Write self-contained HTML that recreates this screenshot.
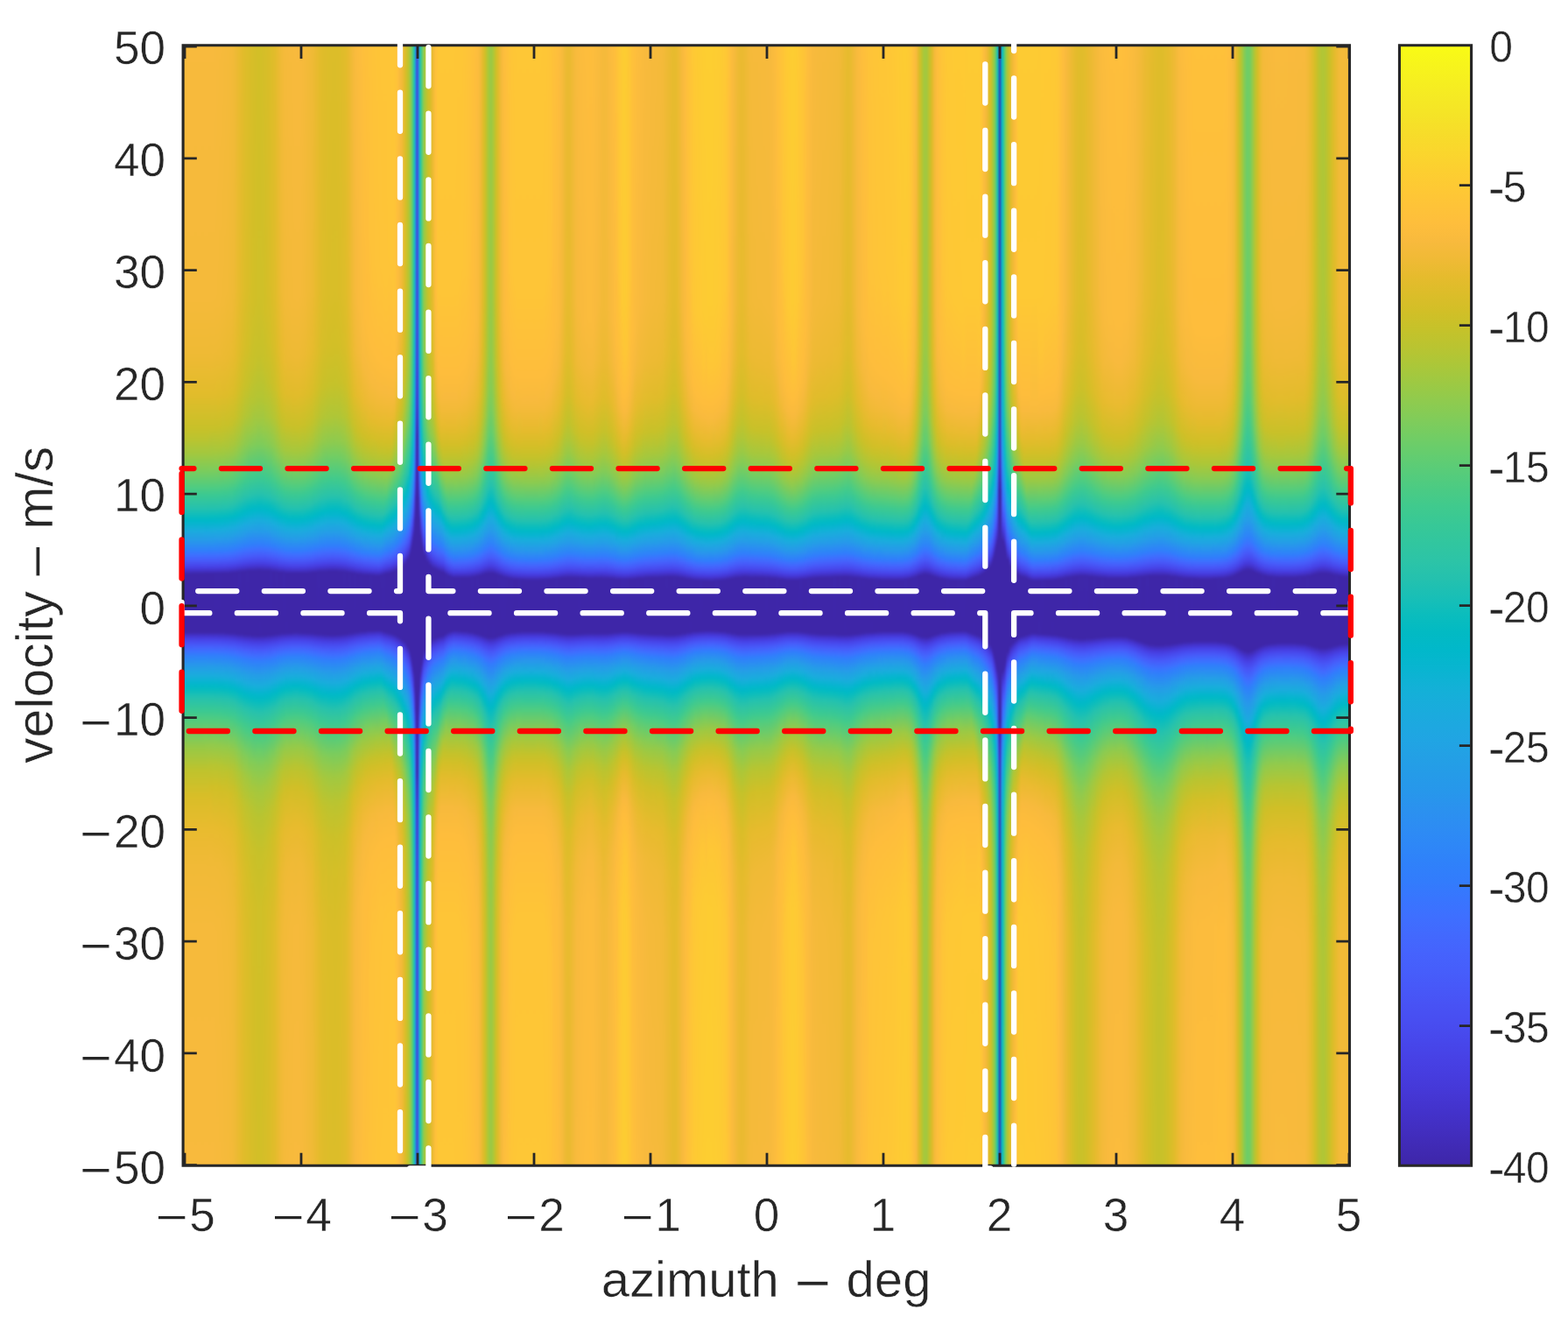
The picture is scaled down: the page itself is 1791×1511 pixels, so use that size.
<!DOCTYPE html>
<html lang="en"><head><meta charset="utf-8"><title>velocity vs azimuth</title>
<style>
html,body{margin:0;padding:0;background:#fff}
#fig{position:relative;width:1791px;height:1511px;overflow:hidden;background:#fff}
#hmc{position:absolute;overflow:hidden}
#hm{position:absolute;display:flex;filter:blur(1px)}
#hm i{display:block;height:100%;flex:none}
#hm .w{width:3px}
#hm .n{width:1px}
#cb{position:absolute;left:1598.45px;top:51.7px;width:82.15px;height:1279.5px;background:linear-gradient(#f9fb15 0.00%,#f7f51b 1.59%,#f6ef20 3.17%,#f5e924 4.76%,#f5e327 6.35%,#f7dc2a 7.94%,#fad62d 9.52%,#fccf30 11.11%,#fec934 12.70%,#fec338 14.29%,#febe3c 15.87%,#f8ba3d 17.46%,#f0ba36 19.05%,#e6bb2d 20.63%,#dcbd29 22.22%,#d1bf27 23.81%,#c5c22a 25.40%,#b9c431 26.98%,#abc739 28.57%,#9dc943 30.16%,#8fcb4e 31.75%,#81cc59 33.33%,#72cd64 34.92%,#64cd6f 36.51%,#57cc7a 38.10%,#4acb84 39.68%,#3fca8e 41.27%,#37c897 42.86%,#31c69f 44.44%,#2cc4a7 46.03%,#24c1ae 47.62%,#19bfb6 49.21%,#0bbdbd 50.79%,#02bac3 52.38%,#01b8ca 53.97%,#08b5d0 55.56%,#12b1d6 57.14%,#18addb 58.73%,#1ca9df 60.32%,#20a5e3 61.90%,#23a0e5 63.49%,#259be8 65.08%,#2797eb 66.67%,#2b91ef 68.25%,#2d8cf3 69.84%,#2e87f7 71.43%,#2f81fa 73.02%,#327cfc 74.60%,#3875fe 76.19%,#3e6fff 77.78%,#4269fe 79.37%,#4563fd 80.95%,#465efb 82.54%,#4758f8 84.13%,#4852f4 85.71%,#484df0 87.30%,#4747eb 88.89%,#4741e5 90.48%,#463cde 92.06%,#4537d5 93.65%,#4332cb 95.24%,#422ec0 96.83%,#402ab4 98.41%,#3e26a8 100.00%)}
#ov{position:absolute;left:0;top:0}
text{font-family:"Liberation Sans",Arial,Helvetica,sans-serif;fill:#262626;stroke:#fff;stroke-width:.5px;white-space:pre}
</style></head>
<body>
<div id="fig">
<div id="hmc" style="left:209px;top:52px;width:1333px;height:1279px"><div id="hm" style="left:-4px;top:-4px;width:1341px;height:1287px"><i style="width:7px;background:linear-gradient(#f8ba3d 0,#f5ba3a 294px,#efba35 355px,#e2bc2b 402px,#c8c129 441px,#bac430 454px,#a2c83f 470px,#7acc5d 490px,#4ecc82 509px,#3cc991 517px,#26c2ad 532px,#01bac5 545px,#02b7cb 548px,#1aacdd 558px,#259ce7 568px,#307ffb 581px,#3e70ff 586px,#475cfa 592px,#4744e8 599px,#4538d8 602px,#3e26a8 608px,#3e26a8 623px,#3e26a8 674px,#4536d5 679px,#4746ea 683px,#4757f8 688px,#3c71ff 696px,#2f80fa 701px,#259de7 714px,#19addc 724px,#07b5d0 731px,#01b9c6 736px,#08bcbe 740px,#25c2ae 749px,#3bc992 764px,#4fcc80 773px,#98c946 806px,#bfc32d 832px,#d9be28 862px,#e9bb2f 899px,#f1ba37 941px,#f6ba3b 1009px,#f8ba3d 100%)"></i><i class="w" style="background:linear-gradient(#f8ba3d 0,#f5ba3a 294px,#efba35 355px,#e2bc2b 402px,#c8c129 441px,#bac430 454px,#a2c83f 470px,#7acc5d 490px,#4ecc82 509px,#3cc991 517px,#26c2ad 532px,#01bac5 545px,#02b7cb 548px,#1aacdd 558px,#259ce7 568px,#307ffb 581px,#3e70ff 586px,#475cfa 592px,#4744e8 599px,#4538d8 602px,#3e26a8 608px,#3e26a8 623px,#3e26a8 674px,#4536d5 679px,#4746ea 683px,#4757f8 688px,#3c71ff 696px,#2f80fa 701px,#259de7 714px,#19addc 724px,#07b5d0 731px,#01b9c6 736px,#08bcbe 740px,#25c2ae 749px,#3bc992 764px,#4fcc80 773px,#98c946 806px,#bfc32d 832px,#d9be28 862px,#e9bb2f 899px,#f1ba37 941px,#f6ba3b 1009px,#f8ba3d 100%)"></i><i class="w" style="background:linear-gradient(#f8ba3d 0,#f5ba3a 294px,#efba35 355px,#e2bc2b 402px,#c8c129 441px,#bac430 454px,#a2c83f 470px,#7acc5d 490px,#4ecc82 509px,#3cc991 517px,#26c2ad 532px,#01bac5 545px,#02b7cb 548px,#1aacdd 558px,#259ce7 568px,#307ffb 581px,#3e70ff 586px,#475cfa 592px,#4744e8 599px,#4538d8 602px,#3e26a8 608px,#3e26a8 623px,#3e26a8 674px,#4536d5 679px,#4746ea 683px,#4757f8 688px,#3c71ff 696px,#2f80fa 701px,#259de7 714px,#19addc 724px,#07b5d0 731px,#01b9c6 736px,#08bcbe 740px,#25c2ae 749px,#3bc992 764px,#4fcc80 773px,#98c946 806px,#bfc32d 832px,#d9be28 862px,#e9bb2f 899px,#f1ba37 941px,#f6ba3b 1009px,#f8ba3d 100%)"></i><i class="w" style="background:linear-gradient(#f8ba3d 0,#f5ba3a 294px,#efba35 355px,#e2bc2b 402px,#c8c129 441px,#bac430 454px,#a2c83f 470px,#7acc5d 490px,#4ecc82 509px,#3cc991 517px,#26c2ad 532px,#01bac5 545px,#02b7cb 548px,#1aacdd 558px,#259ce7 568px,#307ffb 581px,#3e70ff 586px,#475cfa 592px,#4744e8 599px,#4538d8 602px,#3e28ac 607px,#3e26a8 608px,#3e26a8 623px,#3e26a8 674px,#4536d5 679px,#4746ea 683px,#4757f8 688px,#3c71ff 696px,#2f80fa 701px,#259de7 714px,#19addc 724px,#07b5d0 731px,#01b9c6 736px,#08bcbe 740px,#25c2ae 749px,#3bc992 764px,#4fcc80 773px,#98c946 806px,#bfc32d 832px,#d9be28 862px,#e9bb2f 899px,#f1ba37 941px,#f6ba3b 1009px,#f8ba3d 100%)"></i><i class="w" style="background:linear-gradient(#f8ba3d 0,#f5ba3a 294px,#efba35 355px,#e2bc2b 402px,#c8c129 441px,#bac430 454px,#a2c83f 470px,#7acc5d 490px,#4ecc82 509px,#3cc991 517px,#26c2ad 532px,#01bac5 545px,#02b7cb 548px,#1aacdd 558px,#259ce7 568px,#307ffb 581px,#3e70ff 586px,#475cfa 592px,#4743e8 599px,#4538d8 602px,#3e28ac 607px,#3e26a8 608px,#3e26a8 623px,#3e26a8 674px,#4433cd 678px,#4746ea 683px,#465efb 690px,#3c71ff 696px,#2f80fa 701px,#259de7 714px,#19addc 724px,#07b5d0 731px,#01b9c6 736px,#08bcbe 740px,#25c2ae 749px,#3bc992 764px,#4fcc80 773px,#98c946 806px,#bfc32d 832px,#d9be28 862px,#e9bb2f 899px,#f1ba37 941px,#f6ba3b 1009px,#f8ba3d 100%)"></i><i class="w" style="background:linear-gradient(#f8ba3d 0,#f5ba3a 294px,#efba35 355px,#e2bc2b 402px,#c8c129 441px,#bac430 454px,#a2c83f 470px,#7acc5d 490px,#4ecc82 509px,#3cc991 517px,#26c2ad 532px,#01bac5 545px,#02b7cb 548px,#1aacdd 558px,#259ce7 568px,#307ffb 581px,#3e70ff 586px,#475cfa 592px,#4743e8 599px,#4538d8 602px,#3e28ac 607px,#3e26a8 608px,#3e26a8 623px,#3e26a8 674px,#4433cd 678px,#4745ea 683px,#465efb 690px,#3c71ff 696px,#2e83f9 702px,#259de7 714px,#19addc 724px,#07b5d0 731px,#01b9c6 736px,#08bcbe 740px,#25c2ae 749px,#3bc992 764px,#4fcc80 773px,#98c946 806px,#bfc32d 832px,#d9be28 862px,#e9bb2f 899px,#f1ba37 941px,#f6ba3b 1009px,#f8ba3d 100%)"></i><i class="w" style="background:linear-gradient(#f8ba3d 0,#f5ba3a 294px,#efba35 355px,#e2bc2b 402px,#c8c129 441px,#bac430 454px,#a2c83f 470px,#7acc5d 490px,#4ecc82 509px,#3cc991 517px,#26c2ad 532px,#01bac5 545px,#02b7cb 548px,#1aacdd 558px,#259ce7 568px,#307ffb 581px,#3e70ff 586px,#475cfa 592px,#4743e8 599px,#4538d8 602px,#3e28ac 607px,#3e26a8 608px,#3e26a8 623px,#3e26a8 674px,#4536d4 679px,#4745ea 683px,#465efb 690px,#3c71ff 696px,#2e83f9 702px,#259de7 714px,#19addc 724px,#07b5d0 731px,#01b9c6 736px,#08bcbe 740px,#25c2ae 749px,#3bc992 764px,#4fcc80 773px,#98c946 806px,#bfc32d 832px,#d9be28 862px,#e9bb2f 899px,#f1ba37 941px,#f6ba3b 1009px,#f8ba3d 100%)"></i><i class="w" style="background:linear-gradient(#f8ba3d 0,#f5ba3a 294px,#efba35 355px,#e2bc2b 402px,#c8c129 441px,#bac430 454px,#a2c83f 470px,#7acc5d 490px,#4ecc82 509px,#3cc991 517px,#26c2ad 532px,#01bac5 545px,#02b7cb 548px,#1aacdd 558px,#259ce7 568px,#307ffb 581px,#3e6fff 586px,#475cfa 592px,#484bef 597px,#4538d8 602px,#3e28ac 607px,#3e26a8 608px,#3e26a8 623px,#3e26a8 674px,#4536d4 679px,#4745ea 683px,#465efb 690px,#3c71ff 696px,#2e83f9 702px,#259de7 714px,#19addc 724px,#07b5d0 731px,#01b9c6 736px,#08bcbe 740px,#25c2ae 749px,#3bc992 764px,#4fcc80 773px,#98c946 806px,#bfc32d 832px,#d9be28 862px,#e9bb2f 899px,#f1ba37 941px,#f6ba3b 1009px,#f8ba3d 100%)"></i><i class="w" style="background:linear-gradient(#f8ba3d 0,#f5ba3a 294px,#efba35 355px,#e2bc2b 402px,#c8c129 441px,#bac430 454px,#a2c83f 470px,#7acc5d 490px,#4ecc82 509px,#3cc991 517px,#26c2ad 532px,#01bac5 545px,#02b7cb 548px,#1ca9e0 560px,#259ce7 568px,#307ffb 581px,#3e6fff 586px,#475cfa 592px,#484bef 597px,#463cde 601px,#3e27ac 607px,#3e26a8 608px,#3e26a8 623px,#3e26a8 674px,#463adb 680px,#4849ed 684px,#465efb 690px,#3c71ff 696px,#2e83f9 702px,#259de7 714px,#19addc 724px,#07b5d0 731px,#01b9c6 736px,#08bcbe 740px,#25c2ae 749px,#3bc992 764px,#4fcc81 773px,#72cd63 788px,#98c946 806px,#bfc32d 832px,#d9be28 862px,#e9bb2f 899px,#f1ba37 941px,#f6ba3b 1009px,#f8ba3d 100%)"></i><i class="w" style="background:linear-gradient(#f8ba3d 0,#f5ba3a 294px,#efba35 355px,#e2bc2b 402px,#c8c129 441px,#bac430 454px,#a2c83f 470px,#7acc5d 490px,#4ecc82 509px,#3cc991 517px,#23c1af 533px,#01bac5 545px,#02b7cb 548px,#1ca9e0 560px,#259ce7 568px,#307efb 581px,#3e6fff 586px,#475cfa 592px,#4747eb 598px,#463bde 601px,#3e27ac 607px,#3e26a8 608px,#3e26a8 623px,#3e26a8 674px,#463adb 680px,#4849ed 684px,#465efb 690px,#3c71ff 696px,#317dfc 700px,#269be8 713px,#19addc 724px,#07b5d0 731px,#01b9c6 736px,#08bcbf 740px,#25c2ae 749px,#3bc992 764px,#4fcc81 773px,#95ca49 804px,#bfc32d 832px,#d9be28 862px,#e9bb2f 899px,#f1ba37 942px,#f6ba3b 1009px,#f8ba3d 100%)"></i><i class="w" style="background:linear-gradient(#f8ba3d 0,#f5ba3a 294px,#eeba34 360px,#e2bc2b 402px,#c8c129 441px,#a2c83f 470px,#7dcc5c 489px,#4dcc82 509px,#3ac993 518px,#23c1af 533px,#09bdbe 541px,#01bac5 545px,#02b7cb 548px,#1aacdd 558px,#269ae9 569px,#307efb 581px,#3e6fff 586px,#475cfa 592px,#4747eb 598px,#4538d7 602px,#3e27ac 607px,#3e26a8 608px,#3e26a8 623px,#3e26a8 674px,#4536d4 679px,#4849ed 684px,#465efb 690px,#3d71ff 696px,#317dfc 700px,#269be8 713px,#19addc 724px,#07b5d0 731px,#01b9c6 736px,#08bcbf 740px,#22c1b0 748px,#3bc992 764px,#4fcc81 773px,#91ca4c 802px,#b8c431 826px,#d0bf27 850px,#dcbd29 867px,#e8bb2e 896px,#f0ba36 933px,#f6ba3b 1009px,#f8ba3d 100%)"></i><i class="w" style="background:linear-gradient(#f8ba3d 0,#f5ba3a 292px,#efba35 354px,#e1bc2b 404px,#c8c129 441px,#a3c83e 469px,#7fcc5a 488px,#4dcc82 509px,#3fca8e 515px,#23c1af 533px,#09bdbe 541px,#01bac5 545px,#02b7cb 548px,#1aacdd 558px,#2798ea 570px,#2f81fa 580px,#3e6fff 586px,#475cfa 592px,#4747eb 598px,#4538d7 602px,#3e27ab 607px,#3e26a8 608px,#3e26a8 623px,#3e26a8 674px,#4639da 680px,#4849ed 684px,#465dfb 690px,#3d71ff 696px,#317dfc 700px,#2699ea 712px,#1babde 723px,#05b6ce 732px,#01b9c6 736px,#05bbc1 739px,#22c1b0 748px,#3bc992 764px,#4ecc81 773px,#91ca4d 802px,#b7c531 826px,#d0bf27 850px,#e8bb2e 896px,#f1ba37 942px,#f6ba3b 1012px,#f8ba3d 100%)"></i><i class="w" style="background:linear-gradient(#f7ba3d 0,#f5ba3a 287px,#efba35 352px,#e2bc2b 401px,#c7c129 441px,#a5c83d 468px,#83cc57 486px,#4dcc82 509px,#3dca90 516px,#23c1af 533px,#06bcc0 542px,#01b9c6 545px,#02b7cb 548px,#19addc 557px,#23a1e5 565px,#2f81fa 580px,#3e6fff 586px,#475cfa 592px,#4743e7 599px,#4434cf 603px,#3e27aa 607px,#3e26a8 674px,#4536d3 679px,#4745e9 683px,#475af9 689px,#3d70ff 696px,#317dfc 700px,#23a0e5 716px,#18aedb 725px,#05b6ce 732px,#01b9c7 736px,#0abdbd 741px,#24c1ae 749px,#3eca8f 766px,#4ecc81 773px,#8ecb4e 801px,#b6c532 825px,#d0c027 850px,#e8bb2e 897px,#f1ba37 944px,#f6ba3b 1019px,#f7ba3d 100%)"></i><i class="w" style="background:linear-gradient(#f7ba3c 0,#f4ba39 299px,#eeba34 356px,#debd29 409px,#c8c129 440px,#a9c73a 465px,#86cb54 484px,#4fcc81 508px,#3bc992 517px,#25c2ae 532px,#0bbdbd 540px,#01b9c6 545px,#07b5cf 550px,#19addc 557px,#249fe6 566px,#2f80fa 580px,#3f6eff 586px,#4855f6 594px,#473ee2 600px,#4537d6 602px,#3e27aa 607px,#3e26a8 674px,#4539d9 680px,#4848ec 684px,#475af9 689px,#3d70ff 696px,#307ffb 701px,#249ee6 715px,#1aacdd 724px,#08b4d0 731px,#01b9c7 736px,#07bcbf 740px,#24c1af 749px,#3cc991 765px,#4ecc82 773px,#93ca4a 804px,#b9c430 828px,#d0bf27 851px,#e7bb2d 895px,#f0ba36 938px,#f5ba3a 1002px,#f7ba3c 100%)"></i><i class="w" style="background:linear-gradient(#f7ba3c 0,#f4ba39 290px,#edba33 359px,#e1bc2b 401px,#c8c129 439px,#b8c431 454px,#a3c83e 468px,#88cb53 483px,#4ecc81 508px,#3eca8f 515px,#24c1ae 532px,#0abdbd 540px,#01b9c6 545px,#01b8ca 547px,#1aabde 558px,#269be8 568px,#317dfc 581px,#3f6eff 586px,#465efb 591px,#4742e6 599px,#4537d5 602px,#3e26a9 607px,#3e26a8 674px,#463cdf 681px,#4848ec 684px,#475cfa 690px,#3e6fff 696px,#307ffb 701px,#269ae9 713px,#1aacdd 724px,#02b7cb 734px,#01bac5 737px,#09bcbe 741px,#23c1af 749px,#3dca90 766px,#4fcc80 774px,#93ca4b 804px,#b6c532 826px,#d0bf27 852px,#e7bb2d 897px,#f0ba36 942px,#f5ba3a 1014px,#f7ba3c 100%)"></i><i class="w" style="background:linear-gradient(#f6ba3b 0,#f3ba38 298px,#ecba32 361px,#dfbc2a 404px,#c5c22a 441px,#b7c532 454px,#9fc941 470px,#89cb53 482px,#4dcc82 508px,#3fca8e 514px,#21c1b1 533px,#07bcbf 541px,#01b9c7 545px,#08b4d0 550px,#18aedb 556px,#23a0e5 565px,#317dfc 581px,#3d70ff 585px,#465dfb 591px,#4849ed 597px,#463adb 601px,#3e26a8 607px,#3e26a8 674px,#463cde 681px,#4747eb 684px,#475cfa 690px,#3b72ff 697px,#2f81fa 702px,#249fe6 716px,#19addc 725px,#07b5cf 732px,#01b9c6 737px,#08bcbe 741px,#22c1b0 749px,#3eca8f 767px,#4ecc81 774px,#92ca4c 804px,#b7c531 828px,#d2bf27 855px,#e7bb2d 899px,#f0ba36 947px,#f4ba39 1004px,#f6ba3b 100%)"></i><i class="w" style="background:linear-gradient(#f5ba3b 0,#f3ba38 284px,#ebba31 362px,#dfbc2a 402px,#c8c129 437px,#a8c73b 464px,#7acc5d 488px,#4ecc81 507px,#3bc992 516px,#25c2ae 531px,#0bbdbc 539px,#01b9c6 544px,#07b5cf 549px,#19addc 556px,#269ae9 568px,#307ffb 580px,#3e70ff 585px,#4759f9 592px,#4848ec 597px,#4536d3 602px,#3e26a8 607px,#3e26a8 674px,#3e27ab 675px,#4434cf 679px,#4742e7 683px,#4758f8 689px,#3c71ff 697px,#317dfc 701px,#2699ea 713px,#18aedb 726px,#08b5d0 732px,#01b9c7 737px,#07bcbf 741px,#24c1af 750px,#3fca8e 768px,#4dcc82 774px,#96ca48 807px,#bbc42f 832px,#c8c129 844px,#d7be28 864px,#e7bb2d 902px,#f0ba36 954px,#f4ba39 1024px,#f5ba3b 100%)"></i><i class="w" style="background:linear-gradient(#f5ba3a 0,#f2ba37 288px,#ebba31 357px,#debd29 402px,#c8c129 436px,#a8c73b 463px,#86cb55 482px,#4fcc80 506px,#3dca90 514px,#26c2ad 530px,#07bcbf 540px,#01b9c7 544px,#08b5d0 549px,#18aedb 555px,#269be8 567px,#2f80fa 579px,#3e6fff 585px,#475cfa 591px,#4743e8 598px,#4435d1 602px,#3e26a8 607px,#3e26a8 674px,#3e27a9 675px,#4537d5 680px,#4742e6 683px,#465dfb 691px,#3d70ff 697px,#307ffb 702px,#259ce7 715px,#19addc 726px,#09b4d1 732px,#01b9c6 738px,#0bbdbc 743px,#25c2ae 751px,#3eca8f 768px,#4ecc81 775px,#8fcb4e 804px,#a2c83f 815px,#bdc32e 835px,#d4bf27 861px,#e7bb2d 905px,#eeba35 952px,#f3ba38 1018px,#f5ba3a 100%)"></i><i class="w" style="background:linear-gradient(#f4ba39 0,#f0ba36 305px,#eabb30 356px,#ddbd29 401px,#c5c22a 437px,#a1c840 466px,#74cd62 489px,#44cb8a 510px,#2cc4a7 526px,#1cc0b4 533px,#03bbc2 541px,#01b8c8 544px,#19addc 555px,#259ce7 566px,#317dfc 580px,#3d71ff 584px,#465efb 590px,#484aee 596px,#463bdd 600px,#3e27ac 606px,#3e26a8 607px,#3e26a8 675px,#4536d3 680px,#4848ec 685px,#475cfa 691px,#3b72ff 698px,#2f81fa 703px,#269be8 715px,#1babde 725px,#02b7cb 736px,#01bac5 739px,#09bdbe 743px,#23c1af 751px,#3eca8f 769px,#4ecc81 776px,#94ca4a 808px,#b8c431 832px,#d0bf27 858px,#e5bb2c 903px,#edba34 952px,#f2ba37 1018px,#f4ba39 100%)"></i><i class="w" style="background:linear-gradient(#f1ba37 0,#efba35 280px,#e7bb2d 359px,#dbbd28 399px,#c8c129 430px,#a9c73a 458px,#91ca4d 473px,#4ecc81 504px,#3bc992 513px,#24c1af 529px,#08bcbf 538px,#01b9c6 542px,#01b8ca 544px,#1aacdd 555px,#23a0e5 563px,#2f80fa 578px,#3e6fff 584px,#4756f7 592px,#4745e9 597px,#4536d4 601px,#3e26a9 606px,#3e26a8 675px,#4538d7 681px,#4747eb 685px,#4758f8 690px,#3d71ff 698px,#307ffb 703px,#249fe6 718px,#17aedb 728px,#02b7cb 737px,#01bac5 740px,#09bdbe 744px,#25c2ae 753px,#44cb8a 773px,#7ccc5c 798px,#92ca4c 809px,#aec637 827px,#c8c129 852px,#debd29 890px,#e9bb2f 934px,#efba35 1002px,#f1ba37 100%)"></i><i class="w" style="background:linear-gradient(#edba34 0,#eabb30 298px,#e2bc2b 362px,#d5be28 402px,#c3c22b 430px,#a2c83f 459px,#8fcb4e 471px,#4ecc81 502px,#3dc990 510px,#27c2ac 526px,#07bcbf 537px,#01b9c6 541px,#01b8ca 543px,#1aacdd 554px,#23a0e5 562px,#307ffb 578px,#3d70ff 583px,#4758f8 591px,#4747eb 596px,#4538d8 600px,#3e26a8 606px,#3e26a8 675px,#3e27aa 676px,#4537d5 681px,#4745e9 685px,#4756f7 690px,#4369fe 696px,#3c72ff 699px,#317dfc 703px,#269ae9 716px,#18aedb 729px,#02b7cb 738px,#01b9c6 741px,#28c2ab 756px,#44cb8a 775px,#6fcd65 795px,#8ecb4f 810px,#acc738 830px,#c8c129 858px,#ddbd29 900px,#e7bb2d 949px,#ebba31 1001px,#edba34 100%)"></i><i class="w" style="background:linear-gradient(#e9bb2f 0,#e6bb2d 284px,#dfbc2a 351px,#d3bf27 394px,#bfc32d 427px,#aec637 445px,#9ac945 460px,#7fcc5a 476px,#4fcc80 499px,#3eca8f 507px,#2bc3a8 522px,#01bac6 539px,#02b7cb 542px,#19addc 552px,#269be8 564px,#317dfc 578px,#3f6eff 583px,#475cfa 589px,#4745e9 596px,#4537d5 600px,#3e27ab 605px,#3e26a8 676px,#4538d8 682px,#4747eb 686px,#4757f8 691px,#3e70ff 699px,#2f81fa 705px,#269ae9 717px,#1babde 728px,#01b8ca 740px,#01b9c6 742px,#02bbc3 744px,#2ac3a9 759px,#3fca8e 775px,#4ecc81 782px,#89cb53 811px,#acc738 835px,#c9c129 868px,#dabd28 908px,#e3bc2c 959px,#e7bb2d 1019px,#e9bb2f 100%)"></i><i class="w" style="background:linear-gradient(#e4bb2c 0,#e1bc2b 283px,#dabd28 350px,#cfc028 390px,#c5c22a 410px,#b5c533 432px,#95ca49 459px,#7ccc5c 474px,#4ecc81 497px,#3eca8f 505px,#24c1af 524px,#09bdbe 533px,#01b9c6 538px,#06b5cf 543px,#1caadf 553px,#2699e9 564px,#317dfc 577px,#3e6fff 582px,#475af9 589px,#4747eb 595px,#4435d2 600px,#3e26a8 605px,#3e26a8 676px,#4537d5 682px,#4745e9 686px,#475cfa 693px,#3d71ff 700px,#307ffb 705px,#21a4e3 724px,#1aacdd 730px,#05b6ce 739px,#01bac5 744px,#08bcbf 748px,#25c2ae 758px,#45cb89 780px,#79cc5e 806px,#a7c73c 836px,#c5c22a 871px,#d4bf27 906px,#ddbd29 951px,#e2bc2b 1021px,#e4bb2c 100%)"></i><i class="w" style="background:linear-gradient(#e0bc2a 0,#ddbd29 282px,#d6be28 348px,#c9c129 393px,#b5c533 426px,#92ca4b 457px,#78cc5f 473px,#4dcc82 495px,#3cc991 504px,#28c2ab 520px,#01bac5 536px,#03b7cc 540px,#1aabde 551px,#269be8 562px,#2f80fa 575px,#3d70ff 581px,#475bfa 588px,#4745e9 595px,#4537d6 599px,#3e26a8 605px,#3e26a8 676px,#3e27a9 677px,#4539d9 683px,#4747eb 687px,#4660fc 695px,#3c72ff 701px,#317dfc 705px,#259ce7 720px,#19addb 732px,#02b7cb 742px,#01b9c6 745px,#07bcbf 749px,#29c3aa 762px,#44cb89 782px,#82cc58 814px,#a5c83e 839px,#c0c32d 871px,#d1bf27 911px,#d9be28 953px,#debd29 1022px,#e0bc2a 100%)"></i><i class="w" style="background:linear-gradient(#ddbd29 0,#dabd28 278px,#d2bf27 352px,#c5c22a 394px,#b0c636 427px,#89cb52 460px,#3eca8f 501px,#29c3aa 518px,#05bbc1 532px,#01b9c6 535px,#05b6ce 540px,#1aabde 550px,#23a0e5 558px,#307ffb 575px,#3f6eff 581px,#475af9 588px,#4747eb 594px,#4536d3 599px,#3e27aa 604px,#3e26a8 677px,#4537d7 683px,#4742e6 686px,#475cfa 694px,#3e70ff 701px,#317efb 706px,#23a1e5 724px,#19addc 733px,#04b6cd 742px,#01b9c6 746px,#0bbdbc 752px,#25c2ae 761px,#45cb89 784px,#84cc57 818px,#a4c83e 842px,#bcc42f 871px,#cbc129 903px,#d4bf27 941px,#dabd28 1003px,#ddbd29 100%)"></i><i class="w" style="background:linear-gradient(#dabd28 0,#d7be28 277px,#d0c028 345px,#c4c22b 388px,#adc638 426px,#9cc944 443px,#86cb54 459px,#40ca8d 498px,#25c2ae 519px,#07bcbf 530px,#01b9c6 534px,#05b6ce 539px,#18aedb 547px,#22a2e4 556px,#317dfc 575px,#3e70ff 580px,#475cfa 587px,#4745ea 594px,#4435d1 599px,#3e26a8 604px,#3e26a8 677px,#4536d5 683px,#4744e8 687px,#4854f6 692px,#4369fe 699px,#3c71ff 702px,#307ffb 707px,#269be8 721px,#1aacdd 733px,#04b6cd 743px,#01b9c7 747px,#06bcc0 751px,#26c2ad 763px,#45cb89 786px,#73cd62 811px,#9fc942 841px,#bbc430 875px,#cbc129 914px,#d3bf27 956px,#d8be28 1027px,#dabd28 100%)"></i><i class="w" style="background:linear-gradient(#d7be28 0,#d3bf27 296px,#c7c12a 371px,#b6c532 409px,#9cc944 440px,#80cc59 461px,#3eca8f 498px,#25c2ae 518px,#07bcbf 529px,#01b9c6 533px,#03b7cc 537px,#19addc 547px,#23a1e5 556px,#307efb 574px,#3c71ff 579px,#465dfb 586px,#4848ec 593px,#4537d6 598px,#3e26a8 604px,#3e26a8 677px,#3e27ab 678px,#4536d3 683px,#4743e7 687px,#4756f7 693px,#3d70ff 702px,#317dfb 707px,#269ae9 721px,#18aedb 735px,#02b7cb 745px,#01b9c6 748px,#04bbc1 751px,#26c2ad 764px,#3fca8e 784px,#84cc56 823px,#abc739 857px,#b9c430 878px,#cac129 922px,#d3bf27 985px,#d7be28 100%)"></i><i class="w" style="background:linear-gradient(#d5be28 0,#d1bf27 293px,#c6c22a 366px,#b3c534 410px,#97ca48 442px,#7dcc5b 461px,#41ca8c 495px,#27c2ac 516px,#01bac5 532px,#01b8ca 535px,#18addb 546px,#259de7 558px,#327bfc 575px,#3d70ff 579px,#475af9 587px,#4744e8 594px,#4536d4 598px,#3e26a8 604px,#3e26a8 677px,#3e27a9 678px,#4538d8 684px,#4746ea 688px,#475bfa 695px,#3e6fff 702px,#317dfc 707px,#249ee6 724px,#19addc 735px,#03b7cc 745px,#01b9c6 749px,#09bdbe 754px,#28c2ab 766px,#42ca8b 787px,#81cc58 823px,#a4c83e 852px,#b9c430 883px,#c8c129 923px,#d1bf27 988px,#d5be28 100%)"></i><i class="w" style="background:linear-gradient(#d3bf27 0,#d0c028 289px,#c7c12a 357px,#b4c533 405px,#a2c840 430px,#7dcc5b 460px,#40ca8d 495px,#26c2ad 516px,#07bcbf 528px,#01b9c6 532px,#03b7cc 536px,#19addc 546px,#259be8 559px,#317dfc 574px,#3e70ff 579px,#4759f9 587px,#4747eb 593px,#4536d4 598px,#3e28ac 603px,#3e26a8 604px,#3e26a8 678px,#4435d1 683px,#4742e6 687px,#4758f8 694px,#3e6fff 702px,#307ffb 708px,#259ce7 723px,#18aedb 736px,#07b5d0 743px,#01b9c6 749px,#06bcc0 753px,#27c2ac 766px,#41ca8c 787px,#67cd6c 808px,#87cb54 828px,#a7c73c 857px,#b9c430 886px,#c8c129 929px,#d0c028 993px,#d3bf27 100%)"></i><i class="w" style="background:linear-gradient(#d3bf27 0,#d0c028 288px,#c7c12a 357px,#b4c533 405px,#a2c840 430px,#7dcc5b 460px,#40ca8d 495px,#26c2ad 516px,#07bcbf 528px,#01b9c6 532px,#03b7cc 536px,#19addc 546px,#259be8 559px,#317dfc 574px,#3e70ff 579px,#4759f9 587px,#4747eb 593px,#4536d4 598px,#3e28ac 603px,#3e26a8 604px,#3e26a9 678px,#4435d1 683px,#4742e6 687px,#4758f8 694px,#3e6fff 702px,#307ffb 708px,#259ce7 723px,#18aedb 736px,#07b5d0 743px,#01b9c6 749px,#06bcc0 753px,#27c2ac 766px,#41ca8c 787px,#6ccd68 811px,#87cb54 828px,#a6c83d 856px,#b9c430 886px,#c8c129 929px,#d0c028 993px,#d3bf27 100%)"></i><i class="w" style="background:linear-gradient(#d5be28 0,#d0c028 304px,#c6c22a 366px,#b2c534 410px,#97ca48 442px,#7dcc5b 461px,#3fca8e 496px,#27c2ac 516px,#01bac5 532px,#04b6cd 537px,#1babde 548px,#269ae9 560px,#327bfc 575px,#3d70ff 579px,#475af9 587px,#4744e8 594px,#4536d4 598px,#3e26a8 604px,#3e26a8 677px,#3e27a9 678px,#4538d8 684px,#4746ea 688px,#475bfa 695px,#3e6fff 702px,#317dfc 707px,#269be8 722px,#19addc 735px,#03b7cc 745px,#01b9c6 749px,#09bdbe 754px,#28c2ab 766px,#3dca90 784px,#82cc57 824px,#a3c83f 851px,#b9c430 883px,#c9c129 928px,#d1bf27 990px,#d5be28 100%)"></i><i class="w" style="background:linear-gradient(#d7be28 0,#d2bf27 306px,#c7c12a 370px,#b7c531 406px,#a5c83e 431px,#81cc58 460px,#41ca8c 496px,#25c2ae 518px,#07bcbf 529px,#01b9c6 533px,#03b7cc 537px,#19addc 547px,#23a1e5 556px,#307ffb 574px,#3c71ff 579px,#465dfb 586px,#4744e9 594px,#4537d6 598px,#3e26a8 604px,#3e26a8 677px,#3e27ab 678px,#4536d3 683px,#4746eb 688px,#4759f9 694px,#4368fe 699px,#317efb 707px,#269ae9 721px,#18aedb 735px,#02b7cb 745px,#01b9c6 748px,#04bbc1 751px,#26c2ad 764px,#42ca8b 786px,#85cb55 824px,#aac73a 856px,#bbc42f 882px,#cbc129 927px,#d3bf27 988px,#d7be28 100%)"></i><i class="w" style="background:linear-gradient(#d9bd28 0,#d6be28 290px,#d0c028 344px,#c3c22b 390px,#acc739 427px,#88cb53 458px,#69cd6a 476px,#40ca8d 498px,#25c2ae 519px,#07bcbf 530px,#01b9c6 534px,#05b6ce 539px,#18aedb 547px,#249fe6 558px,#317dfc 575px,#3e70ff 580px,#475cfa 587px,#4746ea 594px,#4538d8 598px,#3e26a8 604px,#3e26a8 677px,#4537d5 683px,#4848ec 688px,#465dfb 695px,#3c71ff 702px,#307ffb 707px,#259be8 721px,#1aacdd 733px,#04b6cd 743px,#01b9c6 747px,#04bbc1 750px,#26c2ad 763px,#45cb89 786px,#7acc5d 815px,#a2c840 844px,#b9c431 872px,#c9c129 908px,#d2bf27 950px,#d7be28 1009px,#d9bd28 100%)"></i><i class="w" style="background:linear-gradient(#ddbd29 0,#dabd28 275px,#d4bf27 339px,#c7c12a 389px,#afc637 428px,#89cb52 460px,#3eca8f 501px,#24c1af 521px,#0abdbd 530px,#01bac5 535px,#03b7cc 539px,#18aedb 548px,#259de7 560px,#307ffb 575px,#3f6fff 581px,#475af9 588px,#4744e8 595px,#4536d4 599px,#3e27ab 604px,#3e26a8 677px,#4538d7 683px,#4746ea 687px,#4756f7 692px,#3d70ff 701px,#2f80fa 707px,#249ee6 722px,#1aacdd 732px,#02b7cb 743px,#01b9c6 746px,#09bdbe 751px,#25c2ae 761px,#45cb89 784px,#7dcc5b 814px,#a5c83e 843px,#bfc32e 876px,#cdc028 910px,#dabd28 1006px,#ddbd29 100%)"></i><i class="w" style="background:linear-gradient(#e0bc2a 0,#ddbd29 285px,#d6be28 349px,#c9c129 394px,#b2c635 430px,#8dcb4f 461px,#69cd6a 481px,#44cb8a 500px,#27c2ac 521px,#04bbc1 534px,#01b9c6 537px,#06b5cf 542px,#19addc 550px,#2798ea 564px,#307efb 576px,#4368fe 584px,#4756f7 590px,#4742e6 596px,#4537d7 599px,#3e26a8 605px,#3e26a8 676px,#3e27aa 677px,#4536d4 682px,#4744e8 686px,#4758f8 692px,#4564fd 696px,#3b72ff 701px,#317dfc 705px,#249ee6 721px,#1babde 730px,#03b6cc 741px,#01bac5 745px,#0abdbd 750px,#28c2ab 761px,#39c994 775px,#4dcc82 786px,#8bcb51 819px,#a9c73b 842px,#c4c22b 877px,#d1bf27 910px,#debd29 1018px,#e0bc2a 100%)"></i><i class="w" style="background:linear-gradient(#e5bb2d 0,#e2bc2b 291px,#dbbd28 353px,#d0c028 392px,#b9c430 429px,#9ac945 457px,#82cc58 472px,#4ecc81 498px,#3fca8e 505px,#29c3aa 522px,#01bac5 538px,#03b6cc 542px,#1aacdd 552px,#269ae9 564px,#2f81fa 576px,#3d70ff 582px,#465efb 588px,#4747ec 595px,#4639da 599px,#3e27a9 605px,#3e26a8 676px,#4538d7 682px,#4746ea 686px,#475af9 692px,#3c72ff 700px,#317dfc 704px,#23a0e5 721px,#19addc 730px,#02b7cb 740px,#01b9c6 743px,#05bbc1 746px,#2ac3a9 760px,#45cb89 779px,#83cc57 810px,#a8c73b 835px,#c5c22a 868px,#d6be28 907px,#e3bc2c 1009px,#e5bb2d 100%)"></i><i class="w" style="background:linear-gradient(#ecba32 0,#e9bb2f 287px,#e2bc2b 353px,#d3bf27 402px,#bdc32e 434px,#9bc944 462px,#89cb53 473px,#4ecc81 501px,#37c897 513px,#2bc3a8 523px,#01b9c6 540px,#02b7cb 543px,#19addc 553px,#259ce7 564px,#2f80fa 577px,#3e6fff 583px,#475af9 590px,#4746ea 596px,#4538d7 600px,#3e26a8 606px,#3e26a8 675px,#3e27a9 676px,#4639da 682px,#4848ec 686px,#475cfa 692px,#3c71ff 699px,#317dfc 703px,#259de7 718px,#1aacdd 728px,#01b8ca 739px,#01b9c7 741px,#07bcbf 745px,#25c2ae 755px,#3eca8f 773px,#4dcc82 780px,#88cb53 808px,#aec637 833px,#c8c129 861px,#dcbd29 903px,#e6bb2d 956px,#eabb30 1018px,#ecba32 100%)"></i><i class="w" style="background:linear-gradient(#f1ba37 0,#efba35 284px,#e7bb2d 360px,#dcbd29 397px,#d0bf27 419px,#c2c22b 436px,#b5c533 449px,#9dc943 466px,#76cc60 486px,#4ecc81 504px,#3eca8f 511px,#21c1b1 530px,#0abdbd 537px,#01b9c6 542px,#07b5d0 547px,#19addc 554px,#249ee6 564px,#2e83f9 577px,#3f6fff 584px,#475cfa 590px,#4848ec 596px,#4639da 600px,#3e26a8 606px,#3e26a8 675px,#4538d7 681px,#484aee 686px,#465efb 692px,#3d70ff 698px,#307ffb 703px,#259de7 717px,#1babde 726px,#02b7cb 737px,#01bac5 740px,#06bcc0 743px,#22c1b0 752px,#3fca8e 771px,#4fcc81 778px,#8fca4d 808px,#b8c531 835px,#d0bf27 863px,#e2bc2b 902px,#ebba31 948px,#f0ba36 1022px,#f1ba37 100%)"></i><i class="w" style="background:linear-gradient(#f5ba3a 0,#f2ba37 292px,#eabb30 363px,#ddbd29 404px,#c4c22a 439px,#a2c83f 466px,#89cb53 480px,#4ecc81 506px,#3eca8f 513px,#22c1b0 531px,#03bbc2 541px,#01b9c8 544px,#19addb 555px,#259ce7 566px,#307ffb 579px,#3d71ff 584px,#465efb 590px,#4746ea 597px,#4537d6 601px,#3e27ab 606px,#3e26a8 675px,#4639d9 681px,#4848ec 685px,#475cfa 691px,#3b72ff 698px,#2f81fa 703px,#269be8 715px,#18aedb 727px,#08b5d0 733px,#01b9c7 738px,#07bcbf 742px,#23c1af 751px,#3dc990 768px,#4fcc81 776px,#73cd62 792px,#99c946 810px,#b9c430 832px,#c8c129 846px,#d5be28 863px,#e6bb2d 902px,#eeba35 951px,#f3ba38 1012px,#f5ba3a 100%)"></i><i class="w" style="background:linear-gradient(#f6ba3b 0,#f3ba38 295px,#ecba32 360px,#e0bc2a 401px,#c8c129 438px,#a5c83d 466px,#8acb52 481px,#4ecc81 507px,#3eca8f 514px,#22c1b0 532px,#08bcbf 540px,#01b9c6 544px,#07b5d0 549px,#19addc 556px,#259de7 566px,#2f81fa 579px,#3e6fff 585px,#475cfa 591px,#4743e8 598px,#4435d1 602px,#3e26a8 607px,#3e26a9 675px,#4536d5 680px,#4849ed 685px,#465dfb 691px,#3d70ff 697px,#307ffb 702px,#259ce7 715px,#1ca9e0 723px,#02b7cb 735px,#01bac5 738px,#09bdbe 742px,#23c1af 750px,#44cb8a 770px,#8dcb50 802px,#b4c533 826px,#d0bf27 854px,#e3bc2c 888px,#eeba34 934px,#f3ba38 987px,#f6ba3b 100%)"></i><i class="w" style="background:linear-gradient(#f7ba3c 0,#f4ba39 291px,#edba33 359px,#e1bc2b 401px,#c8c129 439px,#a5c83d 467px,#7fcc5a 487px,#4dcc82 508px,#3cc991 516px,#26c2ad 531px,#01bac5 544px,#02b7cb 547px,#1aacdd 557px,#259ce7 567px,#307ffb 580px,#3e70ff 585px,#475af9 592px,#4848ec 597px,#4639d9 601px,#3e26a8 607px,#3e26a8 616px,#3e26a8 674px,#3e27ab 675px,#4537d6 680px,#484aee 685px,#465efb 691px,#3c71ff 697px,#2e83f9 703px,#269be8 714px,#19addc 725px,#07b5d0 732px,#01b9c6 737px,#08bcbf 741px,#22c1b0 749px,#3bc992 765px,#4fcc81 774px,#96ca48 806px,#bdc32e 832px,#d0bf27 852px,#d8be28 863px,#e8bb2e 900px,#f0ba36 942px,#f5ba3a 1013px,#f7ba3c 100%)"></i><i class="w" style="background:linear-gradient(#f7ba3c 0,#f4ba39 301px,#eeba34 357px,#e0bc2a 405px,#c8c129 440px,#a9c73a 465px,#8fcb4e 480px,#4fcc81 508px,#3bc992 517px,#22c1b0 533px,#05bbc1 542px,#01b9c6 545px,#07b5d0 550px,#18aedb 556px,#23a0e5 565px,#317dfc 581px,#3d70ff 585px,#465dfb 591px,#4849ed 597px,#4536d4 602px,#3e26a8 607px,#3e26a8 674px,#3e27ac 675px,#4538d7 680px,#4747eb 684px,#475cfa 690px,#3c72ff 697px,#2f81fa 702px,#23a1e5 717px,#19addc 725px,#02b7cb 734px,#01bac6 737px,#09bcbe 741px,#23c1af 749px,#3fca8e 767px,#4dcc82 773px,#93ca4a 804px,#b9c430 828px,#c7c129 841px,#d5be28 857px,#e8bb2e 898px,#f0ba36 937px,#f5ba3a 999px,#f7ba3c 100%)"></i><i class="w" style="background:linear-gradient(#f8ba3d 0,#f5ba3a 291px,#eeba34 359px,#e0bc2a 406px,#c7c129 441px,#a5c83d 468px,#83cc57 486px,#4fcc80 508px,#3dc990 516px,#25c2ae 532px,#08bcbe 541px,#01b9c6 545px,#07b5d0 550px,#19addc 557px,#269be8 568px,#317dfc 581px,#3d71ff 585px,#465efb 591px,#4849ed 597px,#463adb 601px,#3e26a8 607px,#3e26a8 674px,#463cde 681px,#4747eb 684px,#475cfa 690px,#3e6fff 696px,#2f81fa 702px,#269ae9 713px,#1aacdd 724px,#02b7cb 734px,#01bac5 737px,#26c2ad 750px,#3cc991 765px,#4ecc81 773px,#8ecb4e 801px,#b6c532 825px,#d0bf27 850px,#e7bb2d 893px,#efba36 934px,#f6ba3b 1014px,#f8ba3d 100%)"></i><i class="w" style="background:linear-gradient(#f8ba3d 0,#f5ba3a 293px,#eeba34 360px,#e1bc2b 404px,#c8c129 441px,#a3c83e 469px,#83cc57 486px,#4fcc80 508px,#3dc990 516px,#25c2ae 532px,#08bcbe 541px,#01b9c6 545px,#07b5d0 550px,#19addc 557px,#269be8 568px,#317dfc 581px,#3d71ff 585px,#465efb 591px,#4849ed 597px,#463adb 601px,#3e26a8 607px,#3e26a8 674px,#4538d8 680px,#4747eb 684px,#475cfa 690px,#3e6fff 696px,#2f81fa 702px,#269ae9 713px,#1aacdd 724px,#02b7cb 734px,#01bac5 737px,#24c1af 749px,#3cc991 765px,#4ecc81 773px,#96ca48 805px,#bbc42f 829px,#d0bf27 850px,#e8bb2e 896px,#efba36 933px,#f6ba3b 1010px,#f8ba3d 100%)"></i><i class="w" style="background:linear-gradient(#f8ba3d 0,#f5ba3a 288px,#eeba34 358px,#e2bc2b 401px,#ccc028 436px,#bbc42f 452px,#a8c73b 466px,#86cb54 484px,#4fcc81 508px,#3bc992 517px,#22c1b0 533px,#05bbc1 542px,#01b9c6 545px,#07b5d0 550px,#18aedb 556px,#22a2e4 564px,#317dfc 581px,#3d71ff 585px,#465dfb 591px,#4849ed 597px,#4536d4 602px,#3e26a8 607px,#3e26a8 674px,#3e28ac 675px,#463bde 681px,#4747eb 684px,#475cfa 690px,#3b72ff 697px,#2f81fa 702px,#23a1e5 717px,#19addc 725px,#02b7cb 734px,#01bac5 737px,#09bcbe 741px,#23c1af 749px,#3fca8e 767px,#4dcc82 773px,#92ca4c 803px,#b9c430 828px,#d0bf27 851px,#e7bb2d 894px,#f0ba36 936px,#f5ba3a 994px,#f8ba3d 100%)"></i><i class="w" style="background:linear-gradient(#f7ba3c 0,#f4ba39 289px,#edba33 358px,#e0bc2a 403px,#c8c129 439px,#a6c83c 466px,#83cc57 485px,#4dcc82 508px,#3ac993 517px,#23c1af 532px,#01bac5 544px,#02b7cb 547px,#1aacdd 557px,#249ee6 566px,#307ffb 580px,#3d70ff 585px,#475af9 592px,#4745e9 598px,#4536d3 602px,#3e26a8 607px,#3e26a8 616px,#3e26a8 674px,#3e27ab 675px,#463bdd 681px,#4746eb 684px,#475bfa 690px,#3c72ff 697px,#2f80fa 702px,#259de7 715px,#19addc 725px,#07b5d0 732px,#01b9c6 737px,#08bcbf 741px,#22c1b0 749px,#3bc992 765px,#4ecc81 774px,#76cc60 791px,#98ca47 807px,#b9c430 829px,#d0bf27 852px,#e7bb2d 897px,#f0ba36 943px,#f5ba3a 1017px,#f7ba3c 100%)"></i><i class="w" style="background:linear-gradient(#f5ba3a 0,#f2ba37 298px,#ecba32 355px,#e0bc2a 399px,#c8c129 437px,#b8c431 452px,#a1c840 468px,#85cb56 483px,#4ecc81 507px,#3cc991 515px,#22c1b0 532px,#08bcbf 540px,#01b9c6 544px,#07b5d0 549px,#19addc 556px,#249fe6 565px,#2f81fa 579px,#3e6fff 585px,#475cfa 591px,#4848ec 597px,#4539d9 601px,#3e26a8 607px,#3e26a8 674px,#3e27aa 675px,#463adc 681px,#4746ea 684px,#465efb 691px,#3d71ff 697px,#317dfc 701px,#249ee6 716px,#1aacdd 725px,#02b7cb 735px,#01bac5 738px,#09bdbe 742px,#23c1af 750px,#3dc990 767px,#4fcc81 775px,#93ca4a 806px,#bdc32e 834px,#d6be28 863px,#e7bb2d 903px,#eeba35 946px,#f3ba38 1003px,#f5ba3a 100%)"></i><i class="w" style="background:linear-gradient(#f3ba39 0,#f1ba36 284px,#eabb30 356px,#ddbd29 401px,#c5c22a 437px,#b4c534 453px,#9ec942 468px,#79cc5e 487px,#4dcc82 506px,#3eca8f 513px,#25c2ae 530px,#0bbdbc 538px,#01b9c6 543px,#02b7cb 546px,#1aacdd 556px,#249ee6 565px,#317dfc 580px,#3f6eff 585px,#4758f8 592px,#4747eb 597px,#4538d7 601px,#3e26a8 607px,#3e26a8 675px,#4536d4 680px,#4745e9 684px,#475af9 690px,#3e70ff 697px,#307efb 702px,#249fe6 717px,#19addc 726px,#07b5d0 733px,#01b9c7 738px,#02bbc3 740px,#26c2ad 752px,#3dc990 768px,#4fcc81 776px,#71cd64 791px,#96ca48 809px,#b9c430 833px,#c7c129 847px,#d5be28 865px,#e5bb2c 903px,#edba34 953px,#f2ba37 1024px,#f3ba39 100%)"></i><i class="w" style="background:linear-gradient(#f1ba37 0,#efba35 284px,#e8bb2e 355px,#dabd28 402px,#c5c22a 434px,#b7c532 448px,#9ec942 466px,#7acc5e 485px,#4fcc80 504px,#3fca8e 511px,#25c2ae 529px,#09bcbe 538px,#01bac5 542px,#02b7cb 545px,#1babde 556px,#259de7 565px,#307efb 579px,#3e70ff 584px,#475af9 591px,#4745ea 597px,#4434ce 602px,#3e27aa 606px,#3e26a8 612px,#3e26a8 675px,#4435d2 680px,#4744e8 684px,#475cfa 691px,#3c71ff 698px,#317dfc 702px,#259ce7 716px,#19addc 727px,#07b5d0 734px,#01b9c6 739px,#0abdbd 744px,#21c1b1 751px,#3bc992 768px,#4ecc81 777px,#91ca4d 808px,#b6c532 833px,#d0bf27 862px,#e2bc2b 901px,#ebba31 947px,#f0ba36 1022px,#f1ba37 100%)"></i><i class="w" style="background:linear-gradient(#efba35 0,#ecba32 289px,#e6bb2d 350px,#d8be28 399px,#c5c22a 430px,#aec637 452px,#9cc943 464px,#80cc5a 480px,#4dcc82 503px,#3eca8f 510px,#24c1ae 528px,#0bbdbc 536px,#01bac5 541px,#02b7cb 544px,#1caadf 556px,#269ae9 566px,#317dfc 579px,#3f6eff 584px,#475cfa 590px,#4848ec 596px,#4536d3 601px,#3e26a8 606px,#3e26a8 675px,#463bdd 682px,#4746ea 685px,#465dfb 692px,#3e70ff 698px,#2f81fa 704px,#23a0e5 719px,#1aacdd 727px,#01b8ca 738px,#01b9c6 740px,#0abdbd 745px,#23c1af 753px,#3fca8e 772px,#4fcc81 779px,#6fcd65 794px,#92ca4c 811px,#b4c533 835px,#ccc028 861px,#debd29 898px,#e8bb2e 945px,#edba33 1014px,#efba35 100%)"></i><i class="w" style="background:linear-gradient(#ebba31 0,#e8bb2e 291px,#e1bc2b 354px,#d3bf27 400px,#bbc42f 435px,#9ac945 462px,#73cd62 483px,#4dcc82 501px,#38c895 512px,#29c3aa 524px,#0abdbd 535px,#01b9c6 540px,#02b7cb 543px,#18aedb 552px,#259ce7 564px,#2f80fa 577px,#3e6fff 583px,#465dfb 589px,#4742e7 597px,#4435d0 601px,#3e26a8 606px,#3e26a8 675px,#3e27aa 676px,#4536d4 681px,#4744e9 685px,#475cfa 692px,#3c71ff 699px,#317dfc 703px,#259be8 717px,#1aacdd 728px,#01b7ca 739px,#01b9c7 741px,#04bbc1 744px,#2ac3a9 758px,#44cb8a 776px,#87cb54 808px,#aec637 834px,#c7c129 862px,#dcbd29 906px,#e9bb2f 1011px,#ebba31 100%)"></i><i class="w" style="background:linear-gradient(#e7bb2d 0,#e4bb2c 279px,#dcbd29 355px,#d0c028 395px,#bdc32e 426px,#9ac945 458px,#7ccc5c 476px,#4fcc81 498px,#40ca8d 505px,#28c2ab 523px,#09bdbe 534px,#01b9c6 539px,#01b8ca 541px,#1babde 553px,#2995ec 567px,#307ffb 577px,#4368fe 585px,#484ff2 593px,#4741e5 597px,#4536d5 600px,#3e27ab 605px,#3e26a8 676px,#4538d8 682px,#4746eb 686px,#465dfb 693px,#3e6fff 699px,#2f80fa 705px,#259de7 719px,#19addb 730px,#07b5d0 737px,#01bac5 743px,#08bcbe 747px,#27c2ac 758px,#3fca8e 776px,#4ecc81 783px,#88cb53 812px,#aec637 839px,#c5c22a 866px,#d7be28 906px,#e0bc2a 953px,#e5bb2c 1026px,#e7bb2d 100%)"></i><i class="w" style="background:linear-gradient(#e2bc2b 0,#dfbc2a 291px,#d8be28 352px,#ccc028 393px,#b5c533 430px,#97ca47 456px,#7ecc5b 472px,#42ca8b 502px,#27c2ac 522px,#01bac5 537px,#01b7ca 540px,#18aedb 550px,#249ee6 561px,#317dfc 577px,#3e6fff 582px,#465dfb 588px,#4747eb 595px,#4539d9 599px,#3e26a8 605px,#3e26a8 676px,#4537d6 682px,#4742e6 685px,#475cfa 693px,#3d71ff 700px,#307ffb 705px,#249fe6 721px,#17aeda 732px,#02b7cb 741px,#01b9c6 744px,#05bbc1 747px,#28c2ab 760px,#3eca8f 777px,#4ecc82 785px,#89cb52 816px,#acc739 842px,#c5c22a 874px,#d3bf27 908px,#e0bc2a 1009px,#e2bc2b 100%)"></i><i class="w" style="background:linear-gradient(#dfbc2a 0,#ddbd29 278px,#d6be28 347px,#c8c129 395px,#b4c534 427px,#93ca4a 456px,#6ecd66 478px,#41ca8c 501px,#25c2ae 522px,#01bac5 536px,#01b8ca 539px,#19addc 550px,#259de7 561px,#2f81fa 575px,#4368fe 584px,#4853f5 591px,#473ee2 597px,#4435d0 600px,#3e26a8 605px,#3e26a8 676px,#3e27ab 677px,#4536d4 682px,#4747ec 687px,#4564fd 696px,#3b72ff 701px,#317dfc 705px,#249ee6 721px,#19acdd 731px,#07b5d0 739px,#01b9c6 745px,#05bbc1 748px,#26c2ad 760px,#45cb89 782px,#82cc58 814px,#a6c83d 840px,#c1c32c 873px,#cfc028 905px,#ddbd29 1004px,#dfbc2a 100%)"></i><i class="w" style="background:linear-gradient(#debc2a 0,#dbbd28 288px,#d5be28 344px,#c8c129 391px,#b1c636 428px,#8ecb4e 458px,#4dcc82 494px,#38c896 506px,#27c2ac 520px,#02bbc3 534px,#01b9c8 537px,#17aeda 548px,#23a1e5 558px,#317dfc 576px,#3e70ff 581px,#4758f8 589px,#4745e9 595px,#4537d5 599px,#3e26a8 605px,#3e26a8 676px,#3e27a9 677px,#4539d9 683px,#4747eb 687px,#475af9 693px,#3c71ff 701px,#307ffb 706px,#259de7 721px,#19addc 732px,#01b7ca 743px,#01bac5 746px,#28c2ab 762px,#44cb89 783px,#83cc57 816px,#a6c83d 842px,#bec32e 871px,#cdc028 904px,#d7be28 951px,#dcbd29 1012px,#debc2a 100%)"></i><i class="w" style="background:linear-gradient(#ddbd29 0,#dabd28 287px,#d3bf27 349px,#c6c22a 393px,#aec637 430px,#8fca4d 456px,#73cd62 473px,#3eca8f 501px,#26c2ad 520px,#0abdbd 530px,#01bac5 535px,#01b7ca 538px,#19addc 549px,#269ae9 562px,#317dfc 576px,#3e6fff 581px,#465efb 587px,#4747ec 594px,#4536d4 599px,#3e28ac 604px,#3e26a8 605px,#3e26a8 677px,#4332ca 681px,#4743e7 686px,#4759f9 693px,#3d71ff 701px,#2f81fa 707px,#269be8 720px,#1babde 731px,#02b7cb 743px,#01b9c6 746px,#09bdbe 751px,#27c2ac 762px,#45cb89 784px,#83cc57 817px,#a0c941 838px,#bcc42f 870px,#cec028 911px,#dbbd28 1014px,#ddbd29 100%)"></i><i class="w" style="background:linear-gradient(#dcbd29 0,#d9be28 290px,#d2bf27 350px,#c6c22a 391px,#adc738 430px,#8ccb50 458px,#6dcd67 476px,#3fca8e 500px,#27c2ac 519px,#07bcbf 531px,#01b9c6 535px,#05b6ce 540px,#18aedb 548px,#259de7 560px,#307ffb 575px,#3f6fff 581px,#475af9 588px,#4744e8 595px,#4536d4 599px,#3e27ac 604px,#3e26a8 605px,#3e26a8 677px,#4435d1 682px,#4746ea 687px,#4756f7 692px,#3d70ff 701px,#2f80fa 707px,#2699ea 719px,#19addb 733px,#04b6cd 742px,#01b9c6 746px,#04bbc1 749px,#28c2ab 763px,#44cb89 784px,#79cc5e 812px,#9fc942 838px,#bdc42f 873px,#cdc028 911px,#d6be28 958px,#dbbd28 1035px,#dcbd29 100%)"></i><i class="w" style="background:linear-gradient(#dcbd29 0,#d9be28 282px,#d2bf27 348px,#c5c22a 392px,#b0c636 426px,#8fca4d 455px,#72cd63 473px,#45cb89 497px,#27c2ac 519px,#07bcbf 531px,#01b9c6 535px,#07b5d0 541px,#16afda 547px,#23a0e5 558px,#307ffb 575px,#3f6eff 581px,#475af9 588px,#4744e8 595px,#4536d4 599px,#3e27ac 604px,#3e26a8 605px,#3e26a8 677px,#4435d1 682px,#4746ea 687px,#4756f7 692px,#3d70ff 701px,#2f80fa 707px,#23a1e5 724px,#19addc 733px,#06b5cf 741px,#01b9c7 746px,#06bcc0 750px,#28c2ab 763px,#44cb8a 784px,#7acc5d 813px,#a2c840 841px,#bac430 869px,#ccc028 909px,#d4bf27 946px,#dabd28 1019px,#dcbd29 100%)"></i><i class="w" style="background:linear-gradient(#dcbd29 0,#d9be28 284px,#d3bf27 343px,#c6c22a 390px,#b1c636 425px,#8dcb4f 457px,#72cd63 473px,#3fca8e 500px,#29c3aa 518px,#05bbc1 532px,#01b9c6 535px,#05b6ce 540px,#18aedb 548px,#259de7 560px,#317dfc 576px,#3e6fff 581px,#465efb 587px,#4848ec 594px,#4536d4 599px,#3e28ac 604px,#3e26a8 605px,#3e26a8 677px,#4332ca 681px,#4743e7 686px,#4759f9 693px,#3d71ff 701px,#2f81fa 707px,#249ee6 722px,#1aacdd 732px,#02b7cb 743px,#01b9c6 746px,#04bbc1 749px,#2ac3a9 764px,#44cb89 784px,#7bcc5d 813px,#a0c941 839px,#b9c431 867px,#cbc129 905px,#d4bf27 945px,#dabd28 1017px,#dcbd29 100%)"></i><i class="w" style="background:linear-gradient(#ddbd29 0,#dabd28 285px,#d4bf27 343px,#c8c129 388px,#aec637 430px,#8ecb4e 457px,#6ecd66 476px,#44cb89 498px,#28c2ab 519px,#06bcc0 532px,#01b9c7 536px,#06b5cf 541px,#19addc 549px,#259ce7 561px,#317dfc 576px,#3e70ff 581px,#475bfa 588px,#4745e9 595px,#4537d6 599px,#3e26a8 605px,#3e26a8 676px,#3e27aa 677px,#4536d3 682px,#4747eb 687px,#475af9 693px,#3c71ff 701px,#307ffb 706px,#259de7 721px,#18aedb 733px,#03b7cc 742px,#01bac6 746px,#0abdbd 751px,#24c1af 760px,#3bc992 778px,#4dcc82 788px,#7acc5d 812px,#9fc942 837px,#bcc42f 870px,#cdc028 908px,#d6be28 952px,#dbbd28 1016px,#ddbd29 100%)"></i><i class="w" style="background:linear-gradient(#dfbc2a 0,#dcbd29 282px,#d5be28 348px,#cac129 388px,#b2c635 428px,#91ca4c 457px,#71cd64 476px,#3dca90 503px,#28c2ab 520px,#01bac5 536px,#01b7ca 539px,#18aedb 549px,#259de7 561px,#307ffb 576px,#3f6eff 582px,#4759f9 589px,#4746ea 595px,#4435d1 600px,#3e26a8 605px,#3e26a8 676px,#3e28ac 677px,#4537d5 682px,#4744e9 686px,#4758f8 692px,#3e70ff 700px,#317efb 705px,#249ee6 721px,#1aacdd 731px,#02b7cb 742px,#01b9c6 745px,#07bcbf 749px,#29c3aa 762px,#44cb8a 782px,#7dcc5b 812px,#a6c83d 841px,#bdc42f 868px,#cfc028 908px,#d7be28 946px,#ddbd29 1020px,#dfbc2a 100%)"></i><i class="w" style="background:linear-gradient(#e1bc2b 0,#debd29 289px,#d8be28 345px,#ccc028 390px,#b7c532 426px,#97ca47 455px,#75cc61 476px,#3eca8f 504px,#25c2ae 523px,#01bac5 537px,#01b7ca 540px,#18aedb 550px,#23a0e5 560px,#2f80fa 576px,#3e70ff 582px,#465efb 588px,#4747ec 595px,#4639da 599px,#3e27aa 605px,#3e26a8 676px,#4538d7 682px,#4746ea 686px,#475af9 692px,#3c71ff 700px,#317dfc 704px,#23a1e5 722px,#1aacdd 730px,#02b7cb 741px,#01b9c6 744px,#05bbc1 747px,#26c2ad 759px,#39c995 774px,#4dcc82 785px,#7bcc5c 809px,#a5c83e 837px,#c0c32d 868px,#d2bf27 909px,#dfbc2a 1012px,#e1bc2b 100%)"></i><i class="w" style="background:linear-gradient(#e5bb2c 0,#e2bc2b 283px,#dcbd29 346px,#cfc028 394px,#b9c430 429px,#aac73a 445px,#96ca48 460px,#81cc59 473px,#44cb89 503px,#2ac3a9 522px,#05bbc1 536px,#01b9c6 539px,#02b7cb 542px,#19addc 552px,#259be8 564px,#317dfc 578px,#3e6fff 583px,#475af9 590px,#4746ea 596px,#4538d7 600px,#3e26a8 606px,#3e26a8 675px,#3e27aa 676px,#4536d4 681px,#4741e5 684px,#475cfa 692px,#3d71ff 699px,#307ffb 704px,#259ce7 718px,#1babde 728px,#01b8ca 740px,#01b9c7 742px,#04bbc1 745px,#1cc0b4 753px,#2bc3a8 760px,#44cb8a 778px,#7acc5d 805px,#a6c83d 833px,#c5c22a 868px,#d4bf27 901px,#ddbd29 942px,#e3bc2c 1020px,#e5bb2c 100%)"></i><i class="w" style="background:linear-gradient(#ecba32 0,#e8bb2e 303px,#e2bc2b 353px,#d5be28 398px,#c3c22b 428px,#a2c83f 458px,#7acc5d 481px,#4dcc82 502px,#3dc990 510px,#29c3aa 525px,#0abdbd 536px,#01b9c6 541px,#04b6cd 545px,#1babde 555px,#269ae9 566px,#317dfc 579px,#3f6fff 584px,#4756f7 592px,#4745e9 597px,#4433cd 602px,#3e27a9 606px,#3e26a8 675px,#4538d8 681px,#4747eb 685px,#4758f8 690px,#3d70ff 698px,#307ffb 703px,#269be8 716px,#19addb 728px,#07b5d0 735px,#01b9c7 740px,#04bbc1 743px,#2ac3a9 757px,#44cb8a 775px,#71cd64 796px,#8dcb50 810px,#acc738 831px,#c8c129 860px,#ddbd29 906px,#e6bb2d 956px,#eabb30 1020px,#ecba32 100%)"></i><i class="w" style="background:linear-gradient(#f3ba39 0,#f0ba36 297px,#e9bb2f 359px,#dbbd28 404px,#c5c22a 436px,#a6c83c 462px,#87cb54 480px,#4fcc80 505px,#3fca8e 512px,#24c1ae 530px,#08bcbe 539px,#01b9c6 543px,#04b6cd 547px,#1aacdd 556px,#23a0e5 564px,#2f80fa 579px,#3f6fff 585px,#475cfa 591px,#4744e8 598px,#4435d1 602px,#3e26a8 607px,#3e26a8 674px,#3e27aa 675px,#463adc 681px,#4746ea 684px,#465efb 691px,#3d70ff 697px,#307ffb 702px,#2798ea 713px,#19addc 726px,#07b5d0 733px,#01b9c7 738px,#07bcbf 742px,#23c1af 751px,#3eca8f 769px,#4ecc81 776px,#97ca48 810px,#b9c430 834px,#d3bf27 863px,#e5bb2c 905px,#f1ba36 1004px,#f3ba39 100%)"></i><i class="w" style="background:linear-gradient(#f8ba3d 0,#f6ba3b 286px,#f0ba36 352px,#e2bc2b 403px,#c8c129 441px,#bac430 454px,#a3c83e 469px,#81cc59 487px,#4fcc80 508px,#3dc990 516px,#25c2ae 532px,#08bcbe 541px,#01b9c6 545px,#07b5d0 550px,#19addc 557px,#259de7 567px,#2f80fa 580px,#3f6eff 586px,#4855f6 594px,#473ee2 600px,#4537d6 602px,#3e27aa 607px,#3e26a8 674px,#4639d9 680px,#4848ec 684px,#475af9 689px,#3d70ff 696px,#307ffb 701px,#249ee6 715px,#1aacdd 724px,#02b7cb 734px,#01bac5 737px,#26c2ad 750px,#3cc991 765px,#4ecc81 773px,#9ac945 807px,#bfc32d 832px,#d8be28 860px,#e9bb2f 898px,#f2ba38 947px,#f7ba3c 1021px,#f8ba3d 100%)"></i><i class="w" style="background:linear-gradient(#fbbc3d 0,#f9ba3d 297px,#f3ba39 355px,#e7bb2d 402px,#ccc028 443px,#b9c430 459px,#a3c83e 473px,#88cb53 487px,#4ecc81 511px,#3fca8e 517px,#22c1b0 535px,#0abdbd 542px,#01b9c7 547px,#08b4d1 552px,#1aacdd 559px,#23a1e5 566px,#2e83f9 580px,#3c71ff 586px,#4464fd 590px,#4853f5 595px,#4741e5 600px,#4536d2 603px,#3e26a8 608px,#3e26a8 673px,#3e27aa 674px,#463bdd 680px,#4747eb 683px,#475cfa 689px,#3e6fff 695px,#307ffb 700px,#23a0e5 715px,#17aedb 724px,#07b5d0 730px,#01b9c6 735px,#03bbc2 737px,#23c1af 747px,#3eca8f 764px,#4fcc80 771px,#97ca47 802px,#bbc42f 824px,#d0bf27 843px,#e8bb2e 882px,#f2ba38 920px,#f9ba3d 985px,#fbbc3d 100%)"></i><i class="w" style="background:linear-gradient(#fdbd3d 0,#fbbc3d 303px,#f6ba3c 354px,#e9bb2f 406px,#d0bf27 443px,#c5c22a 454px,#abc739 472px,#80cc59 493px,#4ecc81 513px,#3dca90 520px,#26c2ad 535px,#0bbdbc 543px,#01b9c6 548px,#01b8ca 550px,#14b0d8 557px,#23a1e5 567px,#317dfc 583px,#3d70ff 587px,#475cfa 593px,#4743e7 600px,#4537d6 603px,#3e26a9 608px,#3e26a8 673px,#463de0 680px,#4849ed 683px,#465efb 689px,#3c72ff 695px,#2f81fa 700px,#23a0e5 714px,#19addc 722px,#02b7cb 731px,#01bac5 734px,#22c1b0 745px,#3cc991 761px,#4fcc80 769px,#95ca49 798px,#bfc32d 823px,#d3bf27 842px,#debd29 855px,#ecba32 883px,#f7ba3d 935px,#fbbc3d 978px,#fdbd3d 100%)"></i><i class="w" style="background:linear-gradient(#febf3c 0,#fcbc3d 321px,#f8ba3d 364px,#e9bb2f 413px,#d0bf27 447px,#bdc32e 463px,#a6c73c 477px,#85cb56 493px,#4fcc80 514px,#3eca8f 521px,#24c1ae 537px,#06bcc0 546px,#01b9c6 549px,#07b5d0 554px,#1aacdd 561px,#259de7 570px,#307ffb 583px,#3e6fff 588px,#465efb 593px,#4745e9 600px,#4435d2 604px,#3e28ad 608px,#3e26a8 609px,#3e26a8 673px,#4537d6 678px,#4743e7 681px,#475cfa 688px,#3d70ff 694px,#2e83f9 700px,#259ce7 711px,#19addc 721px,#06b5cf 728px,#01b9c7 732px,#0abdbd 737px,#25c2ad 745px,#3dca90 760px,#4ecc81 767px,#9ec942 800px,#c4c22a 824px,#debd29 850px,#efba35 883px,#f8ba3d 918px,#fdbd3d 980px,#febf3c 100%)"></i><i class="w" style="background:linear-gradient(#fec03a 0,#febd3c 313px,#f7ba3d 375px,#ebba31 414px,#d0bf27 450px,#c4c22a 460px,#aec637 475px,#84cc56 495px,#4ecc82 516px,#37c897 526px,#24c1ae 538px,#03bbc2 548px,#01b9c6 550px,#03b7cc 553px,#19addb 561px,#2b92ee 576px,#2f80fa 583px,#3d71ff 588px,#4563fd 592px,#4852f4 597px,#4742e6 601px,#4536d4 604px,#3e26a8 609px,#3e26a8 672px,#3e27ab 673px,#463cdf 679px,#484cf0 683px,#4368fe 691px,#3b72ff 694px,#307ffb 698px,#23a1e4 713px,#18aedb 721px,#02b7cb 729px,#01bac5 732px,#0abdbd 736px,#23c1af 743px,#45cb89 762px,#73cd63 780px,#9bc944 797px,#c1c32c 819px,#d1bf27 832px,#ddbd29 845px,#f1ba36 882px,#f8ba3d 907px,#febd3c 969px,#fec03a 100%)"></i><i class="w" style="background:linear-gradient(#fec13a 0,#febd3c 331px,#f7ba3d 382px,#efba35 409px,#e3bc2c 431px,#d0bf27 452px,#c3c22b 463px,#a9c73a 479px,#8ccb50 493px,#4ecc81 517px,#37c897 527px,#24c1af 539px,#08bcbf 547px,#01b9c7 551px,#06b5cf 555px,#1babde 563px,#2b91ef 577px,#307ffb 584px,#4368fe 591px,#4853f5 597px,#4744e8 601px,#4538d7 604px,#3e26a8 609px,#3e26a8 672px,#4536d3 677px,#4741e6 680px,#475cfa 687px,#3d70ff 693px,#2f80fa 698px,#21a4e3 714px,#14b0d8 722px,#01b8ca 729px,#01b9c6 731px,#25c2ae 743px,#45cb89 761px,#73cd62 779px,#9ac945 795px,#c1c32c 817px,#d0bf27 829px,#dfbc2a 845px,#f2ba37 880px,#f8ba3d 900px,#febd3c 951px,#fec13a 100%)"></i><i class="w" style="background:linear-gradient(#fec239 0,#fec239 226px,#febd3c 342px,#f8ba3d 386px,#f0ba36 410px,#e4bb2c 432px,#d3bf27 451px,#c5c22a 463px,#b2c534 475px,#8ccb50 494px,#4dcc82 518px,#3cc991 525px,#23c1af 540px,#0abdbd 547px,#01bac5 551px,#01b8ca 553px,#14b0d8 560px,#21a4e3 568px,#2e83f9 583px,#3e70ff 589px,#475bfa 595px,#4745e9 601px,#4435d1 605px,#3e27aa 609px,#3e26a8 672px,#4537d5 677px,#4743e7 680px,#475af9 686px,#3c72ff 693px,#307efb 697px,#21a3e4 713px,#1babde 718px,#06b5cf 726px,#01b9c7 730px,#03bbc2 732px,#24c1ae 742px,#44cb89 760px,#81cc59 783px,#9cc943 795px,#c3c22b 817px,#d1bf27 828px,#dfbc2a 843px,#f4ba39 882px,#f8ba3d 895px,#febd3c 939px,#fec239 1056px,#fec239 100%)"></i><i class="w" style="background:linear-gradient(#fec338 0,#fec239 269px,#febd3c 350px,#f8ba3d 390px,#f2ba37 408px,#e6bb2d 431px,#d4bf27 452px,#b9c430 472px,#95ca49 491px,#5fcd73 512px,#42ca8b 523px,#24c1ae 540px,#03bbc2 550px,#01b9c7 552px,#06b5cf 556px,#1babde 564px,#2995ec 576px,#2f81fa 584px,#3d71ff 589px,#4563fd 593px,#4851f4 598px,#4742e6 602px,#4536d3 605px,#3e28ad 609px,#3e26a8 610px,#3e26a8 672px,#4537d7 677px,#4744e8 680px,#465efb 687px,#3e6fff 692px,#307ffb 697px,#22a2e4 712px,#14b0d8 721px,#01b8ca 728px,#01bac6 730px,#0abdbd 734px,#23c1af 741px,#3eca8f 757px,#4ecc82 763px,#88cb53 785px,#a0c840 796px,#c5c22a 817px,#d3bf27 829px,#e2bc2b 845px,#f4ba39 879px,#f8ba3d 891px,#febd3c 931px,#fec239 1012px,#fec338 100%)"></i><i class="w" style="background:linear-gradient(#fec438 0,#fec339 254px,#febd3c 357px,#f7ba3d 394px,#f0ba36 415px,#e5bb2c 434px,#d3bf27 454px,#b4c533 476px,#8dcb4f 495px,#4ecc81 519px,#3eca8f 525px,#23c1af 541px,#0dbdbb 547px,#01b9c6 552px,#07b5d0 557px,#19addc 563px,#249ee6 572px,#307ffb 585px,#3f6eff 590px,#475af9 596px,#4746eb 601px,#4536d4 605px,#3e26a8 610px,#3e26a8 671px,#3e27a9 672px,#4435d0 676px,#4744e9 680px,#475bfa 686px,#3d70ff 692px,#2f80fa 697px,#259de7 709px,#18aedb 719px,#06b5cf 725px,#01b9c7 729px,#08bcbe 733px,#24c1ae 741px,#45cb89 759px,#97ca47 791px,#acc738 801px,#c5c22a 816px,#d3bf27 828px,#e4bb2c 846px,#f5ba3a 879px,#febd3c 925px,#fec339 1028px,#fec438 100%)"></i><i class="w" style="background:linear-gradient(#fec437 0,#fec339 278px,#febd3c 361px,#f8ba3d 396px,#f3ba38 410px,#e6bb2d 434px,#d1bf27 457px,#c1c32c 469px,#aac739 482px,#8acb52 497px,#4fcc80 519px,#3dca90 526px,#24c1af 541px,#02bbc3 551px,#01b8c9 554px,#1aacdd 564px,#2994ed 577px,#307ffb 585px,#4368fe 592px,#4853f5 598px,#4743e7 602px,#4537d5 605px,#3e26a8 610px,#3e26a8 671px,#3e27aa 672px,#4435d1 676px,#4741e5 679px,#4755f6 684px,#3d71ff 692px,#2f81fa 697px,#20a5e3 713px,#17aeda 719px,#01b8ca 727px,#01b9c6 729px,#09bdbe 733px,#25c2ae 741px,#3eca8f 756px,#4ecc82 762px,#9fc941 794px,#c4c22a 815px,#d3bf27 827px,#e5bb2c 846px,#f7ba3c 882px,#febd3c 920px,#fec339 1004px,#fec437 100%)"></i><i class="w" style="background:linear-gradient(#fec537 0,#fec438 254px,#febd3c 365px,#f8ba3d 398px,#f1ba36 416px,#e6bb2d 435px,#d4bf27 455px,#c5c22a 467px,#afc636 480px,#90ca4d 495px,#4dcc82 520px,#38c895 529px,#27c2ac 540px,#03bbc2 551px,#01b8c9 554px,#1aacdd 564px,#2797eb 575px,#317dfc 585px,#4269fe 591px,#4850f3 598px,#4740e4 602px,#4434d0 605px,#3e27a9 609px,#3e26a8 672px,#4536d4 677px,#4742e6 680px,#4660fc 688px,#3c71ff 693px,#2f81fa 698px,#259ce7 709px,#1aacdd 718px,#03b7cc 726px,#01bac5 729px,#0abdbd 733px,#26c2ad 741px,#44cb89 758px,#72cd64 775px,#9ac945 791px,#abc739 799px,#c5c22a 815px,#d3bf27 826px,#e5bb2c 845px,#f8ba3d 883px,#febd3c 916px,#fec339 990px,#fec537 100%)"></i><i class="w" style="background:linear-gradient(#fec537 0,#fec438 269px,#febd3c 367px,#f7ba3d 400px,#f1ba36 417px,#e2bc2b 441px,#d0c027 459px,#c1c32c 470px,#aac739 483px,#8ccb50 497px,#4ecc81 520px,#39c895 529px,#28c2ab 539px,#0abdbd 547px,#01b9c6 551px,#04b6cd 554px,#19addc 561px,#2995ec 574px,#2f81fa 582px,#3f6eff 588px,#475af9 594px,#4744e8 600px,#4538d7 603px,#3e27aa 608px,#3e26a8 673px,#4536d3 678px,#4741e6 681px,#475bfa 688px,#3e6fff 694px,#307ffb 699px,#269ae9 710px,#1caadf 719px,#04b6cd 728px,#01b9c7 731px,#09bdbe 735px,#27c2ac 743px,#45cb89 758px,#72cd63 775px,#98c946 790px,#afc636 801px,#c5c22a 814px,#d3bf27 825px,#e4bb2c 843px,#f7ba3c 879px,#febd3c 914px,#fec438 1012px,#fec537 100%)"></i><i class="w" style="background:linear-gradient(#fec537 0,#fec438 277px,#febd3c 369px,#f7ba3d 401px,#f4ba39 411px,#e7bb2d 435px,#d4bf27 456px,#c4c22a 468px,#b2c534 479px,#8fcb4e 496px,#5ecd74 514px,#3eca8f 524px,#25c2ae 537px,#0abdbd 544px,#01b9c6 548px,#01b8ca 550px,#15afd9 557px,#21a3e4 565px,#307ffb 581px,#3d70ff 586px,#475cfa 592px,#4743e8 599px,#4538d8 602px,#3e27ac 607px,#3e26a8 608px,#3e26a8 674px,#463adb 680px,#4849ed 684px,#465efb 690px,#3c71ff 696px,#2f80fa 701px,#249ee6 714px,#19addc 723px,#01b7ca 732px,#01b9c6 734px,#0abdbd 738px,#24c1ae 745px,#3fca8e 759px,#4fcc81 764px,#70cd65 774px,#9bc944 791px,#c5c22a 814px,#d3bf27 825px,#e6bb2d 845px,#f7ba3c 878px,#febd3c 912px,#fec438 1004px,#fec537 100%)"></i><i class="w" style="background:linear-gradient(#fec537 0,#fec537 240px,#febd3c 370px,#f8ba3d 401px,#f3ba38 414px,#e8bb2e 434px,#d3bf27 457px,#c5c22a 468px,#afc636 481px,#9bc945 491px,#4dcc82 515px,#3ac993 522px,#25c2ae 534px,#0bbdbc 541px,#01b9c7 546px,#06b5cf 550px,#1babde 558px,#249ee6 566px,#307efb 580px,#4269fe 587px,#484ff2 595px,#4740e4 599px,#4435d1 602px,#3e26a8 607px,#3e26a8 674px,#3e27aa 675px,#463adc 681px,#4746ea 684px,#465efb 691px,#3d71ff 697px,#317dfc 701px,#2699ea 713px,#19addc 725px,#06b5cf 732px,#01b9c7 736px,#08bcbe 740px,#29c3aa 750px,#3dca90 762px,#4ecc81 768px,#9ec942 793px,#abc739 798px,#c3c22b 812px,#d4bf27 825px,#e4bb2c 842px,#f8ba3d 880px,#febd3c 911px,#fec438 998px,#fec537 100%)"></i><i class="w" style="background:linear-gradient(#fec636 0,#fec537 250px,#febd3c 372px,#f8ba3d 402px,#f1ba36 419px,#e7bb2d 436px,#d3bf27 457px,#b8c431 473px,#90ca4d 489px,#5fcd73 505px,#3dca90 517px,#2ac3a9 529px,#07bcbf 540px,#01b9c7 544px,#02b7cb 546px,#19addc 555px,#2797eb 568px,#317dfc 579px,#3f6eff 584px,#475cfa 590px,#4847ec 596px,#4539d9 600px,#3e26a8 606px,#3e26a8 675px,#3e27ac 676px,#4537d6 681px,#4746ea 685px,#475af9 691px,#3e70ff 698px,#307efb 703px,#249fe6 718px,#19addc 727px,#06b5cf 734px,#01bac5 739px,#25c2ad 751px,#44cb8a 768px,#71cd64 784px,#a8c73b 803px,#c8c129 818px,#e1bc2b 838px,#f6ba3b 874px,#febd3c 910px,#fec537 1031px,#fec636 100%)"></i><i class="w" style="background:linear-gradient(#fec636 0,#fec438 293px,#febd3c 373px,#f7ba3c 405px,#e9bb2f 427px,#dabd28 442px,#ccc028 453px,#b7c531 465px,#8dcb4f 484px,#5ecd74 501px,#41ca8c 512px,#26c2ad 528px,#0bbdbc 536px,#01b9c6 541px,#01b8ca 543px,#17aedb 552px,#23a0e5 561px,#317dfc 577px,#3f6fff 582px,#4759f9 589px,#4745ea 595px,#4537d6 599px,#3e26a8 605px,#3e26a8 676px,#3e27a9 677px,#4536d3 682px,#4744e8 686px,#4758f8 692px,#3e70ff 700px,#2f81fa 706px,#2699ea 717px,#1babde 728px,#05b6ce 737px,#01b9c6 741px,#0bbdbc 746px,#28c2ab 755px,#3ac993 767px,#4dcc82 775px,#9ac945 804px,#c6c22a 826px,#d3bf27 835px,#e9bb2f 856px,#f9ba3d 883px,#febd3c 909px,#fec438 988px,#fec636 100%)"></i><i class="w" style="background:linear-gradient(#fec339 0,#febd3c 322px,#f8ba3d 368px,#eeba34 397px,#e4bb2c 415px,#d0c027 438px,#c1c32c 450px,#abc739 464px,#8ccb50 479px,#4ecc81 503px,#3dca90 510px,#27c2ac 524px,#06bcc0 534px,#01b9c6 537px,#01b8ca 539px,#17aedb 548px,#249fe6 558px,#2f80fa 573px,#3e70ff 579px,#475bfa 586px,#4742e6 594px,#4435d1 598px,#3e26a8 603px,#3e26a8 678px,#4536d4 684px,#4743e8 688px,#475af9 695px,#3d71ff 703px,#307efb 708px,#269ae9 721px,#18aedb 734px,#05b6ce 741px,#01b9c6 745px,#05bbc1 748px,#28c2ab 759px,#39c994 770px,#4dcc82 779px,#9ac945 810px,#bfc32d 831px,#d0bf27 845px,#dabd28 856px,#f1ba36 893px,#f8ba3d 915px,#febd3c 961px,#fec339 100%)"></i><i class="w" style="background:linear-gradient(#fabb3d 0,#f8ba3d 278px,#f0ba36 353px,#e5bb2c 391px,#dabd28 412px,#c7c129 434px,#a8c73b 458px,#79cc5e 481px,#4fcc81 497px,#3fca8e 503px,#23c1af 520px,#06bcc0 529px,#01b9c6 532px,#02b7cb 535px,#18aedb 544px,#21a4e3 551px,#317dfc 571px,#3e70ff 576px,#4759f9 584px,#4741e5 592px,#4434d0 596px,#3e27a9 601px,#3e26a8 602px,#3e26a8 680px,#4536d3 686px,#4745ea 691px,#4758f8 697px,#3d70ff 706px,#327bfc 710px,#259ce7 726px,#1babde 736px,#01b8ca 748px,#01b9c6 750px,#05bbc1 753px,#22c1b0 762px,#3ac993 777px,#4fcc80 786px,#84cc56 806px,#a3c83e 822px,#b6c532 834px,#d0bf27 858px,#e6bb2d 894px,#f2ba37 942px,#f8ba3d 1005px,#fabb3d 100%)"></i><i class="w" style="background:linear-gradient(#f1ba37 0,#eeba34 272px,#e8bb2e 338px,#dbbd28 387px,#c5c22a 422px,#9ec942 452px,#81cc59 467px,#4ecc81 489px,#3eca8f 496px,#25c2ae 513px,#0bbdbc 521px,#01bac5 526px,#02b7cb 529px,#19addc 539px,#2699ea 553px,#317dfc 567px,#3f6eff 573px,#4756f7 582px,#4742e6 589px,#4536d3 593px,#3e26a8 599px,#3e26a8 682px,#3e27ab 683px,#4537d5 689px,#4743e7 693px,#475af9 701px,#3c71ff 710px,#327bfc 714px,#2699ea 729px,#19addc 743px,#04b6cd 752px,#01b9c6 756px,#0abdbd 761px,#23c1af 769px,#3bc992 785px,#4ecc81 794px,#95ca49 826px,#b8c431 849px,#d1bf27 876px,#e1bc2b 913px,#eabb30 960px,#efba35 1034px,#f1ba37 100%)"></i><i class="w" style="background:linear-gradient(#e0bc2a 0,#dcbd29 278px,#d5be28 335px,#c8c129 379px,#b2c635 414px,#96ca48 439px,#82cc58 452px,#4ecc81 478px,#3eca8f 486px,#26c2ad 504px,#0abdbd 514px,#01bac6 519px,#03b7cc 523px,#19addc 533px,#259de7 545px,#2f80fa 561px,#4368fe 571px,#4854f6 579px,#4741e5 586px,#4536d3 590px,#3e27aa 596px,#3e26a8 597px,#3e26a8 685px,#4536d5 692px,#4742e6 696px,#4758f8 704px,#3d70ff 714px,#2f80fa 721px,#23a1e5 740px,#16afda 751px,#04b6cd 759px,#01b9c6 763px,#0bbdbd 769px,#25c2ae 778px,#44cb8a 800px,#82cc58 831px,#a3c83f 854px,#bcc42f 882px,#cec028 920px,#d7be28 960px,#ddbd29 1021px,#e0bc2a 100%)"></i><i class="w" style="background:linear-gradient(#c5c22a 0,#c0c32d 269px,#b7c532 336px,#a6c73c 382px,#97ca48 406px,#7bcc5d 433px,#3dca90 473px,#25c2ae 494px,#0bbdbc 504px,#01bac5 510px,#07b5d0 517px,#15afd9 523px,#23a0e5 536px,#2e83f9 553px,#3c71ff 561px,#475af9 571px,#4743e7 580px,#4536d3 585px,#3e26a8 592px,#3e26a8 689px,#3e27a9 690px,#4539d9 698px,#4746ea 703px,#475af9 711px,#3f6eff 720px,#2f80fa 728px,#249fe6 746px,#19addc 757px,#03b7cc 768px,#01b9c6 772px,#0cbdbc 779px,#27c2ac 790px,#3dca90 810px,#61cd71 832px,#7fcc5a 853px,#9dc943 885px,#afc637 920px,#bac430 962px,#c1c32d 1030px,#c5c22a 100%)"></i><i class="n" style="background:linear-gradient(#abc739 0,#a7c73c 260px,#a0c941 320px,#91ca4c 371px,#81cc59 399px,#68cd6b 426px,#3fca8e 459px,#2cc4a7 480px,#20c1b1 487px,#0abdbd 495px,#01b9c6 501px,#03b6cc 505px,#18aedb 515px,#23a1e5 526px,#2e83f9 545px,#3c71ff 554px,#475bfa 564px,#4742e6 575px,#4538d8 579px,#3e26a8 588px,#3e26a8 694px,#4536d4 702px,#4744e9 708px,#475bfa 718px,#4368fe 724px,#317dfc 734px,#259ce7 753px,#18aedb 768px,#05b6ce 777px,#01b9c7 782px,#0cbdbc 789px,#1dc0b3 795px,#2ac3a9 802px,#3fca8e 824px,#68cd6b 857px,#81cc59 884px,#94ca4a 919px,#a0c941 963px,#a7c73c 1023px,#abc739 100%)"></i><i class="n" style="background:linear-gradient(#9cc943 0,#98ca47 263px,#90ca4d 327px,#80cc59 376px,#6acd6a 410px,#56cc7a 431px,#26c2ad 475px,#03bbc2 491px,#01b9c6 494px,#03b7cc 498px,#17aedb 509px,#22a2e4 520px,#2e83f9 541px,#3c72ff 550px,#4854f6 564px,#4745e9 571px,#4537d5 577px,#3e26a8 586px,#3e26a8 696px,#4435d1 704px,#4745e9 711px,#475dfa 722px,#3c71ff 732px,#2f81fa 740px,#259ce7 758px,#19addc 773px,#01b8c9 787px,#03bbc2 792px,#27c2ac 809px,#36c898 825px,#58cc79 853px,#73cd63 885px,#82cc58 911px,#90ca4d 956px,#9ac946 1056px,#9cc943 100%)"></i><i class="n" style="background:linear-gradient(#8dcb4f 0,#88cb53 254px,#80cc5a 316px,#73cd62 357px,#5dcc74 398px,#46cb87 425px,#2fc5a3 455px,#25c2ae 465px,#01bac5 485px,#01b7ca 489px,#17aeda 502px,#23a0e5 516px,#2e84f9 536px,#3c72ff 545px,#4661fc 553px,#4747eb 565px,#4435d1 573px,#3e26a8 581px,#3e26a8 701px,#4537d5 710px,#4744e8 716px,#4759f9 726px,#3b72ff 738px,#2f80fa 745px,#2699ea 761px,#17aeda 781px,#01b7ca 794px,#02bbc3 800px,#23c1af 817px,#33c79d 835px,#50cc7f 869px,#6acd69 907px,#76cc61 932px,#81cc59 973px,#8bcb51 1088px,#8dcb4f 100%)"></i><i class="n" style="background:linear-gradient(#6dcd67 0,#6bcd69 208px,#62cd71 314px,#59cc79 353px,#49cb85 390px,#2dc4a6 442px,#1ac0b5 459px,#05bbc1 471px,#01b7ca 480px,#19addc 496px,#1fa6e2 503px,#2f80fa 529px,#3e6fff 538px,#4758f8 550px,#4741e5 561px,#4536d5 566px,#3e26a8 576px,#3e26a8 706px,#4538d8 717px,#4746eb 724px,#475cfa 735px,#3c71ff 746px,#2f80fa 754px,#21a4e3 779px,#17aeda 789px,#01b7ca 803px,#01b9c6 807px,#02bbc3 810px,#24c1ae 831px,#2cc4a7 840px,#42ca8b 881px,#56cc7a 924px,#61cd72 964px,#69cd6b 1035px,#6dcd67 100%)"></i><i class="n" style="background:linear-gradient(#50cc7f 0,#4fcc81 201px,#46cb87 317px,#3cc991 369px,#2fc5a3 415px,#25c2ae 433px,#1ac0b5 442px,#02bbc3 457px,#01b8ca 464px,#18aedb 480px,#23a1e5 494px,#2f80fa 519px,#3f6fff 529px,#465dfa 539px,#4742e7 553px,#4537d6 559px,#3e26a8 570px,#3e26a8 712px,#4434ce 721px,#4740e4 728px,#4854f6 739px,#3d71ff 755px,#307efb 763px,#259ce7 785px,#19addb 803px,#06b5cf 815px,#01b9c6 824px,#09bdbe 832px,#21c1b0 847px,#2bc3a8 859px,#3eca8f 922px,#4dcb82 1033px,#50cc7f 100%)"></i><i class="n" style="background:linear-gradient(#34c79c 0,#32c69e 224px,#2dc4a6 332px,#24c1af 374px,#17bfb7 398px,#03bbc2 422px,#01b8ca 435px,#19addc 460px,#2699ea 486px,#317dfc 510px,#4369fe 523px,#484ff2 539px,#463de0 549px,#4433cd 555px,#3e26a8 564px,#3e26a8 718px,#4434d0 728px,#4743e8 737px,#4758f8 749px,#4466fd 758px,#3b72ff 766px,#2f81fa 776px,#249ee6 803px,#18aedb 825px,#01b8ca 849px,#02bbc3 860px,#0ebebb 876px,#24c1af 910px,#2dc4a6 952px,#32c69e 1060px,#34c79c 100%)"></i><i class="n" style="background:linear-gradient(#0abdbd 0,#07bcbf 252px,#01b7ca 370px,#07b5d0 393px,#16afda 422px,#22a2e4 453px,#2994ed 474px,#307efb 496px,#4564fd 511px,#4850f3 522px,#4741e5 530px,#4433cd 538px,#3e26a8 547px,#3e26a8 736px,#4433cc 745px,#4740e4 753px,#4758f8 766px,#3f6eff 779px,#2e83f9 791px,#249fe6 825px,#1aacdd 852px,#08b5d0 889px,#01b7ca 913px,#06bcc0 1006px,#0abdbd 100%)"></i><i class="n" style="background:linear-gradient(#1caadf 0,#1ea7e1 278px,#21a3e4 335px,#2699ea 391px,#2f81fa 442px,#3f6eff 462px,#475af9 481px,#4741e5 500px,#4536d4 508px,#3e26a8 522px,#3e26a8 761px,#4536d5 776px,#4742e7 785px,#475af9 803px,#3f6eff 822px,#2f80fa 842px,#2c8ef2 864px,#269ae8 899px,#23a1e5 933px,#1ea8e1 1036px,#1caadf 100%)"></i><i class="n" style="background:linear-gradient(#4563fc 0,#4660fb 241px,#475af9 319px,#4851f4 363px,#4745ea 397px,#463cdf 415px,#4332cb 432px,#3e26a8 451px,#3e26a8 460px,#3e26a8 834px,#4332cb 853px,#463bde 869px,#4848ec 893px,#4853f5 928px,#4660fb 1045px,#4563fc 100%)"></i><i class="n" style="background:linear-gradient(#3e26a8 0,#3e26a8 100%)"></i><i class="n" style="background:linear-gradient(#4563fc 0,#4660fb 241px,#475af9 319px,#4851f4 363px,#4745ea 397px,#463cdf 415px,#4332cb 432px,#3e26a8 451px,#3e26a8 460px,#3e26a8 834px,#4332cb 853px,#463bde 869px,#4848ec 893px,#4853f5 928px,#4660fb 1045px,#4563fc 100%)"></i><i class="n" style="background:linear-gradient(#1ea7e1 0,#20a5e3 254px,#249fe6 347px,#2c8ef2 416px,#307ffb 443px,#3f6eff 462px,#475af9 481px,#4746eb 496px,#4536d4 508px,#3e26a8 522px,#3e26a8 761px,#4536d5 776px,#4747eb 788px,#475af9 803px,#3f6eff 822px,#307ffb 841px,#2c8ef2 868px,#2797ea 897px,#23a0e5 946px,#20a5e3 1031px,#1ea7e1 100%)"></i><i class="n" style="background:linear-gradient(#10beba 0,#0abdbd 282px,#01b8ca 383px,#12b1d7 421px,#2798ea 472px,#2f80fa 491px,#4368fe 506px,#4850f3 520px,#4740e4 529px,#4434d0 536px,#3e26a8 546px,#3e26a8 737px,#4435d2 748px,#4848ec 759px,#465efb 772px,#3f6eff 782px,#307efb 792px,#259ce7 817px,#1aacdd 847px,#06b6ce 886px,#01b7ca 900px,#01bac5 924px,#0abdbd 1002px,#10beba 100%)"></i><i class="n" style="background:linear-gradient(#33c69d 0,#32c69e 203px,#2dc4a6 331px,#24c1af 375px,#18bfb6 398px,#03bbc2 424px,#01b8ca 437px,#19addc 462px,#249ee6 483px,#307efb 511px,#4369fe 525px,#4850f3 540px,#4740e4 549px,#4538d8 553px,#3e26a8 564px,#3e26a8 719px,#4536d4 729px,#4848ec 738px,#465dfb 751px,#3b72ff 764px,#317dfc 771px,#2a93ee 789px,#1caadf 816px,#01b8ca 847px,#02bbc3 858px,#09bdbe 868px,#22c1b0 904px,#2dc4a6 953px,#32c69e 1082px,#33c69d 100%)"></i><i class="n" style="background:linear-gradient(#4bcb83 0,#4acb85 197px,#43ca8b 314px,#3ac993 364px,#2cc4a7 418px,#23c1af 432px,#0fbebb 447px,#02bbc3 456px,#01b8ca 463px,#19addc 481px,#269ae9 501px,#2f81fa 520px,#3e6fff 530px,#465efb 540px,#4742e6 555px,#4538d8 560px,#3e26a8 571px,#3e26a8 711px,#4537d6 722px,#473fe2 726px,#4852f4 736px,#4368fe 749px,#3c71ff 754px,#2f80fa 763px,#2896ec 779px,#19addc 803px,#01b8ca 821px,#02bbc3 828px,#1fc0b2 848px,#29c3aa 860px,#3bc992 924px,#48cb87 1029px,#4bcb83 100%)"></i><i class="n" style="background:linear-gradient(#65cd6e 0,#63cd70 211px,#5bcc77 313px,#53cc7e 350px,#43ca8a 390px,#2ec4a5 436px,#1ac0b5 456px,#02bbc3 471px,#01b8ca 478px,#17aeda 493px,#249ee6 509px,#2f81fa 529px,#3f6eff 539px,#4853f5 553px,#4742e7 561px,#4538d8 566px,#3e27a9 576px,#3e26a8 577px,#3e26a8 706px,#4537d6 716px,#4747ec 724px,#4661fc 737px,#3c72ff 746px,#2f80fa 754px,#21a3e4 779px,#19addc 789px,#07b5d0 800px,#01bac5 810px,#22c1b0 833px,#2cc4a7 844px,#39c994 873px,#4fcc80 922px,#5acc78 965px,#61cd72 1030px,#65cd6e 100%)"></i><i class="n" style="background:linear-gradient(#82cc58 0,#7dcc5c 256px,#75cc62 317px,#68cd6b 361px,#4ecc81 408px,#2ec4a5 452px,#23c1af 463px,#08bcbf 477px,#01bac6 483px,#01b7ca 487px,#18aedb 501px,#269be8 519px,#2e83f9 536px,#3d71ff 545px,#4756f7 558px,#4744e9 566px,#4435d2 573px,#3e26a8 581px,#3e26a8 701px,#4536d4 710px,#4741e5 715px,#4854f6 724px,#3d71ff 738px,#2f80fa 746px,#2896ec 760px,#17aeda 783px,#01b8ca 797px,#04bbc1 804px,#22c1b0 820px,#2cc4a7 829px,#44cb89 864px,#60cd72 904px,#76cc61 972px,#80cc5a 1084px,#82cc58 100%)"></i><i class="w" style="background:linear-gradient(#a7c73c 0,#a3c83f 255px,#9bc945 323px,#8dcb4f 369px,#78cc5f 404px,#5bcc77 434px,#40ca8d 455px,#27c2ac 480px,#01bac6 498px,#02b7cb 502px,#18aedb 513px,#21a4e3 522px,#2e83f9 544px,#3c71ff 553px,#4660fc 561px,#4745ea 573px,#4537d6 579px,#3e27aa 587px,#3e26a8 588px,#3e26a8 695px,#4536d4 703px,#4742e6 708px,#4854f6 716px,#3e70ff 729px,#2e83f9 739px,#259ce7 755px,#17aeda 771px,#03b7cc 781px,#01b9c6 785px,#03bbc2 788px,#2ac3a9 806px,#4ccb82 838px,#6dcd68 867px,#83cc57 895px,#95ca4a 936px,#9ec942 979px,#a4c83e 1046px,#a7c73c 100%)"></i><i class="w" style="background:linear-gradient(#c8c129 0,#c4c22b 270px,#bbc430 339px,#a9c73a 388px,#99c946 412px,#7ccc5c 439px,#61cd71 457px,#3fca8e 476px,#28c2ab 495px,#01bac5 512px,#04b6cd 517px,#19addc 527px,#269ae9 542px,#317dfc 558px,#3c71ff 563px,#475cfa 572px,#4745e9 581px,#463adb 585px,#3e26a8 594px,#3e26a8 689px,#4536d3 696px,#4740e4 700px,#4850f3 706px,#4368fe 716px,#317dfc 725px,#249ee6 744px,#19addc 756px,#06b5cf 765px,#01b9c6 771px,#0bbdbd 777px,#27c2ac 788px,#3fca8e 808px,#63cd6f 828px,#82cc58 849px,#9fc942 879px,#b2c635 914px,#bec32e 960px,#c5c22a 1030px,#c8c129 100%)"></i><i class="w" style="background:linear-gradient(#d9bd28 0,#d6be28 271px,#cfc028 336px,#c1c32d 384px,#a9c73b 421px,#8acb51 447px,#4dcc82 480px,#3cc991 489px,#25c2ae 507px,#09bdbe 517px,#01b9c6 522px,#02b7cb 525px,#19addc 535px,#2798ea 550px,#317dfc 564px,#3f6eff 570px,#4758f8 579px,#4742e6 587px,#4536d4 591px,#3e26a8 598px,#3e26a8 685px,#4537d6 692px,#473fe3 695px,#484bef 699px,#465dfb 706px,#3c71ff 714px,#317dfc 719px,#269be8 735px,#18aedb 749px,#03b7cc 758px,#01bac5 762px,#26c2ad 777px,#44cb89 799px,#7ecc5b 829px,#99c946 847px,#b9c431 884px,#c8c129 918px,#d2bf27 967px,#d7be28 1033px,#d9bd28 100%)"></i><i class="w" style="background:linear-gradient(#eeba34 0,#eabb30 266px,#e1bc2b 337px,#d3bf27 379px,#bbc42f 417px,#aac73a 435px,#97ca47 449px,#6ecd66 472px,#4dcc82 488px,#3fca8e 495px,#2bc3a8 510px,#01bac5 527px,#03b7cc 531px,#18aedb 540px,#269ae9 554px,#317dfc 569px,#4368fe 577px,#4758f8 583px,#4744e8 590px,#463adc 593px,#3e26a8 601px,#3e26a8 682px,#4332cb 687px,#4741e5 692px,#4853f5 698px,#3d70ff 709px,#317dfc 714px,#269ae9 729px,#1aacdd 742px,#02b7cb 753px,#01b9c6 756px,#07bcbf 760px,#22c1b0 769px,#2cc4a7 774px,#44cb89 791px,#83cc57 822px,#a8c73b 847px,#c5c22a 880px,#d9be28 920px,#e5bb2c 969px,#ebba31 1036px,#eeba34 100%)"></i><i class="w" style="background:linear-gradient(#fec03b 0,#febd3c 283px,#f7ba3d 355px,#ebba31 397px,#d3bf27 426px,#b9c430 445px,#9ec942 459px,#5ecd74 486px,#3dc990 501px,#25c2ae 518px,#0abdbd 527px,#01b9c6 532px,#02b7cb 535px,#19addc 545px,#23a0e5 554px,#317dfc 572px,#3e6fff 577px,#4759f9 585px,#4741e5 593px,#4435d0 597px,#3e27aa 602px,#3e26a8 603px,#3e26a8 680px,#3e27aa 681px,#4434d0 686px,#4741e5 690px,#4756f7 697px,#3c72ff 707px,#307ffb 712px,#249ee6 728px,#18addb 739px,#01b8ca 749px,#01b9c7 751px,#0bbdbc 757px,#26c2ad 766px,#44cb8a 786px,#73cd63 807px,#a0c840 827px,#c3c22b 846px,#dbbd28 866px,#efba35 897px,#f7ba3d 929px,#febd3c 1001px,#fec03b 100%)"></i><i class="w" style="background:linear-gradient(#fec736 0,#fec537 286px,#febd3c 373px,#f6ba3b 402px,#e7bb2d 427px,#d3bf27 446px,#b4c533 466px,#92ca4b 479px,#3fca8e 505px,#28c2ab 520px,#05bbc1 532px,#01b8ca 537px,#18aedb 547px,#2699ea 561px,#2f80fa 573px,#4368fe 582px,#475af9 587px,#4744e8 594px,#4537d5 598px,#3e26a8 604px,#3e26a8 679px,#4536d4 685px,#4746eb 690px,#475cfa 697px,#3e70ff 704px,#317dfc 709px,#249fe6 726px,#19addb 736px,#05b6ce 744px,#01bac5 749px,#22c1b0 761px,#3eca8f 779px,#4fcc80 785px,#9bc944 809px,#b8c431 820px,#c5c22a 828px,#d3bf27 838px,#e5bb2c 855px,#f8ba3d 887px,#febd3c 911px,#fec537 997px,#fec736 100%)"></i><i class="w" style="background:linear-gradient(#fec736 0,#fec537 286px,#febd3c 378px,#f6ba3b 412px,#e7bb2e 439px,#dabd28 453px,#ccc028 462px,#b8c431 473px,#93ca4a 488px,#61cd71 504px,#3fca8e 514px,#25c2ae 527px,#0abdbd 534px,#01b9c6 538px,#07b5d0 543px,#19addc 550px,#23a0e5 559px,#317dfc 576px,#3e6fff 581px,#4758f8 589px,#4745e9 595px,#4537d6 599px,#3e26a8 605px,#3e26a8 678px,#3e27ac 679px,#4639da 685px,#4747eb 689px,#475af9 695px,#3c71ff 703px,#307ffb 708px,#269ae9 721px,#1babde 732px,#02b7cb 743px,#01b9c6 746px,#0cbdbc 751px,#26c2ad 758px,#3dca90 770px,#4dcc82 775px,#8dcb4f 794px,#a9c73a 805px,#c5c22a 818px,#d3bf27 827px,#e2bc2b 838px,#f7ba3c 874px,#febd3c 905px,#fec537 997px,#fec736 100%)"></i><i class="w" style="background:linear-gradient(#fec736 0,#fec537 287px,#febd3c 379px,#f8ba3d 407px,#f2ba37 421px,#e8bb2e 438px,#d3bf27 460px,#c5c22a 471px,#b4c533 481px,#9ac945 492px,#4ecc81 516px,#3fca8e 521px,#25c2ae 534px,#0cbdbc 540px,#01bac5 544px,#03b7cc 547px,#17aedb 554px,#249fe6 563px,#2e83f9 576px,#3f6fff 583px,#4756f7 591px,#4745ea 596px,#4537d7 600px,#3e26a8 606px,#3e26a8 677px,#3e27aa 678px,#4536d3 683px,#4744e8 687px,#465efb 695px,#3e70ff 701px,#2f81fa 707px,#23a1e5 722px,#18aedb 730px,#01b7ca 738px,#01b9c6 740px,#07bcbf 743px,#26c2ad 751px,#4dcc82 768px,#a6c83c 797px,#b9c431 805px,#c5c22a 813px,#d4bf27 824px,#e2bc2b 838px,#f7ba3c 874px,#febd3c 905px,#fec537 997px,#fec736 100%)"></i><i class="w" style="background:linear-gradient(#fec736 0,#fec537 287px,#febd3c 379px,#f8ba3d 407px,#f3ba38 419px,#e5bb2c 442px,#d3bf27 460px,#c5c22a 471px,#b1c635 483px,#87cb54 502px,#5fcd73 515px,#3fca8e 525px,#24c1ae 539px,#0dbdbb 545px,#01b9c6 550px,#06b5cf 554px,#1caadf 562px,#2797eb 572px,#327bfc 583px,#3f6eff 587px,#4758f8 594px,#4742e6 600px,#4434ce 604px,#3e27a9 608px,#3e26a8 675px,#3e28ac 676px,#4538d7 681px,#4747eb 685px,#475cfa 691px,#3b72ff 698px,#307efb 702px,#23a1e5 717px,#19addc 724px,#04b6cd 731px,#01b9c6 734px,#09bcbe 738px,#26c2ad 746px,#3eca8f 759px,#4dcc82 764px,#72cd63 775px,#8dcb50 784px,#aec637 799px,#c5c22a 813px,#d4bf27 824px,#e2bc2b 838px,#f7ba3c 874px,#febd3c 905px,#fec537 997px,#fec736 100%)"></i><i class="w" style="background:linear-gradient(#fec736 0,#fec537 287px,#febd3c 379px,#f8ba3d 407px,#f3ba38 419px,#e6bb2d 441px,#d3bf27 460px,#c5c22a 471px,#afc636 484px,#8fcb4e 499px,#4ecc81 523px,#3eca8f 529px,#2ac3a9 540px,#04bbc2 551px,#01b8c9 554px,#1caadf 565px,#2a93ee 577px,#327bfc 586px,#3f6eff 590px,#465dfb 595px,#4743e8 602px,#4538d7 605px,#3e27a9 610px,#3e26a8 673px,#3e27aa 674px,#4434d0 678px,#463cde 680px,#4848ec 683px,#465efb 689px,#3c72ff 695px,#307efb 699px,#20a5e3 716px,#19addc 721px,#02b7cb 729px,#01b9c7 731px,#09bcbe 735px,#24c1ae 742px,#39c994 753px,#4ecc81 761px,#9fc941 792px,#c5c22a 813px,#d4bf27 824px,#e6bb2d 843px,#f7ba3c 874px,#febd3c 905px,#fec537 997px,#fec736 100%)"></i><i class="w" style="background:linear-gradient(#fec736 0,#fec537 287px,#febd3c 379px,#f8ba3d 407px,#f4ba39 417px,#e6bb2d 441px,#d4bf27 460px,#c5c22a 471px,#afc636 484px,#94ca4a 497px,#4ecc81 523px,#3eca8f 529px,#27c2ac 543px,#08bcbe 552px,#01b9c7 556px,#02b7cb 558px,#1babde 567px,#269ae9 576px,#2f81fa 586px,#426afe 593px,#4854f6 599px,#4745e9 603px,#4435d1 607px,#3e27aa 611px,#3e26a8 672px,#3e27a9 673px,#4435d0 677px,#4744e9 681px,#4758f8 686px,#3d70ff 693px,#2f80fa 698px,#2995ec 706px,#1aacdd 718px,#03b7cc 726px,#01bac5 729px,#29c3aa 742px,#3cc991 754px,#4ecc81 761px,#9dc943 791px,#c5c22a 813px,#d3bf27 824px,#e6bb2d 843px,#f7ba3c 874px,#febd3c 905px,#fec537 997px,#fec736 100%)"></i><i class="w" style="background:linear-gradient(#fec736 0,#fec537 287px,#febd3c 379px,#f8ba3d 407px,#f4ba39 417px,#e6bb2d 441px,#d4bf27 460px,#c5c22a 471px,#aec637 485px,#82cc57 504px,#4ecc81 523px,#37c897 533px,#25c2ae 544px,#0cbdbc 551px,#01b9c7 556px,#04b6cd 559px,#1aacdd 567px,#2798ea 578px,#327bfc 589px,#4563fd 596px,#4755f6 600px,#463cdf 606px,#4331c7 609px,#3e26a8 612px,#3e26a8 672px,#4434ce 676px,#4744e8 680px,#465ffb 687px,#3d70ff 692px,#2f80fa 697px,#2995ec 705px,#19addc 718px,#07b5d0 724px,#01bac5 729px,#24c1ae 740px,#38c896 752px,#4dcc82 761px,#9cc943 791px,#c5c22a 813px,#d3bf27 824px,#e5bb2c 842px,#f8ba3d 877px,#febd3c 905px,#fec537 997px,#fec736 100%)"></i><i class="w" style="background:linear-gradient(#fec636 0,#fec537 286px,#febd3c 379px,#f8ba3d 407px,#f4ba39 417px,#e6bb2d 441px,#d4bf27 460px,#c5c22a 471px,#aec637 485px,#80cc59 505px,#4ecc81 523px,#37c897 533px,#25c2ae 544px,#0cbdbc 551px,#01b9c7 556px,#04b6cd 559px,#1aacdd 567px,#2798ea 578px,#327bfc 589px,#4563fd 596px,#4755f6 600px,#463cdf 606px,#3e26a9 612px,#3e26a8 672px,#4537d5 677px,#4743e7 680px,#4757f7 685px,#3e6fff 692px,#317dfc 696px,#2797eb 706px,#19addc 718px,#05b6ce 725px,#01b9c6 729px,#0abdbd 733px,#26c2ad 741px,#36c898 751px,#4dcc82 761px,#97ca47 789px,#abc739 798px,#c5c22a 813px,#d3bf27 824px,#e4bb2c 841px,#f8ba3d 877px,#febd3c 906px,#fec537 999px,#fec636 100%)"></i><i class="w" style="background:linear-gradient(#fec636 0,#fec537 277px,#febd3c 377px,#f5ba3a 414px,#dbbd28 453px,#d1bf27 462px,#bfc32d 475px,#9cc943 493px,#5ecd74 517px,#3eca8f 529px,#29c3aa 542px,#02bbc3 554px,#01b9c7 556px,#02b7cb 558px,#1aacdd 567px,#259ce7 576px,#2f81fa 587px,#426afe 594px,#4855f6 600px,#4745e9 604px,#4538d8 607px,#3e26a9 612px,#3e26a8 672px,#3e28ad 673px,#463adb 678px,#4742e6 680px,#4759f9 686px,#3b72ff 693px,#307ffb 697px,#1fa6e2 714px,#01b9c6 729px,#06bcc0 732px,#25c2ad 741px,#44cb8a 758px,#6fcd65 774px,#9bc944 791px,#c1c32c 811px,#d0bf27 822px,#e1bc2b 838px,#f6ba3b 873px,#febd3c 907px,#fec537 1007px,#fec636 100%)"></i><i class="w" style="background:linear-gradient(#fec636 0,#fec537 255px,#febd3c 374px,#f8ba3d 404px,#f3ba38 417px,#e7bb2e 438px,#d4bf27 459px,#c2c22b 472px,#acc738 485px,#95ca49 496px,#4dcc82 523px,#36c898 533px,#24c1af 544px,#0abdbd 551px,#01bac5 555px,#07b5d0 560px,#19addc 566px,#2995ec 579px,#2f81fa 587px,#4269fe 594px,#4758f8 599px,#4740e4 605px,#4434d0 608px,#3e26a8 612px,#3e26a8 672px,#3e27aa 673px,#4435d1 677px,#4741e5 680px,#4755f6 685px,#3d71ff 693px,#2f81fa 698px,#1ea7e1 715px,#14b0d8 721px,#01b8c9 728px,#01bac5 730px,#24c1ae 741px,#38c896 753px,#4dcc82 762px,#97ca47 790px,#abc739 799px,#c3c22b 813px,#d4bf27 826px,#e5bb2c 844px,#f6ba3b 875px,#febd3c 911px,#fec537 1029px,#fec636 100%)"></i><i class="w" style="background:linear-gradient(#fec537 0,#fec438 265px,#febd3c 369px,#f8ba3d 401px,#f1ba36 419px,#e2bc2b 443px,#d3bf27 458px,#b7c531 478px,#91ca4d 497px,#5ecd74 516px,#41ca8c 527px,#25c2ae 543px,#0cbdbc 550px,#01b9c6 555px,#06b5cf 559px,#1babde 567px,#2b92ee 580px,#317dfc 588px,#4369fe 594px,#4854f5 600px,#4744e8 604px,#4538d7 607px,#3e26a8 612px,#3e26a8 673px,#4434ce 677px,#4744e8 681px,#465efb 688px,#3e6fff 693px,#317dfc 697px,#2b92ee 705px,#1babde 718px,#06b5cf 726px,#01b9c6 730px,#06bcc0 733px,#25c2ae 742px,#37c897 753px,#4ecc81 763px,#9ac945 792px,#abc739 800px,#c5c22a 816px,#d3bf27 827px,#e2bc2b 842px,#f6ba3b 878px,#febd3c 916px,#fec438 1020px,#fec537 100%)"></i><i class="w" style="background:linear-gradient(#fec438 0,#fec339 264px,#febd3c 361px,#f8ba3d 397px,#f0ba36 418px,#e5bb2c 437px,#d0bf27 459px,#c5c22a 468px,#acc738 483px,#8ecb4e 497px,#4fcc81 521px,#39c994 530px,#26c2ad 542px,#04bbc1 552px,#01b9c8 555px,#07b5d0 559px,#19addb 565px,#269ae9 576px,#307ffb 587px,#3f6eff 592px,#465dfb 597px,#4743e7 604px,#4537d5 607px,#3e26a8 612px,#3e26a8 673px,#463adb 679px,#4742e6 681px,#475cfa 688px,#3c71ff 694px,#2f81fa 699px,#20a5e3 715px,#17aeda 721px,#01b8ca 729px,#01b9c6 731px,#09bdbe 735px,#25c2ad 743px,#37c897 754px,#4ecc81 764px,#9bc944 794px,#b7c532 808px,#c4c22a 817px,#e0bc2a 842px,#f4ba39 877px,#f7ba3d 888px,#febd3c 925px,#fec339 1021px,#fec438 100%)"></i><i class="w" style="background:linear-gradient(#fec339 0,#fec239 249px,#febd3c 348px,#f7ba3d 391px,#eeba34 418px,#d3bf27 454px,#b7c531 475px,#97ca48 492px,#5ecd74 514px,#3fca8e 526px,#26c2ad 541px,#02bbc3 552px,#01b8c9 555px,#1aacdd 565px,#2b92ee 579px,#317dfc 587px,#426afe 593px,#475cfa 597px,#4746ea 603px,#4536d3 607px,#3e26a8 612px,#3e26a8 673px,#3e27a9 674px,#4331c7 677px,#463cde 680px,#4848ec 683px,#465efb 689px,#3b72ff 695px,#307ffb 699px,#20a5e2 716px,#17aeda 722px,#01b8ca 730px,#01b9c6 732px,#06bcc0 735px,#25c2ae 744px,#3ac993 757px,#4dcc82 765px,#9ac945 795px,#c3c22b 818px,#d1bf27 829px,#e0bc2a 845px,#f4ba39 882px,#f8ba3d 895px,#febd3c 937px,#fec239 1037px,#fec339 100%)"></i><i class="w" style="background:linear-gradient(#fec13a 0,#febd3c 327px,#f8ba3d 382px,#ecba32 417px,#d0bf27 454px,#c3c22b 465px,#abc739 480px,#89cb52 496px,#4dcc82 519px,#3ac993 527px,#23c1af 541px,#0dbdbb 547px,#01bac5 552px,#07b5d0 557px,#1aacdd 564px,#269be8 574px,#2f81fa 585px,#3f6eff 591px,#465dfb 596px,#4744e8 603px,#4434d0 607px,#3e27aa 611px,#3e26a8 674px,#4536d3 679px,#4741e5 682px,#4854f6 687px,#3e6fff 695px,#307ffb 700px,#20a5e3 717px,#01b9c7 733px,#05bbc1 736px,#24c1af 745px,#44cb8a 763px,#68cd6b 777px,#9ec942 799px,#c5c22a 822px,#debd29 846px,#f3ba38 886px,#f8ba3d 904px,#febd3c 958px,#fec13a 100%)"></i><i class="w" style="background:linear-gradient(#febf3b 0,#fdbd3d 312px,#f8ba3d 369px,#ecba32 410px,#ddbd29 436px,#d0bf27 450px,#c5c22a 460px,#abc739 477px,#83cc57 496px,#4fcc80 516px,#3ac993 525px,#28c2ab 537px,#05bbc1 548px,#01b9c7 551px,#06b5cf 555px,#19addc 562px,#22a2e4 569px,#2f81fa 584px,#4368fe 592px,#4850f3 599px,#4741e5 603px,#4536d3 606px,#3e26a8 611px,#3e26a8 675px,#4537d5 680px,#4742e6 683px,#475cfa 690px,#3e6fff 696px,#307ffb 701px,#2699ea 712px,#1aacdd 723px,#01b7ca 733px,#01b9c6 735px,#0bbdbc 740px,#24c1af 747px,#3cc991 762px,#4dcc82 769px,#79cc5e 786px,#9ec942 802px,#c5c22a 826px,#e0bc2a 854px,#f0ba36 886px,#f8ba3d 917px,#febd3c 999px,#febf3b 100%)"></i><i class="w" style="background:linear-gradient(#fdbd3d 0,#fabb3d 317px,#f5ba3b 358px,#e9bb2f 405px,#d0bf27 443px,#c4c22a 454px,#abc739 472px,#80cc59 493px,#4ecc81 513px,#3fca8e 519px,#24c1ae 536px,#01bac5 548px,#06b5cf 553px,#19addc 560px,#259de7 570px,#2e83f9 582px,#3f6eff 589px,#4758f8 596px,#4742e6 602px,#4434ce 606px,#3e27a9 610px,#3e26a8 675px,#3e27aa 676px,#4537d6 681px,#484aee 686px,#465efb 692px,#3c71ff 698px,#2f80fa 703px,#259de7 716px,#19addc 726px,#06b5cf 733px,#01bac5 738px,#24c1ae 750px,#3fca8e 767px,#4ecc81 773px,#9ac945 805px,#bbc42f 825px,#d4bf27 847px,#ebba31 886px,#f7ba3d 943px,#fbbc3d 990px,#fdbd3d 100%)"></i><i class="w" style="background:linear-gradient(#f5ba3a 0,#f2ba37 294px,#ebba31 359px,#debd29 403px,#c8c129 437px,#aac739 462px,#81cc58 485px,#4fcc81 507px,#3dc990 515px,#26c2ad 531px,#0abdbd 540px,#01b9c6 545px,#07b5d0 550px,#19addc 557px,#249ee6 567px,#2f81fa 581px,#3e6fff 587px,#475af9 594px,#4745ea 600px,#4537d6 604px,#3e27ac 609px,#3e26a8 610px,#3e26a8 676px,#3e27aa 677px,#4537d5 682px,#4849ed 687px,#475af9 692px,#3b72ff 700px,#2f80fa 705px,#259ce7 718px,#19addc 729px,#07b5d0 736px,#01b9c7 741px,#07bcbf 745px,#23c1af 754px,#3bc992 770px,#4ecc81 779px,#93ca4b 810px,#bbc42f 837px,#c7c129 849px,#d6be28 868px,#e6bb2d 905px,#eeba35 954px,#f3ba38 1014px,#f5ba3a 100%)"></i><i class="w" style="background:linear-gradient(#e4bb2c 0,#e1bc2b 289px,#dbbd28 347px,#cfc028 392px,#bac430 428px,#97ca47 459px,#81cc59 473px,#4dcc82 499px,#3fca8e 506px,#26c2ad 525px,#05bbc1 537px,#01b9c6 540px,#02b7cb 543px,#1aacdd 554px,#249ee6 564px,#317dfb 580px,#3e70ff 585px,#4758f8 593px,#4744e9 599px,#4537d5 603px,#3e27ac 608px,#3e26a8 609px,#3e26a8 677px,#3e27aa 678px,#4536d3 683px,#4743e8 687px,#465dfb 695px,#3c72ff 702px,#317dfc 706px,#249fe6 723px,#19addc 733px,#04b6cd 742px,#01b9c6 746px,#09bdbe 751px,#29c3aa 763px,#45cb89 783px,#84cc57 815px,#a8c73b 840px,#c5c22a 874px,#d5be28 912px,#e2bc2b 1018px,#e4bb2c 100%)"></i><i class="w" style="background:linear-gradient(#cec028 0,#c9c129 297px,#bec32e 366px,#acc738 408px,#9ec942 428px,#82cc58 454px,#6dcd67 468px,#40ca8d 495px,#25c2ae 518px,#09bdbe 529px,#01bac5 534px,#01b8ca 537px,#19addc 549px,#21a3e4 557px,#317dfc 578px,#3b72ff 582px,#475cfa 590px,#4747eb 597px,#4536d4 602px,#3e28ac 607px,#3e26a8 608px,#3e26a9 679px,#4435d1 684px,#4742e6 688px,#4758f8 695px,#3f6eff 703px,#2f80fa 710px,#269be8 724px,#1caadf 735px,#03b7cc 748px,#01b9c6 752px,#04bbc1 755px,#26c2ad 769px,#3eca8f 790px,#64cd6e 813px,#84cc57 834px,#9cc943 857px,#b1c635 887px,#c0c32d 928px,#c9c129 990px,#cec028 100%)"></i><i class="w" style="background:linear-gradient(#acc738 0,#a8c73b 300px,#a0c941 357px,#91ca4c 400px,#80cc5a 427px,#69cd6a 450px,#41ca8c 482px,#2cc4a7 505px,#24c1af 511px,#03bbc2 526px,#01b9c6 529px,#06b5cf 535px,#18aedb 544px,#259de7 558px,#317dfc 576px,#3d70ff 581px,#465efb 588px,#4743e7 597px,#4536d4 601px,#3e26a8 607px,#3e26a8 679px,#3e27a9 680px,#4538d7 686px,#4744e9 690px,#4759f9 697px,#3e6fff 705px,#327bfc 710px,#249fe6 730px,#17aeda 743px,#02b7cb 754px,#01b9c6 758px,#26c2ad 777px,#3fca8e 803px,#67cd6d 834px,#82cc58 862px,#97ca47 901px,#a4c83e 951px,#aac73a 1019px,#acc738 100%)"></i><i class="w" style="background:linear-gradient(#99c946 0,#97ca48 285px,#91ca4d 347px,#84cc56 394px,#78cc5f 417px,#64cd6e 442px,#3dca90 479px,#2fc5a3 497px,#24c1ae 507px,#05bbc1 522px,#01b9c6 526px,#06b5cf 533px,#19addc 543px,#249ee6 556px,#2e83f9 572px,#3c71ff 580px,#475af9 589px,#4742e6 597px,#4535d2 601px,#3e26a8 607px,#3e26a8 680px,#4536d4 686px,#4743e7 690px,#4758f8 697px,#3c72ff 707px,#327cfc 711px,#259de7 730px,#17aeda 745px,#04b6cd 755px,#01bac5 761px,#2bc3a8 785px,#37c897 801px,#5ecc74 837px,#77cc60 868px,#88cb53 903px,#92ca4c 946px,#97ca48 1001px,#99c946 100%)"></i><i class="w" style="background:linear-gradient(#acc738 0,#a9c73b 286px,#a0c941 357px,#93ca4a 395px,#84cc57 422px,#6ccd68 448px,#40ca8d 483px,#2bc3a8 506px,#07bcbf 524px,#01b9c6 529px,#01b8ca 532px,#19addc 545px,#259ce7 559px,#317dfc 576px,#3d71ff 581px,#475cfa 589px,#4744e8 597px,#4537d6 601px,#3e26a8 607px,#3e26a9 680px,#4435d0 685px,#4747ec 691px,#475cfa 698px,#3f6fff 705px,#327bfc 710px,#249fe6 730px,#19addb 742px,#05b6ce 752px,#01b9c6 758px,#2ac3a9 780px,#3fca8e 803px,#6dcd67 840px,#87cb54 869px,#99c946 905px,#a4c83e 951px,#aac73a 1019px,#acc738 100%)"></i><i class="w" style="background:linear-gradient(#cec028 0,#c9c129 297px,#bdc42f 370px,#adc637 406px,#98ca47 435px,#81cc59 455px,#66cd6d 473px,#3fca8e 496px,#26c2ad 518px,#02bbc3 533px,#02b7cb 538px,#15afd8 547px,#20a5e3 556px,#2d8df3 571px,#327bfc 579px,#3d71ff 583px,#465dfb 590px,#4745e9 598px,#4537d7 602px,#3e26a8 608px,#3e26a8 679px,#4434d0 684px,#4745e9 689px,#4758f8 695px,#3f6eff 703px,#327bfc 708px,#2896ec 721px,#1babde 736px,#05b6ce 747px,#01b9c6 752px,#0abdbd 758px,#26c2ad 769px,#3fca8e 791px,#66cd6d 814px,#85cb56 835px,#a4c83e 866px,#b4c533 894px,#c4c22b 948px,#cac129 1004px,#cec028 100%)"></i><i class="w" style="background:linear-gradient(#e4bb2c 0,#e1bc2b 286px,#dabd28 352px,#cfc028 392px,#bbc430 427px,#abc739 444px,#93ca4a 462px,#80cc59 474px,#44cb89 504px,#27c2ac 525px,#04bbc1 538px,#01b9c6 541px,#04b6cd 545px,#19addc 554px,#249fe6 564px,#317dfc 581px,#3f6fff 586px,#475af9 593px,#4747eb 599px,#4539d9 603px,#3e27a9 609px,#3e26a8 678px,#4332ca 682px,#4743e7 687px,#475af9 694px,#3c71ff 702px,#307ffb 707px,#22a2e4 725px,#19addc 733px,#01b8ca 744px,#01b9c7 746px,#06bcc0 750px,#25c2ae 761px,#44cb8a 783px,#86cb54 817px,#acc739 844px,#c5c22a 875px,#d5be28 913px,#debd29 963px,#e2bc2b 1023px,#e4bb2c 100%)"></i><i class="w" style="background:linear-gradient(#f4ba3a 0,#f1ba36 302px,#ebba31 357px,#ddbd29 405px,#c5c22a 440px,#a2c83f 468px,#87cb54 483px,#4ecc81 508px,#3bc992 517px,#23c1af 533px,#07bcbf 542px,#01b9c7 546px,#07b5d0 551px,#19addc 558px,#249ee6 568px,#2f80fa 582px,#3e6fff 588px,#475af9 595px,#4849ed 600px,#4537d5 605px,#3e27aa 610px,#3e26a8 677px,#4536d3 682px,#4848ec 687px,#475cfa 693px,#3c71ff 700px,#317dfc 704px,#249fe6 720px,#17aedb 730px,#02b7cb 739px,#01bac5 742px,#09bcbe 746px,#25c2ae 755px,#3cc991 771px,#4dcc82 779px,#94ca4a 811px,#b9c430 836px,#d4bf27 866px,#e5bb2c 904px,#f2ba37 1004px,#f4ba3a 100%)"></i><i class="w" style="background:linear-gradient(#fdbd3d 0,#fabb3d 316px,#f3ba39 371px,#e7bb2d 411px,#d0bf27 444px,#c5c22a 455px,#a9c73a 474px,#7bcc5c 496px,#4fcc81 514px,#3cc991 522px,#22c1b0 538px,#02bbc3 548px,#01b8c9 551px,#1aacdd 562px,#23a1e5 569px,#2f81fa 584px,#3f6fff 590px,#475bfa 596px,#4746eb 602px,#4434cf 607px,#3e27ab 611px,#3e26a8 676px,#4639da 682px,#4849ed 686px,#465dfb 692px,#3d70ff 698px,#317dfc 702px,#22a2e4 719px,#19addc 726px,#01b8ca 736px,#01b9c6 738px,#06bcc0 741px,#26c2ad 751px,#3dca90 766px,#4ecc82 773px,#93ca4a 802px,#bbc42f 825px,#d3bf27 847px,#eabb30 884px,#f4ba3a 922px,#fabb3d 971px,#fdbd3d 100%)"></i><i class="w" style="background:linear-gradient(#fec03b 0,#febd3c 311px,#f8ba3d 376px,#edba33 412px,#e0bc2a 435px,#d0bf27 453px,#c3c22b 464px,#a8c73b 481px,#88cb53 496px,#4fcc81 518px,#38c896 528px,#25c2ae 540px,#01bac5 552px,#01b8c9 554px,#18aedb 563px,#21a3e4 570px,#317dfc 587px,#3d70ff 591px,#475cfa 597px,#4743e7 604px,#4537d6 607px,#3e27a9 612px,#3e26a8 675px,#463de0 682px,#4849ed 685px,#465efb 691px,#3c72ff 697px,#2f81fa 702px,#22a2e4 717px,#19addc 724px,#08b4d1 730px,#01b9c6 735px,#0bbdbc 740px,#24c1af 747px,#37c897 759px,#4dcc82 769px,#99c946 799px,#c1c32c 822px,#dbbd28 846px,#f0ba36 883px,#f8ba3d 911px,#febd3c 977px,#fec03b 100%)"></i><i class="w" style="background:linear-gradient(#fec339 0,#fec239 260px,#febd3c 351px,#f7ba3d 393px,#f1ba36 413px,#e6bb2d 434px,#d4bf27 455px,#c5c22a 467px,#b1c635 480px,#8ecb4f 497px,#4ecc81 521px,#37c897 531px,#28c2ab 541px,#07bcbf 551px,#01b9c7 555px,#07b5d0 559px,#1aacdd 566px,#2b92ee 580px,#2f80fa 587px,#3d70ff 592px,#4563fd 596px,#4852f4 601px,#4742e6 605px,#4536d5 608px,#3e26a8 613px,#3e26a8 674px,#3e27aa 675px,#4434d0 679px,#463cde 681px,#4848ec 684px,#465efb 690px,#3c72ff 696px,#307efb 700px,#21a3e4 716px,#1babde 721px,#06b5cf 729px,#01b9c7 733px,#0bbdbc 738px,#1bc0b4 742px,#2bc3a8 748px,#45cb89 763px,#72cd63 780px,#9ac945 796px,#c4c22a 820px,#debd29 843px,#f2ba37 877px,#f8ba3d 895px,#febd3c 937px,#fec239 1028px,#fec339 100%)"></i><i class="w" style="background:linear-gradient(#fec537 0,#fec438 262px,#febd3c 369px,#f8ba3d 402px,#f1ba36 420px,#e3bc2c 443px,#d3bf27 459px,#c3c22b 472px,#b4c533 481px,#96ca49 496px,#5ecd74 517px,#41ca8c 528px,#25c2ae 544px,#0cbdbc 551px,#01b9c7 556px,#06b5cf 560px,#18aedb 566px,#1ea8e1 570px,#2e83f9 587px,#3d70ff 593px,#475bfa 599px,#4741e5 606px,#4332c9 610px,#3e27ab 613px,#3e26a8 674px,#4536d4 679px,#4742e6 682px,#4660fc 690px,#3c71ff 695px,#2f81fa 700px,#20a5e3 716px,#17aeda 722px,#01b8ca 730px,#01b9c6 732px,#28c2ab 745px,#44cb89 761px,#72cd63 778px,#99c946 793px,#afc636 804px,#c5c22a 817px,#e0bc2a 841px,#f5ba3a 877px,#febd3c 918px,#fec438 1025px,#fec537 100%)"></i><i class="w" style="background:linear-gradient(#fec636 0,#fec537 275px,#febd3c 378px,#f8ba3d 407px,#f2ba37 422px,#e2bc2b 447px,#d0bf27 464px,#c3c22b 474px,#acc738 487px,#86cb55 504px,#4fcc81 524px,#3fca8e 530px,#25c2ae 545px,#0cbdbc 552px,#01b9c7 557px,#06b5cf 561px,#1da9e0 570px,#2994ed 581px,#307ffb 589px,#4368fe 596px,#4853f5 602px,#4743e7 606px,#4537d5 609px,#3e26a8 614px,#3e26a8 674px,#4434cf 678px,#4744e8 682px,#465efb 689px,#3e70ff 694px,#2e83f9 700px,#249fe6 712px,#1babde 719px,#03b6cc 728px,#01b9c6 731px,#28c2ab 744px,#45cb89 760px,#97ca47 791px,#abc739 800px,#c5c22a 815px,#d3bf27 826px,#e7bb2d 847px,#f8ba3d 880px,#febd3c 909px,#fec537 1012px,#fec636 100%)"></i><i class="w" style="background:linear-gradient(#fec736 0,#fec537 289px,#febd3c 381px,#f5ba3a 417px,#e7bb2d 442px,#dabd28 456px,#c3c22b 475px,#9fc941 494px,#5fcd73 519px,#3eca8f 531px,#29c3aa 544px,#01bac5 557px,#07b5d0 562px,#19addc 568px,#2a93ee 582px,#2f81fa 589px,#4269fe 596px,#4758f8 601px,#4740e4 607px,#4434d0 610px,#3e26a8 614px,#3e26a8 673px,#3e27ab 674px,#4332c9 677px,#4741e5 681px,#4755f6 686px,#4563fd 690px,#3c71ff 694px,#2f81fa 699px,#269ae9 709px,#1aacdd 719px,#04b6cd 727px,#01b9c7 730px,#06bcc0 733px,#25c2ae 742px,#44cb8a 759px,#70cd65 775px,#9ec942 793px,#c4c22a 814px,#d3bf27 825px,#e4bb2c 842px,#f7ba3c 876px,#febd3c 907px,#fec537 999px,#fec736 100%)"></i><i class="w" style="background:linear-gradient(#fec736 0,#fec537 290px,#febd3c 382px,#f6ba3b 415px,#dbbd28 456px,#cbc028 469px,#bbc42f 480px,#9ec942 495px,#5fcd73 519px,#3fca8e 531px,#25c2ad 546px,#0cbdbc 553px,#01b9c6 558px,#06b5cf 562px,#18aedb 568px,#2896ec 581px,#307ffb 590px,#3f6eff 595px,#475cfa 600px,#4745ea 606px,#4435d2 610px,#3e27ab 614px,#3e26a8 673px,#3e28ad 674px,#4536d3 678px,#4742e6 681px,#4759f9 687px,#3b72ff 694px,#307ffb 698px,#269ae8 709px,#1ea8e1 716px,#15afd9 721px,#01b7ca 728px,#01b9c6 730px,#28c2ab 743px,#45cb89 759px,#73cd63 776px,#9ac945 791px,#c5c22a 814px,#d3bf27 825px,#e5bb2c 843px,#f8ba3d 878px,#febd3c 906px,#fec537 998px,#fec736 100%)"></i><i class="w" style="background:linear-gradient(#fec736 0,#fec537 290px,#febd3c 382px,#f8ba3d 410px,#f2ba37 424px,#e5bb2c 445px,#d3bf27 463px,#c5c22a 474px,#b4c533 484px,#93ca4b 500px,#60cd72 519px,#42ca8b 530px,#26c2ad 546px,#0dbdbb 553px,#01b9c6 558px,#03b7cc 561px,#1babde 570px,#2b92ef 583px,#307ffb 590px,#4368fe 597px,#4756f7 602px,#4742e6 607px,#4536d3 610px,#3e28ac 614px,#3e26a8 615px,#3e26a8 673px,#4536d4 678px,#4743e7 681px,#4756f7 686px,#3e6fff 693px,#317dfc 697px,#2699ea 708px,#19addc 719px,#05b6ce 726px,#01b9c6 730px,#0abdbd 734px,#24c1af 741px,#36c898 752px,#4dcc82 762px,#9ac945 791px,#b1c635 802px,#c5c22a 814px,#d3bf27 825px,#e5bb2c 843px,#f8ba3d 878px,#febd3c 906px,#fec537 998px,#fec736 100%)"></i><i class="w" style="background:linear-gradient(#fec736 0,#fec537 290px,#febd3c 382px,#f8ba3d 410px,#f2ba37 424px,#e5bb2c 445px,#d3bf27 463px,#c5c22a 474px,#b2c534 485px,#8bcb50 503px,#4dcc82 526px,#36c898 536px,#26c2ad 546px,#0abdbd 554px,#01b9c6 558px,#05b6ce 562px,#19addc 569px,#2699ea 580px,#317dfc 591px,#4368fe 597px,#4756f7 602px,#4747eb 606px,#4536d4 610px,#3f28ad 614px,#3e26a8 615px,#3e26a8 673px,#4537d5 678px,#4743e7 681px,#4757f7 686px,#3e70ff 693px,#317dfc 697px,#2995ec 706px,#19addc 719px,#07b5d0 725px,#01bac5 730px,#24c1ae 741px,#38c896 753px,#4dcc82 762px,#9cc943 792px,#c5c22a 814px,#d3bf27 825px,#e5bb2c 843px,#f8ba3d 878px,#febd3c 906px,#fec537 998px,#fec736 100%)"></i><i class="w" style="background:linear-gradient(#fec736 0,#fec537 290px,#febd3c 382px,#f8ba3d 410px,#f2ba37 424px,#e5bb2c 445px,#d3bf27 463px,#c5c22a 474px,#b2c534 485px,#8ccb50 503px,#4dcc82 526px,#36c898 536px,#24c1af 547px,#0abdbd 554px,#01bac5 558px,#07b5d0 563px,#19addc 569px,#2797eb 581px,#317dfc 591px,#4368fe 597px,#4853f5 603px,#4743e7 607px,#463adc 609px,#3e26a8 615px,#3e26a8 673px,#4537d6 678px,#4848ec 682px,#465efb 688px,#3d70ff 693px,#2f80fa 698px,#2995ec 706px,#19addc 719px,#07b5d0 725px,#01bac5 730px,#24c1ae 741px,#38c896 753px,#4dcc82 762px,#9cc943 792px,#c5c22a 814px,#d3bf27 825px,#e5bb2c 843px,#f8ba3d 878px,#febd3c 906px,#fec537 998px,#fec736 100%)"></i><i class="w" style="background:linear-gradient(#fec736 0,#fec537 290px,#febd3c 382px,#f8ba3d 410px,#f2ba37 424px,#e5bb2c 445px,#d3bf27 463px,#c5c22a 474px,#b2c534 485px,#8ccb50 503px,#4dcc82 526px,#36c898 536px,#24c1af 547px,#0abdbd 554px,#01bac5 558px,#07b5d0 563px,#19addc 569px,#2995ec 582px,#317dfc 591px,#4369fe 597px,#4853f5 603px,#4743e7 607px,#4537d5 610px,#3e26a8 615px,#3e26a8 673px,#4537d6 678px,#4743e8 681px,#465efb 688px,#3d70ff 693px,#2f80fa 698px,#2a93ee 705px,#1caadf 717px,#07b5d0 725px,#01bac5 730px,#24c1ae 741px,#38c896 753px,#4dcc82 762px,#9cc943 792px,#c5c22a 814px,#d3bf27 825px,#e5bb2c 843px,#f8ba3d 878px,#febd3c 906px,#fec537 998px,#fec736 100%)"></i><i class="w" style="background:linear-gradient(#fec736 0,#fec537 290px,#febd3c 382px,#f8ba3d 410px,#f2ba37 424px,#e5bb2c 445px,#d3bf27 463px,#c5c22a 474px,#b2c534 485px,#8ccb50 503px,#4dcc82 526px,#36c898 536px,#24c1af 547px,#0abdbd 554px,#01bac5 558px,#07b5d0 563px,#19addc 569px,#2995ec 582px,#317dfc 591px,#4369fe 597px,#4853f5 603px,#4743e7 607px,#4537d5 610px,#3e26a8 615px,#3e26a8 673px,#4537d6 678px,#4744e8 681px,#465ffb 688px,#3d70ff 693px,#2f80fa 698px,#2a93ee 705px,#1caadf 717px,#07b5d0 725px,#01bac5 730px,#24c1ae 741px,#38c896 753px,#4dcc82 762px,#9cc943 792px,#c5c22a 814px,#d3bf27 825px,#e5bb2c 843px,#f8ba3d 878px,#febd3c 906px,#fec537 998px,#fec736 100%)"></i><i class="w" style="background:linear-gradient(#fec736 0,#fec537 290px,#febd3c 382px,#f8ba3d 410px,#f2ba37 424px,#e5bb2c 445px,#d3bf27 463px,#c5c22a 474px,#b2c534 485px,#8bcb50 503px,#4dcc82 526px,#36c898 536px,#24c1af 547px,#0abdbd 554px,#01bac6 558px,#07b5d0 563px,#19addc 569px,#2797eb 581px,#317dfc 591px,#4369fe 597px,#4853f5 603px,#4743e7 607px,#4537d5 610px,#3e26a8 615px,#3e26a8 673px,#4537d6 678px,#4743e8 681px,#465efb 688px,#3d70ff 693px,#2f80fa 698px,#2995ec 706px,#19addc 719px,#07b5d0 725px,#01bac5 730px,#24c1ae 741px,#38c896 753px,#4dcc82 762px,#9cc943 792px,#c5c22a 814px,#d3bf27 825px,#e5bb2c 843px,#f8ba3d 878px,#febd3c 906px,#fec537 998px,#fec736 100%)"></i><i class="w" style="background:linear-gradient(#fec736 0,#fec537 290px,#febd3c 382px,#f8ba3d 410px,#f2ba37 424px,#e5bb2c 445px,#d3bf27 463px,#c5c22a 474px,#b4c533 484px,#89cb52 504px,#4dcc82 526px,#36c898 536px,#26c2ad 546px,#0abdbd 554px,#01b9c6 558px,#05b6ce 562px,#19addc 569px,#2797eb 581px,#317dfc 591px,#4368fe 597px,#4853f5 603px,#4743e7 607px,#463adc 609px,#3e26a8 615px,#3e26a8 673px,#463bdd 679px,#4747ec 682px,#465efb 688px,#3e70ff 693px,#2f80fa 698px,#2995ec 706px,#19addc 719px,#07b5d0 725px,#01bac5 730px,#0abdbd 734px,#24c1af 741px,#36c898 752px,#4dcc82 762px,#9ac945 791px,#b1c635 802px,#c5c22a 814px,#d3bf27 825px,#e5bb2c 843px,#f8ba3d 878px,#febd3c 906px,#fec537 998px,#fec736 100%)"></i><i class="w" style="background:linear-gradient(#fec736 0,#fec537 290px,#febd3c 382px,#f6ba3b 415px,#dbbd28 456px,#ccc028 469px,#bbc42f 480px,#9ec942 495px,#60cd72 519px,#3fca8e 531px,#28c2ab 545px,#01b9c6 558px,#01b7ca 560px,#1babde 570px,#2b92ee 583px,#307ffb 590px,#4368fe 597px,#4756f7 602px,#4747eb 606px,#4536d4 610px,#3f28ad 614px,#3e26a8 615px,#3e26a8 673px,#4537d5 678px,#4743e7 681px,#4757f7 686px,#3e6fff 693px,#317dfc 697px,#2797eb 707px,#19addc 719px,#05b6ce 726px,#01b9c6 730px,#0abdbd 734px,#26c2ad 742px,#36c898 752px,#4dcc82 762px,#9ac945 791px,#c5c22a 814px,#d3bf27 825px,#e5bb2c 843px,#f8ba3d 878px,#febd3c 906px,#fec537 998px,#fec736 100%)"></i><i class="w" style="background:linear-gradient(#fec636 0,#fec537 288px,#febd3c 381px,#f5ba3a 417px,#e7bb2d 442px,#dabd28 456px,#c3c22b 475px,#9bc944 496px,#5fcd73 519px,#41ca8c 530px,#25c2ae 546px,#0cbdbc 553px,#01b9c7 558px,#06b5cf 562px,#1da9e0 571px,#2994ed 582px,#307ffb 590px,#3f6eff 595px,#4759f9 601px,#4742e6 607px,#4536d3 610px,#3e27ac 614px,#3e26a8 615px,#3e26a8 673px,#4536d4 678px,#4747eb 682px,#465dfb 688px,#3e6fff 693px,#307ffb 698px,#2b92ef 705px,#1babde 718px,#06b5cf 726px,#01b9c6 730px,#06bcc0 733px,#19bfb5 738px,#2cc4a7 745px,#44cb89 759px,#9ec942 793px,#c3c22b 813px,#d3bf27 825px,#e3bc2c 841px,#f7ba3c 876px,#febd3c 907px,#fec537 1000px,#fec636 100%)"></i><i class="w" style="background:linear-gradient(#fec636 0,#fec537 271px,#febd3c 378px,#f8ba3d 407px,#f1ba36 424px,#e6bb2d 442px,#d3bf27 462px,#c4c22a 473px,#b6c532 482px,#89cb52 503px,#4dcc82 525px,#36c898 535px,#24c1af 546px,#01bac5 557px,#01b8c9 559px,#14b0d8 566px,#1ea7e1 572px,#2f81fa 589px,#3c71ff 594px,#475cfa 600px,#4741e5 607px,#4332c9 611px,#3e27aa 614px,#3e26a8 673px,#3e27ac 674px,#4536d3 678px,#4742e6 681px,#4660fc 689px,#3c72ff 694px,#307ffb 698px,#22a2e4 713px,#1aacdd 719px,#02b7cb 728px,#01b9c7 730px,#02bbc3 732px,#2bc3a8 745px,#38c896 754px,#4dcc82 763px,#9ac945 792px,#c5c22a 815px,#d3bf27 826px,#e3bc2c 842px,#f7ba3c 878px,#febd3c 910px,#fec537 1017px,#fec636 100%)"></i><i class="w" style="background:linear-gradient(#fec537 0,#fec438 266px,#febd3c 370px,#f8ba3d 403px,#f3ba38 416px,#e5bb2c 441px,#d3bf27 460px,#c5c22a 471px,#acc738 486px,#84cc56 504px,#4dcc82 524px,#3ac993 532px,#25c2ae 545px,#0cbdbc 552px,#01b9c7 557px,#06b5cf 561px,#1babde 569px,#269be8 578px,#317dfc 590px,#4269fe 596px,#4758f8 601px,#4740e4 607px,#4331c7 611px,#3e26a8 614px,#3e26a8 673px,#3e27aa 674px,#4435d1 678px,#4745e9 682px,#475cfa 688px,#3d70ff 694px,#2f80fa 699px,#23a1e5 713px,#15afd8 722px,#01b7ca 729px,#01b9c6 731px,#06bcc0 734px,#25c2ae 743px,#3eca8f 758px,#4ecc81 764px,#9ec942 795px,#c5c22a 817px,#d3bf27 828px,#e5bb2c 847px,#f6ba3b 879px,#febd3c 917px,#fec438 1021px,#fec537 100%)"></i><i class="w" style="background:linear-gradient(#fec338 0,#fec339 234px,#febd3c 357px,#f8ba3d 396px,#f0ba36 418px,#e0bc2a 444px,#d0bf27 460px,#c5c22a 469px,#aac739 485px,#8fcb4e 498px,#4dcc82 523px,#38c896 532px,#25c2ae 544px,#0cbdbc 551px,#01b9c6 556px,#01b7ca 558px,#17aeda 566px,#20a5e2 572px,#307ffb 589px,#3f6eff 594px,#465dfb 599px,#4743e7 606px,#4537d5 609px,#3e26a8 614px,#3e26a8 674px,#4434ce 678px,#4743e8 682px,#465efb 689px,#3b72ff 695px,#307ffb 699px,#249ee6 712px,#19addc 721px,#05b6ce 728px,#01b9c6 732px,#25c2ad 744px,#3cc991 758px,#4dcc82 765px,#7ecc5b 783px,#9cc943 796px,#c5c22a 819px,#e0bc2a 844px,#f4ba39 880px,#f8ba3d 892px,#febd3c 931px,#fec339 1054px,#fec338 100%)"></i><i class="w" style="background:linear-gradient(#fec13a 0,#febd3c 335px,#f8ba3d 386px,#edba33 418px,#d1bf27 456px,#c5c22a 466px,#b1c635 479px,#8fcb4e 496px,#4ecc81 521px,#3bc992 529px,#2bc3a8 540px,#03bbc2 553px,#01b9c6 555px,#03b7cc 558px,#19addc 566px,#22a2e4 573px,#2e83f9 587px,#4269fe 595px,#475cfa 599px,#4745ea 605px,#4536d3 609px,#3f28ad 613px,#3e26a8 614px,#3e26a8 674px,#4536d4 679px,#4742e6 682px,#475cfa 689px,#3d70ff 695px,#2f80fa 700px,#21a4e3 716px,#14b0d8 724px,#01b8ca 731px,#01b9c6 733px,#09bdbe 737px,#25c2ae 745px,#44cb89 763px,#73cd63 781px,#9ac945 797px,#c1c32c 819px,#d0bf27 831px,#dfbc2a 847px,#f2ba37 882px,#f8ba3d 902px,#febd3c 953px,#fec13a 100%)"></i><i class="w" style="background:linear-gradient(#febf3b 0,#fdbd3d 316px,#f8ba3d 372px,#e9bb2f 419px,#d0bf27 452px,#c2c22b 464px,#a8c73b 481px,#78cc5f 503px,#4fcc81 519px,#38c896 529px,#2ac3a9 539px,#08bcbf 550px,#01b8c9 555px,#19addc 565px,#22a2e4 572px,#2f81fa 587px,#3f6eff 593px,#465dfb 598px,#4744e8 605px,#4538d7 608px,#3e27aa 613px,#3e26a8 674px,#3e27ab 675px,#4435d1 679px,#463cdf 681px,#484cf0 685px,#465efb 690px,#3c72ff 696px,#2f81fa 701px,#2699ea 711px,#1aacdd 722px,#03b6cc 731px,#01b9c6 734px,#0bbdbc 739px,#24c1af 746px,#3ac993 760px,#4fcc80 769px,#98c946 799px,#adc637 810px,#c3c22b 824px,#dbbd28 847px,#efba35 883px,#f8ba3d 916px,#febd3c 995px,#febf3b 100%)"></i><i class="w" style="background:linear-gradient(#fdbd3d 0,#fabb3d 324px,#f4ba3a 370px,#e7bb2d 414px,#d0bf27 447px,#bbc42f 465px,#a5c83d 479px,#89cb53 493px,#4ecc81 517px,#3fca8e 523px,#24c1ae 540px,#01bac5 552px,#02b7cb 555px,#13b1d7 561px,#22a2e4 571px,#307ffb 587px,#3e6fff 592px,#475bfa 598px,#4742e6 605px,#4536d4 608px,#3e26a8 613px,#3e26a8 675px,#4537d5 680px,#4742e6 683px,#475cfa 690px,#3e70ff 696px,#307ffb 701px,#269be8 713px,#19addc 724px,#06b5cf 731px,#01bac5 736px,#24c1ae 748px,#3ac993 762px,#4ecc81 771px,#71cd64 785px,#9ec942 805px,#c3c22b 829px,#d0bf27 841px,#debd29 858px,#edba33 889px,#f8ba3d 939px,#fbbc3d 983px,#fdbd3d 100%)"></i><i class="w" style="background:linear-gradient(#f9bb3d 0,#f6ba3b 303px,#efba35 366px,#e3bc2c 407px,#c8c129 447px,#a8c73b 472px,#82cc58 492px,#4ecc81 514px,#3cc991 522px,#24c1af 538px,#07bcbf 547px,#01b9c7 551px,#08b5d0 556px,#18aedb 562px,#23a0e5 571px,#307ffb 586px,#3d70ff 591px,#475dfa 597px,#4747ec 603px,#4538d8 607px,#3e27ac 612px,#3e26a8 613px,#3e26a8 675px,#3f28ad 676px,#4539d9 681px,#4848ec 685px,#475af9 690px,#3d70ff 697px,#317dfc 701px,#22a2e4 718px,#18aedb 726px,#07b5d0 732px,#01b9c6 737px,#0abdbd 742px,#24c1ae 750px,#3eca8f 767px,#4ecc81 774px,#93ca4b 804px,#b9c430 828px,#d0bf27 850px,#e6bb2d 888px,#f0ba36 927px,#f7ba3c 1004px,#f9bb3d 100%)"></i><i class="w" style="background:linear-gradient(#f1ba37 0,#efba35 286px,#e9bb2f 354px,#dcbd29 403px,#c5c22a 440px,#9ec942 472px,#78cc5f 492px,#4dcc82 511px,#3eca8f 518px,#23c1af 536px,#0abdbd 544px,#01b9c6 549px,#01b8ca 551px,#1aacdd 562px,#249ee6 571px,#317dfc 586px,#3d71ff 590px,#465efb 596px,#4746ea 603px,#4537d5 607px,#3e26a8 612px,#3e26a8 675px,#3e27aa 676px,#4537d6 681px,#484aee 686px,#465efb 692px,#3c71ff 698px,#317dfc 702px,#23a0e5 718px,#1aacdd 726px,#04b6cd 735px,#01b9c6 739px,#08bcbf 743px,#24c1af 752px,#3bc992 768px,#4ecc81 777px,#89cb53 804px,#9ec942 816px,#b4c533 832px,#d0bf27 863px,#e2bc2b 902px,#efba35 1001px,#f1ba37 100%)"></i><i class="w" style="background:linear-gradient(#ebba32 0,#e9bb2f 286px,#e3bc2c 353px,#d6be28 402px,#c4c22a 432px,#b1c636 453px,#9bc944 469px,#71cd64 492px,#44cb89 513px,#2cc4a7 530px,#1dc0b3 537px,#02bbc3 546px,#01b9c7 548px,#01b8ca 550px,#1aacdd 561px,#2699e9 573px,#2f81fa 584px,#3e6fff 590px,#4756f7 598px,#4848ec 602px,#4639d9 606px,#3e26a8 612px,#3e26a8 676px,#4433cc 680px,#4745e9 685px,#475af9 691px,#3e70ff 698px,#307efb 703px,#22a2e4 720px,#1aacdd 727px,#01b8ca 738px,#01b9c6 740px,#0abdbd 745px,#27c2ac 755px,#3eca8f 772px,#4dcc82 779px,#8dcb50 810px,#acc738 831px,#c7c129 860px,#dcbd29 903px,#e9bb2f 1001px,#ebba32 100%)"></i><i class="w" style="background:linear-gradient(#ebba31 0,#e8bb2e 300px,#e1bc2b 362px,#d5be28 403px,#bfc32d 438px,#afc637 454px,#97ca47 471px,#72cd63 491px,#4ecc81 508px,#37c897 520px,#28c2ab 532px,#0bbdbc 542px,#01bac5 547px,#07b5d0 553px,#19addc 560px,#249ee6 570px,#2f80fa 584px,#3e6fff 590px,#475cfa 596px,#4848ec 602px,#4539d9 606px,#3e26a8 612px,#3e26a8 676px,#4536d3 681px,#4848ec 686px,#4756f7 690px,#3e6fff 698px,#2f81fa 704px,#2699ea 715px,#19addc 728px,#07b5d0 735px,#01b9c7 740px,#04bbc1 743px,#2ac3a9 757px,#44cb8a 775px,#86cb54 807px,#aec637 833px,#c8c129 861px,#dbbd28 901px,#e5bb2c 952px,#e9bb2f 1008px,#ebba31 100%)"></i><i class="w" style="background:linear-gradient(#f0ba36 0,#edba33 292px,#e6bb2d 361px,#d9be28 405px,#c5c22a 437px,#b4c534 454px,#9ec942 470px,#72cd63 493px,#44cb8a 514px,#2bc3a8 531px,#01b9c6 548px,#04b6cd 552px,#1aacdd 561px,#269be8 572px,#2f81fa 584px,#3e6fff 590px,#4756f7 598px,#4848ec 602px,#4539d9 606px,#3e26a8 612px,#3e26a8 676px,#4536d3 681px,#4745e9 685px,#475af9 691px,#3e70ff 698px,#307ffb 703px,#259de7 717px,#18aedb 728px,#02b7cb 737px,#01b9c6 740px,#08bcbe 744px,#24c1af 753px,#3eca8f 771px,#4dcc82 778px,#91ca4d 810px,#b3c534 833px,#d0bf27 866px,#e0bc2a 902px,#e9bb2f 947px,#eeba34 1019px,#f0ba36 100%)"></i><i class="w" style="background:linear-gradient(#f6ba3b 0,#f3ba38 293px,#ebba31 367px,#ddbd29 411px,#c5c22a 445px,#a3c83e 471px,#80cc59 490px,#4dcc82 512px,#3cc991 520px,#22c1b0 537px,#0bbdbd 544px,#01b9c6 549px,#01b8ca 551px,#1aacdd 562px,#259ce7 572px,#307ffb 585px,#3d70ff 590px,#465dfb 596px,#4849ed 602px,#4536d4 607px,#3e26a8 612px,#3e26a8 676px,#4536d5 681px,#4745ea 685px,#465efb 692px,#3d71ff 698px,#317dfc 702px,#249ee6 717px,#1aacdd 726px,#02b7cb 736px,#01bac6 739px,#06bcc0 742px,#25c2ae 752px,#3eca8f 769px,#4ecc81 776px,#98ca47 810px,#b7c531 831px,#d0bf27 856px,#e6bb2d 900px,#efba35 946px,#f4ba39 1019px,#f6ba3b 100%)"></i><i class="w" style="background:linear-gradient(#f9bb3d 0,#f7ba3c 300px,#f0ba36 365px,#e2bc2b 411px,#c7c129 448px,#a5c83d 474px,#82cc58 492px,#4dcc82 514px,#3fca8e 520px,#23c1af 538px,#06bcc0 547px,#01b9c6 550px,#07b5cf 555px,#19addc 562px,#249fe6 571px,#2f80fa 585px,#3f6eff 591px,#4758f8 598px,#4742e6 604px,#4537d5 607px,#3e26a9 612px,#3e26a8 675px,#3e27aa 676px,#463bdd 682px,#4747eb 685px,#475cfa 691px,#3b72ff 698px,#2f81fa 703px,#23a1e5 718px,#19addb 726px,#02b7cb 735px,#01bac5 738px,#09bcbe 742px,#23c1af 750px,#3cc991 766px,#4ecc81 774px,#98c946 807px,#bbc42f 829px,#d0bf27 849px,#e6bb2d 886px,#f1ba36 929px,#f8ba3d 1009px,#f9bb3d 100%)"></i><i class="w" style="background:linear-gradient(#fbbc3d 0,#f9ba3d 298px,#f2ba38 365px,#e7bb2d 406px,#d1bf27 442px,#c5c22a 454px,#abc739 473px,#84cc56 493px,#4fcc81 515px,#3eca8f 522px,#23c1af 539px,#0bbdbc 546px,#01b9c6 551px,#01b8ca 553px,#17aedb 562px,#23a0e5 571px,#307ffb 586px,#3e70ff 591px,#475cfa 597px,#473fe3 605px,#4331c7 609px,#3e27aa 612px,#3e26a8 675px,#3e27ac 676px,#4538d8 681px,#4747ec 685px,#475dfa 691px,#3d70ff 697px,#307ffb 702px,#22a2e4 718px,#19addc 725px,#01b8ca 735px,#01b9c6 737px,#06bcc0 740px,#23c1af 749px,#3eca8f 766px,#4fcc80 773px,#73cd62 788px,#9dc943 807px,#bfc32d 829px,#d3bf27 849px,#e9bb2f 887px,#f3ba39 930px,#f9ba3d 990px,#fbbc3d 100%)"></i><i class="w" style="background:linear-gradient(#fcbc3d 0,#f9ba3d 322px,#f3ba39 368px,#e8bb2e 408px,#d0bf27 445px,#c5c22a 456px,#a5c83d 478px,#82cc57 495px,#4fcc81 516px,#3cc991 524px,#25c2ae 539px,#0abdbd 547px,#01b9c7 552px,#08b4d0 557px,#1aacdd 564px,#249fe6 572px,#317dfc 587px,#3d70ff 591px,#475af9 598px,#4848ec 603px,#4538d8 607px,#3e27ac 612px,#3e26a8 613px,#3e26a8 675px,#3f28ad 676px,#4539d9 681px,#4848ec 685px,#465dfb 691px,#3c71ff 697px,#2f80fa 702px,#23a1e4 717px,#1aacdd 724px,#03b6cc 733px,#01b9c6 736px,#08bcbf 740px,#23c1af 748px,#3eca8f 765px,#4fcc80 772px,#96ca48 802px,#acc738 814px,#bfc32d 827px,#d3bf27 846px,#eabb30 885px,#f5ba3b 934px,#fabb3d 987px,#fcbc3d 100%)"></i><i class="w" style="background:linear-gradient(#fdbd3d 0,#fabb3d 320px,#f3ba39 374px,#e7bb2d 414px,#d0bf27 447px,#c1c32c 461px,#abc739 476px,#80cc59 497px,#4ecc81 517px,#3fca8e 523px,#24c1af 540px,#06bcc0 549px,#01b9c6 552px,#07b5d0 557px,#18aedb 563px,#259ce7 574px,#2f80fa 586px,#3f6eff 592px,#465efb 597px,#4744e9 604px,#4435d2 608px,#3f28ad 612px,#3e26a8 613px,#3e26a8 675px,#4639da 681px,#4849ed 685px,#465efb 691px,#3c72ff 697px,#2f81fa 702px,#249ee6 715px,#1babde 723px,#05b6cd 732px,#01bac6 736px,#09bdbe 740px,#24c1ae 748px,#3ac993 762px,#4ecc81 771px,#92ca4b 799px,#a9c73a 811px,#bdc32e 824px,#d3bf27 844px,#ebba31 884px,#f7ba3d 941px,#fbbc3d 990px,#fdbd3d 100%)"></i><i class="w" style="background:linear-gradient(#fdbd3d 0,#fbbc3d 312px,#f5ba3b 367px,#e7bb2d 416px,#d0bf27 448px,#bbc42f 466px,#a6c73c 479px,#8dcb50 492px,#4fcc80 517px,#3cc991 525px,#22c1b0 541px,#0dbdbb 547px,#01bac5 552px,#02b7cb 555px,#19addc 564px,#23a0e5 572px,#2f81fa 586px,#3f6eff 592px,#465efb 597px,#4741e5 605px,#4535d2 608px,#3e26a8 613px,#3e26a8 675px,#463ada 681px,#4849ed 685px,#465efb 691px,#3b72ff 697px,#307efb 701px,#22a2e4 717px,#19addc 724px,#06b5cf 731px,#01b9c7 735px,#07bcbf 739px,#25c2ae 748px,#3eca8f 764px,#4fcc80 771px,#93ca4a 799px,#acc738 812px,#c1c32c 826px,#d3bf27 843px,#ecba32 884px,#f8ba3d 935px,#fbbc3d 976px,#fdbd3d 100%)"></i><i class="w" style="background:linear-gradient(#febd3c 0,#fbbc3d 317px,#f5ba3b 369px,#e9bb2f 412px,#d0bf27 448px,#c4c22a 459px,#acc738 476px,#84cc57 496px,#4fcc80 517px,#3eca8f 524px,#22c1b0 541px,#0dbdbb 547px,#01bac5 552px,#02b7cb 555px,#19addc 564px,#23a0e5 572px,#2f81fa 586px,#3f6eff 592px,#465efb 597px,#4741e5 605px,#4639da 607px,#3e26a8 613px,#3e26a8 675px,#4536d4 680px,#4745ea 684px,#4758f8 689px,#4368fe 694px,#3b72ff 697px,#307efb 701px,#22a2e4 717px,#19addc 724px,#06b5cf 731px,#01b9c7 735px,#0abdbd 740px,#25c2ae 748px,#3eca8f 764px,#4dcc82 770px,#93ca4a 799px,#bdc32e 823px,#d3bf27 843px,#e3bc2c 864px,#edba33 886px,#f8ba3d 933px,#fcbc3d 994px,#febd3c 100%)"></i><i class="w" style="background:linear-gradient(#fdbd3d 0,#fabb3d 324px,#f4ba3a 370px,#e8bb2e 412px,#d0bf27 447px,#c3c22b 459px,#aac739 476px,#87cb54 494px,#4ecc81 517px,#3fca8e 523px,#24c1af 540px,#06bcc0 549px,#01b9c6 552px,#01b8ca 554px,#1babde 565px,#249ee6 573px,#2f81fa 586px,#3f6eff 592px,#465efb 597px,#4741e5 605px,#4535d2 608px,#3e26a8 613px,#3e26a8 675px,#463ada 681px,#4849ed 685px,#465efb 691px,#3c72ff 697px,#2f81fa 702px,#23a0e5 716px,#15afd9 726px,#03b7cb 733px,#01bac5 736px,#24c1ae 748px,#38c895 761px,#4ecc81 771px,#96ca48 801px,#abc739 812px,#c1c32c 827px,#d3bf27 844px,#ecba32 886px,#f8ba3d 939px,#fbbc3d 984px,#fdbd3d 100%)"></i><i class="w" style="background:linear-gradient(#fbbc3d 0,#f9ba3d 311px,#f3ba39 363px,#e8bb2e 406px,#d0bf27 444px,#c5c22a 455px,#aac739 474px,#86cb55 493px,#4ecc81 516px,#3ac993 525px,#25c2ae 539px,#0abdbd 547px,#01b9c7 552px,#08b4d0 557px,#1aacdd 564px,#23a1e5 571px,#2f80fa 586px,#3c71ff 591px,#4464fd 595px,#4853f5 600px,#4740e4 605px,#4435d2 608px,#3f28ad 612px,#3e26a8 613px,#3e26a8 675px,#4639da 681px,#4849ed 685px,#465efb 691px,#3c71ff 697px,#2f81fa 702px,#269ae9 713px,#1aacdd 724px,#05b6ce 732px,#01b9c6 736px,#05bbc1 739px,#25c2ae 749px,#3cc991 764px,#4ecc81 772px,#95ca49 802px,#bbc42f 825px,#d0bf27 844px,#e8bb2e 882px,#f3ba39 925px,#f9ba3d 977px,#fbbc3d 100%)"></i><i class="w" style="background:linear-gradient(#f9bb3d 0,#f7ba3c 295px,#f0ba36 364px,#e4bb2c 407px,#ccc028 444px,#b9c430 461px,#a6c83c 474px,#84cc56 492px,#4dcc82 515px,#3fca8e 521px,#23c1af 539px,#0bbdbc 546px,#01b9c6 551px,#07b5cf 556px,#19addc 563px,#269be8 574px,#317dfc 587px,#3d70ff 591px,#475af9 598px,#4848ec 603px,#463cdf 606px,#3e26a8 613px,#3e26a8 675px,#4535d2 680px,#4745e9 684px,#465dfb 691px,#3d71ff 697px,#2e83f9 703px,#249fe6 716px,#19addc 725px,#04b6cd 733px,#01b9c6 737px,#06bcc0 740px,#23c1af 749px,#3ac993 764px,#4ecc81 773px,#8acb51 799px,#a5c83d 813px,#bac430 827px,#d0bf27 849px,#e8bb2e 891px,#f1ba37 930px,#f7ba3c 993px,#f9bb3d 100%)"></i><i class="w" style="background:linear-gradient(#f7ba3c 0,#f4ba39 298px,#edba33 365px,#e0bc2a 409px,#c8c129 445px,#a9c73a 470px,#87cb54 489px,#4dcc82 514px,#3ac993 523px,#24c1af 538px,#07bcbf 547px,#01b9c7 551px,#08b5d0 556px,#18aedb 562px,#23a0e5 571px,#307ffb 586px,#3d70ff 591px,#4759f9 598px,#4848ec 603px,#4538d8 607px,#3e28ac 612px,#3e26a8 613px,#3e26a8 675px,#4539d9 681px,#4848ec 685px,#475af9 690px,#3d71ff 697px,#317dfc 701px,#2699ea 713px,#1babde 724px,#05b6ce 733px,#01b9c6 737px,#0abdbd 742px,#24c1ae 750px,#3cc991 766px,#4dcc82 774px,#83cc57 797px,#98c946 808px,#b1c636 823px,#c1c32c 836px,#dabd28 867px,#e8bb2e 901px,#f0ba36 942px,#f5ba3a 1013px,#f7ba3c 100%)"></i><i class="w" style="background:linear-gradient(#f5ba3b 0,#f2ba37 308px,#ebba31 368px,#debd29 410px,#c8c129 443px,#aac739 468px,#85cb55 489px,#4fcc81 513px,#3dc990 521px,#23c1af 538px,#01bac5 550px,#02b7cb 553px,#18aedb 562px,#23a0e5 571px,#307ffb 586px,#3d70ff 591px,#475af9 598px,#4848ec 603px,#4538d8 607px,#3e26a8 613px,#3e26a8 675px,#4535d2 680px,#4744e9 684px,#465dfb 691px,#3d71ff 697px,#317dfc 701px,#2699ea 713px,#18aedb 726px,#08b5d0 732px,#01b9c7 737px,#07bcbf 741px,#26c2ad 751px,#3dca90 767px,#4fcc81 775px,#74cd62 791px,#99c946 809px,#b9c430 831px,#d0bf27 855px,#e6bb2d 899px,#f3ba38 999px,#f5ba3b 100%)"></i><i class="w" style="background:linear-gradient(#f6ba3b 0,#f3ba38 305px,#ecba32 367px,#dfbc2a 410px,#c5c22a 447px,#a1c840 475px,#7ccc5c 494px,#4dcc82 514px,#3cc991 522px,#24c1ae 538px,#05bbc1 548px,#01b9c6 551px,#07b5d0 556px,#19addc 563px,#259de7 573px,#317dfc 587px,#3d71ff 591px,#465dfb 597px,#4744e9 604px,#4535d2 608px,#3e26a8 613px,#3e26a8 675px,#4639da 681px,#4849ed 685px,#465efb 691px,#3c71ff 697px,#2f80fa 702px,#249fe6 716px,#19addc 725px,#07b5cf 732px,#01b9c6 737px,#08bcbe 741px,#22c1b0 749px,#3eca8f 767px,#4ecc81 774px,#93ca4b 805px,#b9c430 830px,#d0c027 853px,#e7bb2d 899px,#eeba35 938px,#f4ba39 1003px,#f6ba3b 100%)"></i><i class="w" style="background:linear-gradient(#f9ba3d 0,#f6ba3b 303px,#f0ba36 362px,#e4bb2c 406px,#ccc028 444px,#b9c430 461px,#a5c83d 475px,#89cb53 490px,#4ecc81 515px,#3eca8f 522px,#24c1ae 539px,#0abdbd 547px,#01b9c7 552px,#03b6cc 555px,#18aedb 563px,#249ee6 573px,#307efb 587px,#4368fe 594px,#4854f6 600px,#4742e6 605px,#4536d4 608px,#3e26a8 613px,#3e26a8 675px,#4537d5 680px,#4742e6 683px,#475cfa 690px,#3e6fff 696px,#307ffb 701px,#23a0e5 716px,#18aedb 725px,#07b5d0 731px,#01b9c6 736px,#05bbc1 739px,#22c1b0 748px,#3bc992 764px,#4fcc81 773px,#8dcb4f 800px,#a7c73c 814px,#b9c430 827px,#d0bf27 849px,#debd29 869px,#e9bb2f 896px,#f1ba37 933px,#f7ba3c 1005px,#f9ba3d 100%)"></i><i class="w" style="background:linear-gradient(#fcbc3d 0,#f9ba3d 317px,#f2ba38 372px,#e7bb2d 410px,#d0bf27 445px,#c3c22b 458px,#a9c73a 476px,#8bcb51 492px,#4fcc81 517px,#3eca8f 524px,#23c1af 541px,#08bcbe 549px,#01b9c6 553px,#07b5d0 558px,#18aedb 564px,#2798ea 577px,#2e83f9 586px,#3d71ff 592px,#4759f9 599px,#473fe3 606px,#4331c6 610px,#3e26a9 613px,#3e26a8 674px,#3e27aa 675px,#4434d0 679px,#463cde 681px,#4848ec 684px,#465dfb 690px,#3c71ff 696px,#2f80fa 701px,#249ee6 714px,#18aedb 724px,#07b5d0 730px,#01b9c6 735px,#06bcc0 738px,#23c1af 747px,#3eca8f 764px,#4fcc80 771px,#97ca47 802px,#bbc42f 824px,#d0bf27 843px,#e9bb2f 883px,#f3ba39 922px,#f9ba3d 971px,#fcbc3d 100%)"></i><i class="w" style="background:linear-gradient(#febe3c 0,#fcbc3d 320px,#f8ba3d 366px,#e9bb2f 417px,#d0c027 452px,#c1c32c 465px,#a8c73b 481px,#85cb56 498px,#4dcc82 520px,#37c897 530px,#25c2ae 542px,#04bbc1 552px,#01b9c7 555px,#07b5cf 559px,#18aedb 565px,#21a3e4 572px,#307ffb 588px,#4369fe 595px,#4758f8 600px,#4741e5 606px,#4435d2 609px,#3e28ac 613px,#3e26a8 614px,#3e26a8 674px,#4536d3 679px,#4745ea 683px,#475cfa 689px,#3e70ff 695px,#317dfc 699px,#259ce7 712px,#1aabde 721px,#02b7cb 731px,#01bac5 734px,#25c2ae 746px,#3bc992 760px,#4dcc82 768px,#76cc60 784px,#99c946 799px,#c1c32c 823px,#dabd28 848px,#eeba34 883px,#f8ba3d 922px,#fdbd3d 990px,#febe3c 100%)"></i><i class="w" style="background:linear-gradient(#fec239 0,#febd3c 343px,#f8ba3d 390px,#f0ba36 414px,#e2bc2b 439px,#d1bf27 458px,#c3c22b 469px,#abc739 484px,#7ecc5a 504px,#4fcc81 522px,#3dca90 529px,#2bc3a8 541px,#03bbc2 554px,#01b9c6 556px,#20a5e3 572px,#307efb 589px,#3f6eff 594px,#475af9 600px,#4743e7 606px,#4537d5 609px,#3e26a8 614px,#3e26a8 674px,#4537d6 679px,#4743e7 682px,#465efb 689px,#3b72ff 695px,#307ffb 699px,#1ea7e1 717px,#17aeda 722px,#01b7ca 730px,#01b9c6 732px,#03bbc2 734px,#27c2ac 745px,#45cb89 762px,#71cd64 779px,#99c946 795px,#c4c22a 820px,#dfbc2a 845px,#f2ba37 879px,#f8ba3d 898px,#febd3c 945px,#fec239 100%)"></i><i class="w" style="background:linear-gradient(#fec736 0,#fec636 257px,#febd3c 382px,#f8ba3d 410px,#f2ba37 424px,#e4bb2c 446px,#d3bf27 463px,#c3c22b 475px,#aec637 487px,#85cb56 505px,#4dcc82 525px,#36c898 535px,#26c2ad 545px,#0abdbd 553px,#01b9c6 557px,#05b6ce 561px,#19addc 568px,#2995ec 581px,#2f80fa 589px,#4269fe 596px,#4758f8 601px,#4740e4 607px,#4331c7 611px,#3e26a8 614px,#3e26a8 673px,#3e27aa 674px,#4435d1 678px,#4741e5 681px,#4855f6 686px,#3d71ff 694px,#2f81fa 699px,#1ea7e1 716px,#19addc 720px,#01b8ca 729px,#01bac5 731px,#24c1ae 742px,#38c896 754px,#4ecc81 763px,#99c946 791px,#c3c22b 813px,#d3bf27 825px,#e4bb2c 842px,#f8ba3d 878px,#febd3c 906px,#fec537 994px,#fec736 100%)"></i><i class="w" style="background:linear-gradient(#fdcb33 0,#fec934 303px,#febd3c 402px,#f9ba3d 420px,#e3bc2c 454px,#d3bf27 468px,#c5c22a 478px,#9fc941 497px,#5ecd74 521px,#3fca8e 532px,#24c1ae 547px,#0abdbd 554px,#01b9c6 558px,#05b6ce 562px,#1babde 570px,#2994ed 582px,#307ffb 590px,#3f6eff 595px,#4660fc 599px,#4745ea 606px,#4435d2 610px,#3e27ab 614px,#3e26a8 673px,#3e28ac 674px,#4536d3 678px,#4742e6 681px,#4759f9 687px,#3b72ff 694px,#307ffb 698px,#2b92ef 705px,#19addc 719px,#07b5d0 725px,#01bac5 730px,#0bbdbd 734px,#25c2ae 741px,#4dcc82 761px,#99c946 788px,#c5c22a 810px,#d3bf27 820px,#e5bb2c 836px,#f8ba3d 865px,#febd3c 886px,#fec934 985px,#fdcb33 100%)"></i><i class="w" style="background:linear-gradient(#fdcd32 0,#fdcb33 290px,#fec636 361px,#febd3c 407px,#f9ba3d 424px,#e6bb2d 453px,#d3bf27 470px,#c5c22a 479px,#b1c635 490px,#7acc5d 512px,#4fcc81 527px,#3eca8f 533px,#2ac3a9 545px,#03bbc3 557px,#01b9c7 559px,#07b5d0 563px,#19addc 569px,#269be8 579px,#307ffb 590px,#3f6fff 595px,#4759f9 601px,#4742e6 607px,#4332ca 611px,#3e27ab 614px,#3e26a8 673px,#3f28ad 674px,#4536d4 678px,#4746eb 682px,#465dfb 688px,#3e6fff 693px,#317dfc 697px,#2797eb 707px,#1caadf 717px,#04b6cd 726px,#01b9c7 729px,#03bbc2 731px,#28c2ab 742px,#44cb8a 757px,#96ca48 786px,#afc636 797px,#c5c22a 809px,#d3bf27 818px,#e7bb2d 836px,#f9ba3d 864px,#febd3c 881px,#fec636 927px,#fdcb33 997px,#fdcd32 100%)"></i><i class="w" style="background:linear-gradient(#fdca33 0,#fec934 283px,#fec537 351px,#febd3c 399px,#f8ba3d 421px,#e9bb2f 446px,#dabd28 461px,#d1bf27 469px,#bdc32e 482px,#97ca47 500px,#60cd72 520px,#41ca8c 531px,#24c1ae 547px,#0abdbd 554px,#01b9c6 558px,#03b7cc 561px,#1babde 570px,#2896ec 581px,#307ffb 590px,#3f6eff 595px,#475cfa 600px,#4745ea 606px,#4639d9 609px,#3e27aa 614px,#3e26a8 673px,#3e27ac 674px,#4536d3 678px,#4742e6 681px,#4759f9 687px,#3c72ff 694px,#307ffb 698px,#2994ed 706px,#1babde 718px,#05b6ce 726px,#01bac5 730px,#29c3aa 743px,#45cb89 758px,#9cc943 790px,#c5c22a 811px,#d4bf27 821px,#e5bb2c 837px,#f8ba3d 867px,#febd3c 889px,#fec438 927px,#fec934 1005px,#fdca33 100%)"></i><i class="w" style="background:linear-gradient(#fec636 0,#fec537 270px,#febd3c 378px,#f8ba3d 407px,#f2ba37 422px,#e6bb2d 442px,#d3bf27 462px,#c4c22a 473px,#b6c532 482px,#95ca49 498px,#60cd72 518px,#3fca8e 530px,#28c2ab 544px,#01b9c6 557px,#03b7cc 560px,#19addc 568px,#2797eb 580px,#2f80fa 589px,#4269fe 596px,#4758f8 601px,#4740e4 607px,#4434cf 610px,#3e26a8 614px,#3e26a8 673px,#3e27a9 674px,#4331c8 677px,#463cdf 680px,#4745e9 682px,#475cfa 688px,#3d70ff 694px,#2f81fa 699px,#2995ec 707px,#19addc 720px,#05b6ce 727px,#01bac6 731px,#0abdbd 735px,#26c2ad 743px,#36c898 753px,#4dcc82 763px,#9ac945 792px,#c5c22a 815px,#d3bf27 826px,#e3bc2c 842px,#f6ba3b 875px,#febd3c 910px,#fec537 1018px,#fec636 100%)"></i><i class="w" style="background:linear-gradient(#fec13a 0,#febd3c 335px,#f8ba3d 386px,#efba35 414px,#e1bc2b 439px,#d1bf27 457px,#c5c22a 467px,#a8c73b 485px,#82cc57 502px,#4ecc81 522px,#39c994 531px,#24c1ae 544px,#08bcbe 552px,#01b9c7 556px,#06b5cf 560px,#1babde 568px,#21a3e4 573px,#2f81fa 588px,#3f6eff 594px,#4759f9 600px,#4747eb 605px,#4536d5 609px,#3e26a8 614px,#3e26a8 674px,#4537d6 679px,#4743e7 682px,#465dfb 689px,#3c72ff 695px,#307ffb 699px,#20a5e3 716px,#17aeda 722px,#01b7ca 730px,#01b9c6 732px,#03bbc2 734px,#2bc3a8 747px,#44cb89 762px,#73cd63 780px,#9ac945 796px,#afc636 807px,#c5c22a 821px,#dabd28 841px,#f0ba36 876px,#f7ba3d 901px,#febd3c 953px,#fec13a 100%)"></i><i class="w" style="background:linear-gradient(#febe3c 0,#fbbc3d 328px,#f6ba3c 369px,#e8bb2e 418px,#d0bf27 451px,#c3c22b 463px,#a9c73a 480px,#8ecb4f 494px,#4dcc82 520px,#39c994 529px,#25c2ae 542px,#07bcbf 551px,#01b9c7 555px,#02b7cb 557px,#1babde 567px,#21a3e4 572px,#307ffb 588px,#3e6fff 593px,#4758f8 600px,#4741e5 606px,#4332c9 610px,#3e27ac 613px,#3e26a8 614px,#3e26a8 674px,#3f28ad 675px,#4536d3 679px,#4741e5 682px,#4755f6 687px,#3e70ff 695px,#317dfc 699px,#259ce7 712px,#19addc 722px,#06b5cf 729px,#01b9c7 733px,#0abdbd 738px,#25c2ad 746px,#3bc992 760px,#4ecc82 768px,#73cd62 783px,#9cc943 801px,#bfc32d 822px,#d3bf27 840px,#e2bc2b 859px,#edba33 882px,#f8ba3d 926px,#fcbc3d 979px,#febe3c 100%)"></i><i class="w" style="background:linear-gradient(#fcbd3d 0,#fabb3d 310px,#f4ba3a 365px,#e8bb2e 410px,#d0c027 447px,#c3c22b 459px,#a9c73a 477px,#86cb55 495px,#4dcc82 518px,#3dca90 525px,#24c1af 541px,#09bdbe 549px,#01b9c6 553px,#01b8ca 555px,#1babde 566px,#249ee6 574px,#2f80fa 587px,#3d71ff 592px,#4759f9 599px,#473fe3 606px,#4434cf 609px,#3e26a9 613px,#3e26a8 674px,#3e27aa 675px,#4434d0 679px,#463cde 681px,#4848ec 684px,#465dfb 690px,#3c71ff 696px,#2f81fa 701px,#23a0e5 715px,#19addc 723px,#02b7cb 732px,#01bac5 735px,#24c1ae 747px,#3fca8e 764px,#4ecc81 770px,#91ca4c 798px,#a8c73b 810px,#bdc32e 824px,#d3bf27 845px,#e9bb2f 880px,#f5ba3b 930px,#fabb3d 978px,#fcbd3d 100%)"></i><i class="w" style="background:linear-gradient(#fbbc3d 0,#f9ba3d 297px,#f1ba36 372px,#e6bb2d 409px,#d0bf27 443px,#c1c32c 458px,#acc738 473px,#84cc56 494px,#4fcc81 516px,#3eca8f 523px,#26c2ad 539px,#09bcbe 548px,#01b9c6 552px,#01b8ca 554px,#19addc 564px,#22a2e4 571px,#307ffb 587px,#3e6fff 592px,#475bfa 598px,#4742e6 605px,#4536d4 608px,#3e26a8 613px,#3e26a8 675px,#4537d5 680px,#4742e6 683px,#475cfa 690px,#3e70ff 696px,#307ffb 701px,#269be8 713px,#19addc 724px,#06b5cf 731px,#01bac5 736px,#24c1af 748px,#3bc992 763px,#4fcc80 772px,#8dcb50 798px,#a2c83f 809px,#b9c430 824px,#d0bf27 845px,#e8bb2e 884px,#f3ba39 930px,#f9ba3d 991px,#fbbc3d 100%)"></i><i class="w" style="background:linear-gradient(#f9bb3d 0,#f7ba3c 304px,#f0ba36 367px,#e1bc2b 415px,#ccc028 445px,#aac739 472px,#83cc57 493px,#4ecc81 515px,#37c897 526px,#24c1af 539px,#01bac5 551px,#02b7cb 554px,#1aacdd 564px,#23a1e5 571px,#2f80fa 586px,#3c71ff 591px,#465dfb 597px,#4744e9 604px,#4535d2 608px,#3e26a8 613px,#3e26a8 675px,#4639da 681px,#4849ed 685px,#465efb 691px,#3c71ff 697px,#2f81fa 702px,#2798ea 712px,#1aacdd 724px,#08b4d0 731px,#01b9c7 736px,#07bcbf 740px,#24c1ae 749px,#3eca8f 766px,#4fcc81 773px,#75cc61 789px,#9bc944 807px,#bdc32e 829px,#ccc028 843px,#d9be28 859px,#eabb30 896px,#f2ba38 934px,#f8ba3d 1004px,#f9bb3d 100%)"></i><i class="w" style="background:linear-gradient(#f8ba3d 0,#f6ba3b 296px,#f0ba36 359px,#e3bc2c 407px,#c8c129 447px,#a5c83d 474px,#87cb54 490px,#4ecc81 514px,#3eca8f 521px,#24c1ae 538px,#0abdbd 546px,#01b9c6 551px,#07b5d0 556px,#18aedb 562px,#23a0e5 571px,#307ffb 586px,#3e70ff 591px,#4563fd 595px,#484bef 602px,#463cde 606px,#3e27ab 612px,#3e26a8 675px,#463cdf 682px,#4848ec 685px,#475af9 690px,#3d70ff 697px,#317dfc 701px,#2699ea 713px,#19addc 725px,#07b5d0 732px,#01b9c6 737px,#08bcbf 741px,#22c1b0 749px,#3bc992 765px,#4fcc81 774px,#89cb52 799px,#a3c83e 813px,#b9c430 828px,#d0bf27 850px,#e7bb2d 891px,#f1ba37 936px,#f7ba3c 1014px,#f8ba3d 100%)"></i><i class="w" style="background:linear-gradient(#f8ba3d 0,#f5ba3a 296px,#eeba34 364px,#e0bc2a 411px,#c7c129 446px,#a5c83d 473px,#83cc57 491px,#4fcc80 513px,#3dca90 521px,#23c1af 538px,#06bcc0 547px,#01b9c7 551px,#06b5cf 555px,#19addc 562px,#23a1e5 570px,#2f81fa 585px,#3e6fff 591px,#475cfa 597px,#4742e7 604px,#4537d6 607px,#3e27a9 612px,#3e26a8 675px,#3e27ab 676px,#4538d7 681px,#4747eb 685px,#475cfa 691px,#3e6fff 697px,#307efb 702px,#259ce7 715px,#1da9e0 723px,#02b7cb 735px,#01bac5 738px,#09bdbe 742px,#23c1af 750px,#3fca8e 768px,#4dcc82 774px,#81cc59 796px,#9cc943 810px,#b9c430 829px,#d0bf27 852px,#e6bb2d 892px,#efba35 929px,#f5ba3a 991px,#f8ba3d 100%)"></i><i class="w" style="background:linear-gradient(#f7ba3c 0,#f4ba39 303px,#edba33 366px,#e1bc2b 407px,#c7c129 445px,#b7c532 460px,#a2c83f 474px,#86cb55 489px,#4ecc81 513px,#3eca8f 520px,#24c1ae 537px,#05bbc1 547px,#01b9c6 550px,#01b8ca 552px,#17aedb 561px,#269be8 573px,#2e83f9 584px,#3f6eff 591px,#465efb 596px,#4742e6 604px,#4536d5 607px,#3e26a8 612px,#3e26a8 675px,#3e27a9 676px,#4537d6 681px,#484aee 686px,#465efb 692px,#3c72ff 698px,#2f80fa 703px,#259de7 716px,#19addc 726px,#07b5d0 733px,#01b9c6 738px,#08bcbf 742px,#22c1b0 750px,#3eca8f 768px,#4ecc81 775px,#76cc60 792px,#98ca47 808px,#b9c430 830px,#d0bf27 853px,#e7bb2d 897px,#f0ba36 940px,#f5ba3a 1005px,#f7ba3c 100%)"></i><i class="w" style="background:linear-gradient(#f7ba3c 0,#f4ba39 295px,#edba33 363px,#e0bc2a 408px,#c8c129 444px,#a9c73a 469px,#87cb54 488px,#4dcc82 513px,#3fca8e 519px,#23c1af 537px,#01bac5 549px,#02b7cb 552px,#1aacdd 562px,#249ee6 571px,#317dfc 586px,#3d70ff 590px,#465dfb 596px,#4849ed 602px,#4639da 606px,#3e26a8 612px,#3e26a8 619px,#3e26a8 676px,#4433cd 680px,#4745ea 685px,#465efb 692px,#3d71ff 698px,#317dfc 702px,#2797eb 713px,#18aedb 727px,#08b5d0 733px,#01b9c7 738px,#07bcbf 742px,#24c1af 751px,#3cc991 767px,#4dcc82 775px,#81cc59 797px,#98c946 809px,#bbc42f 832px,#d5be28 860px,#e8bb2e 902px,#f0ba36 944px,#f5ba3a 1016px,#f7ba3c 100%)"></i><i class="w" style="background:linear-gradient(#f6ba3b 0,#f3ba38 305px,#edba33 361px,#dfbc2a 409px,#c8c129 443px,#b8c431 458px,#a3c83e 472px,#84cc57 489px,#4ecc81 512px,#3bc992 521px,#25c2ae 536px,#0bbdbc 544px,#01b9c6 549px,#07b5cf 554px,#19addc 561px,#269ae9 573px,#307ffb 585px,#3e70ff 590px,#4759f9 597px,#4848ec 602px,#4539d9 606px,#3e26a8 612px,#3e26a8 676px,#4536d3 681px,#4745e9 685px,#475af9 691px,#3d70ff 698px,#307ffb 703px,#259ce7 716px,#1aacdd 726px,#02b7cb 736px,#01bac6 739px,#06bcc0 742px,#23c1af 751px,#3dc990 768px,#4fcc81 776px,#92ca4b 806px,#b8c431 830px,#d0bf27 855px,#e7bb2d 900px,#f0ba36 947px,#f4ba39 1001px,#f6ba3b 100%)"></i><i class="w" style="background:linear-gradient(#f6ba3b 0,#f3ba38 297px,#ecba32 363px,#e0bc2a 405px,#c8c129 442px,#b9c430 456px,#a1c840 473px,#7ccc5c 492px,#4dcc82 512px,#3ac993 521px,#24c1af 536px,#0abdbd 544px,#01b9c7 549px,#07b5d0 554px,#19addc 561px,#259de7 571px,#2f81fa 584px,#3e6fff 590px,#475cfa 596px,#4744e8 603px,#4435d1 607px,#3e26a8 612px,#3e26a8 676px,#4539d9 682px,#4848ec 686px,#4756f7 690px,#3e6fff 698px,#307efb 703px,#249fe6 718px,#19addc 727px,#07b5d0 734px,#01b9c6 739px,#0abdbd 744px,#24c1ae 752px,#3cc991 768px,#4dcc82 776px,#93ca4b 807px,#b9c430 832px,#d3bf27 859px,#e7bb2d 902px,#f0ba36 952px,#f4ba39 1014px,#f6ba3b 100%)"></i><i class="w" style="background:linear-gradient(#f5ba3a 0,#f2ba37 299px,#ebba31 363px,#debd29 407px,#c4c22a 444px,#a2c83f 471px,#7ccc5c 491px,#4ecc81 511px,#3eca8f 518px,#25c2ae 535px,#0bbdbc 543px,#01b9c6 548px,#02b7cb 551px,#1aacdd 561px,#249ee6 570px,#317dfc 585px,#3f6eff 590px,#475bfa 596px,#4747eb 602px,#4538d7 606px,#3e28ac 611px,#3e26a8 612px,#3e26a8 676px,#4538d8 682px,#4747eb 686px,#475cfa 692px,#3c72ff 699px,#2f80fa 704px,#2699ea 715px,#1babde 726px,#02b7cb 737px,#01bac5 740px,#09bcbe 744px,#25c2ae 753px,#3eca8f 770px,#4ecc81 777px,#91ca4d 807px,#a1c840 816px,#bbc42f 835px,#c7c129 847px,#d6be28 866px,#e6bb2d 903px,#eeba35 951px,#f3ba38 1010px,#f5ba3a 100%)"></i><i class="w" style="background:linear-gradient(#f3ba38 0,#f0ba36 296px,#eabb30 356px,#ddbd29 403px,#c8c129 437px,#b7c532 454px,#a3c83e 468px,#7dcc5c 489px,#4dcc82 510px,#3cc991 518px,#25c2ae 534px,#09bdbe 543px,#01bac5 547px,#02b7cb 550px,#17aedb 559px,#249fe6 569px,#307ffb 584px,#3d70ff 589px,#465efb 595px,#4746ea 602px,#4537d6 606px,#3e27ab 611px,#3e26a8 612px,#3e26a8 676px,#3e28ac 677px,#4538d7 682px,#4746eb 686px,#4758f8 691px,#3d71ff 699px,#317dfc 703px,#269ae9 716px,#19addc 728px,#07b5d0 735px,#01b9c7 740px,#07bcbf 744px,#23c1af 753px,#3eca8f 771px,#4dcc82 778px,#76cc60 796px,#95ca4a 811px,#b9c430 836px,#d0bf27 862px,#e2bc2b 898px,#ecba32 946px,#f1ba36 1014px,#f3ba38 100%)"></i><i class="w" style="background:linear-gradient(#efba35 0,#edba33 286px,#e7bb2d 353px,#dabd28 401px,#c4c22a 436px,#a6c83c 463px,#90ca4d 477px,#4ecc81 508px,#3dca90 516px,#27c2ac 532px,#07bcbf 543px,#01b9c7 547px,#07b5d0 552px,#19addc 559px,#2797eb 573px,#2f81fa 583px,#3e6fff 589px,#4660fc 594px,#4849ed 601px,#4536d5 606px,#3e27a9 611px,#3e26a8 676px,#3e27ab 677px,#4537d6 682px,#4746ea 686px,#465dfb 693px,#3e70ff 699px,#307efb 704px,#269be8 717px,#1aacdd 728px,#01b8ca 739px,#01b9c6 741px,#05bbc1 744px,#29c3aa 757px,#3ac993 770px,#4ecc81 780px,#85cb56 805px,#98c946 816px,#b1c635 833px,#c4c22a 852px,#d0bf27 868px,#e0bc2a 904px,#e9bb2f 950px,#eeba34 1027px,#efba35 100%)"></i><i class="w" style="background:linear-gradient(#ecba32 0,#e8bb2e 307px,#e1bc2b 363px,#d3bf27 407px,#bfc32d 437px,#9ac945 468px,#71cd64 490px,#44cb89 511px,#25c2ae 532px,#0abdbd 541px,#01b9c6 546px,#06b5cf 551px,#1babde 560px,#269ae9 571px,#317dfc 584px,#3e6fff 589px,#4756f7 597px,#4745e9 602px,#4536d4 606px,#3e26a8 611px,#3e26a8 676px,#3e27aa 677px,#4537d5 682px,#4849ed 687px,#475af9 692px,#3b72ff 700px,#2f80fa 705px,#259ce7 718px,#18aedb 730px,#02b7cb 739px,#01b9c6 742px,#0abdbd 747px,#29c3aa 758px,#3bc992 772px,#4dcc82 781px,#8fcb4e 813px,#b1c635 837px,#c8c129 862px,#ddbd29 908px,#e6bb2d 958px,#eabb30 1021px,#ecba32 100%)"></i><i class="w" style="background:linear-gradient(#e8bb2f 0,#e6bb2d 288px,#dfbc2a 356px,#d3bf27 399px,#bbc42f 437px,#abc739 453px,#96ca48 468px,#70cd65 489px,#44cb89 510px,#2bc3a8 528px,#01bac5 545px,#03b7cc 549px,#1aacdd 559px,#259de7 569px,#317dfc 584px,#3f6fff 589px,#475cfa 595px,#4744e9 602px,#4536d4 606px,#3e26a8 611px,#3e26a8 676px,#3e27aa 677px,#4536d5 682px,#4849ed 687px,#4759f9 692px,#3b72ff 700px,#317dfb 704px,#249fe6 720px,#18addb 730px,#01b8ca 740px,#01b9c7 742px,#04bbc1 745px,#26c2ad 757px,#45cb89 778px,#86cb55 810px,#acc738 836px,#c7c129 867px,#d9be28 906px,#e2bc2b 952px,#e7bb2d 1022px,#e8bb2f 100%)"></i><i class="w" style="background:linear-gradient(#e7bb2e 0,#e5bb2c 282px,#dfbc2a 349px,#d2bf27 399px,#bec32e 433px,#a9c73b 454px,#98c946 466px,#87cb54 477px,#44cb89 510px,#26c2ad 531px,#04bbc1 543px,#01b8ca 548px,#18addb 558px,#269ae9 571px,#2f80fa 583px,#4269fe 591px,#4853f5 598px,#4741e5 603px,#4536d5 606px,#3e27a9 611px,#3e26a8 676px,#3e27ab 677px,#4537d6 682px,#4746ea 686px,#475af9 692px,#3e6fff 699px,#2f81fa 705px,#259ce7 718px,#1babde 728px,#01b8ca 740px,#01b9c6 742px,#02bbc3 744px,#28c2ab 758px,#45cb89 778px,#89cb53 812px,#a8c73b 833px,#c4c22a 864px,#d7be28 903px,#e0bc2a 946px,#e5bb2c 1006px,#e7bb2e 100%)"></i><i class="w" style="background:linear-gradient(#eabb30 0,#e7bb2d 299px,#dfbc2a 366px,#d4bf27 402px,#bfc32d 436px,#9bc944 467px,#82cc58 482px,#4ecc81 507px,#37c897 519px,#28c2ab 531px,#04bbc1 544px,#01b9c7 547px,#01b7ca 549px,#1aacdd 560px,#259de7 570px,#307ffb 584px,#3d71ff 589px,#4758f8 597px,#4746eb 602px,#4538d7 606px,#3e28ac 611px,#3e26a8 612px,#3e26a8 676px,#4538d8 682px,#4747eb 686px,#475bfa 692px,#3c71ff 699px,#317dfc 703px,#259de7 718px,#18addb 729px,#01b8ca 739px,#01b9c6 741px,#02bbc3 743px,#2ac3a9 758px,#3fca8e 774px,#4ecc81 781px,#86cb55 808px,#aec637 835px,#c9c129 865px,#dbbd28 906px,#e8bb2e 1009px,#eabb30 100%)"></i><i class="w" style="background:linear-gradient(#f1ba36 0,#eeba34 291px,#e7bb2d 361px,#dbbd28 403px,#c4c22a 439px,#b3c534 456px,#9fc941 470px,#7ecc5a 488px,#4ecc81 510px,#3dc990 518px,#22c1b0 536px,#06bcc0 545px,#01bac5 548px,#02b7cb 551px,#18aedb 560px,#249fe6 570px,#307ffb 585px,#3d70ff 590px,#4563fd 594px,#484cf0 601px,#4639da 606px,#3e26a8 612px,#3e26a8 616px,#3e26a8 676px,#463adb 682px,#4849ed 686px,#465dfb 692px,#3d70ff 698px,#307ffb 703px,#269ae9 715px,#1caadf 725px,#02b7cb 737px,#01bac5 740px,#09bdbe 744px,#25c2ae 753px,#3dca90 770px,#4ecc81 778px,#8bcb51 806px,#9ec942 817px,#b7c531 836px,#d2bf27 867px,#e2bc2b 905px,#eabb30 947px,#efba35 1020px,#f1ba36 100%)"></i><i class="w" style="background:linear-gradient(#f8ba3d 0,#f5ba3a 306px,#edba33 372px,#dfbc2a 414px,#c5c22a 449px,#a3c83e 474px,#7fcc5a 493px,#4dcc82 514px,#3ac993 523px,#23c1af 538px,#07bcbf 547px,#01b9c7 551px,#08b4d0 556px,#1aacdd 563px,#249ee6 572px,#307ffb 586px,#3e70ff 591px,#475cfa 597px,#4743e8 604px,#4538d8 607px,#3e27ac 612px,#3e26a8 613px,#3e26a8 675px,#463cdf 682px,#4848ec 685px,#475af9 690px,#3d70ff 697px,#307ffb 702px,#23a0e5 717px,#18aedb 726px,#08b5d0 732px,#01b9c7 737px,#07bcbf 741px,#24c1af 750px,#3cc991 766px,#4ecc81 774px,#9bc944 809px,#bac430 829px,#d0bf27 851px,#e7bb2d 893px,#f0ba36 932px,#f6ba3b 1001px,#f8ba3d 100%)"></i><i class="w" style="background:linear-gradient(#fdbd3d 0,#fabb3d 323px,#f3ba39 375px,#e8bb2e 412px,#d0bf27 447px,#c5c22a 458px,#a9c73a 477px,#85cb55 495px,#4fcc81 517px,#3cc991 525px,#25c2ae 540px,#0abdbd 548px,#01b9c7 553px,#08b4d1 558px,#1aacdd 565px,#249fe6 573px,#307ffb 587px,#4269fe 594px,#4852f4 601px,#473ee2 606px,#4433cd 609px,#3e26a8 613px,#3e26a8 675px,#4537d6 680px,#4743e7 683px,#475cfa 690px,#3d70ff 696px,#317dfc 700px,#23a1e5 716px,#14b0d8 726px,#01b7ca 733px,#01b9c6 735px,#08bcbf 739px,#23c1af 747px,#3eca8f 764px,#4fcc80 771px,#99c946 802px,#bdc32e 824px,#d3bf27 844px,#ecba32 886px,#f8ba3d 940px,#fbbc3d 985px,#fdbd3d 100%)"></i><i class="w" style="background:linear-gradient(#fec13a 0,#febd3c 322px,#f8ba3d 381px,#edba33 415px,#dfbc2a 439px,#d0bf27 455px,#c4c22a 465px,#a8c73b 483px,#86cb55 499px,#4fcc80 520px,#3cc991 528px,#26c2ad 542px,#05bbc1 552px,#01b9c7 555px,#06b5cf 559px,#19addc 566px,#259ce7 576px,#317dfc 589px,#4269fe 595px,#4854f6 601px,#4741e5 606px,#4535d2 609px,#3f28ad 613px,#3e26a8 614px,#3e26a8 674px,#4536d3 679px,#4742e6 682px,#475cfa 689px,#3d70ff 695px,#2e83f9 701px,#23a0e5 714px,#19addc 722px,#08b4d1 728px,#01b9c6 733px,#0bbdbc 738px,#24c1af 745px,#3eca8f 761px,#4dcc82 767px,#96ca48 796px,#aec637 808px,#c5c22a 823px,#dbbd28 844px,#f0ba36 880px,#f8ba3d 907px,#febd3c 966px,#fec13a 100%)"></i><i class="w" style="background:linear-gradient(#fec437 0,#fec438 244px,#febd3c 367px,#f8ba3d 401px,#f2ba37 417px,#e5bb2c 440px,#d3bf27 459px,#b6c532 480px,#93ca4a 497px,#5fcd73 517px,#3fca8e 529px,#24c1af 545px,#01bac5 556px,#02b7cb 559px,#16afd9 566px,#21a4e3 573px,#307ffb 589px,#3e6fff 594px,#465efb 599px,#4744e8 606px,#4538d7 609px,#3e26a8 614px,#3e26a9 674px,#4434d0 678px,#4740e4 681px,#4758f8 687px,#3e70ff 694px,#2e83f9 700px,#1fa6e2 716px,#01b9c7 731px,#02bbc3 733px,#24c1ae 743px,#45cb89 761px,#96ca48 792px,#a9c73a 801px,#c3c22b 816px,#d0bf27 826px,#e2bc2b 844px,#f6ba3b 881px,#febd3c 921px,#fec438 1044px,#fec437 100%)"></i><i class="w" style="background:linear-gradient(#fec835 0,#fec636 301px,#febd3c 389px,#f6ba3b 419px,#e8bb2e 443px,#dabd28 458px,#d0bf27 467px,#bbc42f 481px,#9bc944 497px,#4dcc82 526px,#36c898 536px,#28c2ab 545px,#01b9c6 558px,#01b7ca 560px,#13b1d7 566px,#1fa6e2 573px,#307ffb 590px,#3f6fff 595px,#4759f9 601px,#4742e6 607px,#4536d3 610px,#3e28ac 614px,#3e26a8 615px,#3e26a8 673px,#4536d4 678px,#4742e7 681px,#4756f7 686px,#3e6fff 693px,#307ffb 698px,#259de7 710px,#1babde 718px,#03b7cc 727px,#01b9c6 730px,#0abdbd 734px,#26c2ad 742px,#36c898 752px,#4ecc82 762px,#9ec942 792px,#c5c22a 813px,#d3bf27 823px,#e6bb2d 842px,#f8ba3d 874px,#febd3c 899px,#fec636 987px,#fec835 100%)"></i><i class="w" style="background:linear-gradient(#feca33 0,#fec835 308px,#febd3c 400px,#f9ba3d 419px,#ebba31 444px,#dabd28 462px,#c8c129 476px,#b9c430 485px,#97ca47 501px,#60cd72 521px,#3fca8e 533px,#29c3aa 546px,#0abdbd 555px,#01b9c6 559px,#03b7cc 562px,#1babde 571px,#2896ec 582px,#2f81fa 590px,#426afe 597px,#4758f8 602px,#4744e8 607px,#4537d6 610px,#3e26a8 615px,#3e26a8 673px,#4434cf 677px,#4744e9 681px,#475cfa 687px,#3c71ff 693px,#307ffb 697px,#2994ed 705px,#1babde 717px,#05b6ce 725px,#01bac5 729px,#27c2ac 741px,#45cb89 757px,#72cd64 773px,#9ac945 788px,#c5c22a 810px,#d3bf27 820px,#e2bc2b 833px,#f9ba3d 869px,#febd3c 888px,#fec835 980px,#feca33 100%)"></i><i class="w" style="background:linear-gradient(#fdcb32 0,#fec934 312px,#febd3c 405px,#f9ba3d 423px,#e7bb2d 452px,#d3bf27 470px,#c5c22a 480px,#a2c83f 498px,#5ecd74 523px,#3fca8e 534px,#24c1ae 549px,#0abdbd 556px,#01b9c6 560px,#01b7ca 562px,#1aacdd 571px,#2995ec 583px,#317dfc 592px,#4368fe 598px,#4852f4 604px,#4741e5 608px,#4435d1 611px,#3e26a8 615px,#3e26a8 672px,#3e27aa 673px,#4535d2 677px,#4742e6 680px,#4756f7 685px,#3e6fff 692px,#2f80fa 697px,#259ce7 708px,#18aedb 718px,#03b7cc 725px,#01b9c6 728px,#0abdbd 732px,#27c2ac 740px,#4dcc82 759px,#9ec942 788px,#c5c22a 808px,#d4bf27 818px,#e8bb2e 837px,#f9ba3d 865px,#febd3c 883px,#fec934 976px,#fdcb32 100%)"></i><i class="w" style="background:linear-gradient(#fdcc32 0,#feca34 310px,#febd3c 409px,#f9ba3d 426px,#eabb30 450px,#dabd28 466px,#ccc028 477px,#b9c430 488px,#9bc944 502px,#61cd72 523px,#41ca8c 534px,#26c2ad 549px,#0cbdbc 556px,#01b9c7 561px,#02b7cb 563px,#19addc 571px,#2896ec 583px,#2f81fa 591px,#4269fe 598px,#4853f5 604px,#4747eb 607px,#4536d3 611px,#3e27ab 615px,#3e26a8 672px,#3e28ac 673px,#4536d4 677px,#4743e7 680px,#4757f7 685px,#3d71ff 692px,#327bfc 695px,#259de7 708px,#19addc 717px,#04b6cd 724px,#01b9c7 727px,#09bdbe 731px,#24c1af 738px,#3fca8e 753px,#4dcc82 758px,#9ec942 787px,#c6c22a 807px,#d3bf27 816px,#e7bb2d 834px,#f8ba3d 860px,#fbbc3d 868px,#fec636 926px,#fdcb33 1003px,#fdcc32 100%)"></i><i class="w" style="background:linear-gradient(#fdcd31 0,#fdcb33 305px,#fec636 368px,#febd3c 412px,#f9ba3d 428px,#e8bb2e 454px,#d3bf27 473px,#c5c22a 482px,#b1c635 493px,#86cb55 511px,#4ecc81 530px,#40ca8d 535px,#27c2ac 549px,#0abdbd 557px,#01b9c6 561px,#01b7ca 563px,#1aacdd 572px,#2797eb 583px,#307ffb 592px,#426afe 598px,#4757f8 603px,#4743e7 608px,#463adc 610px,#3e28ac 615px,#3e26a8 616px,#3e26a8 672px,#3f28ae 673px,#4433cd 676px,#4744e8 680px,#475cfa 686px,#3c72ff 692px,#307ffb 696px,#2995ec 704px,#1aacdd 716px,#03b7cc 724px,#01bac6 727px,#0bbdbd 731px,#25c2ae 738px,#3eca8f 752px,#4fcc81 758px,#77cc5f 772px,#a2c83f 788px,#c6c22a 806px,#dabd28 821px,#e9bb2f 835px,#f8ba3d 858px,#fcbc3d 869px,#fec636 920px,#fdcb33 983px,#fdcd31 100%)"></i><i class="w" style="background:linear-gradient(#fdce31 0,#fdcb33 315px,#febd3c 413px,#f9ba3d 429px,#e7bb2d 456px,#d4bf27 473px,#c5c22a 483px,#b4c533 492px,#92ca4c 507px,#61cd72 524px,#41ca8c 535px,#25c2ad 550px,#0bbdbc 557px,#01bac5 561px,#05b6ce 565px,#1da9e0 574px,#2995ec 584px,#307ffb 592px,#3f6eff 597px,#4758f8 603px,#4744e8 608px,#463bdd 610px,#3f28ad 615px,#3e26a8 616px,#3e26a8 672px,#4434ce 676px,#4744e8 680px,#475cfa 686px,#3b72ff 692px,#2e83f9 697px,#259ce7 707px,#1babde 715px,#07b5d0 722px,#01b9c7 726px,#02bbc3 728px,#28c2ab 739px,#44cb89 754px,#73cd63 770px,#a1c840 787px,#c5c22a 805px,#d2bf27 814px,#e8bb2e 833px,#f9ba3d 859px,#febd3c 875px,#fdcb33 973px,#fdce31 100%)"></i><i class="w" style="background:linear-gradient(#fdce31 0,#fdcc32 298px,#fec636 373px,#febd3c 414px,#f8ba3d 432px,#e9bb2f 454px,#d3bf27 474px,#c5c22a 483px,#b2c534 493px,#95ca49 506px,#5ecd74 525px,#3fca8e 536px,#23c1af 551px,#05bbc1 559px,#01b9c7 562px,#05b6ce 565px,#1babde 573px,#249ee6 580px,#307ffb 592px,#3f6eff 597px,#4854f6 604px,#4744e8 608px,#4537d6 611px,#3f28ae 615px,#3e26a8 616px,#3e26a8 672px,#4537d7 677px,#4740e4 679px,#4755f6 684px,#4564fd 688px,#3e6fff 691px,#317dfc 695px,#269ae9 706px,#1babde 715px,#02b7cb 724px,#01b9c7 726px,#0cbdbc 731px,#26c2ad 738px,#3fca8e 752px,#4dcc82 757px,#9cc943 785px,#c5c22a 805px,#dabd28 820px,#eabb30 835px,#f8ba3d 856px,#fdbd3d 870px,#fec636 915px,#fdcc32 990px,#fdce31 100%)"></i><i class="w" style="background:linear-gradient(#fdce31 0,#fdcc32 296px,#fec736 365px,#febd3c 414px,#f9bb3d 429px,#e8bb2e 455px,#d3bf27 474px,#b4c533 492px,#8dcb50 509px,#5ecd74 525px,#41ca8c 535px,#23c1af 551px,#0bbdbc 557px,#01bac5 561px,#05b6ce 565px,#17aedb 571px,#23a0e5 579px,#307ffb 592px,#3f6eff 597px,#4758f8 603px,#4744e8 608px,#463bdd 610px,#3e26a8 616px,#3e26a8 672px,#463bde 678px,#4849ed 681px,#4564fd 688px,#3b72ff 692px,#317dfc 695px,#269ae9 706px,#1babde 715px,#07b5d0 722px,#01b9c7 726px,#0cbdbc 731px,#26c2ad 738px,#3fca8e 752px,#4dcc82 757px,#9ac945 784px,#c5c22a 805px,#dabd28 820px,#e9bb2f 834px,#f8ba3d 856px,#fcbc3d 867px,#fec736 923px,#fdcc32 992px,#fdce31 100%)"></i><i class="w" style="background:linear-gradient(#fdcd31 0,#fdcb33 310px,#fec636 370px,#febd3c 412px,#f8ba3d 431px,#dbbd28 467px,#c7c129 481px,#b8c531 490px,#9bc944 503px,#4fcc81 530px,#3eca8f 536px,#25c2ae 550px,#0bbdbd 557px,#01b9c6 561px,#03b7cc 564px,#1aacdd 572px,#2797eb 583px,#307ffb 592px,#426afe 598px,#475bfa 602px,#4848ec 607px,#4536d5 611px,#3f28ad 615px,#3e26a8 616px,#3e26a8 672px,#3f28ae 673px,#4537d6 677px,#4744e8 680px,#475cfa 686px,#3c72ff 692px,#307ffb 696px,#2995ec 704px,#18aedb 717px,#05b6ce 723px,#01bac5 727px,#2ac3a9 740px,#44cb8a 754px,#9ec942 786px,#c4c22a 805px,#d3bf27 815px,#eabb30 836px,#fabb3d 862px,#febd3c 875px,#fec636 918px,#fdcb33 978px,#fdcd31 100%)"></i><i class="w" style="background:linear-gradient(#fdcd32 0,#fdcb33 295px,#fec636 365px,#febd3c 410px,#f9ba3d 427px,#e9bb2f 452px,#d3bf27 472px,#c5c22a 482px,#b4c533 491px,#8dcb50 508px,#4dcc82 530px,#3fca8e 535px,#24c1af 550px,#09bdbe 557px,#01b9c6 561px,#04b6cd 564px,#19addc 571px,#249fe6 579px,#2f81fa 591px,#3d70ff 596px,#465efb 601px,#4747eb 607px,#463adb 610px,#3e27ab 615px,#3e26a8 672px,#3f28ad 673px,#463adc 678px,#4743e7 680px,#4757f7 685px,#3d71ff 692px,#307ffb 696px,#2699ea 706px,#1caadf 715px,#06b5cf 723px,#01b9c6 727px,#0abdbd 731px,#29c3aa 740px,#42ca8b 754px,#4ecc82 758px,#9ac945 785px,#c5c22a 806px,#d3bf27 816px,#eabb30 837px,#f8ba3d 859px,#fbbc3d 867px,#fec636 923px,#fdcb33 993px,#fdcd32 100%)"></i><i class="w" style="background:linear-gradient(#fdcc32 0,#feca34 298px,#fec537 366px,#febd3c 407px,#f9ba3d 424px,#eabb30 449px,#dabd28 465px,#c7c129 479px,#b6c532 489px,#95ca49 504px,#4ecc81 529px,#40ca8d 534px,#25c2ae 549px,#0bbdbd 556px,#01b9c6 560px,#03b7cc 563px,#18aedb 570px,#259ce7 580px,#317dfc 592px,#4368fe 598px,#475af9 602px,#4746ea 607px,#4435d1 611px,#3e26a9 615px,#3e26a8 672px,#3e27aa 673px,#4536d2 677px,#4742e6 680px,#4756f7 685px,#3e70ff 692px,#2f80fa 697px,#2798ea 706px,#1babde 716px,#05b6ce 724px,#01bac5 728px,#0bbdbd 732px,#25c2ae 739px,#40ca8d 754px,#4ecc81 759px,#9cc943 787px,#c4c22a 807px,#d3bf27 817px,#e7bb2d 835px,#f8ba3d 861px,#fcbc3d 873px,#fec537 922px,#feca34 990px,#fdcc32 100%)"></i><i class="w" style="background:linear-gradient(#fdcb33 0,#fec934 296px,#febd3c 402px,#f9ba3d 421px,#e3bc2c 455px,#d3bf27 469px,#c5c22a 479px,#9bc944 500px,#5fcd73 522px,#40ca8d 533px,#25c2ae 548px,#0bbdbd 555px,#01bac5 559px,#07b5d0 564px,#1babde 571px,#2994ed 583px,#307ffb 591px,#426afe 597px,#4854f6 603px,#4744e8 607px,#4538d7 610px,#3e26a8 615px,#3e26a8 673px,#4434d0 677px,#4745e9 681px,#475cfa 687px,#3c72ff 693px,#307ffb 697px,#269be8 708px,#19addc 718px,#07b5d0 724px,#01b9c7 728px,#05bbc1 731px,#25c2ad 740px,#40ca8d 755px,#4ecc81 760px,#9ec942 789px,#c5c22a 809px,#d3bf27 819px,#e5bb2c 835px,#fabb3d 870px,#febd3c 886px,#fec934 992px,#fdcb33 100%)"></i><i class="w" style="background:linear-gradient(#fec934 0,#fec835 284px,#febd3c 395px,#f8ba3d 418px,#eabb30 443px,#dabd28 460px,#bfc32d 480px,#9fc941 496px,#5fcd73 520px,#41ca8c 531px,#24c1ae 547px,#0abdbd 554px,#01bac6 558px,#05b6ce 562px,#19addc 569px,#269be8 579px,#307ffb 590px,#4368fe 597px,#4756f7 602px,#4746eb 606px,#4536d4 610px,#3f28ad 614px,#3e26a8 615px,#3e26a8 673px,#4537d5 678px,#4743e7 681px,#4757f7 686px,#3e6fff 693px,#317dfc 697px,#2797eb 707px,#19addc 719px,#07b5d0 725px,#01bac5 730px,#27c2ac 742px,#44cb89 758px,#74cd62 775px,#9bc944 790px,#c1c32c 809px,#dabd28 828px,#eabb30 845px,#f8ba3d 870px,#febd3c 893px,#fec835 1004px,#fec934 100%)"></i><i class="w" style="background:linear-gradient(#fec636 0,#fec537 277px,#febd3c 377px,#f7ba3d 407px,#f2ba37 421px,#e6bb2d 441px,#d3bf27 461px,#c4c22a 472px,#b6c532 481px,#89cb52 502px,#4dcc82 524px,#38c896 533px,#29c3aa 543px,#08bcbe 553px,#01b9c7 557px,#06b5cf 561px,#18aedb 567px,#2b92ee 582px,#317dfc 590px,#4269fe 596px,#4854f5 602px,#4744e8 606px,#4538d7 609px,#3e26a8 614px,#3e26a8 673px,#3e27a9 674px,#4435d0 678px,#4745e9 682px,#475bfa 688px,#3d70ff 694px,#2f80fa 699px,#249fe6 712px,#17aedb 721px,#06b5cf 727px,#01b9c6 731px,#06bcc0 734px,#25c2ae 743px,#3cc991 757px,#4ecc81 764px,#9ac945 793px,#c5c22a 816px,#d3bf27 827px,#e3bc2c 843px,#f6ba3b 876px,#febd3c 911px,#fec537 1011px,#fec636 100%)"></i><i class="w" style="background:linear-gradient(#fec03a 0,#febd3c 316px,#f8ba3d 379px,#ecba32 416px,#d1bf27 454px,#c5c22a 464px,#abc739 481px,#82cc57 500px,#4fcc81 520px,#38c896 530px,#23c1af 543px,#02bbc3 553px,#01b9c7 555px,#06b5cf 559px,#19addc 566px,#269ae9 577px,#317dfc 589px,#4269fe 595px,#4854f6 601px,#4741e5 606px,#4639da 608px,#3f28ad 613px,#3e26a8 614px,#3e26a8 674px,#463adb 680px,#4742e6 682px,#475cfa 689px,#3d70ff 695px,#2e83f9 701px,#23a0e5 714px,#19addc 722px,#08b4d1 728px,#01b9c7 733px,#05bbc1 736px,#26c2ad 746px,#45cb89 764px,#97ca47 797px,#c1c32c 821px,#d1bf27 834px,#ddbd29 847px,#f1ba36 884px,#f8ba3d 909px,#febd3c 972px,#fec03a 100%)"></i><i class="w" style="background:linear-gradient(#fabb3d 0,#f8ba3d 311px,#f2ba37 365px,#e4bb2c 413px,#d0bf27 443px,#c1c32c 458px,#acc738 473px,#8fcb4e 489px,#4fcc80 516px,#39c994 526px,#26c2ad 539px,#09bdbe 548px,#01bac6 552px,#02b7cb 555px,#19addc 564px,#2699ea 576px,#307ffb 587px,#3e70ff 592px,#475cfa 598px,#4742e6 605px,#4537d5 608px,#3e26a8 613px,#3e26a8 675px,#4537d6 680px,#4743e7 683px,#475cfa 690px,#3d70ff 696px,#307ffb 701px,#259de7 714px,#19addc 724px,#06b5cf 731px,#01bac5 736px,#24c1ae 748px,#3bc992 763px,#4fcc80 772px,#8bcb51 797px,#a2c83f 809px,#b9c430 824px,#d0bf27 845px,#e0bc2a 867px,#eabb30 890px,#f4ba3a 940px,#f9ba3d 999px,#fabb3d 100%)"></i><i class="w" style="background:linear-gradient(#f5ba3a 0,#f2ba37 299px,#ecba32 359px,#dfbc2a 406px,#c8c129 442px,#a9c73a 468px,#84cc57 489px,#4dcc82 513px,#3cc991 521px,#22c1b0 538px,#0bbdbd 545px,#01b9c6 550px,#07b5cf 555px,#19addb 562px,#259ce7 573px,#307ffb 586px,#3e70ff 591px,#475cfa 597px,#484bef 602px,#463cde 606px,#3e27ac 612px,#3e26a8 613px,#3e26a8 675px,#463cdf 682px,#4848ec 685px,#4759f9 690px,#3d70ff 697px,#307ffb 702px,#249ee6 716px,#1aacdd 725px,#02b7cb 735px,#01bac6 738px,#06bcc0 741px,#25c2ae 751px,#3eca8f 768px,#4dcc82 775px,#94ca4a 807px,#b9c430 832px,#d0bf27 856px,#e4bb2c 895px,#eeba34 943px,#f3ba38 1010px,#f5ba3a 100%)"></i><i class="w" style="background:linear-gradient(#efba35 0,#ecba32 299px,#e5bb2c 363px,#d8be28 406px,#c5c22a 436px,#a2c83f 467px,#8bcb51 481px,#4dcc82 510px,#3eca8f 517px,#24c1ae 535px,#0bbdbc 543px,#01bac5 548px,#02b7cb 551px,#18aedb 560px,#249fe6 570px,#307ffb 585px,#3d70ff 590px,#465dfb 596px,#4849ed 602px,#4536d4 607px,#3e26a8 612px,#3e26a8 616px,#3e26a8 676px,#4537d5 681px,#4746ea 685px,#465efb 692px,#3d71ff 698px,#307ffb 703px,#23a1e5 719px,#19addc 727px,#02b7cb 737px,#01bac5 740px,#22c1b0 752px,#3eca8f 771px,#4dcc82 778px,#8dcb50 808px,#b1c635 832px,#c3c22b 849px,#d0bf27 867px,#e0bc2a 904px,#e9bb2f 952px,#edba33 1009px,#efba35 100%)"></i><i class="w" style="background:linear-gradient(#ebba31 0,#e8bb2e 297px,#e2bc2b 355px,#d5be28 402px,#c1c32c 435px,#b4c534 449px,#9cc943 467px,#89cb53 479px,#4dcc82 508px,#3eca8f 515px,#29c3aa 531px,#0abdbd 542px,#01b9c6 547px,#02b7cb 550px,#18aedb 559px,#23a1e5 568px,#317dfc 585px,#3f6eff 590px,#475cfa 596px,#4747eb 602px,#4538d8 606px,#3e26a8 612px,#3e26a8 676px,#4539d9 682px,#4848ec 686px,#475cfa 692px,#3c72ff 699px,#2f80fa 704px,#259ce7 717px,#1caadf 726px,#02b7cb 738px,#01b9c6 741px,#2bc3a8 758px,#3dc990 772px,#4dcc82 780px,#8dcb50 811px,#aac739 831px,#c5c22a 858px,#dabd28 899px,#e4bb2c 946px,#e9bb2f 1012px,#ebba31 100%)"></i><i class="w" style="background:linear-gradient(#ebba31 0,#e8bb2e 294px,#e1bc2b 359px,#d6be28 399px,#c4c22a 430px,#b0c636 452px,#97ca47 470px,#72cd63 490px,#4ecc81 507px,#3fca8e 514px,#2ac3a9 530px,#1abfb5 537px,#09bdbe 542px,#01b9c7 547px,#01b8ca 549px,#1aacdd 560px,#259de7 570px,#307ffb 584px,#3d71ff 589px,#4758f8 597px,#4743e7 603px,#4538d7 606px,#3e27ac 611px,#3e26a8 612px,#3e26a8 676px,#4538d8 682px,#4747eb 686px,#475bfa 692px,#3c71ff 699px,#317dfc 703px,#259de7 718px,#18addb 729px,#01b8ca 739px,#01b9c6 741px,#02bbc3 743px,#1dc0b3 752px,#2cc4a7 759px,#44cb8a 776px,#83cc57 806px,#acc738 833px,#c4c22a 858px,#dbbd28 903px,#e5bb2c 956px,#e9bb2f 1017px,#ebba31 100%)"></i><i class="w" style="background:linear-gradient(#eeba34 0,#ebba31 298px,#e5bb2c 356px,#d6be28 407px,#c5c22a 434px,#b7c532 449px,#9ec942 468px,#82cc58 484px,#4ecc81 508px,#3dca90 516px,#2bc3a8 530px,#05bbc1 544px,#01b9c6 547px,#06b5cf 552px,#18addb 559px,#259de7 570px,#307ffb 584px,#3d70ff 589px,#465efb 595px,#484aee 601px,#463bdd 605px,#3e27ac 611px,#3e26a8 612px,#3e26a8 676px,#463bde 683px,#4747eb 686px,#4758f8 691px,#3c71ff 699px,#317dfc 703px,#249fe6 719px,#18aedb 729px,#02b7cb 738px,#01b9c6 741px,#2bc3a8 758px,#37c897 768px,#4ecc81 780px,#88cb53 807px,#b1c635 834px,#c8c129 858px,#debd29 902px,#e7bb2d 945px,#ecba32 1011px,#eeba34 100%)"></i><i class="w" style="background:linear-gradient(#f2ba38 0,#efba35 301px,#e9bb2f 358px,#dbbd28 406px,#c4c22a 440px,#b6c533 454px,#9ec942 471px,#6ecd66 495px,#44cb8a 514px,#29c3aa 532px,#0cbdbc 542px,#01b9c7 548px,#07b5d0 553px,#19addc 560px,#269ae9 572px,#317dfc 585px,#3f6eff 590px,#4758f8 597px,#4747eb 602px,#4538d7 606px,#3e28ac 611px,#3e26a8 612px,#3e26a8 676px,#4538d8 682px,#4747eb 686px,#475cfa 692px,#3c71ff 699px,#317dfc 703px,#259ce7 717px,#19addc 728px,#07b5d0 735px,#01b9c7 740px,#07bcbf 744px,#23c1af 753px,#3cc991 770px,#4dcc82 778px,#8ecb4e 808px,#b6c532 834px,#d0bf27 863px,#e3bc2c 904px,#f0ba36 1005px,#f2ba38 100%)"></i><i class="w" style="background:linear-gradient(#f5ba3a 0,#f2ba37 297px,#ecba32 357px,#dfbc2a 404px,#c8c129 440px,#a5c83d 469px,#80cc59 489px,#4dcc82 511px,#3cc991 519px,#22c1b0 536px,#0bbdbc 543px,#01b9c6 548px,#02b7cb 551px,#1aacdd 561px,#23a0e5 569px,#2f80fa 584px,#3f6fff 590px,#475cfa 596px,#4747eb 602px,#4538d8 606px,#3e26a8 612px,#3e26a8 676px,#4539d9 682px,#4848ec 686px,#475cfa 692px,#3b72ff 699px,#2f81fa 704px,#269be8 716px,#1babde 726px,#02b7cb 737px,#01bac5 740px,#09bcbe 744px,#25c2ae 753px,#3eca8f 770px,#4ecc81 777px,#92ca4b 808px,#b6c532 831px,#d0bf27 858px,#e5bb2c 900px,#eeba35 952px,#f3ba38 1012px,#f5ba3a 100%)"></i><i class="w" style="background:linear-gradient(#f6ba3b 0,#f3ba38 294px,#edba33 357px,#dfbc2a 407px,#c8c129 442px,#a2c83f 472px,#80cc59 490px,#4fcc80 511px,#3fca8e 518px,#26c2ad 535px,#07bcbf 545px,#01b9c7 549px,#07b5d0 554px,#19addc 561px,#259de7 571px,#2f81fa 584px,#3e6fff 590px,#475cfa 596px,#4847ec 602px,#463cdf 605px,#3e26a8 612px,#3e26a8 676px,#4639d9 682px,#4848ec 686px,#4759f9 691px,#3e70ff 698px,#307efb 703px,#249fe6 718px,#19addc 727px,#07b5d0 734px,#01b9c6 739px,#0abdbd 744px,#24c1af 752px,#3ac993 767px,#4dcc82 776px,#96ca48 809px,#b8c431 831px,#d0bf27 856px,#e7bb2d 903px,#f0ba36 953px,#f4ba39 1017px,#f6ba3b 100%)"></i><i class="w" style="background:linear-gradient(#f6ba3b 0,#f3ba38 302px,#ecba32 365px,#e0bc2a 406px,#c8c129 443px,#a6c83c 470px,#7fcc5a 491px,#4ecc81 512px,#3eca8f 519px,#22c1b0 537px,#08bcbf 545px,#01b9c6 549px,#07b5cf 554px,#19addc 561px,#23a1e5 569px,#307ffb 585px,#3e70ff 590px,#4759f9 597px,#4848ec 602px,#4539d9 606px,#3e26a8 612px,#3e26a8 676px,#4536d3 681px,#4745e9 685px,#475af9 691px,#3d70ff 698px,#307ffb 703px,#259ce7 716px,#19addc 727px,#09b4d1 733px,#01b9c6 739px,#0bbdbc 744px,#25c2ae 752px,#3eca8f 769px,#4ecc81 776px,#92ca4c 806px,#b7c531 830px,#d2bf27 857px,#e7bb2d 901px,#f0ba36 949px,#f4ba39 1006px,#f6ba3b 100%)"></i><i class="w" style="background:linear-gradient(#f6ba3b 0,#f4ba39 288px,#edba33 361px,#e0bc2a 407px,#c8c129 443px,#a2c83f 473px,#76cc60 495px,#4fcc81 512px,#3bc992 521px,#25c2ae 536px,#06bcc0 546px,#01bac6 549px,#02b7cb 552px,#1aacdd 562px,#259ce7 572px,#307ffb 585px,#3d70ff 590px,#475af9 597px,#4745e9 603px,#4536d3 607px,#3e26a8 612px,#3e26a8 619px,#3e26a8 676px,#463adb 682px,#4849ed 686px,#465efb 692px,#3d71ff 698px,#317dfc 702px,#249ee6 717px,#1aacdd 726px,#02b7cb 736px,#01bac5 739px,#09bdbe 743px,#23c1af 751px,#3dca90 768px,#4fcc80 776px,#79cc5e 794px,#9ac946 810px,#b9c430 831px,#d0c027 854px,#e7bb2d 900px,#f0ba36 947px,#f4ba39 1000px,#f6ba3b 100%)"></i><i class="w" style="background:linear-gradient(#f6ba3c 0,#f4ba39 292px,#ecba32 368px,#debd29 412px,#c7c129 444px,#aac739 468px,#8bcb51 486px,#4dcc82 513px,#3fca8e 519px,#23c1af 537px,#01bac5 549px,#02b7cb 552px,#18aedb 561px,#23a0e5 570px,#317dfc 586px,#3d71ff 590px,#465efb 596px,#4849ed 602px,#463adb 606px,#3e26a8 612px,#3e26a8 619px,#3e26a8 676px,#4537d5 681px,#4746ea 685px,#4758f8 690px,#3c71ff 698px,#317dfc 702px,#2699ea 714px,#18aedb 727px,#08b5d0 733px,#01b9c7 738px,#07bcbf 742px,#24c1af 751px,#3ac993 766px,#4dcc82 775px,#8dcb4f 803px,#b6c532 828px,#d0bf27 854px,#e7bb2d 899px,#f0ba36 945px,#f5ba3a 1020px,#f6ba3c 100%)"></i><i class="w" style="background:linear-gradient(#f7ba3c 0,#f4ba39 296px,#edba33 364px,#e0bc2a 408px,#c8c129 444px,#a6c83c 471px,#7ecc5a 492px,#4ecc82 513px,#3cc991 521px,#24c1ae 537px,#0abdbd 545px,#01b9c6 550px,#01b7ca 552px,#17aedb 561px,#269be8 573px,#2f80fa 585px,#3f6eff 591px,#4758f8 598px,#4742e6 604px,#4537d5 607px,#3e26a8 612px,#3e26a8 675px,#3e27aa 676px,#4537d6 681px,#4746eb 685px,#475bfa 691px,#3c72ff 698px,#2f81fa 703px,#249fe6 717px,#19addc 726px,#07b5d0 733px,#01b9c6 738px,#08bcbf 742px,#22c1b0 750px,#3eca8f 768px,#4ecc81 775px,#8fca4d 804px,#b7c531 829px,#d0bf27 854px,#e7bb2d 898px,#f0ba36 943px,#f5ba3a 1014px,#f7ba3c 100%)"></i><i class="w" style="background:linear-gradient(#f7ba3c 0,#f4ba39 302px,#ecba32 371px,#e0bc2a 409px,#c7c129 445px,#b7c532 460px,#a2c83f 474px,#84cc56 490px,#4ecc81 513px,#3bc992 522px,#25c2ae 537px,#0bbdbc 545px,#01b9c6 550px,#07b5cf 555px,#19addc 562px,#23a1e5 570px,#2f81fa 585px,#3e6fff 591px,#475cfa 597px,#4743e7 604px,#4434cf 608px,#3e27aa 612px,#3e26a8 675px,#3e27ab 676px,#463bde 682px,#484bef 686px,#475cfa 691px,#3e6fff 697px,#307ffb 702px,#259ce7 715px,#1da9e0 723px,#02b7cb 735px,#01bac5 738px,#09bcbe 742px,#23c1af 750px,#3dc990 767px,#4fcc81 775px,#96ca48 807px,#b9c430 830px,#d0bf27 853px,#e7bb2d 897px,#f0ba36 941px,#f5ba3a 1006px,#f7ba3c 100%)"></i><i class="w" style="background:linear-gradient(#f7ba3d 0,#f4ba39 310px,#ebba31 378px,#debd29 415px,#c4c22a 449px,#a3c83e 474px,#8ecb4f 486px,#4ecc81 514px,#3cc991 522px,#24c1ae 538px,#0abdbd 546px,#01b9c7 551px,#08b5d0 556px,#18aedb 562px,#23a0e5 571px,#307ffb 586px,#3d70ff 591px,#4759f9 598px,#4848ec 603px,#4538d8 607px,#3e27ac 612px,#3e26a8 613px,#3e26a8 675px,#3f28ad 676px,#4539d9 681px,#4848ec 685px,#475af9 690px,#3d70ff 697px,#317dfc 701px,#2699ea 713px,#19addc 725px,#07b5d0 732px,#01b9c6 737px,#05bbc1 740px,#24c1ae 750px,#3eca8f 767px,#4ecc81 774px,#96ca49 806px,#b9c430 829px,#d0bf27 852px,#e7bb2d 895px,#f0ba36 937px,#f5ba3a 995px,#f7ba3d 100%)"></i><i class="w" style="background:linear-gradient(#f8ba3d 0,#f6ba3b 298px,#efba35 366px,#e3bc2c 408px,#ccc028 444px,#b9c430 461px,#a6c83c 474px,#80cc5a 494px,#4ecc81 515px,#3cc991 523px,#24c1af 539px,#01bac5 551px,#02b7cb 554px,#1aacdd 564px,#23a1e4 571px,#2f81fa 586px,#3f6eff 592px,#465efb 597px,#4741e5 605px,#4536d3 608px,#3e26a8 613px,#3e26a8 632px,#3e26a8 675px,#4536d4 680px,#4745ea 684px,#4758f8 689px,#3c72ff 697px,#2f81fa 702px,#259ce7 714px,#1aacdd 724px,#08b4d0 731px,#01b9c7 736px,#0abdbd 741px,#24c1ae 749px,#3eca8f 766px,#4ecc81 773px,#97ca48 805px,#b9c430 827px,#d0bf27 849px,#e8bb2e 893px,#f1ba37 935px,#f7ba3c 1013px,#f8ba3d 100%)"></i><i class="w" style="background:linear-gradient(#fbbc3d 0,#f9ba3d 301px,#f2ba38 367px,#e6bb2d 410px,#d0bf27 444px,#c3c22b 457px,#a6c83c 477px,#83cc57 495px,#4dcc82 517px,#3fca8e 523px,#22c1b0 541px,#0abdbd 548px,#01b9c7 553px,#08b4d1 558px,#1aacdd 565px,#249fe6 573px,#317dfc 588px,#426afe 594px,#4852f4 601px,#4743e7 605px,#4537d6 608px,#3e26a8 613px,#3e26a8 674px,#3e27a9 675px,#4537d7 680px,#484bef 685px,#4660fc 691px,#3d71ff 696px,#317dfc 700px,#23a1e4 716px,#1aacdd 723px,#08b5d0 730px,#01b9c7 735px,#05bbc1 738px,#25c2ae 748px,#3ac993 762px,#4ecc81 771px,#8acb52 796px,#9ec942 806px,#b7c531 822px,#d0bf27 844px,#e7bb2d 880px,#f2ba38 921px,#f9ba3d 987px,#fbbc3d 100%)"></i><i class="w" style="background:linear-gradient(#febe3c 0,#fcbc3d 309px,#f8ba3d 361px,#e9bb2f 415px,#d0bf27 450px,#c4c22a 461px,#a6c83c 481px,#8acb52 495px,#4ecc81 519px,#38c896 529px,#24c1af 542px,#03bbc2 552px,#01b8c8 555px,#07b5d0 559px,#1aacdd 566px,#249fe6 574px,#307ffb 588px,#3e6fff 593px,#465efb 598px,#4744e9 605px,#4435d1 609px,#3e27ab 613px,#3e26a8 674px,#3f28ad 675px,#4535d2 679px,#4741e5 682px,#4758f8 688px,#3e6fff 695px,#307ffb 700px,#23a1e5 715px,#18aedb 723px,#01b8ca 732px,#01b9c6 734px,#09bcbe 738px,#24c1ae 746px,#3ac993 760px,#4fcc81 769px,#95ca49 798px,#c1c32c 824px,#d3bf27 841px,#e2bc2b 860px,#edba33 883px,#f8ba3d 927px,#fcbc3d 979px,#febe3c 100%)"></i><i class="w" style="background:linear-gradient(#fec13a 0,#febd3c 335px,#f7ba3d 386px,#f0ba36 411px,#e1bc2b 438px,#d3bf27 454px,#b9c430 474px,#94ca4a 494px,#5fcd73 515px,#40ca8d 527px,#23c1af 544px,#0abdbd 551px,#01bac5 555px,#02b7cb 558px,#18aedb 566px,#249fe6 575px,#2f81fa 588px,#3c71ff 593px,#475dfa 599px,#4746eb 605px,#4536d4 609px,#3e26a8 614px,#3e26a8 674px,#4537d6 679px,#4743e7 682px,#475af9 688px,#3c72ff 695px,#307efb 699px,#21a3e4 715px,#1babde 720px,#06b5cf 728px,#01b9c7 732px,#02bbc3 734px,#26c2ad 745px,#3cc991 759px,#4dcc82 766px,#84cc57 787px,#9cc943 798px,#c1c32c 819px,#dabd28 842px,#f0ba36 877px,#f8ba3d 902px,#febd3c 953px,#fec13a 100%)"></i><i class="w" style="background:linear-gradient(#fec437 0,#fec438 231px,#febd3c 366px,#f8ba3d 401px,#f1ba36 419px,#e7bb2d 437px,#d3bf27 459px,#c3c22b 472px,#b3c534 482px,#8dcb4f 500px,#4dcc82 524px,#38c896 533px,#27c2ac 544px,#03bbc2 555px,#01b9c7 557px,#06b5cf 561px,#1babde 569px,#2699ea 579px,#317dfc 590px,#4269fe 596px,#4758f8 601px,#4740e4 607px,#4434d0 610px,#3e26a8 614px,#3e26a8 673px,#3e27aa 674px,#4435d1 678px,#4741e5 681px,#4854f6 686px,#3d70ff 694px,#2f81fa 699px,#21a3e4 714px,#15afd8 722px,#01b7ca 729px,#01b9c6 731px,#06bcc0 734px,#25c2ae 743px,#3cc991 757px,#4dcc82 764px,#81cc59 783px,#9fc941 796px,#c4c22a 817px,#d3bf27 829px,#e5bb2c 848px,#f7ba3c 884px,#febd3c 922px,#fec438 1057px,#fec437 100%)"></i><i class="w" style="background:linear-gradient(#fec735 0,#fec636 278px,#febd3c 385px,#f6ba3b 417px,#dbbd28 457px,#c3c22b 476px,#a3c83e 493px,#8acb52 504px,#60cd72 519px,#42ca8b 530px,#28c2ab 545px,#01b9c6 558px,#01b7ca 560px,#1babde 570px,#2994ed 582px,#307ffb 590px,#3f6eff 595px,#4759f9 601px,#4742e6 607px,#4536d3 610px,#3e27ac 614px,#3e26a8 615px,#3e26a8 673px,#3f28ad 674px,#4536d4 678px,#4747eb 682px,#465dfb 688px,#3e6fff 693px,#307ffb 698px,#259de7 710px,#1babde 718px,#03b7cc 727px,#01b9c6 730px,#0abdbd 734px,#26c2ad 742px,#36c898 752px,#4dcc82 762px,#98c946 790px,#b4c534 803px,#c4c22a 813px,#d3bf27 824px,#e6bb2d 843px,#f8ba3d 876px,#febd3c 903px,#fec636 1010px,#fec735 100%)"></i><i class="w" style="background:linear-gradient(#feca33 0,#fec835 302px,#febd3c 399px,#f8ba3d 421px,#e7bb2d 449px,#d3bf27 468px,#c5c22a 478px,#9ec942 498px,#60cd72 521px,#41ca8c 532px,#26c2ad 547px,#0dbdbb 554px,#01b9c6 559px,#06b5cf 563px,#1aacdd 570px,#259ce7 579px,#2f81fa 590px,#4269fe 597px,#4853f5 603px,#4743e7 607px,#4537d5 610px,#3e26a8 615px,#3e26a8 673px,#4434ce 677px,#4744e8 681px,#4758f8 686px,#3d70ff 693px,#2f81fa 698px,#2798ea 707px,#18aedb 719px,#01b8ca 727px,#01b9c6 729px,#0abdbd 733px,#24c1ae 740px,#44cb89 757px,#71cd64 773px,#a0c840 791px,#c5c22a 810px,#d3bf27 820px,#e7bb2d 839px,#f8ba3d 867px,#febd3c 889px,#fec835 986px,#feca33 100%)"></i><i class="w" style="background:linear-gradient(#fdcc32 0,#feca34 304px,#febd3c 407px,#f9ba3d 424px,#e9bb2f 450px,#d4bf27 470px,#c5c22a 480px,#b1c635 491px,#91ca4d 505px,#4fcc80 528px,#41ca8c 533px,#28c2ab 547px,#09bcbe 556px,#01b9c7 560px,#02b7cb 562px,#19addc 570px,#2994ed 583px,#307efb 591px,#426afe 597px,#4758f8 602px,#4744e8 607px,#463bde 609px,#3e26a8 615px,#3e26a8 673px,#4434cf 677px,#4745e9 681px,#475cfa 687px,#3c72ff 693px,#307ffb 697px,#269be8 708px,#19addc 718px,#04b6cd 725px,#01b9c7 728px,#09bcbe 732px,#26c2ad 740px,#44cb89 756px,#72cd63 772px,#98c946 786px,#afc636 796px,#c5c22a 808px,#d3bf27 817px,#e9bb2f 838px,#f9ba3d 864px,#febd3c 881px,#feca34 984px,#fdcc32 100%)"></i><i class="w" style="background:linear-gradient(#fdcd32 0,#fdcb33 296px,#fec636 364px,#febd3c 409px,#f9ba3d 426px,#e9bb2f 451px,#d3bf27 471px,#c5c22a 481px,#b4c533 490px,#8dcb50 507px,#4dcc82 529px,#3fca8e 534px,#26c2ad 548px,#09bdbe 556px,#01b9c7 560px,#04b6cd 563px,#19addb 570px,#269be8 580px,#307ffb 591px,#4563fd 599px,#4854f6 603px,#4740e4 608px,#4538d7 610px,#3e26a8 615px,#3e26a8 673px,#4434d0 677px,#4745e9 681px,#4660fc 688px,#3c72ff 693px,#307ffb 697px,#2797eb 706px,#1aacdd 717px,#06b5cf 724px,#01b9c6 728px,#0dbdbb 733px,#24c1ae 739px,#3dca90 753px,#4dcc82 759px,#9ac945 786px,#c5c22a 807px,#d4bf27 817px,#eabb30 838px,#f9ba3d 862px,#febd3c 879px,#fec636 924px,#fdcb33 992px,#fdcd32 100%)"></i><i class="w" style="background:linear-gradient(#fdcc32 0,#feca34 296px,#fec537 365px,#febd3c 406px,#f8ba3d 426px,#e7bb2d 452px,#d3bf27 470px,#c5c22a 480px,#b3c534 490px,#7acc5d 513px,#4fcc81 528px,#3eca8f 534px,#2ac3a9 546px,#03bbc3 558px,#01b9c7 560px,#07b5d0 564px,#19addc 570px,#2994ed 583px,#307efb 591px,#426afe 597px,#4758f8 602px,#4744e8 607px,#4537d6 610px,#3e26a8 615px,#3e26a8 673px,#4434cf 677px,#4744e9 681px,#475cfa 687px,#3c71ff 693px,#307ffb 697px,#269be8 708px,#19addc 718px,#02b7cb 726px,#01b9c7 728px,#03bbc2 730px,#28c2ab 741px,#44cb8a 756px,#78cc5f 774px,#9fc941 789px,#c5c22a 808px,#dbbd28 824px,#e8bb2e 837px,#f8ba3d 862px,#febd3c 882px,#fec537 923px,#feca34 992px,#fdcc32 100%)"></i><i class="w" style="background:linear-gradient(#feca33 0,#fec835 295px,#febd3c 398px,#f8ba3d 420px,#e4bb2c 452px,#d4bf27 467px,#c3c22b 479px,#a2c83f 496px,#5fcd73 521px,#3eca8f 533px,#26c2ad 547px,#09bdbe 555px,#01b9c6 559px,#06b5cf 563px,#1aacdd 570px,#2a93ee 583px,#2f80fa 590px,#4269fe 597px,#4853f5 603px,#4743e7 607px,#4537d5 610px,#3e26a8 615px,#3e26a8 673px,#4537d6 678px,#4744e8 681px,#465ffb 688px,#3d70ff 693px,#2f81fa 698px,#269ae9 708px,#18aedb 719px,#01b7ca 727px,#01b9c6 729px,#0dbdbb 734px,#24c1af 740px,#44cb8a 757px,#74cd62 774px,#9ec942 790px,#c4c22a 810px,#d3bf27 820px,#e5bb2c 837px,#f8ba3d 868px,#febd3c 890px,#fec835 993px,#feca33 100%)"></i><i class="w" style="background:linear-gradient(#fec735 0,#fec636 274px,#febd3c 385px,#f5ba3a 419px,#e4bb2c 447px,#d3bf27 464px,#c5c22a 474px,#afc636 487px,#8ccb50 503px,#4fcc80 525px,#3bc992 533px,#2ac3a9 544px,#03bbc2 556px,#01b9c6 558px,#06b5cf 562px,#18aedb 568px,#2896ec 581px,#307ffb 590px,#3f6eff 595px,#4852f4 603px,#4742e6 607px,#4535d2 610px,#3e27ab 614px,#3e26a8 673px,#3f28ad 674px,#463adb 679px,#4742e6 681px,#475af9 687px,#3b72ff 694px,#307ffb 698px,#269ae8 709px,#1ea8e1 716px,#15afd9 721px,#01b7ca 728px,#01b9c6 730px,#28c2ab 743px,#36c898 752px,#4dcc82 762px,#9dc943 792px,#c2c22b 812px,#d3bf27 824px,#e5bb2c 842px,#f8ba3d 876px,#febd3c 903px,#fec636 1014px,#fec735 100%)"></i><i class="w" style="background:linear-gradient(#fec437 0,#fec438 230px,#febd3c 366px,#f8ba3d 400px,#f0ba36 421px,#e3bc2c 442px,#d1bf27 461px,#c1c32c 473px,#abc739 486px,#82cc57 504px,#4fcc80 523px,#36c898 534px,#24c1ae 545px,#05bbc1 554px,#01b9c7 557px,#06b5cf 561px,#18aedb 567px,#2b92ee 582px,#317dfc 590px,#4269fe 596px,#4854f5 602px,#4744e8 606px,#4538d7 609px,#3e26a8 614px,#3e26a8 673px,#3e27a9 674px,#4435d0 678px,#4745e9 682px,#475bfa 688px,#3d70ff 694px,#2f80fa 699px,#249fe6 712px,#1babde 719px,#06b5cf 727px,#01b9c7 731px,#03bbc2 733px,#27c2ac 744px,#38c896 755px,#4dcc82 764px,#96ca48 792px,#a9c73a 801px,#c3c22b 816px,#d3bf27 829px,#e4bb2c 847px,#f5ba3a 879px,#febd3c 922px,#fec438 1058px,#fec437 100%)"></i><i class="w" style="background:linear-gradient(#fec13a 0,#febd3c 329px,#f8ba3d 383px,#eeba34 414px,#e1bc2b 437px,#d0bf27 456px,#c2c22b 467px,#abc739 482px,#8ccb50 497px,#4ecc81 521px,#3dca90 528px,#25c2ae 543px,#01b9c6 555px,#07b5d0 560px,#1aacdd 567px,#2c90f0 582px,#2f80fa 588px,#3d71ff 593px,#4563fd 597px,#4852f4 602px,#4742e6 606px,#4536d4 609px,#3e26a8 614px,#3e26a8 674px,#4537d5 679px,#4743e7 682px,#4759f9 688px,#3c71ff 695px,#2f81fa 700px,#249fe6 713px,#1ca9e0 719px,#01b8c9 731px,#01bac5 733px,#25c2ae 745px,#44cb89 763px,#73cd63 781px,#9bc944 798px,#c3c22b 821px,#d0bf27 832px,#dfbc2a 848px,#f1ba36 881px,#f7ba3d 904px,#febd3c 958px,#fec13a 100%)"></i><i class="w" style="background:linear-gradient(#fdbd3d 0,#fbbc3d 310px,#f5ba3b 367px,#e8bb2e 414px,#d0c027 449px,#c3c22b 461px,#a8c73b 479px,#86cb55 496px,#4fcc80 518px,#3eca8f 525px,#25c2ae 541px,#0abdbd 549px,#01b9c7 554px,#08b4d1 559px,#19addc 565px,#21a4e3 571px,#2f81fa 587px,#3f6eff 593px,#4853f5 601px,#4740e4 606px,#4435d0 609px,#3e27aa 613px,#3e26a8 674px,#3e27ac 675px,#4539d9 680px,#4745e9 683px,#465efb 690px,#3b72ff 696px,#307ffb 700px,#259de7 713px,#1aacdd 722px,#08b4d0 729px,#01b9c7 734px,#05bbc1 737px,#23c1af 746px,#39c994 760px,#4dcc82 769px,#9bc944 802px,#bfc32d 824px,#d4bf27 843px,#ecba32 884px,#f8ba3d 936px,#fbbc3d 978px,#fdbd3d 100%)"></i><i class="w" style="background:linear-gradient(#fabb3d 0,#f8ba3d 289px,#f2ba37 358px,#e5bb2c 408px,#ccc028 446px,#a9c73a 474px,#83cc57 494px,#4ecc81 516px,#3cc991 524px,#23c1af 540px,#06bcc0 549px,#01b9c6 552px,#07b5cf 557px,#19addc 564px,#2797eb 577px,#307ffb 587px,#3e6fff 592px,#475cfa 598px,#4742e6 605px,#4536d5 608px,#3e26a8 613px,#3e26a8 675px,#4537d6 680px,#4743e7 683px,#475cfa 690px,#3e70ff 696px,#307ffb 701px,#259de7 714px,#19addc 724px,#06b5cf 731px,#01bac5 736px,#09bdbe 740px,#24c1af 748px,#3eca8f 765px,#4fcc81 772px,#75cc61 788px,#9bc944 806px,#c1c32c 831px,#d0bf27 846px,#ddbd29 864px,#eabb30 894px,#f3ba39 940px,#f8ba3d 999px,#fabb3d 100%)"></i><i class="w" style="background:linear-gradient(#f8ba3d 0,#f4ba39 314px,#ecba32 375px,#dfbc2a 414px,#c8c129 446px,#a8c73b 472px,#89cb53 489px,#4fcc80 514px,#3dc990 522px,#25c2ae 538px,#0bbdbc 546px,#01b9c6 551px,#07b5cf 556px,#19addc 563px,#259de7 573px,#317dfc 587px,#3d71ff 591px,#465dfb 597px,#4848ec 603px,#4539d9 607px,#3f28ad 612px,#3e26a8 613px,#3e26a8 675px,#4639da 681px,#4849ed 685px,#465efb 691px,#3c71ff 697px,#2f80fa 702px,#249fe6 716px,#19addc 725px,#06b5cf 732px,#01b9c6 737px,#06bcc0 740px,#23c1af 749px,#3dca90 766px,#4fcc80 774px,#85cb56 797px,#98c946 807px,#b8c431 827px,#d0bf27 851px,#ddbd29 870px,#e8bb2e 897px,#efba36 934px,#f6ba3b 1013px,#f8ba3d 100%)"></i><i class="w" style="background:linear-gradient(#f7ba3c 0,#f4ba39 300px,#edba33 365px,#e0bc2a 409px,#c7c129 445px,#b7c532 460px,#a0c840 475px,#80cc5a 492px,#4fcc81 513px,#3dc990 521px,#23c1af 538px,#09bcbe 546px,#01bac5 550px,#02b7cb 553px,#1ca9e0 565px,#259ce7 573px,#307ffb 586px,#3e6fff 591px,#475cfa 597px,#4747eb 603px,#4538d7 607px,#3e27ab 612px,#3e26a8 613px,#3e26a8 675px,#3e28ac 676px,#4538d8 681px,#4847ec 685px,#4756f7 689px,#3e70ff 697px,#307ffb 702px,#249ee6 716px,#1aacdd 725px,#02b7cb 735px,#01bac5 738px,#23c1af 750px,#44cb8a 770px,#86cb54 799px,#9cc944 810px,#b4c533 826px,#d0bf27 853px,#e6bb2d 894px,#f0ba36 942px,#f5ba3a 1008px,#f7ba3c 100%)"></i><i class="w" style="background:linear-gradient(#f6ba3c 0,#f4ba39 291px,#eeba34 356px,#e1bc2b 405px,#c7c129 444px,#aac739 468px,#85cb56 489px,#4dcc82 513px,#3cc991 521px,#24c1ae 537px,#0abdbd 545px,#01b9c6 550px,#07b5d0 555px,#19addc 562px,#259de7 572px,#2f80fa 585px,#3f6eff 591px,#4758f8 598px,#4742e6 604px,#4434ce 608px,#3e26a9 612px,#3e26a8 675px,#3e27aa 676px,#463bdd 682px,#4747eb 685px,#475cfa 691px,#3b72ff 698px,#2f81fa 703px,#249fe6 717px,#19addc 726px,#07b5d0 733px,#01b9c6 738px,#08bcbf 742px,#22c1b0 750px,#3eca8f 768px,#4ecc81 775px,#95ca49 807px,#b6c532 828px,#d0bf27 854px,#e6bb2d 896px,#efba35 938px,#f4ba39 997px,#f6ba3c 100%)"></i><i class="w" style="background:linear-gradient(#f6ba3b 0,#f3ba38 302px,#ecba32 365px,#e0bc2a 406px,#c8c129 443px,#a3c83e 472px,#84cc56 489px,#4fcc81 512px,#3dc990 520px,#23c1af 537px,#09bdbe 545px,#01bac5 549px,#02b7cb 552px,#18aedb 561px,#23a0e5 570px,#317dfc 586px,#3d71ff 590px,#465efb 596px,#4849ed 602px,#463adb 606px,#3e26a8 612px,#3e26a8 619px,#3e26a8 676px,#4537d5 681px,#4746ea 685px,#4758f8 690px,#3c71ff 698px,#317dfc 702px,#2699ea 714px,#18aedb 727px,#08b5d0 733px,#01b9c7 738px,#07bcbf 742px,#23c1af 751px,#3dca90 768px,#4fcc80 776px,#98ca47 809px,#bbc42f 833px,#c8c129 845px,#d8be28 866px,#e7bb2d 901px,#eeba35 940px,#f4ba39 1006px,#f6ba3b 100%)"></i><i class="w" style="background:linear-gradient(#f6ba3b 0,#f3ba38 295px,#ecba32 363px,#e0bc2a 405px,#c8c129 442px,#a9c73a 468px,#81cc59 490px,#4ecc81 512px,#3eca8f 519px,#25c2ae 536px,#0bbdbc 544px,#01b9c6 549px,#01b8ca 551px,#1aacdd 562px,#259ce7 572px,#307ffb 585px,#3d70ff 590px,#475af9 597px,#4745e9 603px,#4536d3 607px,#3e26a8 612px,#3e26a8 676px,#4536d4 681px,#4849ed 686px,#465dfb 692px,#3d70ff 698px,#317dfc 702px,#249ee6 717px,#1aacdd 726px,#02b7cb 736px,#01bac5 739px,#06bcc0 742px,#25c2ae 752px,#3bc992 767px,#4ecc81 776px,#73cd62 792px,#99c946 810px,#b9c430 832px,#d0c027 855px,#e6bb2d 899px,#efba35 944px,#f4ba39 1015px,#f6ba3b 100%)"></i><i class="w" style="background:linear-gradient(#f5ba3b 0,#f3ba38 286px,#edba33 354px,#e0bc2a 404px,#c7c129 442px,#b9c431 456px,#a2c83f 472px,#7ecc5b 491px,#4dcc82 512px,#3cc991 520px,#24c1ae 536px,#05bbc1 546px,#01b9c6 549px,#07b5d0 554px,#19addc 561px,#249fe6 570px,#307efb 585px,#3e6fff 590px,#475cfa 596px,#4848ec 602px,#4539d9 606px,#3e26a8 612px,#3e26a8 676px,#4536d3 681px,#4744e9 685px,#475af9 691px,#3e70ff 698px,#307ffb 703px,#269ae9 715px,#19addc 727px,#09b4d1 733px,#01b9c6 739px,#08bcbf 743px,#22c1b0 751px,#3cc991 768px,#4ecc82 776px,#75cc61 793px,#96ca48 809px,#bbc42f 834px,#c8c129 846px,#d5be28 863px,#e7bb2d 904px,#f0ba36 957px,#f4ba39 1029px,#f5ba3b 100%)"></i><i class="w" style="background:linear-gradient(#f5ba3a 0,#f2ba37 296px,#ebba31 363px,#debd29 407px,#c8c129 441px,#a9c73a 467px,#81cc58 489px,#4fcc81 511px,#3dca90 519px,#23c1af 536px,#07bcbf 545px,#01b9c7 549px,#08b5d0 554px,#18aedb 560px,#259be8 572px,#2f81fa 584px,#3e6fff 590px,#475cfa 596px,#484bef 601px,#4538d8 606px,#3e26a8 612px,#3e26a8 676px,#4539d9 682px,#4848ec 686px,#475cfa 692px,#3e6fff 698px,#2f81fa 704px,#249fe6 718px,#19addc 727px,#07b5d0 734px,#01b9c7 739px,#0abdbd 744px,#24c1af 752px,#44cb8a 772px,#88cb53 802px,#aec637 824px,#c5c22a 844px,#d0bf27 857px,#e1bc2b 888px,#edba33 937px,#f2ba37 992px,#f5ba3a 100%)"></i><i class="w" style="background:linear-gradient(#f4ba3a 0,#f1ba36 305px,#ebba31 360px,#ddbd29 408px,#c5c22a 443px,#a3c83e 470px,#7ccc5c 491px,#4ecc81 511px,#3eca8f 518px,#25c2ae 535px,#06bcc0 545px,#01bac5 548px,#02b7cb 551px,#1aacdd 561px,#2797eb 574px,#317dfc 585px,#3f6eff 590px,#475bfa 596px,#4747eb 602px,#4538d7 606px,#3e28ac 611px,#3e26a8 612px,#3e26a8 616px,#3e26a8 676px,#4538d8 682px,#4747eb 686px,#475cfa 692px,#3c72ff 699px,#2f80fa 704px,#269be8 716px,#1babde 726px,#02b7cb 737px,#01bac5 740px,#09bdbe 744px,#23c1af 752px,#3bc992 768px,#4ecc81 777px,#91ca4d 807px,#b6c532 831px,#d0bf27 858px,#e4bb2c 898px,#edba33 941px,#f2ba37 1002px,#f4ba3a 100%)"></i><i class="w" style="background:linear-gradient(#f4ba39 0,#f1ba36 295px,#eabb30 362px,#debd29 404px,#c5c22a 442px,#b0c636 461px,#9fc941 472px,#73cd62 494px,#44cb8a 515px,#24c1ae 535px,#08bcbf 544px,#01b9c6 548px,#07b5cf 553px,#19addc 560px,#259ce7 571px,#317dfc 585px,#3d71ff 589px,#465efb 595px,#484aee 601px,#4537d6 606px,#3e27ab 611px,#3e26a8 676px,#4538d7 682px,#4747eb 686px,#475bfa 692px,#3c71ff 699px,#317dfc 703px,#249ee6 718px,#1aacdd 727px,#01b8ca 738px,#01b9c6 740px,#08bcbe 744px,#22c1b0 752px,#3cc991 769px,#4dcc82 777px,#76cc60 795px,#97ca48 811px,#b7c531 833px,#d3bf27 863px,#e6bb2d 907px,#f2ba37 1016px,#f4ba39 100%)"></i><i class="w" style="background:linear-gradient(#f3ba39 0,#f0ba36 299px,#e9bb2f 363px,#ddbd29 404px,#c5c22a 441px,#a1c840 470px,#7dcc5b 489px,#4dcc82 510px,#3eca8f 517px,#23c1af 535px,#09bdbe 543px,#01bac5 547px,#02b7cb 550px,#17aedb 559px,#249fe6 569px,#307ffb 584px,#3d70ff 589px,#465dfb 595px,#4746ea 602px,#463adc 605px,#3e27aa 611px,#3e26a8 612px,#3e26a8 676px,#3e27ab 677px,#463bdd 683px,#484aee 687px,#465efb 693px,#3d71ff 699px,#307ffb 704px,#23a1e5 720px,#19addc 728px,#07b5d0 735px,#01b9c7 740px,#07bcbf 744px,#23c1af 753px,#3eca8f 771px,#4ecc81 778px,#8ecb4f 807px,#9fc941 817px,#b9c430 836px,#d3bf27 865px,#e5bb2c 907px,#f1ba36 1009px,#f3ba39 100%)"></i><i class="w" style="background:linear-gradient(#f1ba37 0,#efba35 288px,#e8bb2e 359px,#ddbd29 399px,#c5c22a 438px,#b7c532 452px,#9ec942 470px,#78cc5f 490px,#4dcc82 509px,#3eca8f 516px,#23c1af 534px,#0abdbd 542px,#01b9c6 547px,#01b8ca 549px,#1aacdd 560px,#2699ea 572px,#2f81fa 583px,#3e6fff 589px,#475af9 596px,#4849ed 601px,#463adb 605px,#3e27a9 611px,#3e26a8 676px,#3e27aa 677px,#463adc 683px,#4745ea 686px,#465dfb 693px,#3e70ff 699px,#307efb 704px,#22a2e4 721px,#1aacdd 728px,#04b6cd 737px,#01b9c6 741px,#08bcbf 745px,#24c1af 754px,#3eca8f 772px,#4ecc81 779px,#7acc5d 799px,#96ca49 813px,#bbc42f 840px,#d2bf27 867px,#e3bc2c 907px,#ebba31 950px,#f0ba36 1024px,#f1ba37 100%)"></i><i class="w" style="background:linear-gradient(#eeba34 0,#ebba31 294px,#e4bb2c 360px,#d8be28 401px,#c5c22a 433px,#b0c636 454px,#9cc943 468px,#78cc5f 488px,#44cb8a 512px,#26c2ad 532px,#08bcbe 542px,#01b9c7 547px,#08b4d0 552px,#19addc 559px,#269ae9 571px,#317dfc 584px,#3f6fff 589px,#475cfa 595px,#4744e9 602px,#4433cc 607px,#3e26a8 611px,#3e26a8 676px,#3e27a9 677px,#463adb 683px,#4849ed 687px,#475af9 692px,#3b72ff 700px,#2f80fa 705px,#259ce7 718px,#1caadf 727px,#02b7cb 739px,#01bac5 742px,#28c2ab 757px,#44cb8a 776px,#8ccb50 810px,#acc738 831px,#c8c129 859px,#ddbd29 900px,#e7bb2d 947px,#ecba32 1015px,#eeba34 100%)"></i><i class="w" style="background:linear-gradient(#eabb30 0,#e7bb2d 293px,#e1bc2b 352px,#d4bf27 400px,#c1c32c 432px,#9ec942 464px,#77cc5f 486px,#4ecc82 506px,#3dca90 514px,#28c2ab 530px,#04bbc1 543px,#01b9c7 546px,#01b7ca 548px,#1aacdd 559px,#259de7 569px,#317dfc 584px,#3f6eff 589px,#475cfa 595px,#4848ec 601px,#4536d3 606px,#3e26a8 611px,#3e26a9 677px,#4536d4 682px,#4745e9 686px,#4756f7 691px,#4369fe 697px,#3c72ff 700px,#317dfc 704px,#249fe6 720px,#18addb 730px,#01b8ca 740px,#01b9c6 742px,#02bbc3 744px,#2ac3a9 759px,#3fca8e 775px,#4ecc81 782px,#8bcb51 812px,#aec637 836px,#c7c129 865px,#dbbd28 908px,#e4bb2c 958px,#e8bb2e 1018px,#eabb30 100%)"></i><i class="w" style="background:linear-gradient(#e7bb2e 0,#e5bb2c 284px,#dfbc2a 350px,#d3bf27 397px,#bac430 438px,#97ca47 467px,#7ecc5b 482px,#44cb89 510px,#2bc3a8 528px,#1cc0b4 535px,#04bbc2 543px,#01b7ca 548px,#1aacdd 559px,#2896ec 573px,#317dfc 584px,#4368fe 591px,#484ff2 599px,#463de0 604px,#4433cc 607px,#3e26a8 611px,#3e26a8 676px,#3e27a9 677px,#4433cd 681px,#4745e9 686px,#4759f9 692px,#3c72ff 700px,#317dfb 704px,#249fe6 720px,#18addb 730px,#01b8ca 740px,#01b9c7 742px,#04bbc1 745px,#26c2ad 757px,#45cb89 778px,#8bcb51 813px,#a9c73a 834px,#c5c22a 864px,#d8be28 906px,#e1bc2b 953px,#e6bb2d 1029px,#e7bb2e 100%)"></i><i class="w" style="background:linear-gradient(#e9bb30 0,#e7bb2d 287px,#e0bc2a 357px,#d2bf27 405px,#b9c431 442px,#98c946 468px,#81cc59 482px,#44cb89 511px,#29c3aa 530px,#03bbc2 544px,#01b9c7 547px,#08b4d0 552px,#19addc 559px,#249ee6 569px,#2f81fa 583px,#3e6fff 589px,#4660fc 594px,#4849ed 601px,#4537d5 606px,#3e27aa 611px,#3e26a8 676px,#3e27ab 677px,#4537d6 682px,#4746ea 686px,#465dfb 693px,#3e70ff 699px,#307efb 704px,#2699ea 716px,#19addc 729px,#02b7cb 739px,#01bac5 742px,#2bc3a8 759px,#38c895 770px,#4dcc82 781px,#85cb56 808px,#afc636 837px,#cac129 868px,#dabd28 905px,#e7bb2d 1000px,#e9bb30 100%)"></i><i class="w" style="background:linear-gradient(#efba35 0,#edba33 286px,#e6bb2d 359px,#d9be28 404px,#c5c22a 436px,#b2c635 455px,#9bc944 471px,#77cc5f 490px,#4ecc81 509px,#38c895 520px,#25c2ae 534px,#09bdbe 543px,#01b9c7 548px,#07b5d0 553px,#19addc 560px,#259ce7 571px,#317dfc 585px,#3f6eff 590px,#475bfa 596px,#4747eb 602px,#463bde 605px,#3e26a8 612px,#3e26a8 676px,#4435d1 681px,#4744e8 685px,#475cfa 692px,#3c72ff 699px,#2f80fa 704px,#249ee6 718px,#19addc 728px,#07b5d0 735px,#01b9c7 740px,#07bcbf 744px,#27c2ac 755px,#3dca90 771px,#4ecc81 779px,#90ca4d 810px,#b4c533 835px,#d0bf27 867px,#dfbc2a 900px,#e8bb2e 942px,#edba33 1002px,#efba35 100%)"></i><i class="w" style="background:linear-gradient(#f6ba3b 0,#f3ba38 301px,#edba33 359px,#debd29 410px,#c8c129 442px,#aac739 467px,#81cc59 490px,#4ecc81 512px,#3eca8f 519px,#25c2ae 536px,#06bcc0 546px,#01bac6 549px,#02b7cb 552px,#1aacdd 562px,#249ee6 571px,#317dfc 586px,#3d70ff 590px,#465dfb 596px,#4849ed 602px,#4536d4 607px,#3e26a8 612px,#3e26a8 619px,#3e26a8 676px,#4537d5 681px,#4746ea 685px,#465efb 692px,#3c71ff 698px,#317dfc 702px,#23a0e5 718px,#18addb 727px,#02b7cb 736px,#01bac5 739px,#09bcbe 743px,#23c1af 751px,#3bc992 767px,#4ecc81 776px,#7acc5d 795px,#99c946 810px,#b9c430 832px,#ccc028 850px,#d7be28 865px,#e7bb2d 902px,#f0ba36 950px,#f4ba39 1007px,#f6ba3b 100%)"></i><i class="w" style="background:linear-gradient(#fabb3d 0,#f8ba3d 303px,#f2ba37 361px,#e5bb2c 408px,#d0bf27 441px,#c1c32c 456px,#a9c73a 473px,#87cb54 491px,#4dcc82 515px,#38c895 525px,#25c2ae 538px,#08bcbf 547px,#01b9c6 551px,#07b5d0 556px,#18aedb 562px,#23a0e5 571px,#307ffb 586px,#3e70ff 591px,#475cfa 597px,#484bef 602px,#463bde 606px,#3e27ab 612px,#3e26a8 675px,#3e28ac 676px,#4538d8 681px,#4848ec 685px,#4759f9 690px,#3d70ff 697px,#307ffb 702px,#2699ea 713px,#19addc 725px,#07b5d0 732px,#01b9c6 737px,#0bbdbc 742px,#23c1af 749px,#3ac993 764px,#4ecc81 773px,#8fca4d 801px,#a8c73b 814px,#b9c430 826px,#d0bf27 847px,#e9bb2f 890px,#f1ba37 922px,#f8ba3d 985px,#fabb3d 100%)"></i><i class="w" style="background:linear-gradient(#fdbd3d 0,#fabb3d 321px,#f3ba39 375px,#e7bb2d 414px,#d0bf27 447px,#c4c22a 458px,#abc739 476px,#82cc57 496px,#4ecc81 517px,#3ac993 526px,#24c1ae 540px,#01bac5 552px,#02b7cb 555px,#15afd8 562px,#22a2e4 571px,#307efb 587px,#3e6fff 592px,#4758f8 599px,#4741e5 605px,#4536d3 608px,#3e26a8 613px,#3e26a8 675px,#4536d4 680px,#4742e6 683px,#475cfa 690px,#3e6fff 696px,#307ffb 701px,#2699ea 712px,#19addc 724px,#06b5cf 731px,#01b9c7 735px,#07bcbf 739px,#25c2ae 748px,#3cc991 763px,#4fcc81 771px,#7ccc5c 789px,#9cc943 804px,#c5c22a 830px,#dcbd29 855px,#edba33 889px,#f8ba3d 941px,#fbbc3d 988px,#fdbd3d 100%)"></i><i class="w" style="background:linear-gradient(#febf3b 0,#fdbd3d 311px,#f8ba3d 370px,#ebba31 414px,#ddbd29 438px,#d0bf27 452px,#c1c32c 465px,#a8c73b 481px,#82cc58 499px,#4ecc81 519px,#38c896 529px,#23c1af 542px,#05bbc1 551px,#01b8c9 555px,#19addc 565px,#2b92ee 580px,#2f80fa 587px,#3c71ff 592px,#4564fd 596px,#484ff2 602px,#473fe3 606px,#4434cf 609px,#3e26a9 613px,#3e26a8 674px,#3e27aa 675px,#4538d8 680px,#4848ec 684px,#465dfb 690px,#3c71ff 696px,#2f81fa 701px,#21a4e3 717px,#19addc 723px,#01b7ca 732px,#01b9c6 734px,#08bcbe 738px,#26c2ad 747px,#3ac993 760px,#4fcc81 769px,#7dcc5b 787px,#9cc943 801px,#bdc32e 820px,#d3bf27 839px,#e5bb2c 862px,#eeba34 881px,#f8ba3d 918px,#fdbd3d 976px,#febf3b 100%)"></i><i class="w" style="background:linear-gradient(#fec13a 0,#febd3c 332px,#f7ba3d 385px,#edba33 417px,#e0bc2a 439px,#d0bf27 456px,#c3c22b 467px,#a9c73a 483px,#8ccb50 497px,#4ecc81 521px,#37c897 531px,#24c1ae 543px,#0bbdbc 550px,#01b9c6 555px,#08b4d1 560px,#19addc 566px,#249ee6 575px,#317dfc 589px,#4269fe 595px,#4854f6 601px,#4741e5 606px,#4535d2 609px,#3e28ac 613px,#3e26a8 614px,#3e26a8 674px,#4536d3 679px,#4742e6 682px,#475cfa 689px,#3d70ff 695px,#2e83f9 701px,#22a2e4 715px,#19addc 722px,#03b7cc 730px,#01b9c6 733px,#03bbc2 735px,#24c1ae 745px,#44cb8a 763px,#97ca47 796px,#afc637 808px,#c4c22a 822px,#ddbd29 845px,#f2ba37 883px,#f8ba3d 903px,#febd3c 956px,#fec13a 100%)"></i><i class="w" style="background:linear-gradient(#fec338 0,#fec239 267px,#febd3c 353px,#f8ba3d 394px,#f1ba36 414px,#e5bb2c 436px,#d3bf27 456px,#b6c532 478px,#92ca4b 496px,#5fcd73 516px,#3fca8e 528px,#24c1ae 544px,#08bcbe 552px,#01b9c7 556px,#06b5cf 560px,#1babde 568px,#21a3e4 573px,#2f81fa 588px,#3f6eff 594px,#4759f9 600px,#4747eb 605px,#4536d5 609px,#3e26a8 614px,#3e26a8 674px,#4537d6 679px,#4743e7 682px,#465dfb 689px,#3c72ff 695px,#307ffb 699px,#20a5e3 716px,#01b9c6 732px,#03bbc2 734px,#29c3aa 746px,#45cb89 762px,#95ca49 793px,#a8c73b 802px,#c1c32c 817px,#d0bf27 829px,#e0bc2a 845px,#f3ba38 879px,#f8ba3d 894px,#febd3c 935px,#fec239 1020px,#fec338 100%)"></i><i class="w" style="background:linear-gradient(#fec438 0,#fec339 271px,#febd3c 363px,#f8ba3d 399px,#f0ba36 420px,#e5bb2c 439px,#d0bf27 461px,#c5c22a 470px,#acc738 485px,#8ccb50 500px,#4fcc81 523px,#3bc992 531px,#26c2ad 544px,#01bac5 556px,#02b7cb 559px,#16afd9 566px,#21a4e3 573px,#307ffb 589px,#3e6fff 594px,#465efb 599px,#4744e8 606px,#4538d7 609px,#3e26a8 614px,#3e26a9 674px,#4434d0 678px,#4740e4 681px,#4758f8 687px,#3e70ff 694px,#2e83f9 700px,#1fa6e2 716px,#01b9c7 731px,#02bbc3 733px,#24c1ae 743px,#45cb89 761px,#72cd64 778px,#9ac945 794px,#aac739 802px,#c5c22a 818px,#d3bf27 829px,#e2bc2b 845px,#f5ba3a 880px,#febd3c 925px,#fec339 1017px,#fec438 100%)"></i><i class="w" style="background:linear-gradient(#fec537 0,#fec438 256px,#febd3c 369px,#f8ba3d 402px,#f2ba37 418px,#e7bb2d 438px,#d1bf27 462px,#c5c22a 471px,#acc738 486px,#89cb52 502px,#4ecc81 524px,#37c897 534px,#25c2ae 545px,#09bdbe 553px,#01b9c6 557px,#01b7ca 559px,#19addc 568px,#2995ec 581px,#2f81fa 589px,#426afe 596px,#4854f6 602px,#4745e9 606px,#4538d8 609px,#3e27a9 614px,#3e26a8 673px,#3e27ab 674px,#4435d2 678px,#4741e5 681px,#4755f6 686px,#3d71ff 694px,#2f81fa 699px,#20a5e3 715px,#17aeda 721px,#01b8ca 729px,#01b9c6 731px,#2ac3a9 745px,#44cb8a 760px,#97ca47 792px,#c1c32c 814px,#d1bf27 826px,#e1bc2b 842px,#f5ba3a 877px,#febd3c 919px,#fec438 1031px,#fec537 100%)"></i><i class="w" style="background:linear-gradient(#fec537 0,#fec438 280px,#febd3c 373px,#f8ba3d 405px,#f2ba37 420px,#e5bb2c 442px,#d3bf27 461px,#c5c22a 472px,#aec637 486px,#8bcb51 502px,#4fcc80 524px,#36c898 535px,#24c1af 546px,#01bac5 557px,#07b5d0 562px,#14b0d8 566px,#23a0e5 576px,#307efb 590px,#3f6eff 595px,#4660fc 599px,#4746ea 606px,#4639da 609px,#3e27ab 614px,#3e26a8 673px,#3f28ad 674px,#463adb 679px,#4742e6 681px,#4759f9 687px,#3c72ff 694px,#307ffb 698px,#21a4e3 714px,#01b9c7 730px,#02bbc3 732px,#2bc3a8 745px,#38c896 754px,#4dcc82 763px,#9bc944 793px,#c5c22a 816px,#d3bf27 827px,#e2bc2b 842px,#f7ba3c 880px,#febd3c 915px,#fec438 1008px,#fec537 100%)"></i><i class="w" style="background:linear-gradient(#fec636 0,#fec537 257px,#febd3c 376px,#f7ba3d 407px,#f4ba39 417px,#e8bb2e 439px,#d3bf27 462px,#c4c22a 473px,#b4c533 483px,#91ca4d 500px,#5ecd74 519px,#3eca8f 531px,#25c2ae 546px,#0cbdbc 553px,#01b9c7 558px,#06b5cf 562px,#18aedb 568px,#1fa6e2 573px,#307ffb 590px,#3f6fff 595px,#4756f7 602px,#4742e6 607px,#463adb 609px,#3e28ad 614px,#3e26a8 615px,#3e26a8 673px,#463adc 679px,#4743e7 681px,#4756f7 686px,#3e6fff 693px,#3080fb 698px,#2b92ee 705px,#1babde 718px,#06b5cf 726px,#01b9c6 730px,#06bcc0 733px,#25c2ae 742px,#44cb8a 759px,#9cc943 793px,#c5c22a 815px,#d3bf27 826px,#e6bb2d 846px,#f8ba3d 881px,#febd3c 912px,#fec438 993px,#fec636 100%)"></i><i class="w" style="background:linear-gradient(#fec636 0,#fec537 274px,#febd3c 379px,#f5ba3a 416px,#e8bb2e 440px,#dabd28 456px,#c1c32c 476px,#9fc941 494px,#5fcd73 519px,#3fca8e 531px,#23c1af 547px,#0dbdbb 553px,#01b9c6 558px,#03b7cc 561px,#1babde 570px,#2699ea 580px,#317dfc 591px,#4368fe 597px,#4853f5 603px,#4743e7 607px,#463adc 609px,#3e26a8 615px,#3e26a8 673px,#4537d5 678px,#4747ec 682px,#465efb 688px,#3e70ff 693px,#2f80fa 698px,#20a5e3 714px,#17aeda 720px,#01b8ca 728px,#01b9c6 730px,#0abdbd 734px,#26c2ad 742px,#45cb89 759px,#73cd63 776px,#9bc944 792px,#c2c22b 813px,#d0bf27 823px,#e1bc2b 839px,#f7ba3c 877px,#febd3c 909px,#fec537 1013px,#fec636 100%)"></i><i class="w" style="background:linear-gradient(#fec636 0,#fec537 287px,#febd3c 381px,#f5ba3a 417px,#dbbd28 456px,#ccc028 469px,#bbc42f 480px,#97ca47 498px,#60cd72 519px,#40ca8d 531px,#24c1af 547px,#0abdbd 554px,#01bac5 558px,#07b5d0 563px,#19addc 569px,#2995ec 582px,#2f80fa 590px,#4269fe 597px,#4853f5 603px,#4743e7 607px,#4537d5 610px,#3e26a8 615px,#3e26a8 673px,#4434ce 677px,#4744e8 681px,#4757f8 686px,#3d70ff 693px,#2f81fa 698px,#2a93ee 705px,#1caadf 717px,#07b5d0 725px,#01bac5 730px,#24c1ae 741px,#38c896 753px,#4dcc82 762px,#9ac945 791px,#c5c22a 814px,#d3bf27 825px,#e5bb2c 843px,#f8ba3d 878px,#febd3c 907px,#fec537 1001px,#fec636 100%)"></i><i class="w" style="background:linear-gradient(#fec736 0,#fec636 263px,#febd3c 383px,#f6ba3b 416px,#e7bb2d 443px,#dabd28 457px,#c1c32c 477px,#9fc941 495px,#5ecd74 520px,#3eca8f 532px,#27c2ac 546px,#02bbc3 557px,#01b9c7 559px,#02b7cb 561px,#1aacdd 570px,#2a93ee 583px,#2f81fa 590px,#4269fe 597px,#4854f5 603px,#4743e8 607px,#4537d6 610px,#3e26a8 615px,#3e26a8 673px,#4538d7 678px,#4744e8 681px,#475cfa 687px,#3d71ff 693px,#2f81fa 698px,#2798ea 707px,#1aacdd 718px,#06b5cf 725px,#01b9c7 729px,#06bcc0 732px,#25c2ae 741px,#44cb8a 758px,#72cd63 775px,#99c946 790px,#c3c22b 812px,#d3bf27 824px,#e4bb2c 841px,#f8ba3d 877px,#febd3c 904px,#fec537 990px,#fec736 100%)"></i><i class="w" style="background:linear-gradient(#fec735 0,#fec636 281px,#febd3c 386px,#f7ba3d 413px,#f4ba39 422px,#e7bb2d 444px,#d3bf27 464px,#c5c22a 475px,#b2c534 486px,#97ca47 499px,#60cd73 520px,#3fca8e 532px,#25c2ad 547px,#0cbdbc 554px,#01b9c6 559px,#06b5cf 563px,#1aacdd 570px,#2798ea 581px,#2f81fa 590px,#426afe 597px,#4758f8 602px,#4744e8 607px,#4537d6 610px,#3e26a8 615px,#3e26a8 673px,#4434cf 677px,#4744e9 681px,#475cfa 687px,#3c71ff 693px,#307efb 697px,#2896ec 706px,#18aedb 719px,#06b5cf 725px,#01b9c6 729px,#09bdbe 733px,#28c2ab 742px,#45cb89 758px,#73cd63 775px,#9ac945 790px,#b1c635 801px,#c5c22a 813px,#d4bf27 824px,#e3bc2c 839px,#f8ba3d 875px,#febd3c 902px,#fec636 1007px,#fec735 100%)"></i><i class="w" style="background:linear-gradient(#fec835 0,#fec636 297px,#febd3c 389px,#f7ba3c 417px,#eabb30 441px,#dabd28 459px,#d0c027 468px,#b9c430 483px,#99c946 499px,#5ecd74 521px,#40ca8d 532px,#26c2ad 547px,#0dbdbb 554px,#01b9c6 559px,#01b7ca 561px,#1babde 571px,#2896ec 582px,#327bfc 592px,#426afe 597px,#4758f8 602px,#4744e8 607px,#4537d7 610px,#3e26a8 615px,#3e26a8 673px,#4538d8 678px,#4745e9 681px,#475cfa 687px,#3c71ff 693px,#307ffb 697px,#2994ed 705px,#1babde 717px,#05b6ce 725px,#01b9c6 729px,#0abdbd 733px,#24c1af 740px,#38c896 752px,#4ecc81 761px,#9bc944 790px,#c5c22a 812px,#d4bf27 823px,#e4bb2c 839px,#f9ba3d 876px,#febd3c 899px,#fec636 991px,#fec835 100%)"></i><i class="w" style="background:linear-gradient(#fec934 0,#fec736 290px,#febd3c 393px,#f8ba3d 417px,#f4ba39 426px,#e6bb2d 448px,#d4bf27 466px,#b9c430 484px,#91ca4c 503px,#5fcd73 521px,#41ca8c 532px,#29c3aa 546px,#01bac5 559px,#05b6ce 563px,#1babde 571px,#2994ed 583px,#307efb 591px,#426afe 597px,#4854f6 603px,#4744e8 607px,#4538d7 610px,#3e26a8 615px,#3e26a8 673px,#4434d0 677px,#4745e9 681px,#475cfa 687px,#3c72ff 693px,#307ffb 697px,#259de7 709px,#19addc 718px,#07b5d0 724px,#01bac5 729px,#27c2ac 741px,#44cb89 757px,#96ca48 787px,#acc738 797px,#c5c22a 811px,#d3bf27 821px,#e7bb2d 841px,#f8ba3d 871px,#febd3c 895px,#fec736 998px,#fec934 100%)"></i><i class="w" style="background:linear-gradient(#feca34 0,#fec835 290px,#febd3c 398px,#f8ba3d 420px,#eeba34 439px,#dabd28 462px,#c8c129 476px,#b9c430 485px,#9ac945 500px,#5ecd74 522px,#42ca8b 532px,#25c2ae 548px,#0bbdbc 555px,#01bac5 559px,#07b5d0 564px,#19addc 570px,#2994ed 583px,#307ffb 591px,#426afe 597px,#4758f8 602px,#4744e8 607px,#4537d7 610px,#3e26a8 615px,#3e26a8 673px,#4538d8 678px,#4745e9 681px,#475cfa 687px,#3c72ff 693px,#307ffb 697px,#269be8 708px,#19addc 718px,#02b7cb 726px,#01b9c7 728px,#03bbc3 730px,#2ac3a9 742px,#36c898 750px,#4ecc81 760px,#9dc943 789px,#c5c22a 810px,#d3bf27 820px,#e6bb2d 838px,#f8ba3d 868px,#febd3c 890px,#fec835 997px,#feca34 100%)"></i><i class="w" style="background:linear-gradient(#fdcb33 0,#fec934 292px,#febd3c 402px,#f8ba3d 423px,#ecba32 444px,#dabd28 463px,#c8c129 477px,#b9c430 486px,#9ec942 499px,#5fcd73 522px,#40ca8d 533px,#2ac3a9 546px,#02bbc3 558px,#01b9c7 560px,#07b5d0 564px,#19addc 570px,#2896ec 582px,#2f81fa 590px,#426afe 597px,#4758f8 602px,#4744e8 607px,#4537d6 610px,#3e26a8 615px,#3e26a8 673px,#4434cf 677px,#4740e4 680px,#4854f6 685px,#3c71ff 693px,#307ffb 697px,#259de7 709px,#19addc 718px,#02b7cb 726px,#01b9c7 728px,#03bbc3 730px,#28c2ab 741px,#3eca8f 754px,#4fcc81 760px,#a1c840 790px,#c5c22a 809px,#d3bf27 819px,#e5bb2c 835px,#f9ba3d 867px,#febd3c 886px,#fec934 996px,#fdcb33 100%)"></i><i class="w" style="background:linear-gradient(#fdcc32 0,#fec934 312px,#febd3c 405px,#f9ba3d 423px,#e6bb2d 453px,#d3bf27 470px,#c4c22a 480px,#b4c533 489px,#9cc943 500px,#60cd73 522px,#40ca8d 533px,#25c2ae 548px,#0bbdbd 555px,#01bac6 559px,#03b7cc 562px,#1babde 571px,#269ae9 580px,#2f80fa 590px,#4269fe 597px,#4853f5 603px,#4743e7 607px,#463adc 609px,#3e26a8 615px,#3e26a8 673px,#4537d6 678px,#4848ec 682px,#465ffb 688px,#3d70ff 693px,#2f81fa 698px,#2896ec 706px,#1babde 717px,#05b6ce 725px,#01bac5 729px,#0bbdbc 733px,#25c2ad 740px,#3eca8f 754px,#4fcc81 760px,#9fc941 789px,#c5c22a 808px,#d3bf27 818px,#e7bb2d 836px,#fabb3d 868px,#febd3c 883px,#fec934 976px,#fdcc32 100%)"></i><i class="w" style="background:linear-gradient(#fdcc32 0,#feca34 297px,#fec537 365px,#febd3c 406px,#f9ba3d 423px,#eabb30 448px,#dabd28 464px,#ccc028 475px,#b7c531 487px,#9ec942 499px,#61cd72 521px,#41ca8c 532px,#23c1af 548px,#0cbdbc 554px,#01b9c7 559px,#02b7cb 561px,#19addc 569px,#259de7 578px,#307ffb 590px,#3f6eff 595px,#4660fc 599px,#4745ea 606px,#4435d2 610px,#3e27ab 614px,#3e26a8 673px,#3e27ac 674px,#4536d3 678px,#4742e6 681px,#4759f9 687px,#3b72ff 694px,#307ffb 698px,#2797eb 707px,#19addb 719px,#04b6cd 726px,#01b9c7 729px,#09bcbe 733px,#26c2ad 741px,#44cb89 757px,#9ec942 789px,#c7c129 810px,#d3bf27 818px,#e6bb2d 835px,#f8ba3d 862px,#febd3c 882px,#fec537 923px,#feca34 991px,#fdcc32 100%)"></i><i class="w" style="background:linear-gradient(#fdcb33 0,#fec934 290px,#febd3c 400px,#f8ba3d 421px,#e4bb2c 452px,#d3bf27 467px,#c5c22a 477px,#9ec942 497px,#5fcd73 520px,#3dca90 532px,#27c2ac 545px,#01bac5 557px,#05b6ce 561px,#1babde 569px,#2b92ee 582px,#307ffb 589px,#4368fe 596px,#4853f5 602px,#4743e7 606px,#4537d6 609px,#3e26a8 614px,#3e26a8 674px,#4537d7 679px,#4744e8 682px,#465efb 689px,#3e70ff 694px,#317dfc 698px,#2797eb 708px,#19addc 720px,#07b5d0 726px,#01bac5 731px,#0bbdbd 735px,#25c2ae 742px,#40ca8d 757px,#4ecc81 762px,#9ec942 791px,#c5c22a 811px,#d3bf27 821px,#e5bb2c 837px,#f9ba3d 869px,#febd3c 888px,#fec934 998px,#fdcb33 100%)"></i><i class="w" style="background:linear-gradient(#fec736 0,#fec537 291px,#febd3c 380px,#f8ba3d 408px,#f3ba38 420px,#e5bb2c 443px,#d3bf27 461px,#c3c22b 473px,#acc738 486px,#8acb52 501px,#4dcc82 523px,#36c898 533px,#28c2ab 542px,#01b9c6 555px,#01b8ca 557px,#17aeda 565px,#20a5e3 571px,#307ffb 588px,#3f6fff 593px,#465efb 598px,#4744e8 605px,#4538d7 608px,#3e27a9 613px,#3e26a8 674px,#3e27ab 675px,#4331c8 678px,#4740e4 682px,#4854f5 687px,#3e6fff 695px,#307ffb 700px,#259ce7 712px,#19addc 722px,#07b5d0 728px,#01bac6 733px,#0abdbd 737px,#26c2ad 745px,#36c898 755px,#4dcc82 765px,#99c946 793px,#acc738 802px,#c4c22a 816px,#e0bc2a 839px,#f7ba3c 877px,#febd3c 908px,#fec537 997px,#fec736 100%)"></i><i class="w" style="background:linear-gradient(#fec13a 0,#febd3c 322px,#f8ba3d 379px,#ebba31 417px,#d1bf27 452px,#c5c22a 462px,#acc738 478px,#8bcb51 494px,#4dcc82 518px,#3cc991 525px,#24c1af 540px,#0bbdbc 547px,#01b9c6 552px,#03b6cc 555px,#1aacdd 564px,#259de7 573px,#307ffb 586px,#3d70ff 591px,#4466fd 594px,#484bef 602px,#4538d7 607px,#3e27ab 612px,#3e26a8 675px,#3e27ac 676px,#4538d8 681px,#4848ec 685px,#475af9 690px,#3d70ff 697px,#317dfc 701px,#23a1e5 717px,#14b0d8 727px,#01b8ca 734px,#01b9c6 736px,#03bbc2 738px,#24c1ae 748px,#3eca8f 764px,#4dcc82 770px,#98c946 800px,#aac739 809px,#c5c22a 826px,#debd29 850px,#f1ba36 885px,#f8ba3d 909px,#febd3c 966px,#fec13a 100%)"></i><i class="w" style="background:linear-gradient(#f8ba3d 0,#f5ba3a 287px,#f0ba36 345px,#e2bc2b 401px,#c8c129 441px,#a6c83c 468px,#81cc59 488px,#4ecc81 510px,#3eca8f 517px,#25c2ae 534px,#06bcc0 544px,#01b9c7 548px,#08b4d1 553px,#18aedb 559px,#259de7 570px,#307ffb 584px,#3d70ff 589px,#465dfb 595px,#4745ea 602px,#4434ce 607px,#3e27aa 611px,#3e26a8 676px,#3e27ab 677px,#4537d6 682px,#4746ea 686px,#465efb 693px,#3d70ff 699px,#307ffb 704px,#249fe6 719px,#1babde 727px,#02b7cb 738px,#01bac5 741px,#09bdbe 745px,#23c1af 753px,#3eca8f 771px,#4ecc81 778px,#93ca4a 809px,#b8c531 832px,#d0c027 856px,#e4bb2c 892px,#f0ba36 943px,#f5ba3a 1001px,#f8ba3d 100%)"></i><i class="w" style="background:linear-gradient(#dfbc2a 0,#dcbd29 288px,#d6be28 347px,#c9c129 395px,#b4c534 430px,#a2c83f 448px,#8ecb4e 463px,#73cd62 479px,#3eca8f 507px,#24c1af 527px,#0abdbd 536px,#01bac5 541px,#01b7ca 544px,#19addc 555px,#249fe6 565px,#317dfc 582px,#3e6fff 587px,#465dfb 593px,#4747eb 600px,#4539d9 604px,#3e26a8 610px,#3e26a8 677px,#3e27aa 678px,#4639da 684px,#4744e8 687px,#4758f8 693px,#4564fd 697px,#3b72ff 702px,#317dfc 706px,#259ce7 721px,#19addc 733px,#01b8ca 744px,#01bac5 747px,#26c2ad 762px,#44cb8a 784px,#84cc57 818px,#a8c73b 845px,#c0c32d 875px,#d0c028 913px,#ddbd29 1022px,#dfbc2a 100%)"></i><i class="w" style="background:linear-gradient(#c1c32c 0,#bec32e 285px,#b7c532 348px,#a8c73b 397px,#93ca4b 430px,#7acc5e 454px,#3fca8e 494px,#25c2ae 518px,#02bbc3 533px,#03b7cc 539px,#19addc 550px,#22a2e4 559px,#2f80fa 578px,#3c71ff 584px,#4466fd 588px,#4758f8 593px,#4742e6 600px,#4538d7 603px,#3e26a8 609px,#3e26a9 679px,#4538d8 685px,#4746ea 689px,#4758f8 695px,#3f6fff 703px,#2f81fa 710px,#20a5e3 731px,#19addc 738px,#01b7ca 750px,#01b9c6 753px,#2bc3a8 774px,#3eca8f 793px,#67cd6c 820px,#7fcc5a 838px,#97ca48 863px,#a9c73a 894px,#b7c532 940px,#bec32e 1003px,#c1c32c 100%)"></i><i class="w" style="background:linear-gradient(#a5c83e 0,#a2c840 288px,#9cc944 347px,#8fca4d 392px,#7fcc5a 423px,#5ecc74 459px,#41ca8c 482px,#28c2ab 509px,#09bdbe 524px,#01b9c6 530px,#02b7cb 534px,#18addb 546px,#249ee6 559px,#2e83f9 575px,#3b72ff 582px,#475af9 591px,#4742e6 599px,#4538d8 602px,#3e27aa 608px,#3e26a8 609px,#3e26a8 679px,#4536d2 685px,#4746ea 690px,#4758f8 696px,#4368fe 702px,#307ffb 711px,#259de7 728px,#18aedb 742px,#06b5cf 751px,#01bac6 758px,#27c2ac 778px,#40ca8d 805px,#68cd6b 839px,#82cc58 869px,#92ca4b 903px,#9dc943 947px,#a3c83f 1019px,#a5c83e 100%)"></i><i class="w" style="background:linear-gradient(#a5c83d 0,#a2c840 293px,#9cc944 348px,#8dcb4f 398px,#7dcc5c 426px,#60cd72 457px,#41ca8c 482px,#28c2ab 509px,#09bdbe 524px,#01b9c6 530px,#02b7cb 534px,#17aeda 545px,#1ca9e0 550px,#249ee6 559px,#2e83f9 575px,#3b72ff 582px,#475af9 591px,#4742e6 599px,#4435d1 603px,#3e27aa 608px,#3e26a8 609px,#3e26a8 679px,#3e27ab 680px,#4535d2 685px,#4745ea 690px,#4758f8 696px,#4368fe 702px,#307ffb 711px,#269ae9 726px,#18addb 742px,#02b7cb 754px,#01b9c6 758px,#2cc4a7 782px,#40ca8d 805px,#69cd6a 840px,#84cc56 872px,#92ca4b 902px,#9ec943 952px,#a3c83f 1013px,#a5c83d 100%)"></i><i class="w" style="background:linear-gradient(#c2c22c 0,#bec32e 296px,#b5c533 360px,#a3c83e 406px,#94ca4a 429px,#7acc5e 454px,#3fca8e 494px,#26c2ad 517px,#02bac4 533px,#02b7cb 538px,#18aedb 549px,#21a3e4 558px,#317dfc 579px,#3d70ff 584px,#475af9 592px,#4745e9 599px,#4537d6 603px,#3e26a8 609px,#3e26a8 679px,#4538d7 685px,#4742e6 688px,#4758f8 695px,#3f6eff 703px,#327bfc 708px,#2699ea 723px,#19addc 738px,#03b7cc 749px,#01b9c6 753px,#2cc4a7 775px,#3fca8e 794px,#67cd6c 820px,#7ecc5b 837px,#95ca4a 860px,#a9c73a 893px,#b8c531 942px,#bfc32e 1007px,#c2c22c 100%)"></i><i class="w" style="background:linear-gradient(#debc2a 0,#dbbd28 292px,#d5be28 348px,#c7c12a 397px,#b0c636 433px,#8fca4d 461px,#6fcd65 480px,#44cb8a 503px,#26c2ad 525px,#06bcc0 537px,#01b9c7 541px,#04b6cd 545px,#1aacdd 555px,#2699e9 568px,#2f81fa 580px,#4368fe 589px,#4850f3 597px,#473fe2 602px,#4332c9 606px,#3e26a8 610px,#3e26a8 678px,#4332ca 682px,#4743e7 687px,#475af9 694px,#3c71ff 702px,#307ffb 707px,#259be8 721px,#1babde 732px,#02b7cb 744px,#01b9c6 747px,#04bbc1 750px,#28c2ab 764px,#44cb8a 785px,#7ecc5a 816px,#a2c840 841px,#bdc42f 872px,#cfc028 913px,#dcbd29 1014px,#debc2a 100%)"></i><i class="w" style="background:linear-gradient(#f5ba3a 0,#f1ba36 303px,#eabb30 362px,#debd29 402px,#c7c129 437px,#a5c83d 466px,#7ccc5c 488px,#4ecc81 508px,#38c896 519px,#2ac3a9 530px,#03bbc2 544px,#01b9c8 547px,#08b4d1 552px,#18aedb 558px,#2798ea 572px,#317dfc 584px,#3f6eff 589px,#475cfa 595px,#4848ec 601px,#4536d3 606px,#3e26a8 611px,#3e26a8 677px,#4536d4 682px,#4744e9 686px,#475cfa 693px,#3c72ff 700px,#317dfc 704px,#269ae9 717px,#18aedb 730px,#02b7cb 739px,#01bac5 742px,#0bbdbc 747px,#22c1b0 754px,#3dca90 772px,#4fcc81 780px,#71cd64 795px,#96ca48 813px,#b9c430 837px,#d4bf27 867px,#e5bb2c 905px,#f2ba37 1003px,#f5ba3a 100%)"></i><i class="w" style="background:linear-gradient(#febe3c 0,#fcbc3d 305px,#f8ba3d 357px,#e9bb2f 411px,#d0bf27 447px,#c5c22a 457px,#acc738 474px,#8acb51 491px,#4fcc81 515px,#3ac993 524px,#24c1ae 538px,#01bac5 550px,#06b5cf 555px,#19addc 562px,#259de7 572px,#317dfc 586px,#3d71ff 590px,#465efb 596px,#4849ed 602px,#4536d4 607px,#3e26a8 612px,#3e26a8 676px,#4537d5 681px,#4746ea 685px,#4758f8 690px,#3c71ff 698px,#2f80fa 703px,#249fe6 717px,#19addc 726px,#06b5cf 733px,#01b9c7 737px,#07bcbf 741px,#22c1b0 749px,#3cc991 765px,#4fcc80 773px,#84cc56 794px,#9fc941 807px,#c5c22a 831px,#ddbd29 856px,#efba35 892px,#f7ba3d 930px,#fcbc3d 982px,#febe3c 100%)"></i><i class="w" style="background:linear-gradient(#fec239 0,#febd3c 340px,#f7ba3d 388px,#efba35 414px,#e4bb2c 434px,#d0bf27 456px,#c2c22b 467px,#aec637 480px,#80cc59 501px,#4dcc82 520px,#3cc991 527px,#23c1af 542px,#07bcbf 550px,#01b8c9 555px,#18aedb 564px,#2a93ee 579px,#307ffb 587px,#4369fe 594px,#475bfa 598px,#4745ea 604px,#4536d3 608px,#3e26a8 613px,#3e26a8 675px,#4536d4 680px,#4742e6 683px,#475cfa 690px,#3e70ff 696px,#307ffb 701px,#21a3e4 717px,#18aedb 724px,#02b7cb 732px,#01bac5 735px,#28c2ab 748px,#3eca8f 762px,#4ecc82 768px,#9ac945 798px,#c3c22b 821px,#d0bf27 832px,#dfbc2a 847px,#f3ba38 884px,#f7ba3d 900px,#febd3c 947px,#fec239 100%)"></i><i class="w" style="background:linear-gradient(#fec537 0,#fec438 265px,#febd3c 370px,#f7ba3d 403px,#f2ba37 418px,#e6bb2d 439px,#d4bf27 459px,#b6c532 480px,#8ccb50 500px,#4dcc82 523px,#38c896 532px,#24c1ae 544px,#02bbc3 554px,#01b9c7 556px,#21a4e3 572px,#317dfc 589px,#3e70ff 593px,#475bfa 599px,#4741e5 606px,#4332c9 610px,#3e27ac 613px,#3e26a8 614px,#3e26a8 674px,#3f28ad 675px,#4536d3 679px,#4745ea 683px,#475cfa 689px,#3d70ff 695px,#2e83f9 701px,#1fa6e2 717px,#01b9c7 732px,#08bcbe 736px,#29c3aa 746px,#3ac993 757px,#4ecc81 765px,#9ac945 794px,#c4c22a 817px,#d4bf27 829px,#e7bb2d 850px,#f8ba3d 885px,#febd3c 918px,#fec438 1023px,#fec537 100%)"></i><i class="w" style="background:linear-gradient(#fec735 0,#fec636 277px,#febd3c 385px,#f8ba3d 411px,#f4ba39 421px,#e7bb2d 443px,#d3bf27 463px,#c5c22a 474px,#b6c532 483px,#8fca4d 501px,#5ecd74 519px,#40ca8d 530px,#26c2ad 545px,#0dbdbb 552px,#01b9c6 557px,#01b7ca 559px,#1babde 569px,#2b92ee 582px,#317dfc 590px,#4368fe 596px,#4853f5 602px,#4743e8 606px,#4537d6 609px,#3e26a8 614px,#3e26a8 674px,#4434cf 678px,#4744e8 682px,#465ffb 689px,#3e70ff 694px,#2e83f9 700px,#23a1e5 713px,#17aeda 721px,#01b8ca 729px,#01b9c6 731px,#0abdbd 735px,#24c1af 742px,#38c896 754px,#4ecc81 763px,#9ec942 793px,#c5c22a 814px,#d4bf27 825px,#e3bc2c 840px,#f7ba3c 874px,#febd3c 903px,#fec636 1011px,#fec735 100%)"></i><i class="w" style="background:linear-gradient(#fec934 0,#fec736 291px,#febd3c 392px,#f7ba3c 419px,#eabb30 442px,#dbbd28 459px,#d0bf27 468px,#bdc32e 481px,#96ca48 500px,#5fcd73 520px,#41ca8c 531px,#24c1af 547px,#0abdbd 554px,#01b9c6 558px,#03b7cc 561px,#1babde 570px,#2994ed 582px,#307ffb 590px,#3f6eff 595px,#4660fc 599px,#4746ea 606px,#4639da 609px,#3e27ab 614px,#3e26a8 673px,#3e28ac 674px,#4536d3 678px,#4742e6 681px,#475af9 687px,#3b72ff 694px,#307ffb 698px,#2b92ef 705px,#1babde 718px,#05b6ce 726px,#01bac5 730px,#29c3aa 743px,#44cb8a 758px,#74cd62 775px,#99c946 789px,#aac739 797px,#c5c22a 812px,#d3bf27 822px,#e3bc2c 837px,#f9ba3d 874px,#febd3c 896px,#fec736 996px,#fec934 100%)"></i><i class="w" style="background:linear-gradient(#fec934 0,#fec835 281px,#febd3c 396px,#f8ba3d 419px,#e9bb2f 445px,#dabd28 461px,#bfc32d 481px,#9fc941 497px,#5fcd73 521px,#3eca8f 533px,#26c2ad 547px,#09bdbe 555px,#01b9c6 559px,#06b5cf 563px,#1aacdd 570px,#2a93ee 583px,#2f80fa 590px,#4269fe 597px,#4853f5 603px,#4743e7 607px,#4537d5 610px,#3e26a8 615px,#3e26a8 673px,#4537d6 678px,#4744e8 681px,#465ffb 688px,#3d70ff 693px,#2f81fa 698px,#269ae9 708px,#18aedb 719px,#01b7ca 727px,#01b9c6 729px,#0dbdbb 734px,#24c1af 740px,#44cb8a 757px,#73cd62 774px,#99c946 788px,#c1c32c 808px,#dabd28 827px,#e7bb2d 840px,#f8ba3d 869px,#febd3c 892px,#fec835 1007px,#fec934 100%)"></i><i class="w" style="background:linear-gradient(#feca34 0,#fec835 291px,#febd3c 398px,#f8ba3d 420px,#e5bb2c 451px,#d3bf27 468px,#c5c22a 478px,#a1c840 497px,#61cd72 521px,#3fca8e 533px,#25c2ae 548px,#0bbdbd 555px,#01bac5 559px,#07b5d0 564px,#1babde 571px,#2994ed 583px,#307ffb 591px,#426afe 597px,#4854f6 603px,#4740e4 608px,#4538d7 610px,#3e26a8 615px,#3e26a8 673px,#4434d0 677px,#4745e9 681px,#475cfa 687px,#3c72ff 693px,#307ffb 697px,#269be8 708px,#19addc 718px,#07b5d0 724px,#01b9c7 728px,#05bbc1 731px,#25c2ae 740px,#4dcc82 760px,#9cc943 789px,#c5c22a 810px,#d3bf27 820px,#e6bb2d 838px,#f8ba3d 868px,#febd3c 890px,#fec835 997px,#feca34 100%)"></i><i class="w" style="background:linear-gradient(#feca33 0,#fec835 298px,#febd3c 399px,#f8ba3d 421px,#e8bb2e 448px,#dabd28 462px,#bfc32d 482px,#9fc941 498px,#5fcd73 522px,#40ca8d 533px,#28c2ab 547px,#09bcbe 556px,#01b9c7 560px,#04b6cd 563px,#1caadf 572px,#2797eb 582px,#307ffb 591px,#3f6eff 596px,#4851f4 604px,#4741e5 608px,#4435d0 611px,#3e26a8 615px,#3e26a8 672px,#3e27a9 673px,#4435d1 677px,#4746ea 681px,#4759f9 686px,#3e6fff 692px,#317dfc 696px,#2995ec 705px,#1aacdd 717px,#06b5cf 724px,#01b9c6 728px,#09bdbe 732px,#26c2ad 740px,#38c895 751px,#4ecc81 760px,#7fcc5a 777px,#9fc941 790px,#c6c22a 810px,#d3bf27 820px,#e2bc2b 833px,#f8ba3d 867px,#febd3c 889px,#fec835 990px,#feca33 100%)"></i><i class="w" style="background:linear-gradient(#feca33 0,#fec835 303px,#febd3c 400px,#f7ba3c 424px,#e9bb2f 447px,#d3bf27 469px,#c7c129 477px,#b3c534 489px,#9bc944 500px,#4fcc81 528px,#41ca8c 533px,#26c2ad 548px,#0dbdbb 555px,#01b9c6 560px,#06b5cf 564px,#1aacdd 571px,#2995ec 583px,#317dfc 592px,#4368fe 598px,#475af9 602px,#4746ea 607px,#4435d1 611px,#3e27a9 615px,#3e26a8 672px,#3e27ab 673px,#4536d3 677px,#4746eb 681px,#465efb 687px,#3e70ff 692px,#2f80fa 697px,#269ae9 707px,#18aedb 718px,#01b8ca 726px,#01b9c6 728px,#0abdbd 732px,#24c1ae 739px,#44cb8a 756px,#71cd64 772px,#9ec942 789px,#c5c22a 809px,#d3bf27 819px,#e6bb2d 837px,#f8ba3d 866px,#febd3c 888px,#fec835 985px,#feca33 100%)"></i><i class="w" style="background:linear-gradient(#feca33 0,#fec835 307px,#febd3c 400px,#f8ba3d 422px,#e7bb2d 450px,#d3bf27 469px,#c5c22a 479px,#9ec942 499px,#60cd72 522px,#41ca8c 533px,#24c1ae 549px,#0abdbd 556px,#01b9c6 560px,#03b7cc 563px,#18aedb 570px,#269ae9 581px,#2f80fa 591px,#4369fe 598px,#4756f7 603px,#4742e6 608px,#4536d2 611px,#3e27aa 615px,#3e26a8 672px,#3e27ac 673px,#4536d4 677px,#4743e7 680px,#4757f7 685px,#3d70ff 692px,#2f81fa 697px,#2896ec 705px,#1babde 716px,#05b6ce 724px,#01bac5 728px,#27c2ac 740px,#44cb89 756px,#83cc57 778px,#a0c840 790px,#c5c22a 809px,#d3bf27 819px,#e7bb2e 838px,#f9ba3d 868px,#febd3c 887px,#fec835 980px,#feca33 100%)"></i><i class="w" style="background:linear-gradient(#feca33 0,#fec934 284px,#fec537 353px,#febd3c 401px,#f7ba3c 425px,#e8bb2e 449px,#dabd28 463px,#c8c129 477px,#b9c430 486px,#95ca49 503px,#60cd72 522px,#3fca8e 534px,#27c2ac 548px,#01bac6 560px,#05b6ce 564px,#1babde 572px,#2798ea 582px,#2f81fa 591px,#3d70ff 596px,#465efb 601px,#4747eb 607px,#463adb 610px,#3e27ab 615px,#3e26a8 672px,#3f28ad 673px,#463adc 678px,#4743e7 680px,#4757f7 685px,#3d71ff 692px,#2f81fa 697px,#2896ec 705px,#1babde 716px,#07b5d0 723px,#01bac5 728px,#0bbdbd 732px,#25c2ae 739px,#39c994 751px,#4dcc82 759px,#9ac945 787px,#c5c22a 809px,#d3bf27 819px,#e2bc2b 832px,#f8ba3d 865px,#febd3c 887px,#fec537 935px,#fec934 1003px,#feca33 100%)"></i><i class="w" style="background:linear-gradient(#fdca33 0,#fec934 288px,#febd3c 402px,#f8ba3d 423px,#e9bb2f 448px,#dabd28 463px,#d1bf27 471px,#bdc32e 484px,#9ac945 501px,#61cd72 522px,#3fca8e 534px,#27c2ac 548px,#01bac5 560px,#05b6ce 564px,#1babde 572px,#259ce7 580px,#2e83f9 590px,#3f6fff 596px,#4851f4 604px,#4741e5 608px,#4435d0 611px,#3e26a8 615px,#3e26a8 672px,#3e27a9 673px,#4435d1 677px,#4746ea 681px,#4759f9 686px,#3e6fff 692px,#317dfc 696px,#269ae9 707px,#19addc 717px,#07b5d0 723px,#01b9c7 727px,#05bbc1 730px,#25c2ae 739px,#4dcc82 759px,#9cc943 788px,#c5c22a 809px,#d3bf27 819px,#e4bb2c 834px,#f8ba3d 865px,#febd3c 886px,#fec934 1000px,#fdca33 100%)"></i><i class="w" style="background:linear-gradient(#fdcb33 0,#fec934 290px,#febd3c 402px,#f8ba3d 423px,#ecba32 444px,#dbbd28 463px,#c8c129 477px,#b6c532 488px,#9cc943 500px,#5ecd74 523px,#3fca8e 534px,#27c2ac 547px,#08bcbe 555px,#01bac5 558px,#03b7cc 561px,#1aacdd 569px,#2995ec 581px,#317dfc 590px,#4269fe 596px,#4854f5 602px,#4744e8 606px,#4538d7 609px,#3e26a8 614px,#3e26a8 673px,#3e27a9 674px,#4435d0 678px,#4744e9 682px,#475bfa 688px,#3d70ff 694px,#2f81fa 699px,#2a93ee 706px,#1aacdd 719px,#05b6ce 726px,#01bac5 730px,#27c2ac 741px,#4dcc82 759px,#9dc943 788px,#c6c22a 809px,#d4bf27 819px,#e6bb2d 836px,#f9ba3d 867px,#febd3c 886px,#fec934 998px,#fdcb33 100%)"></i><i class="w" style="background:linear-gradient(#fdcb33 0,#fec934 290px,#febd3c 402px,#f8ba3d 423px,#ecba32 444px,#dbbd28 463px,#c8c129 477px,#b6c532 488px,#8ecb4f 506px,#61cd72 521px,#3fca8e 531px,#26c2ad 544px,#0bbdbd 551px,#01bac5 555px,#03b7cc 558px,#15afd9 564px,#1ea8e1 569px,#2f80fa 587px,#3d71ff 592px,#475cfa 598px,#4743e7 605px,#4537d5 608px,#3e26a8 613px,#3e26a8 675px,#4537d6 680px,#4743e7 683px,#4759f9 689px,#3c71ff 696px,#2f81fa 701px,#23a1e5 715px,#17aeda 723px,#01b8ca 731px,#01bac5 733px,#08bcbe 736px,#26c2ad 744px,#3dca90 756px,#50cc80 762px,#72cd63 772px,#9fc941 789px,#c6c22a 809px,#d4bf27 819px,#e6bb2d 836px,#f9ba3d 867px,#febd3c 886px,#fec934 997px,#fdcb33 100%)"></i><i class="w" style="background:linear-gradient(#fdcb33 0,#fec934 290px,#febd3c 402px,#f8ba3d 423px,#ecba32 444px,#dbbd28 463px,#c8c129 477px,#b6c532 488px,#9ac945 499px,#5ecd74 517px,#3fca8e 527px,#27c2ac 540px,#0abdbd 548px,#01b9c6 552px,#05b6ce 556px,#19addc 563px,#23a0e5 571px,#2f81fa 585px,#3f6eff 591px,#4758f8 598px,#4742e6 604px,#4536d4 607px,#3e26a8 612px,#3e26a9 676px,#463adc 682px,#484aee 686px,#475bfa 691px,#3b72ff 698px,#307efb 702px,#21a4e3 719px,#14b0d8 727px,#01b8ca 734px,#01bac5 736px,#0bbdbd 740px,#25c2ae 747px,#3fca8e 761px,#4fcc81 766px,#9ec942 790px,#acc738 795px,#c1c32c 806px,#d4bf27 819px,#e6bb2d 836px,#f9ba3d 867px,#febd3c 886px,#fec934 997px,#fdcb33 100%)"></i><i class="w" style="background:linear-gradient(#fdcb33 0,#fec934 290px,#febd3c 402px,#f9ba3d 421px,#e5bb2c 453px,#d3bf27 467px,#c3c22b 476px,#acc738 486px,#94ca4a 495px,#5ecd74 512px,#3eca8f 523px,#26c2ad 537px,#0dbdbb 544px,#01bac6 549px,#07b5d0 554px,#18aedb 560px,#269ae9 572px,#307efb 584px,#3e6fff 589px,#4756f7 597px,#4848ec 601px,#4639da 605px,#3e26a8 611px,#3e26a8 677px,#463adb 683px,#4849ed 687px,#475af9 692px,#3e70ff 699px,#307ffb 704px,#249ee6 718px,#18aedb 728px,#07b5cf 734px,#01bac5 739px,#0abdbd 743px,#26c2ad 751px,#44cb89 767px,#72cd64 782px,#9cc943 796px,#c5c22a 813px,#d3bf27 821px,#e6bb2d 836px,#f9ba3d 867px,#febd3c 886px,#fec934 997px,#fdcb33 100%)"></i><i class="w" style="background:linear-gradient(#fdcb33 0,#fec934 290px,#fec537 355px,#febd3c 399px,#f9ba3d 414px,#ebba31 435px,#d3bf27 456px,#c6c22a 465px,#b3c534 475px,#7ecc5a 496px,#4dcc82 513px,#36c898 523px,#24c1ae 534px,#06bcc0 543px,#01b8ca 548px,#19addc 558px,#259de7 568px,#2f81fa 581px,#3e70ff 587px,#4563fd 591px,#4851f3 597px,#4742e7 601px,#4435d0 605px,#3e26a8 610px,#3e26a8 678px,#4538d8 684px,#4747eb 688px,#4757f8 693px,#3d70ff 701px,#307ffb 706px,#249fe6 721px,#19addc 730px,#09b4d1 736px,#01bac6 742px,#25c2ae 754px,#38c895 766px,#4ecc81 775px,#a1c840 805px,#c8c129 824px,#dabd28 837px,#ebba31 853px,#f9ba3d 874px,#febd3c 889px,#fec438 924px,#fec934 997px,#fdcb33 100%)"></i><i class="w" style="background:linear-gradient(#fec537 0,#fec438 241px,#febd3c 350px,#f8ba3d 384px,#f3ba38 398px,#e6bb2d 422px,#d3bf27 443px,#b9c430 462px,#96ca48 480px,#60cd72 501px,#43ca8a 512px,#24c1ae 530px,#03bbc2 540px,#01b9c6 542px,#01b8ca 544px,#17aedb 553px,#249fe6 563px,#2f80fa 578px,#3d70ff 584px,#475cfa 591px,#4745ea 598px,#4538d7 602px,#3e26a8 608px,#3e26a8 679px,#3e27a9 680px,#4538d8 686px,#4746ea 690px,#4756f7 695px,#3d70ff 704px,#2f81fa 710px,#259ce7 723px,#19addc 734px,#07b5d0 741px,#01b9c6 746px,#06bcc0 749px,#2bc3a8 761px,#44cb8a 776px,#73cd63 794px,#99c946 809px,#c3c22b 832px,#d3bf27 845px,#e4bb2c 863px,#f5ba3a 895px,#febd3c 938px,#fec438 1046px,#fec537 100%)"></i><i class="w" style="background:linear-gradient(#fbbc3d 0,#f9ba3d 290px,#f1ba36 359px,#e5bb2c 398px,#d0bf27 430px,#c3c22b 443px,#a8c73b 462px,#80cc59 482px,#4ecc81 501px,#3dca90 508px,#24c1af 524px,#07bcbf 533px,#01b9c7 537px,#07b5d0 542px,#19addc 549px,#259be8 561px,#307efb 575px,#3f6eff 581px,#4758f8 589px,#4743e7 596px,#4536d4 600px,#3e26a8 606px,#3e26a8 682px,#4434ce 687px,#4746eb 693px,#475bfa 700px,#3c72ff 708px,#307ffb 713px,#22a2e4 731px,#1aacdd 738px,#01b8ca 749px,#01b9c6 751px,#0abdbd 756px,#24c1ae 764px,#38c896 777px,#4fcc81 787px,#94ca4a 815px,#b7c531 836px,#d0bf27 858px,#e8bb2e 897px,#f3ba39 942px,#f9ba3d 998px,#fbbc3d 100%)"></i><i class="w" style="background:linear-gradient(#f0ba36 0,#ecba32 285px,#e5bb2c 349px,#d7be28 395px,#c4c22a 422px,#b9c431 434px,#a2c83f 451px,#7dcc5b 471px,#4ecc81 492px,#39c994 502px,#22c1b0 517px,#0bbdbc 524px,#01b9c7 530px,#07b5d0 535px,#1aacdd 543px,#2798ea 557px,#307efb 570px,#4368fe 579px,#4853f5 587px,#4741e5 593px,#4433cc 598px,#3e26a8 603px,#3e26a9 685px,#4539d9 692px,#4848ec 697px,#475bfa 704px,#4368fe 709px,#3678fe 715px,#2e83f9 720px,#259de7 734px,#16afda 747px,#03b6cc 755px,#01bac5 759px,#22c1b0 771px,#3bc992 787px,#4ecc81 796px,#8ecb4f 825px,#a1c840 836px,#b8c531 853px,#d0bf27 881px,#dfbc2a 914px,#e7bb2d 950px,#edba33 1021px,#f0ba36 100%)"></i><i class="w" style="background:linear-gradient(#dabd28 0,#d7be28 267px,#d0c028 334px,#c3c22b 380px,#b1c636 411px,#8fca4d 441px,#73cd62 458px,#4dcc82 478px,#38c896 490px,#27c2ac 504px,#05bbc1 517px,#01bac6 520px,#03b7cc 524px,#1aacdd 535px,#249ee6 546px,#307efb 564px,#3f6eff 571px,#465dfb 578px,#4849ed 586px,#463bdd 591px,#3e26a8 600px,#3e26a8 688px,#4539d9 696px,#4747eb 701px,#475bfa 709px,#3c71ff 718px,#2e83f9 726px,#23a1e5 744px,#15afd8 756px,#01b7ca 765px,#01bac5 768px,#29c3aa 785px,#44cb8a 805px,#74cd62 830px,#9dc943 857px,#b5c533 882px,#c8c129 921px,#d2bf27 966px,#d8be28 1041px,#dabd28 100%)"></i><i class="n" style="background:linear-gradient(#c3c22b 0,#bec32e 277px,#b5c533 340px,#a5c83d 384px,#94ca4a 410px,#7acc5e 435px,#3dca90 475px,#25c2ae 496px,#01bac5 512px,#05b6ce 518px,#18aedb 527px,#259de7 541px,#2e83f9 557px,#3d70ff 566px,#475af9 576px,#4746ea 584px,#4434ce 591px,#3e26a8 597px,#3e26a8 690px,#3e27a9 691px,#4539d9 699px,#4849ed 705px,#4757f8 711px,#3f6eff 721px,#327cfc 727px,#23a0e5 749px,#19addc 760px,#05b6ce 770px,#01b9c6 775px,#0cbdbc 782px,#2ac3a9 795px,#40ca8d 815px,#62cd70 836px,#7ecc5b 856px,#9bc945 887px,#adc738 921px,#b8c531 962px,#bfc32e 1024px,#c3c22b 100%)"></i><i class="n" style="background:linear-gradient(#b4c533 0,#b0c636 264px,#aac73a 319px,#9bc944 372px,#8ccb50 400px,#71cd65 429px,#3fca8e 466px,#26c2ad 490px,#0abdbd 502px,#01bac6 508px,#02b7cb 512px,#17aeda 523px,#23a1e5 535px,#2f81fa 556px,#3c71ff 563px,#475dfa 572px,#4747eb 581px,#4537d6 587px,#3e26a8 595px,#3e26a8 693px,#4435d2 700px,#473fe3 704px,#4756f7 713px,#4368fe 721px,#317dfc 730px,#259ce7 749px,#15afd9 766px,#02b7cb 776px,#01bac5 780px,#29c3aa 800px,#3fca8e 822px,#5fcd73 844px,#7acc5e 867px,#8fcb4e 892px,#9fc942 925px,#abc739 975px,#b1c636 1041px,#b4c533 100%)"></i><i class="n" style="background:linear-gradient(#a3c83f 0,#9fc942 261px,#97ca48 327px,#86cb54 378px,#7bcc5d 398px,#67cd6c 422px,#40ca8d 456px,#2ac3a9 481px,#0abdbd 497px,#01b9c6 504px,#01b7ca 507px,#12b1d6 516px,#21a4e3 528px,#2e83f9 549px,#3b72ff 557px,#475cfa 567px,#4745ea 577px,#4537d6 583px,#3e27a9 591px,#3e26a8 592px,#3e26a8 696px,#3e27aa 697px,#4435d2 704px,#4741e5 709px,#4756f7 718px,#3d70ff 730px,#2e83f9 739px,#23a0e5 757px,#18aedb 768px,#01b8ca 781px,#03bbc2 787px,#25c2ae 803px,#36c899 821px,#5acc77 853px,#79cc5f 887px,#8ccb50 922px,#96ca49 956px,#a1c840 1065px,#a3c83f 100%)"></i><i class="n" style="background:linear-gradient(#90ca4d 0,#8ccb50 260px,#85cb56 321px,#79cc5e 365px,#6acd6a 396px,#55cc7b 424px,#3fca8e 446px,#2cc4a7 472px,#1bc0b4 484px,#0dbdbb 489px,#01b9c6 496px,#07b5d0 503px,#18aedb 511px,#23a0e5 523px,#2e83f9 542px,#3b72ff 551px,#4759f9 563px,#4744e8 573px,#4536d4 579px,#3e26a8 588px,#3e26a8 700px,#4537d5 709px,#4742e6 714px,#4758f8 724px,#4564fd 730px,#3b72ff 737px,#2e84f9 746px,#2b92ee 755px,#18aedb 777px,#01b8ca 789px,#03bbc3 794px,#24c1af 809px,#2ec5a4 819px,#49cb85 851px,#64cd6e 884px,#75cc62 913px,#82cc58 952px,#8ecb4f 1068px,#90ca4d 100%)"></i><i class="n" style="background:linear-gradient(#7ccc5c 0,#7acc5e 225px,#70cd65 329px,#61cd72 380px,#4fcc80 412px,#2ec5a4 453px,#23c1af 464px,#02bbc3 481px,#01b7ca 487px,#17aeda 500px,#269ae9 519px,#2e83f9 535px,#3d71ff 545px,#465efb 555px,#4746ea 567px,#4539d9 573px,#3e27a9 583px,#3e26a8 584px,#3e26a8 704px,#4537d6 714px,#4741e6 719px,#4854f6 728px,#4564fd 736px,#3c71ff 743px,#2e83f9 753px,#249fe6 773px,#17aeda 788px,#01b8ca 801px,#01bac5 805px,#20c1b1 822px,#2ec4a5 834px,#4ecc81 874px,#64cd6e 918px,#70cd65 959px,#78cc5f 1025px,#7ccc5c 100%)"></i><i class="n" style="background:linear-gradient(#5acc77 0,#58cc7a 213px,#4ecc82 323px,#3cc991 386px,#2bc3a8 430px,#20c1b1 443px,#0abdbe 458px,#02bbc3 464px,#01b8ca 471px,#1aacdd 490px,#2699ea 510px,#2f80fa 528px,#3e6fff 538px,#4853f5 554px,#4741e5 563px,#4639da 567px,#3e27a9 578px,#3e26a8 579px,#3e26a8 709px,#4538d7 720px,#4745ea 727px,#465efb 740px,#3c71ff 751px,#2f81fa 760px,#2798ea 777px,#19addc 799px,#07b5d0 811px,#01b9c6 821px,#08bcbe 829px,#1fc0b2 844px,#2cc4a7 859px,#38c896 890px,#45cb88 930px,#51cc7f 983px,#56cc7b 1034px,#5acc77 100%)"></i><i class="n" style="background:linear-gradient(#36c799 0,#34c79b 248px,#2ec4a5 354px,#25c2ae 392px,#1abfb5 411px,#04bbc1 435px,#01b9c8 445px,#06b5cf 455px,#1aacdd 473px,#259ce7 494px,#2f80fa 518px,#3e6fff 529px,#465efb 540px,#484aee 552px,#4536d4 563px,#3e26a8 574px,#3e26a8 714px,#4536d4 725px,#4746eb 734px,#475cfa 747px,#3c71ff 760px,#2f80fa 770px,#259de7 795px,#19addc 816px,#01b8ca 840px,#02bbc3 850px,#15bfb8 871px,#27c2ac 902px,#31c5a1 963px,#35c79a 1076px,#36c799 100%)"></i><i class="n" style="background:linear-gradient(#18bfb6 0,#17bfb7 189px,#0fbeba 308px,#02bbc3 374px,#01b7ca 403px,#10b2d5 431px,#21a3e4 467px,#2896ec 486px,#317dfc 511px,#4368fe 526px,#475af9 536px,#4747eb 548px,#4435d0 559px,#3e26a8 569px,#3e26a8 719px,#4536d4 730px,#4742e6 737px,#475af9 752px,#3f6eff 766px,#2f80fa 780px,#23a0e5 816px,#18aedb 844px,#03b7cc 879px,#02bbc3 914px,#11beb9 996px,#17bfb7 1099px,#18bfb6 100%)"></i><i class="n" style="background:linear-gradient(#03b7cc 0,#05b6ce 290px,#0ab4d2 346px,#16afda 395px,#2797eb 436px,#2f80fa 457px,#3c71ff 467px,#4464fd 475px,#4850f3 487px,#463ee1 497px,#3e26a8 513px,#3e26a8 775px,#4435d2 786px,#4743e8 794px,#465efb 809px,#3f6eff 819px,#2f80fa 831px,#2798ea 853px,#14b0d8 897px,#09b4d1 948px,#05b6ce 998px,#03b7cc 100%)"></i><i class="n" style="background:linear-gradient(#3e26a8 0,#3e26a8 100%)"></i><i class="n" style="background:linear-gradient(#3e26a8 0,#3e26a8 100%)"></i><i class="n" style="background:linear-gradient(#04b6cd 0,#07b5d0 309px,#16afda 395px,#2797eb 436px,#2f80fa 457px,#3c71ff 467px,#4464fd 475px,#4850f3 487px,#463ee1 497px,#3e26a8 513px,#3e26a8 775px,#4435d2 786px,#4743e8 794px,#465efb 809px,#3f6eff 819px,#2f80fa 831px,#2798ea 853px,#14b0d8 897px,#06b5cf 1001px,#04b6cd 100%)"></i><i class="n" style="background:linear-gradient(#01b8c9 0,#03b6cc 308px,#07b5d0 356px,#1caadf 433px,#2b92ef 483px,#307ffb 505px,#4564fd 527px,#4850f3 541px,#463de0 553px,#4435d2 558px,#3e26a8 569px,#3e26a8 719px,#4434cf 729px,#4744e8 739px,#4757f8 752px,#3f6eff 769px,#317dfc 781px,#2798ea 814px,#1fa6e2 843px,#14b0d8 882px,#07b5d0 932px,#03b6cc 980px,#01b8c9 100%)"></i><i class="n" style="background:linear-gradient(#1ac0b4 0,#19bfb6 207px,#11beb9 307px,#01bac5 385px,#01b8ca 402px,#0eb3d4 426px,#1fa6e2 458px,#2797eb 480px,#317dfc 509px,#4563fd 529px,#484cf0 545px,#463bde 555px,#3e26a8 570px,#3e26a8 718px,#4537d6 730px,#4741e5 736px,#475af9 752px,#3f6eff 767px,#2f80fa 782px,#20a5e3 828px,#13b1d7 855px,#01b8ca 886px,#02bbc3 912px,#0bbdbc 950px,#17bfb7 1037px,#1ac0b4 100%)"></i><i class="n" style="background:linear-gradient(#36c898 0,#35c79a 229px,#2fc5a3 343px,#25c2ae 388px,#1abfb5 407px,#04bbc1 431px,#01b9c8 441px,#06b5cf 451px,#16afda 465px,#259de7 489px,#2f80fa 514px,#3e6fff 525px,#465efb 536px,#4743e7 552px,#4537d6 559px,#3e26a8 571px,#3e26a8 717px,#4537d6 729px,#4743e7 736px,#465efb 752px,#3c71ff 764px,#2f80fa 774px,#249ee6 800px,#19addc 820px,#01b8ca 844px,#02bac3 854px,#15bfb8 875px,#28c2ab 909px,#31c5a1 964px,#35c79a 1059px,#36c898 100%)"></i><i class="n" style="background:linear-gradient(#5acc77 0,#59cc79 182px,#51cc7f 301px,#43ca8a 361px,#2ec4a5 421px,#1ec0b2 441px,#0fbebb 451px,#02bbc3 460px,#01b8ca 467px,#17aeda 483px,#249ee6 501px,#307efb 525px,#3e6fff 534px,#4854f6 549px,#473fe3 560px,#4536d4 565px,#3e26a8 575px,#3e26a8 713px,#4536d4 723px,#4745ea 731px,#465dfb 744px,#3d71ff 755px,#307efb 763px,#259de7 786px,#18aedb 804px,#07b5d0 815px,#01b9c6 825px,#24c1af 852px,#2cc4a7 863px,#38c896 894px,#45cb88 934px,#51cc7f 987px,#57cc7a 1053px,#5acc77 100%)"></i><i class="n" style="background:linear-gradient(#7dcc5b 0,#7bcc5d 221px,#71cd65 324px,#68cd6c 360px,#53cc7d 404px,#28c3ab 456px,#04bbc2 476px,#01b7ca 483px,#17aeda 496px,#23a0e5 510px,#2f81fa 532px,#3f6eff 542px,#475bfa 552px,#4745ea 563px,#4537d6 570px,#3e26a8 580px,#3e26a8 708px,#4537d6 718px,#4746ea 725px,#475bfa 736px,#3b72ff 748px,#2f81fa 756px,#23a0e5 778px,#17aeda 792px,#01b8ca 805px,#01bac5 809px,#25c2ae 829px,#2ec4a5 838px,#53cc7d 884px,#67cd6c 926px,#73cd63 975px,#7acc5e 1046px,#7dcc5b 100%)"></i><i class="n" style="background:linear-gradient(#93ca4a 0,#8fcb4e 258px,#88cb53 318px,#7acc5d 366px,#5dcc74 414px,#3eca8f 446px,#2dc4a6 469px,#24c1ae 476px,#0bbdbd 486px,#01bac6 492px,#07b5d0 499px,#18aedb 507px,#259ce7 522px,#2e83f9 538px,#3b72ff 547px,#4564fd 554px,#4745e9 569px,#4537d7 575px,#3e26a8 585px,#3e26a8 703px,#4537d7 713px,#4745e9 719px,#4564fd 734px,#3b72ff 741px,#2e83f9 750px,#2c90f0 758px,#18aedb 781px,#01b8ca 793px,#03bbc3 798px,#2ac3a9 816px,#33c79d 828px,#49cb85 852px,#66cd6d 885px,#7bcc5d 923px,#85cb56 955px,#91ca4d 1067px,#93ca4a 100%)"></i><i class="w" style="background:linear-gradient(#bac430 0,#b6c533 262px,#acc739 337px,#9ec942 377px,#8fcb4e 402px,#78cc5f 426px,#3fca8e 466px,#2cc4a7 485px,#23c1af 491px,#02bbc3 505px,#01b7ca 510px,#18aedb 522px,#23a0e5 534px,#2e83f9 551px,#3c72ff 559px,#465dfb 568px,#4741e5 580px,#4433cc 586px,#3e26a8 592px,#3e26a8 696px,#4639da 705px,#4746ea 710px,#4756f7 717px,#4368fe 725px,#317dfc 734px,#23a1e4 755px,#15afd9 768px,#06b5cf 775px,#01b9c6 781px,#2cc4a7 803px,#3fca8e 822px,#64cd6e 847px,#80cc5a 869px,#97ca48 898px,#a4c83e 925px,#b1c636 978px,#b7c532 1041px,#bac430 100%)"></i><i class="w" style="background:linear-gradient(#e5bb2d 0,#e1bc2b 270px,#dabd28 332px,#ccc028 380px,#b9c431 411px,#98c946 440px,#80cc5a 455px,#4ecc81 479px,#3eca8f 487px,#24c1af 506px,#0cbdbc 514px,#01b9c6 520px,#02b7cb 523px,#16afda 532px,#23a1e5 543px,#307efb 563px,#3f6eff 570px,#465dfb 577px,#4746eb 586px,#4536d4 592px,#3e26a8 599px,#3e26a8 689px,#4535d2 696px,#4746ea 702px,#4758f8 709px,#3d70ff 719px,#327cfc 724px,#22a2e4 746px,#17aeda 756px,#06b5cf 763px,#01b9c7 768px,#04bbc1 771px,#27c2ac 784px,#3fca8e 802px,#4ecc81 809px,#85cb56 836px,#a7c73c 859px,#c4c22b 893px,#d3bf27 927px,#ddbd29 975px,#e2bc2b 1036px,#e5bb2d 100%)"></i><i class="w" style="background:linear-gradient(#f5ba3a 0,#f1ba36 293px,#eabb30 354px,#debd29 395px,#c7c129 430px,#a9c73a 456px,#8fcb4e 469px,#4fcc80 494px,#3cc991 502px,#24c1ae 517px,#0abdbd 525px,#01b9c6 530px,#01b8ca 532px,#1babde 544px,#269be8 555px,#2f80fa 569px,#3e6fff 576px,#4757f8 585px,#4743e8 592px,#4537d7 596px,#3e26a8 603px,#3e26a8 685px,#3e27aa 686px,#4536d4 692px,#484bef 699px,#4368fe 710px,#3678fe 716px,#2e83f9 721px,#2995ec 730px,#1da9e0 743px,#02b7cb 756px,#01bac5 759px,#06bcc0 762px,#23c1af 771px,#3bc992 786px,#4ecc81 794px,#90ca4d 820px,#afc636 837px,#c5c22a 856px,#d0bf27 870px,#e3bc2c 907px,#edba33 954px,#f2ba37 1013px,#f5ba3a 100%)"></i><i class="w" style="background:linear-gradient(#fec03a 0,#febd3c 290px,#f8ba3d 356px,#ebba31 398px,#d0bf27 436px,#bbc42f 454px,#a6c73c 467px,#86cb55 483px,#4fcc80 505px,#3fca8e 511px,#27c2ac 525px,#06bcc0 535px,#01b9c6 538px,#07b5d0 543px,#19addc 550px,#259ce7 561px,#317dfc 576px,#3e6fff 581px,#475cfa 588px,#4746eb 595px,#4434ce 601px,#3e26a8 606px,#3e26a8 682px,#3e27a9 683px,#4434d0 688px,#4741e5 692px,#4759f9 700px,#3e70ff 708px,#317dfc 713px,#249ee6 729px,#19addc 739px,#09b4d1 745px,#01b9c6 751px,#25c2ae 763px,#4dcc82 783px,#95ca49 813px,#a6c73c 822px,#c3c22b 841px,#dabd28 865px,#efba35 901px,#f8ba3d 933px,#febd3c 999px,#fec03a 100%)"></i><i class="w" style="background:linear-gradient(#fdcb33 0,#fec934 290px,#febd3c 387px,#f9ba3d 405px,#e8bb2e 432px,#d3bf27 451px,#c6c22a 460px,#9fc941 479px,#5ecd74 504px,#3fca8e 516px,#25c2ae 532px,#05bbc1 542px,#01b9c6 545px,#03b7cc 548px,#19addc 556px,#259de7 566px,#307ffb 580px,#3d70ff 585px,#475cfa 592px,#4745e9 599px,#4537d6 603px,#3e26a8 609px,#3e26a8 680px,#4537d5 686px,#4745e9 690px,#475bfa 697px,#3d70ff 704px,#2f81fa 710px,#269be8 722px,#19addc 733px,#08b4d1 739px,#01b9c7 744px,#07bcbf 748px,#24c1ae 757px,#3eca8f 773px,#4dcc82 779px,#a1c840 811px,#c5c22a 829px,#d2bf27 838px,#e6bb2d 855px,#f8ba3d 882px,#febd3c 903px,#fec934 1000px,#fdcb33 100%)"></i><i class="w" style="background:linear-gradient(#fdcb33 0,#fec934 290px,#febd3c 402px,#f9ba3d 421px,#e8bb2e 449px,#d0bf27 466px,#bbc42f 477px,#95ca49 492px,#5fcd73 509px,#41ca8c 519px,#2ac3a9 533px,#02bbc3 546px,#01b9c7 548px,#08b4d1 553px,#1aacdd 560px,#2798ea 572px,#307ffb 583px,#3d70ff 588px,#465efb 594px,#4746ea 601px,#463bdd 604px,#3e26a8 611px,#3e26a8 678px,#3e27aa 679px,#463adb 685px,#4745e9 688px,#4756f7 693px,#4369fe 699px,#3c72ff 702px,#2f80fa 707px,#23a0e5 722px,#18aedb 731px,#05b6ce 738px,#01b9c6 742px,#0bbdbc 747px,#24c1af 754px,#3bc992 768px,#4ecc81 775px,#9bc944 800px,#b2c534 809px,#c8c129 819px,#d4bf27 826px,#e7bb2d 840px,#f9ba3d 870px,#febd3c 889px,#fec934 1001px,#fdcb33 100%)"></i><i class="w" style="background:linear-gradient(#fdcb33 0,#fec934 290px,#febd3c 402px,#f9ba3d 421px,#ecba32 444px,#dbbd28 463px,#c8c129 477px,#bac430 486px,#99c946 498px,#60cd72 515px,#3dca90 526px,#25c2ae 539px,#0abdbd 546px,#01b9c8 551px,#07b5d0 555px,#18aedb 561px,#21a3e4 568px,#2f81fa 584px,#3f6fff 590px,#475bfa 596px,#4747eb 602px,#4538d7 606px,#3e27ac 611px,#3e26a8 612px,#3e26a8 678px,#4639d9 684px,#4848ec 688px,#475cfa 694px,#3e6fff 700px,#2f81fa 706px,#23a1e4 721px,#1aacdd 728px,#07b5d0 735px,#01b9c6 740px,#0abdbd 744px,#27c2ac 752px,#3dc990 764px,#4fcc80 770px,#9bc944 793px,#b4c534 802px,#c5c22a 812px,#d3bf27 822px,#e7bb2e 841px,#f9ba3d 871px,#febd3c 890px,#fec835 979px,#fdcb33 100%)"></i><i class="w" style="background:linear-gradient(#fdcb33 0,#fec934 290px,#febd3c 402px,#f9ba3d 421px,#e5bb2c 453px,#d4bf27 469px,#c5c22a 479px,#9cc943 500px,#7ecc5b 512px,#50cc7f 525px,#3bc992 532px,#26c2ad 543px,#0bbdbd 550px,#01b9c6 554px,#01b8ca 556px,#18aedb 564px,#1fa6e2 569px,#2f81fa 586px,#3c71ff 591px,#475af9 598px,#4848ec 603px,#4538d8 607px,#3e27ac 612px,#3e26a8 613px,#3e26a8 677px,#4539d9 683px,#4740e4 685px,#4853f5 690px,#4564fd 695px,#317dfc 703px,#2896ec 713px,#1caadf 724px,#02b7cb 734px,#01b9c7 736px,#09bdbe 740px,#27c2ac 748px,#3eca8f 760px,#5fcd73 770px,#8acb52 784px,#b6c532 804px,#d3bf27 823px,#e7bb2e 842px,#f8ba3d 870px,#febd3c 892px,#fec537 940px,#fec934 1009px,#feca33 100%)"></i><i class="w" style="background:linear-gradient(#fdcb33 0,#fec934 290px,#febd3c 402px,#f9ba3d 421px,#e5bb2c 453px,#d4bf27 469px,#c5c22a 479px,#9cc943 500px,#4dcc82 529px,#26c2ad 547px,#0abdbd 554px,#01b9c6 558px,#04b6cd 561px,#19addc 568px,#2994ed 581px,#307ffb 589px,#3b72ff 593px,#465dfb 599px,#4743e7 606px,#4537d5 609px,#3e26a8 614px,#3e26a8 676px,#4536d4 681px,#4742e6 684px,#4851f4 688px,#426afe 695px,#2f80fa 702px,#2797eb 711px,#19addb 723px,#04b6cd 730px,#01b9c6 733px,#0abdbd 737px,#23c1af 743px,#40ca8d 758px,#5ecd74 769px,#9bc944 792px,#bfc32d 810px,#dabd28 830px,#eabb30 847px,#f8ba3d 871px,#febd3c 893px,#fec835 988px,#feca33 100%)"></i><i class="w" style="background:linear-gradient(#fdcb33 0,#fec934 290px,#fbbc3d 414px,#f5ba3b 428px,#e5bb2c 453px,#d3bf27 469px,#c5c22a 479px,#9cc943 500px,#4dcc82 529px,#3dca90 535px,#25c2ae 549px,#0bbdbd 556px,#01bac5 560px,#01b8c9 562px,#17aeda 570px,#22a2e4 577px,#307ffb 591px,#3b72ff 595px,#4660fc 600px,#4745e9 607px,#4435d0 611px,#3e26a8 615px,#3e26a8 675px,#4536d5 680px,#4743e7 683px,#4853f5 687px,#4368fe 693px,#317dfc 699px,#2995ec 708px,#1aacdd 720px,#06b5cf 727px,#01b9c7 731px,#06bcc0 734px,#25c2ae 743px,#41ca8c 759px,#5fcd73 770px,#9ec942 794px,#bfc32d 811px,#dabd28 831px,#e9bb2f 847px,#f8ba3d 873px,#febd3c 895px,#fec835 994px,#feca33 100%)"></i><i class="w" style="background:linear-gradient(#fdcb33 0,#fec934 290px,#fbbc3d 414px,#f5ba3b 428px,#e5bb2c 453px,#d3bf27 469px,#c5c22a 479px,#9cc943 500px,#4dcc82 529px,#3dca90 535px,#25c2ae 549px,#0bbdbd 556px,#01bac5 560px,#07b5d0 565px,#19addc 571px,#2994ed 584px,#2f81fa 591px,#3d71ff 596px,#465ffb 601px,#4743e7 608px,#463adc 610px,#3e28ac 615px,#3e26a8 616px,#3e26a8 675px,#4434ce 679px,#4744e8 683px,#4854f5 687px,#4269fe 693px,#2f80fa 700px,#2995ec 708px,#19addc 721px,#07b5d0 727px,#01bac6 732px,#0abdbd 736px,#26c2ad 744px,#3fca8e 759px,#60cd73 771px,#9ec942 795px,#bfc32d 812px,#dabd28 832px,#ebba31 851px,#f7ba3c 872px,#febd3c 897px,#fec835 1002px,#feca33 100%)"></i><i class="w" style="background:linear-gradient(#fdcb33 0,#fec934 289px,#fbbc3d 414px,#f5ba3b 428px,#e9bb2f 448px,#d3bf27 469px,#c5c22a 479px,#9ac945 501px,#4dcc82 529px,#37c897 538px,#27c2ac 548px,#01bac5 560px,#05b6ce 564px,#1babde 572px,#2896ec 583px,#2f81fa 591px,#3d70ff 596px,#465efb 601px,#4743e7 608px,#4536d4 611px,#3e27ac 615px,#3e26a8 616px,#3e26a8 675px,#3f28ad 676px,#4536d4 680px,#4747eb 684px,#4756f7 688px,#4368fe 693px,#307ffb 700px,#2b92ef 707px,#18aedb 722px,#06b5cf 728px,#01b9c7 732px,#03bbc2 734px,#27c2ac 745px,#40ca8d 760px,#60cd72 772px,#97ca47 793px,#bfc32d 813px,#d0bf27 825px,#dbbd28 834px,#eabb30 851px,#f8ba3d 876px,#febd3c 900px,#fec835 1013px,#fec934 100%)"></i><i class="w" style="background:linear-gradient(#fdca33 0,#fec934 287px,#fec537 354px,#febd3c 401px,#f8ba3d 423px,#e2bc2b 456px,#d3bf27 469px,#c5c22a 479px,#9ac945 501px,#71cd64 516px,#45cb89 532px,#27c2ac 548px,#01bac5 560px,#05b6ce 564px,#1babde 572px,#2896ec 583px,#2f81fa 591px,#3d70ff 596px,#465efb 601px,#4742e7 608px,#4536d3 611px,#3e27ab 615px,#3e26a8 616px,#3e27aa 676px,#4332c9 679px,#4741e5 683px,#4851f4 687px,#4563fd 692px,#3c71ff 696px,#2f81fa 701px,#1ea7e1 718px,#19addb 722px,#01b8ca 731px,#01bac6 733px,#28c2ab 746px,#41ca8c 761px,#5ecd74 772px,#9ac945 795px,#bdc32e 813px,#d0bf27 826px,#dabd28 835px,#ebba31 854px,#f8ba3d 878px,#febd3c 902px,#fec736 997px,#fec934 100%)"></i><i class="w" style="background:linear-gradient(#feca33 0,#fec934 284px,#fec537 353px,#febd3c 401px,#f9ba3d 420px,#e8bb2e 449px,#d3bf27 469px,#c5c22a 479px,#9ec942 499px,#60cd72 522px,#3fca8e 534px,#29c3aa 547px,#0abdbd 556px,#01b9c6 560px,#03b7cc 563px,#1babde 572px,#2798ea 582px,#2f81fa 591px,#3e70ff 596px,#465efb 601px,#4746eb 607px,#4536d3 611px,#3e27ab 615px,#3e26a8 676px,#4434cf 680px,#4740e4 683px,#4758f8 689px,#3d70ff 696px,#2f80fa 701px,#23a1e5 715px,#1babde 721px,#06b5cf 729px,#01b9c7 733px,#03bbc2 735px,#29c3aa 747px,#45cb89 763px,#72cd64 780px,#9ac945 796px,#c5c22a 819px,#d3bf27 830px,#e2bc2b 844px,#f7ba3c 878px,#febd3c 905px,#fec736 1011px,#fec834 100%)"></i><i class="w" style="background:linear-gradient(#feca33 0,#fec835 307px,#febd3c 400px,#f8ba3d 422px,#e7bb2d 450px,#d3bf27 469px,#c5c22a 479px,#9ec942 499px,#60cd72 522px,#41ca8c 533px,#24c1af 549px,#0dbdbb 555px,#01b9c6 560px,#01b7ca 562px,#1aacdd 571px,#2a93ee 584px,#2f80fa 591px,#4368fe 598px,#4756f7 603px,#4742e6 608px,#4435d2 611px,#3e27a9 615px,#3e26a8 676px,#4537d5 681px,#4743e7 684px,#4757f7 689px,#3e6fff 696px,#307ffb 701px,#21a4e3 717px,#14b0d8 725px,#01b8ca 732px,#01bac5 734px,#2ac3a9 748px,#3eca8f 761px,#4dcc82 767px,#9cc943 798px,#c4c22a 820px,#d3bf27 831px,#e5bb2c 849px,#f8ba3d 883px,#febd3c 909px,#fec636 1000px,#fec835 100%)"></i><i class="w" style="background:linear-gradient(#feca33 0,#fec835 302px,#febd3c 399px,#f9ba3d 419px,#e4bb2c 453px,#d4bf27 468px,#c2c22b 480px,#9fc941 498px,#5fcd73 522px,#40ca8d 533px,#28c2ab 547px,#09bcbe 556px,#01b9c7 560px,#04b6cd 563px,#1caadf 572px,#2797eb 582px,#3080fb 591px,#3f6fff 596px,#4852f4 604px,#4741e5 608px,#4539d9 610px,#3e26a8 615px,#3e26a8 676px,#3f28ad 677px,#463adb 682px,#4742e6 684px,#4660fc 692px,#3c71ff 697px,#2f81fa 702px,#20a5e3 718px,#01b9c6 734px,#03bbc2 736px,#24c1ae 746px,#44cb8a 764px,#73cd63 782px,#9cc943 799px,#c3c22b 820px,#d4bf27 833px,#e6bb2d 852px,#f7ba3c 883px,#febd3c 913px,#fec636 1021px,#fec735 100%)"></i><i class="w" style="background:linear-gradient(#feca33 0,#fec835 296px,#febd3c 398px,#f8ba3d 421px,#eabb30 445px,#dabd28 462px,#d1bf27 470px,#bbc42f 484px,#9ac945 500px,#5ecd74 522px,#3fca8e 533px,#25c2ae 548px,#0bbdbd 555px,#01bac5 559px,#07b5d0 564px,#19addc 570px,#2994ed 583px,#307ffb 591px,#4563fd 599px,#4855f6 603px,#4740e4 608px,#4434cf 611px,#3e26a8 615px,#3e26a8 676px,#3e27ab 677px,#4332c9 680px,#4741e5 684px,#4854f6 689px,#3d70ff 697px,#2f80fa 702px,#1fa6e2 719px,#16afd9 725px,#01b8c9 733px,#01bac5 735px,#0abdbd 739px,#23c1af 746px,#45cb89 765px,#73cd62 783px,#9cc943 800px,#c5c22a 823px,#d3bf27 834px,#e6bb2d 854px,#f7ba3c 886px,#febd3c 918px,#fec537 1014px,#fec636 100%)"></i><i class="w" style="background:linear-gradient(#fec934 0,#fec835 288px,#febd3c 397px,#f7ba3c 422px,#e7bb2d 448px,#d3bf27 467px,#b4c533 487px,#93ca4a 502px,#5fcd73 521px,#40ca8d 532px,#28c2ab 546px,#09bdbe 555px,#01b9c6 559px,#06b5cf 563px,#1aacdd 570px,#2a93ee 583px,#2f81fa 590px,#4269fe 597px,#4747ec 606px,#4537d5 610px,#3e26a8 615px,#3e26a9 677px,#4538d7 682px,#4744e8 685px,#465efb 692px,#3e6fff 697px,#307ffb 702px,#20a5e2 719px,#01b9c7 735px,#08bcbf 739px,#26c2ad 748px,#45cb89 766px,#9ec942 802px,#c3c22b 823px,#d3bf27 836px,#e5bb2c 855px,#f6ba3b 887px,#febd3c 924px,#fec537 1054px,#fec536 100%)"></i><i class="w" style="background:linear-gradient(#fec934 0,#fec736 300px,#febd3c 393px,#f8ba3d 417px,#e7bb2d 446px,#d4bf27 465px,#c5c22a 476px,#a1c840 495px,#5fcd73 520px,#40ca8d 531px,#26c2ad 546px,#0dbdbb 553px,#01b9c6 558px,#01b7ca 560px,#1babde 570px,#2994ed 582px,#307ffb 590px,#3f6eff 595px,#4852f4 603px,#4742e6 607px,#4332ca 611px,#3e27ac 614px,#3e26a8 615px,#3e26a8 677px,#4536d4 682px,#4742e6 685px,#475cfa 692px,#3d71ff 698px,#2f80fa 703px,#22a2e4 718px,#19addc 725px,#08b4d1 731px,#01b9c7 736px,#05bbc1 739px,#23c1af 748px,#44cb8a 767px,#76cc60 787px,#9bc944 803px,#c5c22a 827px,#dfbc2a 851px,#f5ba3a 890px,#febd3c 935px,#fec339 1019px,#fec437 100%)"></i><i class="w" style="background:linear-gradient(#fec736 0,#fec537 286px,#febd3c 379px,#f8ba3d 408px,#f3ba38 420px,#e6bb2d 442px,#d4bf27 461px,#c5c22a 472px,#aec637 486px,#85cb55 504px,#4ecc81 524px,#37c897 534px,#25c2ae 545px,#0cbdbc 552px,#01b9c7 557px,#06b5cf 561px,#18aedb 567px,#2b92ef 582px,#317dfc 590px,#4369fe 596px,#4853f5 602px,#4744e8 606px,#4538d7 609px,#3e26a8 614px,#3e26a8 677px,#3e27ab 678px,#4435d1 682px,#463cdf 684px,#4848ec 687px,#465efb 693px,#3c72ff 699px,#2f81fa 704px,#23a0e5 718px,#19addc 726px,#09b4d1 732px,#01bac6 738px,#09bdbe 742px,#26c2ad 751px,#45cb89 770px,#97ca47 805px,#bfc32d 828px,#d0bf27 842px,#dabd28 853px,#f0ba36 890px,#f7ba3d 916px,#febd3c 972px,#fec13a 100%)"></i><i class="w" style="background:linear-gradient(#fec239 0,#febd3c 342px,#f8ba3d 388px,#efba35 415px,#e4bb2c 435px,#d0bf27 457px,#c3c22b 468px,#aac739 483px,#8bcb51 498px,#4fcc81 521px,#3fca8e 527px,#27c2ac 542px,#06bcc0 552px,#01b9c6 555px,#05b6ce 559px,#19addc 566px,#23a0e5 574px,#317dfc 589px,#4269fe 595px,#4854f6 601px,#4741e5 606px,#4639da 608px,#3f28ad 613px,#3e26a8 614px,#3e26a8 678px,#4536d4 683px,#4745ea 687px,#4758f8 692px,#3c72ff 700px,#2f81fa 705px,#23a1e4 720px,#1aacdd 727px,#02b7cb 737px,#01b9c6 740px,#0bbdbc 745px,#22c1b0 752px,#44cb8a 773px,#88cb53 803px,#a0c840 816px,#b9c430 832px,#d1bf27 853px,#e9bb2f 893px,#f4ba3a 938px,#f9ba3d 978px,#fcbc3d 100%)"></i><i class="w" style="background:linear-gradient(#fdbd3d 0,#fbbc3d 306px,#f7ba3d 351px,#e9bb2f 411px,#d0bf27 448px,#c5c22a 459px,#abc739 477px,#80cc59 498px,#4ecc81 518px,#3dca90 525px,#26c2ad 540px,#03bbc2 551px,#01b9c6 553px,#01b8ca 555px,#14b0d8 562px,#23a1e5 572px,#307ffb 587px,#3e70ff 592px,#475cfa 598px,#4742e6 605px,#4537d5 608px,#3e26a8 613px,#3e26a8 678px,#3e27aa 679px,#4537d6 684px,#4742e7 687px,#4758f8 693px,#3c72ff 701px,#2f80fa 706px,#23a0e5 721px,#1aacdd 729px,#01b8ca 740px,#01b9c7 742px,#09bdbe 747px,#28c2ab 758px,#3dca90 774px,#4dcc82 782px,#8ecb4f 813px,#a2c83f 825px,#b9c430 842px,#d0bf27 867px,#e4bb2c 907px,#edba33 949px,#f2ba37 1007px,#f4ba3a 100%)"></i><i class="w" style="background:linear-gradient(#f9ba3d 0,#f6ba3b 298px,#efba35 366px,#e1bc2b 412px,#c7c129 448px,#b9c431 461px,#a2c83f 476px,#81cc59 493px,#4fcc80 514px,#3bc992 523px,#22c1b0 539px,#05bbc1 548px,#01b9c6 551px,#07b5d0 556px,#18aedb 562px,#23a0e5 571px,#307ffb 586px,#3e70ff 591px,#475cfa 597px,#484bef 602px,#463bde 606px,#3e27ab 612px,#3e26a8 679px,#4538d8 685px,#4747eb 689px,#475bfa 695px,#3c71ff 702px,#317dfc 706px,#259de7 721px,#19addc 732px,#02b7cb 742px,#01b9c6 745px,#07bcbf 749px,#29c3aa 762px,#38c896 775px,#4dcc82 787px,#8dcb50 820px,#afc636 844px,#c8c129 871px,#ddbd29 916px,#e6bb2d 963px,#eabb30 1018px,#ecba32 100%)"></i><i class="w" style="background:linear-gradient(#f4ba39 0,#f1ba36 293px,#e9bb2f 367px,#debd29 404px,#c5c22a 442px,#b2c534 459px,#9ec942 473px,#7ecc5b 490px,#4ecc81 511px,#3bc992 520px,#23c1af 536px,#07bcbf 545px,#01b9c7 549px,#07b5d0 554px,#19addc 561px,#249fe6 570px,#307ffb 585px,#3e70ff 590px,#475af9 597px,#4744e9 603px,#4536d3 607px,#3e26a8 612px,#3e26a8 680px,#4639da 686px,#4848ec 690px,#475cfa 696px,#3d71ff 703px,#307ffb 708px,#259ce7 722px,#19addc 734px,#01b7ca 745px,#01bac5 748px,#28c2ab 765px,#44cb8a 787px,#86cb55 823px,#abc739 850px,#c5c22a 882px,#d5be28 919px,#e2bc2b 1014px,#e5bb2c 100%)"></i><i class="w" style="background:linear-gradient(#eeba34 0,#ebba31 298px,#e5bb2c 356px,#d8be28 402px,#c5c22a 434px,#acc739 458px,#98c946 471px,#79cc5e 488px,#4dcc82 508px,#38c896 519px,#25c2ae 533px,#07bcbf 543px,#01b9c7 547px,#01b8ca 549px,#1aacdd 560px,#269be8 571px,#307efb 584px,#3d70ff 589px,#465dfb 595px,#4746ea 602px,#4434ce 607px,#3e27aa 611px,#3e26a8 680px,#4537d6 686px,#4742e6 689px,#4756f7 695px,#3d71ff 704px,#307ffb 709px,#269be8 723px,#19addc 736px,#07b5d0 744px,#01b9c6 750px,#0abdbd 756px,#24c1af 766px,#44cb89 792px,#81cc59 827px,#a0c941 850px,#bac430 880px,#ccc028 920px,#d5be28 963px,#dabd28 1022px,#dcbd29 100%)"></i><i class="w" style="background:linear-gradient(#e9bb2f 0,#e6bb2d 290px,#dfbc2a 356px,#d3bf27 399px,#bdc42f 435px,#aec637 450px,#98c946 466px,#85cb56 478px,#4dcc82 505px,#37c897 517px,#2ac3a9 528px,#05bbc1 542px,#01b9c6 545px,#02b7cb 548px,#17aedb 557px,#249ee6 568px,#307ffb 583px,#3d70ff 588px,#4758f8 596px,#4747eb 601px,#4435d2 606px,#3e26a8 611px,#3e26a8 681px,#4535d2 686px,#4746eb 691px,#475af9 697px,#3c71ff 705px,#307efb 710px,#259ce7 725px,#19addc 738px,#07b5d0 746px,#01bac6 753px,#0bbdbd 759px,#24c1af 769px,#3eca90 792px,#76cc60 827px,#97ca48 851px,#b3c534 884px,#c5c22a 926px,#d2bf27 1025px,#d4bf28 100%)"></i><i class="w" style="background:linear-gradient(#e4bb2c 0,#e1bc2b 293px,#dbbd28 351px,#cfc028 396px,#b9c431 433px,#9cc943 459px,#84cc56 475px,#4fcc81 502px,#3dca90 511px,#27c2ac 528px,#06bcc0 540px,#01b9c7 544px,#01b8ca 546px,#18aedb 556px,#2699ea 570px,#317dfc 583px,#3f6eff 588px,#4759f9 595px,#4742e6 602px,#4537d6 605px,#3e28ac 610px,#3e26a8 611px,#3e26a8 681px,#4537d6 687px,#4745e9 691px,#465efb 699px,#3c72ff 706px,#307ffb 711px,#2797eb 723px,#18aedb 740px,#01b8ca 752px,#03bbc3 757px,#29c3aa 775px,#3ac994 792px,#70cd65 828px,#8ecb4f 850px,#acc739 885px,#bcc42f 920px,#c6c22a 965px,#cbc129 1022px,#cec028 100%)"></i><i class="w" style="background:linear-gradient(#e1bc2b 0,#debd29 297px,#d7be28 357px,#cbc129 398px,#b9c430 428px,#a8c73b 447px,#95ca49 462px,#75cc61 481px,#44cb8a 506px,#27c2ac 527px,#0bbdbc 537px,#01b9c6 543px,#06b5cf 548px,#19addc 556px,#22a2e4 564px,#2f81fa 581px,#3d70ff 587px,#475bfa 594px,#4848ec 600px,#4536d4 605px,#3e27aa 610px,#3e26a8 681px,#3e27ac 682px,#4536d4 687px,#4744e8 691px,#475af9 698px,#3d71ff 706px,#2f80fa 712px,#2896ec 723px,#18aedb 741px,#01b8ca 753px,#02bbc3 758px,#24c1af 773px,#3ac994 794px,#6ecd66 830px,#95ca4a 861px,#acc738 893px,#bac430 927px,#c3c22b 973px,#c8c129 1042px,#cac129 100%)"></i><i class="w" style="background:linear-gradient(#e1bc2b 0,#debd29 294px,#d7be28 356px,#ccc028 395px,#bac430 427px,#9ac945 458px,#80cc5a 475px,#4dcc82 501px,#38c896 513px,#25c2ae 528px,#01bac5 542px,#01b7ca 545px,#18aedb 555px,#23a0e5 565px,#2f80fa 581px,#3e70ff 587px,#465efb 593px,#4747ec 600px,#4639da 604px,#3e27a9 610px,#3e26a8 681px,#3e27ab 682px,#4536d3 687px,#4747eb 692px,#475af9 698px,#3d70ff 706px,#317dfc 711px,#259ce7 727px,#18aedb 741px,#01b7ca 753px,#02bbc3 758px,#25c2ae 774px,#39c995 794px,#71cd64 832px,#9ac946 867px,#abc739 891px,#bac430 928px,#c7c12a 1023px,#cac129 100%)"></i><i class="w" style="background:linear-gradient(#e3bc2c 0,#e1bc2b 275px,#dbbd28 345px,#cfc028 393px,#bac430 430px,#abc739 446px,#92ca4b 465px,#75cc61 482px,#4dcc82 502px,#3fca8e 509px,#24c1af 529px,#0cbdbc 537px,#01b9c6 543px,#02b7cb 546px,#19addc 556px,#22a2e4 564px,#2f81fa 581px,#3d70ff 587px,#475bfa 594px,#4848ec 600px,#4536d4 605px,#3e27aa 610px,#3e26a8 681px,#3e27ab 682px,#4536d4 687px,#4743e8 691px,#475af9 698px,#3d71ff 706px,#2f80fa 712px,#2896ec 723px,#19addc 740px,#01b8c9 753px,#03bbc2 758px,#25c2ae 773px,#3ac994 793px,#6fcd65 829px,#97ca48 860px,#adc638 889px,#bcc42f 924px,#c5c22a 966px,#cac129 1023px,#cdc028 100%)"></i><i class="w" style="background:linear-gradient(#e7bb2d 0,#e4bb2c 283px,#debd29 348px,#d2bf27 395px,#bec32e 430px,#9ec942 460px,#83cc57 477px,#4ecc81 503px,#3eca8f 511px,#26c2ad 529px,#09bdbe 539px,#01b9c6 544px,#01b8ca 546px,#18aedb 556px,#2699ea 570px,#317dfc 583px,#3f6eff 588px,#4756f7 596px,#4745e9 601px,#4537d5 605px,#3e27ab 610px,#3e26a8 681px,#4537d5 687px,#4848ec 692px,#465efb 699px,#3c72ff 706px,#307ffb 711px,#1fa6e2 733px,#19addc 739px,#03b7cc 750px,#01b9c6 754px,#0cbdbc 761px,#26c2ad 772px,#3eca8f 794px,#71cd64 826px,#99c946 856px,#b1c636 886px,#c0c32d 919px,#cac129 964px,#cfc028 1019px,#d2bf27 100%)"></i><i class="w" style="background:linear-gradient(#eaba31 0,#e8bb2e 285px,#e1bc2b 355px,#d4bf27 401px,#bec32e 436px,#acc738 453px,#97ca47 468px,#72cd63 488px,#44cb8a 510px,#25c2ae 531px,#0abdbd 540px,#01b9c6 545px,#06b5cf 550px,#18aedb 557px,#259ce7 569px,#2f81fa 582px,#3e70ff 588px,#465dfb 594px,#484aee 600px,#4538d7 605px,#3e26a8 611px,#3e26a8 681px,#4538d7 687px,#4746ea 691px,#4756f7 696px,#3d70ff 705px,#2f80fa 711px,#269ae9 724px,#1aacdd 737px,#07b5d0 746px,#01b9c7 752px,#0cbdbc 759px,#25c2ae 769px,#3eca8f 791px,#73cd62 823px,#99c946 849px,#aac739 867px,#b9c431 887px,#c8c129 923px,#d1bf27 967px,#d6be28 1033px,#d8be28 100%)"></i><i class="w" style="background:linear-gradient(#eeba34 0,#ecba32 282px,#e6bb2d 351px,#d9be28 400px,#c4c22a 434px,#b2c635 453px,#9ac945 470px,#6fcd65 492px,#44cb8a 512px,#26c2ad 532px,#08bcbe 542px,#01b9c6 546px,#02b7cb 549px,#18aedb 558px,#249fe6 568px,#317dfc 584px,#3f6eff 589px,#475cfa 595px,#4848ec 601px,#4539d9 605px,#3e26a8 611px,#3e26a8 680px,#3e27a9 681px,#4536d3 686px,#4744e8 690px,#4758f8 696px,#4564fd 700px,#3b72ff 705px,#317dfc 709px,#249fe6 726px,#18aedb 737px,#01b8ca 748px,#01bac5 751px,#24c1ae 766px,#44cb8a 791px,#73cd62 818px,#9fc942 847px,#bbc430 878px,#cdc028 916px,#d6be28 956px,#dcbd29 1020px,#debc2a 100%)"></i><i class="w" style="background:linear-gradient(#f2ba37 0,#efba35 294px,#e8bb2e 362px,#ddbd29 401px,#c5c22a 439px,#b5c533 455px,#9ec942 471px,#78cc5f 491px,#4dcc82 510px,#3cc991 518px,#25c2ae 534px,#09bdbe 543px,#01bac5 547px,#02b7cb 550px,#17aedb 559px,#249fe6 569px,#307ffb 584px,#3d70ff 589px,#465dfb 595px,#4746ea 602px,#4434ce 607px,#3e27aa 611px,#3e26a8 680px,#3e28ac 681px,#4537d6 686px,#4742e6 689px,#4756f7 695px,#4368fe 701px,#3c71ff 704px,#307ffb 709px,#249fe6 725px,#19addc 735px,#03b7cc 745px,#01bac6 749px,#0cbdbc 755px,#25c2ae 764px,#45cb89 788px,#80cc59 820px,#a6c83d 846px,#c4c22a 882px,#d4bf27 917px,#ddbd29 960px,#e2bc2b 1021px,#e4bb2c 100%)"></i><i class="w" style="background:linear-gradient(#f5ba3b 0,#f2ba37 307px,#ebba31 367px,#debd29 409px,#c5c22a 445px,#a1c840 473px,#75cc61 495px,#4dcc82 512px,#3cc991 520px,#24c1ae 536px,#0abdbd 544px,#01b9c6 549px,#07b5d0 554px,#19addc 561px,#259de7 571px,#2f81fa 584px,#3e6fff 590px,#475cfa 596px,#484bef 601px,#4538d8 606px,#3e26a8 612px,#3e26a8 680px,#4538d8 686px,#4747eb 690px,#4758f8 695px,#3d70ff 703px,#307efb 708px,#259ce7 722px,#1aacdd 733px,#02b7cb 744px,#01b9c6 747px,#07bcbf 751px,#27c2ac 763px,#3fca8e 782px,#4dcc82 789px,#8ecb4f 823px,#aac739 843px,#bdc32e 861px,#cbc129 880px,#dbbd28 918px,#e8bb2e 1019px,#eaba31 100%)"></i><i class="w" style="background:linear-gradient(#f9bb3d 0,#f7ba3c 288px,#f1ba36 356px,#e3bc2c 408px,#ccc028 443px,#b9c430 460px,#a6c73c 473px,#82cc58 492px,#4dcc82 514px,#3fca8e 520px,#25c2ae 537px,#0bbdbc 545px,#01b9c6 550px,#07b5d0 555px,#19addc 562px,#269be8 573px,#317dfc 586px,#3d71ff 590px,#465efb 596px,#4849ed 602px,#463ada 606px,#3e26a8 612px,#3e26a8 679px,#3e27a9 680px,#463adb 686px,#4849ed 690px,#4759f9 695px,#3b72ff 703px,#2f80fa 708px,#259ce7 721px,#1babde 731px,#01b8ca 743px,#01b9c7 745px,#04bbc1 748px,#29c3aa 762px,#36c898 773px,#4dcc82 786px,#8ccb50 817px,#b6c532 846px,#d0bf27 877px,#e0bc2a 913px,#e9bb2f 958px,#eeba34 1026px,#f0ba36 100%)"></i><i class="w" style="background:linear-gradient(#fbbc3d 0,#f9ba3d 307px,#f2ba37 369px,#e4bb2c 414px,#d4bf27 439px,#c7c129 452px,#a6c83c 476px,#87cb54 492px,#4fcc80 515px,#39c994 525px,#23c1af 539px,#06bcc0 548px,#01b9c6 551px,#01b8ca 553px,#17aedb 562px,#23a0e5 571px,#307ffb 586px,#3e6fff 591px,#475cfa 597px,#4743e7 604px,#4537d6 607px,#3e27a9 612px,#3e26a8 679px,#3e28ac 680px,#4538d7 685px,#4746eb 689px,#4758f8 694px,#3d71ff 702px,#317dfc 706px,#249fe6 722px,#18aedb 732px,#02b7cb 741px,#01b9c6 744px,#0abdbd 749px,#27c2ac 759px,#44cb89 779px,#8acb52 812px,#b4c533 839px,#d0bf27 868px,#e1bc2b 900px,#ecba32 945px,#f2ba37 1011px,#f4ba3a 100%)"></i><i class="w" style="background:linear-gradient(#fcbd3d 0,#fabb3d 314px,#f4ba3a 366px,#e8bb2e 410px,#d0bf27 446px,#c5c22a 457px,#a8c73b 477px,#77cc5f 500px,#4dcc82 517px,#3bc992 525px,#23c1af 540px,#0bbdbc 547px,#01b9c6 552px,#07b5d0 557px,#1aacdd 564px,#23a1e4 571px,#2e83f9 585px,#3d71ff 591px,#475af9 598px,#4848ec 603px,#4538d8 607px,#3e27ac 612px,#3e26a8 613px,#3e26a8 679px,#4539d9 685px,#4848ec 689px,#475cfa 695px,#3b72ff 702px,#2f81fa 707px,#22a2e4 723px,#18addb 731px,#02b7cb 740px,#01b9c6 743px,#2bc3a8 760px,#37c897 770px,#4ecc81 782px,#8dcb4f 811px,#b8c431 838px,#d0bf27 863px,#e4bb2c 899px,#efba35 944px,#f5ba3a 1014px,#f7ba3c 100%)"></i><i class="w" style="background:linear-gradient(#fdbd3d 0,#fbbc3d 308px,#f6ba3c 359px,#e9bb2f 411px,#d0bf27 448px,#bbc42f 466px,#a6c73c 479px,#84cc57 496px,#4fcc80 517px,#3eca8f 524px,#25c2ae 540px,#0abdbd 548px,#01b9c7 553px,#06b5cf 557px,#19addc 564px,#22a2e4 571px,#2f81fa 586px,#4368fe 594px,#4850f3 601px,#4741e5 605px,#4535d2 608px,#3e26a8 613px,#3e26a8 679px,#463ada 685px,#4849ed 689px,#475af9 694px,#3d70ff 701px,#307ffb 706px,#259ce7 719px,#19addc 730px,#07b5d0 737px,#01b9c6 742px,#05bbc1 745px,#2bc3a8 759px,#44cb8a 776px,#82cc57 804px,#9fc942 819px,#b4c533 833px,#d0c027 859px,#e6bb2d 898px,#f2ba37 952px,#f7ba3c 1018px,#f9ba3d 100%)"></i><i class="w" style="background:linear-gradient(#febe3c 0,#fbbc3d 321px,#f7ba3d 358px,#eabb30 411px,#d0bf27 449px,#bbc42f 467px,#a6c73c 480px,#88cb53 495px,#4ecc81 518px,#38c896 528px,#24c1af 541px,#03bbc2 551px,#01b9c6 553px,#07b5d0 558px,#1aacdd 565px,#249fe6 573px,#307ffb 587px,#3e6fff 592px,#475bfa 598px,#4741e6 605px,#4536d3 608px,#3e26a8 613px,#3e26a8 679px,#4537d5 684px,#4746ea 688px,#465efb 695px,#3c71ff 701px,#317dfc 705px,#2699ea 717px,#1babde 728px,#02b7cb 739px,#01bac5 742px,#09bcbe 746px,#25c2ae 755px,#44cb8a 775px,#89cb52 806px,#a6c83c 822px,#b9c430 835px,#d0bf27 857px,#e6bb2d 894px,#f2ba37 942px,#f8ba3d 1009px,#fabb3d 100%)"></i><i class="w" style="background:linear-gradient(#febe3c 0,#fcbc3d 311px,#f8ba3d 362px,#e9bb2f 415px,#d0bf27 450px,#c3c22b 462px,#a9c73a 479px,#87cb54 496px,#4dcc82 519px,#3eca8f 525px,#29c3aa 539px,#01bac5 553px,#01b8ca 555px,#18aedb 564px,#21a3e4 571px,#317dfc 588px,#3e70ff 592px,#475cfa 598px,#4742e6 605px,#4536d4 608px,#3e26a8 613px,#3e26a8 678px,#3e27aa 679px,#4537d6 684px,#484aee 689px,#465efb 695px,#3c72ff 701px,#2f80fa 706px,#259de7 719px,#19addc 729px,#07b5d0 736px,#01b9c7 741px,#02bbc3 743px,#23c1af 754px,#3bc992 770px,#4ecc81 779px,#93ca4b 810px,#b9c430 834px,#d0c027 855px,#e8bb2e 896px,#f2ba38 937px,#f8ba3d 991px,#fabb3d 100%)"></i><i class="w" style="background:linear-gradient(#febe3c 0,#fcbc3d 318px,#f8ba3d 365px,#eabb30 414px,#d0bf27 451px,#c5c22a 461px,#acc738 478px,#91ca4d 492px,#4ecc81 519px,#3bc992 527px,#25c2ae 541px,#01bac5 553px,#02b7cb 556px,#1babde 566px,#259ce7 575px,#317dfc 588px,#3d70ff 592px,#475cfa 598px,#4742e6 605px,#4537d5 608px,#3e26a8 613px,#3e26a8 678px,#3e27aa 679px,#463bdd 685px,#4746eb 688px,#475bfa 694px,#3c72ff 701px,#2f81fa 706px,#249fe6 720px,#19addc 729px,#07b5d0 736px,#01b9c6 741px,#08bcbf 745px,#24c1ae 754px,#3fca8e 772px,#4fcc80 779px,#9bc944 814px,#bdc32e 836px,#d0c027 854px,#e8bb2e 894px,#f3ba39 940px,#f9ba3d 1000px,#fbbc3d 100%)"></i><i class="w" style="background:linear-gradient(#febf3c 0,#fcbc3d 322px,#f8ba3d 367px,#e9bb2f 417px,#d0bf27 451px,#c3c22b 463px,#abc739 479px,#86cb55 497px,#4ecc81 519px,#3dca90 526px,#23c1af 542px,#0abdbd 549px,#01b9c7 554px,#06b5cf 558px,#19addc 565px,#2896ec 578px,#317dfc 588px,#4563fd 596px,#4746eb 604px,#4537d5 608px,#3e26a8 613px,#3e26a8 678px,#3e27aa 679px,#463bdd 685px,#4746eb 688px,#475cfa 694px,#3b72ff 701px,#2f81fa 706px,#23a1e5 721px,#19addc 729px,#09b4d1 735px,#01b9c6 741px,#08bcbf 745px,#24c1ae 754px,#44cb8a 774px,#8ecb4e 807px,#b9c430 833px,#d0bf27 854px,#e9bb2f 896px,#f3ba39 938px,#f9ba3d 995px,#fbbc3d 100%)"></i><i class="w" style="background:linear-gradient(#febf3c 0,#fcbc3d 323px,#f8ba3d 367px,#e9bb2f 417px,#d0bf27 451px,#c3c22b 463px,#aac739 479px,#8fcb4e 493px,#4ecc81 519px,#3bc992 527px,#25c2ae 541px,#01bac5 553px,#02b7cb 556px,#1babde 566px,#269ae9 576px,#317dfc 588px,#3d70ff 592px,#475cfa 598px,#4742e6 605px,#4537d5 608px,#3e26a8 613px,#3e26a8 678px,#3e27aa 679px,#4537d6 684px,#484aee 689px,#475bfa 694px,#3c72ff 701px,#2f81fa 706px,#249fe6 720px,#19addc 729px,#07b5d0 736px,#01b9c6 741px,#0abdbd 746px,#24c1af 754px,#3dca90 771px,#4fcc81 779px,#8ccb50 806px,#b8c531 832px,#d0c027 854px,#e8bb2e 894px,#f2ba38 933px,#f9ba3d 998px,#fbbc3d 100%)"></i><i class="w" style="background:linear-gradient(#febe3c 0,#fcbc3d 315px,#f7ba3d 364px,#ebba31 411px,#d1bf27 450px,#c3c22b 462px,#a9c73a 479px,#87cb54 496px,#4fcc80 518px,#3eca8f 525px,#24c1ae 541px,#09bdbe 549px,#01b9c6 553px,#07b5d0 558px,#18aedb 564px,#23a1e4 572px,#307ffb 587px,#3e70ff 592px,#475cfa 598px,#4742e6 605px,#4536d4 608px,#3e26a8 613px,#3e26a8 679px,#463adb 685px,#4849ed 689px,#465efb 695px,#3d71ff 701px,#317dfc 705px,#23a0e5 721px,#18addb 730px,#02b7cb 739px,#01bac5 742px,#06bcc0 745px,#22c1b0 754px,#44cb8a 775px,#85cb55 804px,#b4c533 831px,#d0bf27 856px,#e6bb2d 892px,#f1ba36 932px,#f8ba3d 995px,#fabb3d 100%)"></i><i class="w" style="background:linear-gradient(#febd3c 0,#fbbc3d 317px,#f7ba3d 356px,#eabb30 410px,#d0bf27 449px,#c5c22a 459px,#a9c73a 478px,#80cc59 498px,#4ecc82 518px,#3bc992 526px,#23c1af 541px,#05bbc1 550px,#01b9c7 553px,#08b4d0 558px,#19addc 564px,#2797eb 577px,#307efb 587px,#4368fe 594px,#4758f8 599px,#4741e5 605px,#4536d3 608px,#3e26a8 613px,#3e26a8 679px,#463bde 686px,#4747eb 689px,#475cfa 695px,#3c72ff 702px,#2f80fa 707px,#22a2e4 723px,#18aedb 731px,#02b7cb 740px,#01b9c6 743px,#0bbdbd 748px,#24c1ae 756px,#3eca8f 774px,#4dcc82 781px,#8dcb4f 810px,#b6c532 835px,#d0bf27 860px,#e7bb2d 901px,#f1ba37 945px,#f7ba3c 1012px,#f9bb3d 100%)"></i><i class="w" style="background:linear-gradient(#fcbd3d 0,#fabb3d 312px,#f5ba3b 359px,#e8bb2e 410px,#d0bf27 446px,#c5c22a 457px,#a6c73c 478px,#82cc58 496px,#4ecc81 517px,#3dca90 524px,#24c1af 540px,#06bcc0 549px,#01b9c6 552px,#07b5d0 557px,#18aedb 563px,#259ce7 574px,#2f80fa 586px,#3c71ff 591px,#465dfb 597px,#4848ec 603px,#463cdf 606px,#4332c9 609px,#3e28ac 612px,#3e26a8 613px,#3e26a8 680px,#4539d9 686px,#4848ec 690px,#475cfa 696px,#3b72ff 703px,#2f80fa 708px,#23a0e5 723px,#19addc 732px,#07b5d0 739px,#01b9c7 744px,#09bdbe 749px,#1abfb5 754px,#2cc4a7 762px,#44cb8a 779px,#92ca4b 816px,#b6c532 839px,#d0bf27 866px,#e5bb2c 905px,#efba36 956px,#f4ba39 1004px,#f7ba3c 100%)"></i><i class="w" style="background:linear-gradient(#fbbc3d 0,#f9ba3d 303px,#f3ba39 360px,#e7bb2d 407px,#dabd28 431px,#cbc028 448px,#bdc32e 461px,#a5c83d 477px,#7ccc5c 497px,#4dcc82 516px,#3dc990 523px,#24c1ae 539px,#01bac5 551px,#06b5cf 556px,#19addc 563px,#2699ea 575px,#307ffb 586px,#3e70ff 591px,#475cfa 597px,#4743e7 604px,#4537d7 607px,#3e27aa 612px,#3e26a8 632px,#3e26a8 681px,#4536d3 686px,#4848ec 691px,#475cfa 697px,#3c71ff 704px,#317dfc 708px,#249fe6 724px,#18addb 734px,#01b8ca 744px,#01b9c7 746px,#04bbc1 749px,#26c2ad 761px,#44cb89 782px,#8dcb50 817px,#9cc943 826px,#b9c430 847px,#d0c027 872px,#e2bc2b 908px,#ecba32 952px,#f1ba36 1005px,#f4ba39 100%)"></i><i class="w" style="background:linear-gradient(#f9bb3d 0,#f7ba3c 303px,#f0ba36 367px,#e4bb2c 408px,#d0c027 440px,#c1c32c 455px,#a8c73b 473px,#88cb53 490px,#4fcc81 514px,#39c994 524px,#24c1af 538px,#01bac5 550px,#02b7cb 553px,#1aacdd 563px,#23a1e5 570px,#2f80fa 585px,#3f6eff 591px,#4757f8 598px,#4742e6 604px,#4536d4 607px,#3e26a8 612px,#3e26a8 682px,#4332cb 686px,#4744e8 691px,#4758f8 697px,#3d70ff 705px,#307ffb 710px,#259ce7 724px,#16afda 737px,#03b6cc 745px,#01bac5 749px,#0abdbd 754px,#28c2ab 765px,#3cc991 781px,#4dcc82 790px,#8ccb50 821px,#b6c532 850px,#d0bf27 881px,#e1bc2b 919px,#eeba34 1014px,#f1ba37 100%)"></i><i class="w" style="background:linear-gradient(#f7ba3c 0,#f5ba3a 288px,#edba33 367px,#e1bc2b 407px,#c7c129 445px,#a5c83d 472px,#81cc59 491px,#4dcc82 513px,#3fca8e 519px,#23c1af 537px,#09bdbe 545px,#01bac5 549px,#02b7cb 552px,#1ca9e0 564px,#259ce7 572px,#307ffb 585px,#3e70ff 590px,#4756f7 598px,#4848ec 602px,#4539d9 606px,#3e26a8 612px,#3e26a8 619px,#3e26a8 683px,#4435d1 688px,#4743e7 692px,#475af9 699px,#3c72ff 707px,#317dfc 711px,#23a1e5 729px,#17aeda 739px,#04b6cd 747px,#01b9c7 751px,#06bcc0 755px,#26c2ad 767px,#38c895 782px,#4dcc82 794px,#8dcb50 827px,#aec637 850px,#c7c129 878px,#ddbd29 924px,#eabb30 1021px,#ecba33 100%)"></i><i class="w" style="background:linear-gradient(#f4ba39 0,#f1ba36 299px,#eabb30 363px,#ddbd29 407px,#c4c22a 443px,#aac739 465px,#82cc58 488px,#4dcc82 511px,#3cc991 519px,#22c1b0 536px,#0bbdbc 543px,#01b9c6 548px,#02b7cb 551px,#1aacdd 561px,#249ee6 570px,#317dfc 585px,#3c71ff 589px,#465efb 595px,#484aee 601px,#4537d6 606px,#3e27ab 611px,#3e26a8 684px,#4434d0 689px,#4742e6 693px,#475cfa 701px,#3d70ff 708px,#2f80fa 714px,#259ce7 728px,#18aedb 741px,#07b5d0 748px,#01b9c6 754px,#08bcbe 759px,#25c2ae 770px,#44cb89 794px,#86cb55 829px,#a9c73a 854px,#c7c129 890px,#d8be28 929px,#e5bb2c 1029px,#e7bb2e 100%)"></i><i class="w" style="background:linear-gradient(#f0ba36 0,#eeba34 282px,#e8bb2e 352px,#dbbd28 401px,#c5c22a 437px,#a3c83e 466px,#84cc56 484px,#4dcc82 509px,#3eca8f 516px,#23c1af 534px,#0abdbd 542px,#01b9c6 547px,#01b8ca 549px,#1aacdd 560px,#23a0e5 568px,#2f80fa 583px,#3e6fff 589px,#4756f7 597px,#4744e9 602px,#4433cc 607px,#3e26a8 611px,#3e26a8 685px,#4537d5 691px,#4848ec 696px,#465dfb 703px,#3c71ff 710px,#307efb 715px,#2797eb 727px,#19addb 743px,#07b5d0 751px,#01b9c6 757px,#0cbdbc 764px,#24c1af 773px,#45cb89 799px,#79cc5e 828px,#a3c83f 857px,#c2c32c 894px,#d1bf27 929px,#dfbc2a 1031px,#e1bc2b 100%)"></i><i class="w" style="background:linear-gradient(#edba33 0,#e9bb2f 307px,#e1bc2b 368px,#d5be28 405px,#c2c22b 434px,#b1c636 452px,#9cc943 467px,#76cc60 488px,#4dcc82 507px,#3eca8f 514px,#2cc4a7 528px,#1dc0b3 535px,#02bbc3 544px,#01b9c7 546px,#01b7ca 548px,#17aeda 557px,#269be8 570px,#307ffb 583px,#3d70ff 588px,#4758f8 596px,#4746eb 601px,#463bde 604px,#3e26a8 611px,#3e26a8 686px,#4536d4 692px,#4744e8 696px,#475af9 703px,#3e70ff 711px,#317dfc 716px,#2797eb 729px,#18aedb 746px,#01b8ca 758px,#03bbc2 763px,#29c3aa 780px,#3dca90 799px,#72cd63 830px,#9cc944 859px,#b4c534 885px,#c9c129 926px,#d3bf27 968px,#d9be28 1031px,#dcbd29 100%)"></i><i class="w" style="background:linear-gradient(#eabb30 0,#e7bb2d 290px,#e0bc2a 356px,#d3bf27 401px,#c1c32c 431px,#9ec942 463px,#6dcd67 490px,#4dcc82 505px,#3dca90 513px,#26c2ad 530px,#0bbdbc 539px,#01bac5 544px,#03b7cc 548px,#1aacdd 558px,#259de7 568px,#317dfc 583px,#3f6fff 588px,#475cfa 594px,#4849ed 600px,#4537d5 605px,#3e27ab 610px,#3e26a8 687px,#4536d4 693px,#4747eb 698px,#475cfa 705px,#3c72ff 713px,#2f80fa 719px,#21a3e4 739px,#17aeda 749px,#01b8c9 761px,#09bdbe 769px,#24c1af 780px,#3ac994 800px,#6ecd66 833px,#95ca49 860px,#b3c534 894px,#c6c22a 936px,#d4bf27 1035px,#d7be28 100%)"></i><i class="w" style="background:linear-gradient(#e7bb2e 0,#e4bb2c 290px,#ddbd29 356px,#d1bf27 398px,#bfc32e 429px,#9ec942 460px,#81cc59 478px,#4ecc81 503px,#39c994 514px,#29c3aa 527px,#01bac5 543px,#03b7cc 547px,#1aacdd 557px,#269ae9 569px,#2f81fa 581px,#3d70ff 587px,#4758f8 595px,#4744e8 601px,#4536d3 605px,#3e26a8 610px,#3e26a8 688px,#4537d6 694px,#4744e8 698px,#475cfa 706px,#3c71ff 714px,#327bfc 718px,#269be8 735px,#1ca9e0 746px,#17aeda 751px,#02b7cb 762px,#01bac5 766px,#27c2ac 785px,#3eca90 807px,#72cd63 840px,#8ecb4f 860px,#a3c83f 881px,#b4c534 906px,#c2c32c 941px,#cbc129 987px,#d0c028 1051px,#d2bf27 100%)"></i><i class="w" style="background:linear-gradient(#e4bb2c 0,#e1bc2b 290px,#dabd28 355px,#cec028 397px,#b9c431 432px,#9ac945 460px,#7dcc5c 478px,#4fcc80 501px,#3dca90 510px,#27c2ac 527px,#01bac5 542px,#01b7ca 545px,#18aedb 555px,#249ee6 566px,#317dfc 582px,#3e6fff 587px,#475af9 594px,#4743e7 601px,#4435d1 605px,#3e26a8 610px,#3e26a8 688px,#4535d2 694px,#4742e6 698px,#475af9 706px,#3c72ff 715px,#2e84f8 723px,#249fe6 739px,#19addc 751px,#03b7cc 763px,#01bac5 768px,#25c2ae 786px,#3eca90 810px,#73cd62 845px,#97ca48 874px,#acc738 902px,#bdc42f 941px,#c6c22a 984px,#cbc129 1042px,#cec028 100%)"></i><i class="w" style="background:linear-gradient(#e1bc2b 0,#dfbc2a 280px,#dabd28 339px,#ccc028 395px,#b5c533 433px,#91ca4c 464px,#73cd62 481px,#44cb89 505px,#29c3aa 525px,#09bdbe 537px,#01b9c6 542px,#04b6cd 546px,#19addc 555px,#2798ea 569px,#307ffb 581px,#4368fe 589px,#4756f7 595px,#4742e6 601px,#4537d6 604px,#3e26a8 610px,#3e26a8 688px,#3e27aa 689px,#4537d7 695px,#4741e5 698px,#4756f7 705px,#3d71ff 715px,#317dfc 720px,#249ee6 739px,#19addc 752px,#03b7cc 764px,#01bac6 769px,#0bbdbc 776px,#27c2ac 789px,#3eca90 812px,#72cd63 847px,#99c946 881px,#acc738 909px,#b9c431 940px,#c3c22b 990px,#c8c129 1054px,#cac129 100%)"></i><i class="w" style="background:linear-gradient(#e0bc2a 0,#dcbd29 302px,#d3bf27 367px,#c3c22b 410px,#acc738 440px,#8ccb50 466px,#6ccd68 484px,#3fca8e 507px,#28c2ab 525px,#0abdbd 536px,#01bac5 541px,#03b7cc 545px,#18aedb 554px,#23a0e5 564px,#2f81fa 580px,#3d70ff 586px,#475cfa 593px,#4745e9 600px,#4537d6 604px,#3e26a8 610px,#3e26a8 688px,#3e27a9 689px,#4537d6 695px,#4744e8 699px,#465efb 708px,#3d70ff 715px,#307efb 721px,#259ce7 738px,#17aeda 754px,#01b7ca 766px,#01bac5 770px,#27c2ac 790px,#3dca90 813px,#66cd6d 840px,#80cc5a 859px,#9ac946 885px,#abc739 911px,#bac430 952px,#c4c22b 1022px,#c8c129 100%)"></i><i class="w" style="background:linear-gradient(#dfbc2a 0,#dcbd29 295px,#d3bf27 365px,#c3c22b 409px,#aec637 438px,#8ecb4e 464px,#75cc61 479px,#3dca90 508px,#26c2ad 526px,#0abdbd 536px,#01bac5 541px,#03b7cc 545px,#18aedb 554px,#23a0e5 564px,#2f81fa 580px,#3d70ff 586px,#475cfa 593px,#4745e9 600px,#4537d6 604px,#3e26a8 610px,#3e26a8 688px,#3e27a9 689px,#4537d6 695px,#4744e8 699px,#465efb 708px,#3d70ff 715px,#307efb 721px,#259ce7 738px,#17aeda 754px,#01b7ca 766px,#01bac5 770px,#27c2ac 790px,#3eca8f 814px,#67cd6c 841px,#81cc59 860px,#99c946 884px,#acc738 914px,#bcc42f 962px,#c4c22b 1025px,#c8c129 100%)"></i><i class="w" style="background:linear-gradient(#e0bc2b 0,#debd29 280px,#d7be28 351px,#cac129 397px,#b3c534 434px,#8ecb4e 465px,#44cb8a 505px,#25c2ae 527px,#0bbdbc 536px,#01b9c7 542px,#06b5cf 547px,#19addc 555px,#22a2e4 563px,#307ffb 581px,#3f6eff 587px,#4756f7 595px,#4745ea 600px,#4537d6 604px,#3e26a8 610px,#3e26a8 688px,#3e27aa 689px,#4538d7 695px,#4747ec 700px,#475cfa 707px,#3d71ff 715px,#317dfc 720px,#249ee6 739px,#19addc 752px,#01b8ca 766px,#02bbc3 771px,#27c2ac 789px,#39c995 808px,#73cd62 848px,#98ca47 880px,#abc739 907px,#b9c431 941px,#c7c12a 1039px,#cac129 100%)"></i><i class="w" style="background:linear-gradient(#e3bc2c 0,#e0bc2a 289px,#dabd28 349px,#ccc028 399px,#b6c533 434px,#97ca47 461px,#78cc5f 480px,#3eca8f 509px,#25c2ae 528px,#01bac5 542px,#01b7ca 545px,#18aedb 555px,#249ee6 566px,#317dfc 582px,#3e6fff 587px,#475af9 594px,#4746eb 600px,#4538d8 604px,#3e26a8 610px,#3e26a8 688px,#4535d2 694px,#4742e6 698px,#475af9 706px,#3c72ff 715px,#2e84f8 723px,#249fe6 739px,#19addc 751px,#01b8c9 765px,#03bbc2 770px,#28c2ab 788px,#39c994 806px,#6fcd65 842px,#86cb55 858px,#9cc944 879px,#afc637 906px,#bdc42f 940px,#cbc129 1037px,#cec028 100%)"></i><i class="w" style="background:linear-gradient(#e6bb2d 0,#e4bb2c 277px,#debd29 346px,#d2bf27 394px,#bcc42f 432px,#acc738 448px,#96ca48 465px,#4ecc81 503px,#3cc991 512px,#29c3aa 527px,#19bfb6 534px,#0bbdbc 538px,#01b9c7 544px,#01b7ca 546px,#18addb 556px,#259ce7 568px,#307ffb 582px,#3d70ff 587px,#475bfa 594px,#4848ec 600px,#4536d4 605px,#3e27a9 610px,#3e26a8 688px,#4537d5 694px,#4747eb 699px,#475bfa 706px,#3d71ff 714px,#317dfc 719px,#249fe6 738px,#17aeda 751px,#01b8ca 763px,#03bbc3 768px,#2ac3a9 787px,#39c994 803px,#6ecd66 837px,#8fcb4e 860px,#a2c83f 879px,#b1c636 899px,#c2c32c 937px,#ccc028 986px,#d1bf27 1047px,#d3bf27 100%)"></i><i class="w" style="background:linear-gradient(#eabb30 0,#e7bb2d 295px,#dfbc2a 363px,#d3bf27 402px,#bfc32d 434px,#9ac945 466px,#72cd63 488px,#44cb8a 510px,#25c2ae 531px,#0abdbd 540px,#01b9c6 545px,#06b5cf 550px,#18aedb 557px,#259ce7 569px,#2f80fa 582px,#3e6fff 588px,#475af9 595px,#4746ea 601px,#463bdd 604px,#3e26a8 611px,#3e26a8 687px,#3e27aa 688px,#4538d8 694px,#4742e6 697px,#4758f8 704px,#3d70ff 713px,#317dfc 718px,#2798ea 732px,#19addc 748px,#01b8c9 761px,#03bbc2 766px,#19bfb6 775px,#2bc3a8 785px,#3dca90 803px,#76cc60 837px,#9ac946 863px,#b5c533 894px,#c7c12a 932px,#d0c028 970px,#d6be28 1029px,#d9be28 100%)"></i><i class="w" style="background:linear-gradient(#eeba34 0,#ebba31 293px,#e4bb2c 360px,#d8be28 402px,#c4c22a 434px,#a5c83d 463px,#79cc5e 488px,#4dcc82 508px,#3eca8f 515px,#24c1ae 533px,#01bac5 546px,#02b7cb 549px,#1caadf 561px,#259ce7 570px,#317dfc 584px,#3f6fff 589px,#475cfa 595px,#4848ec 601px,#4536d3 606px,#3e26a8 611px,#3e26a8 687px,#4537d5 693px,#4744e8 697px,#475af9 704px,#3d70ff 712px,#317dfc 717px,#2797eb 730px,#19addc 746px,#01b8c9 759px,#02bbc3 763px,#1dc0b3 774px,#2bc3a8 782px,#3dca90 799px,#7acc5d 834px,#9ec942 859px,#bec32e 896px,#cec028 932px,#d8be28 981px,#ddbd29 1043px,#dfbc2a 100%)"></i><i class="w" style="background:linear-gradient(#f3ba39 0,#f0ba36 304px,#e9bb2f 365px,#debd29 403px,#c5c22a 442px,#a1c840 471px,#81cc58 488px,#4dcc82 511px,#3cc991 519px,#22c1b0 536px,#0bbdbc 543px,#01b9c6 548px,#02b7cb 551px,#1aacdd 561px,#249ee6 570px,#317dfc 585px,#3f6eff 590px,#4758f8 597px,#4746eb 602px,#4434cf 607px,#3e27ab 611px,#3e26a8 686px,#3e27aa 687px,#4535d2 692px,#4743e7 696px,#4756f7 702px,#3e70ff 711px,#317dfc 716px,#269be8 731px,#1ca9e0 741px,#18aedb 745px,#04b6cd 754px,#01bac5 759px,#24c1af 774px,#44cb89 799px,#82cc58 832px,#a3c83e 855px,#c1c32d 886px,#d2bf27 918px,#ddbd29 959px,#e4bb2c 1024px,#e7bb2e 100%)"></i><i class="w" style="background:linear-gradient(#f9bb3d 0,#f7ba3c 287px,#f1ba36 355px,#e4bb2c 405px,#ccc028 443px,#a9c73a 471px,#8acb52 488px,#4fcc80 513px,#3dc990 521px,#22c1b0 538px,#05bbc1 547px,#01b9c6 550px,#01b8ca 552px,#17aedb 561px,#22a2e4 569px,#317dfc 586px,#3d71ff 590px,#465dfb 596px,#4849ed 602px,#4639da 606px,#3e26a8 612px,#3e26a8 686px,#4537d6 692px,#4745e9 696px,#475bfa 703px,#3e70ff 710px,#317dfb 715px,#249fe6 732px,#18aedb 743px,#07b5d0 750px,#01b9c6 756px,#04bbc1 759px,#26c2ad 772px,#45cb89 795px,#7ecc5a 824px,#abc739 852px,#c8c129 882px,#dcbd29 920px,#e6bb2d 960px,#ecba32 1020px,#efba35 100%)"></i><i class="w" style="background:linear-gradient(#fcbc3d 0,#f9ba3d 322px,#f2ba38 373px,#e7bb2d 410px,#d1bf27 444px,#c3c22b 457px,#a9c73a 475px,#86cb55 493px,#4dcc82 516px,#3dca90 523px,#24c1ae 539px,#09bdbe 547px,#01bac5 551px,#02b7cb 554px,#15afd8 561px,#22a2e4 570px,#307ffb 586px,#3e70ff 591px,#475cfa 597px,#4743e7 604px,#4434cf 608px,#3e27aa 612px,#3e26a8 632px,#3e26a8 685px,#3e27aa 686px,#4536d3 691px,#4744e8 695px,#4758f8 701px,#4564fd 705px,#3b72ff 710px,#317dfc 714px,#23a1e5 732px,#15afd8 743px,#02b7cb 751px,#01b9c6 754px,#09bdbe 759px,#27c2ac 770px,#44cb8a 791px,#91ca4c 829px,#b4c533 853px,#d0bf27 883px,#e2bc2b 918px,#ecba32 960px,#f2ba37 1022px,#f5ba3a 100%)"></i><i class="w" style="background:linear-gradient(#fdbd3d 0,#fbbc3d 314px,#f5ba3b 368px,#e8bb2e 414px,#d0bf27 448px,#c4c22a 459px,#acc738 476px,#84cc57 496px,#4fcc80 517px,#3eca8f 524px,#27c2ac 539px,#01bac5 552px,#02b7cb 555px,#19addc 564px,#23a0e5 572px,#2f81fa 586px,#3f6eff 592px,#465efb 597px,#4745e9 604px,#4535d2 608px,#3e26a8 613px,#3e26a8 629px,#3e26a8 685px,#4537d6 691px,#4742e6 694px,#4756f7 700px,#4368fe 706px,#3c71ff 709px,#317dfc 713px,#23a1e4 731px,#18addb 740px,#03b7cc 749px,#01bac5 753px,#08bcbe 757px,#25c2ae 767px,#3dc990 785px,#4dcc82 793px,#92ca4c 826px,#b7c531 851px,#d0bf27 876px,#e5bb2c 915px,#f0ba36 963px,#f5ba3a 1019px,#f8ba3d 100%)"></i><i class="w" style="background:linear-gradient(#febe3c 0,#fcbc3d 318px,#f8ba3d 365px,#eabb30 414px,#d0bf27 451px,#c1c32c 464px,#a6c83c 481px,#85cb56 497px,#4dcc82 519px,#37c897 529px,#27c2ac 540px,#01bac6 553px,#01b8ca 555px,#18aedb 564px,#21a3e4 571px,#317dfc 588px,#3e70ff 592px,#475cfa 598px,#4742e6 605px,#4536d5 608px,#3e26a8 613px,#3e26a8 685px,#4538d8 691px,#4747eb 695px,#4758f8 700px,#3d70ff 708px,#2f81fa 714px,#269ae9 726px,#1babde 737px,#01b7ca 749px,#01bac5 752px,#29c3aa 768px,#44cb89 787px,#8dcb4f 821px,#b9c430 849px,#d0bf27 872px,#e7bb2d 912px,#f1ba37 953px,#f8ba3d 1026px,#fabb3d 100%)"></i><i class="w" style="background:linear-gradient(#febf3b 0,#febd3c 296px,#f8ba3d 373px,#ecba32 413px,#dfbc2a 436px,#d0bf27 453px,#c4c22a 463px,#abc739 480px,#85cb55 498px,#4dcc82 520px,#3eca8f 526px,#24c1ae 542px,#03bbc2 552px,#01b9c6 554px,#03b7cc 557px,#1aacdd 566px,#2c90f0 581px,#2f81fa 587px,#3c71ff 592px,#4564fd 596px,#484ff2 602px,#473fe3 606px,#4331c6 610px,#3e26a8 613px,#3e26a8 684px,#3e27a9 685px,#4536d4 690px,#4848ec 695px,#475cfa 701px,#3c71ff 708px,#317dfc 712px,#259be8 726px,#19addc 738px,#05b6ce 746px,#01bac5 751px,#2bc3a8 768px,#3dc990 782px,#4ecc82 790px,#9ac945 826px,#b7c531 845px,#d0bf27 868px,#e9bb2f 911px,#f4ba3a 961px,#f9ba3d 1009px,#fbbc3d 100%)"></i><i class="w" style="background:linear-gradient(#fec03a 0,#febd3c 315px,#f7ba3d 379px,#ecba32 416px,#d1bf27 454px,#c5c22a 464px,#abc739 481px,#82cc57 500px,#4fcc81 520px,#38c896 530px,#23c1af 543px,#0abdbd 550px,#01bac5 554px,#02b7cb 557px,#13b0d7 563px,#21a3e4 572px,#307ffb 588px,#3e6fff 593px,#4854f5 601px,#4740e4 606px,#4331c8 610px,#3e27aa 613px,#3e26a8 684px,#3e27ab 685px,#4434ce 689px,#4742e6 693px,#475af9 700px,#3b72ff 708px,#2f80fa 713px,#259ce7 726px,#18aedb 738px,#02b7cb 747px,#01b9c6 750px,#0abdbd 755px,#29c3aa 766px,#45cb89 785px,#88cb53 815px,#b7c531 843px,#d0c027 865px,#e9bb2f 906px,#f5ba3b 957px,#fabb3d 1005px,#fcbd3d 100%)"></i><i class="w" style="background:linear-gradient(#fec13a 0,#febd3c 326px,#f8ba3d 382px,#ecba32 418px,#d1bf27 455px,#c5c22a 465px,#aac739 482px,#82cc58 501px,#4ecc82 521px,#37c897 531px,#24c1ae 543px,#03bbc2 553px,#01b9c6 555px,#08b4d1 560px,#19addc 566px,#249ee6 575px,#317dfc 589px,#3e70ff 593px,#475bfa 599px,#4741e5 606px,#4435d2 609px,#3e27ac 613px,#3e26a8 614px,#3e26a8 684px,#4537d7 690px,#4746ea 694px,#465efb 701px,#3d70ff 707px,#307ffb 712px,#23a0e5 728px,#19addc 737px,#07b5d0 744px,#01b9c7 749px,#04bbc1 752px,#2ac3a9 766px,#45cb89 784px,#88cb53 814px,#a1c840 827px,#b9c430 843px,#d1bf27 864px,#eabb30 905px,#f6ba3c 956px,#fbbc3d 1007px,#fdbd3d 100%)"></i><i class="w" style="background:linear-gradient(#fec13a 0,#febd3c 332px,#f7ba3d 385px,#eeba34 415px,#e0bc2a 439px,#d0bf27 456px,#c4c22a 466px,#a8c73b 484px,#83cc57 501px,#4ecc81 521px,#3dca90 528px,#25c2ae 543px,#09bdbe 551px,#01b9c6 555px,#01b8ca 557px,#14b0d8 564px,#21a4e3 572px,#2e83f9 587px,#426afe 595px,#475cfa 599px,#4745ea 605px,#4536d3 609px,#3f28ad 613px,#3e26a8 614px,#3e26a8 684px,#463bde 691px,#4747eb 694px,#4758f8 699px,#3d71ff 707px,#307ffb 712px,#259de7 726px,#1aacdd 736px,#01b8ca 747px,#01b9c6 749px,#05bbc1 752px,#29c3aa 765px,#3eca90 780px,#85cb55 812px,#a6c83d 829px,#b9c430 842px,#d3bf27 866px,#ecba32 908px,#f8ba3d 958px,#fcbc3d 1017px,#febe3c 100%)"></i><i class="w" style="background:linear-gradient(#fec13a 0,#febd3c 333px,#f8ba3d 385px,#efba35 413px,#e1bc2b 438px,#d1bf27 456px,#c5c22a 466px,#adc637 481px,#8dcb50 497px,#5fcd73 515px,#42ca8b 526px,#25c2ad 543px,#01bac5 555px,#01b8ca 557px,#16afd9 565px,#1fa6e2 571px,#2f80fa 588px,#3d71ff 593px,#475cfa 599px,#4742e6 606px,#4536d3 609px,#3e26a8 614px,#3e26a8 684px,#4538d8 690px,#4747eb 694px,#475bfa 700px,#3c71ff 707px,#317dfc 711px,#249fe6 727px,#18aedb 737px,#02b7cb 746px,#01b9c6 749px,#2bc3a8 766px,#44cb8a 783px,#92ca4b 818px,#bbc42f 843px,#d3bf27 865px,#ebba31 904px,#f8ba3d 956px,#fcbc3d 1011px,#febe3c 100%)"></i><i class="w" style="background:linear-gradient(#fec13a 0,#febd3c 334px,#f8ba3d 385px,#efba35 413px,#e4bb2c 434px,#d0c027 457px,#c1c32c 469px,#acc738 482px,#86cb55 500px,#4fcc80 521px,#38c895 531px,#23c1af 544px,#0abdbd 551px,#01bac5 555px,#01b8c9 557px,#1ca9e0 569px,#259de7 576px,#2f81fa 588px,#3d71ff 593px,#475cfa 599px,#4742e6 606px,#4536d4 609px,#3e26a8 614px,#3e26a8 684px,#4538d8 690px,#4747eb 694px,#475bfa 700px,#3c71ff 707px,#317dfc 711px,#269ae9 724px,#18aedb 737px,#02b7cb 746px,#01b9c6 749px,#08bcbe 753px,#26c2ad 763px,#44cb89 783px,#79cc5e 806px,#9ec942 824px,#bdc32e 844px,#d3bf27 865px,#e2bc2b 885px,#edba33 909px,#f7ba3d 954px,#fcbc3d 1008px,#febe3c 100%)"></i><i class="w" style="background:linear-gradient(#fec13a 0,#febd3c 334px,#f8ba3d 385px,#efba35 413px,#e4bb2c 434px,#d0c027 457px,#c1c32c 469px,#acc738 482px,#8bcb51 498px,#4fcc80 521px,#3ac993 530px,#23c1af 544px,#0abdbd 551px,#01bac5 555px,#02b7cb 558px,#18aedb 566px,#249fe6 575px,#2f81fa 588px,#3d71ff 593px,#475cfa 599px,#4742e6 606px,#4536d4 609px,#3e26a8 614px,#3e26a8 684px,#4435d1 689px,#4743e8 693px,#475cfa 700px,#3c71ff 707px,#317dfc 711px,#23a1e5 728px,#19addc 736px,#02b7cb 746px,#01bac6 749px,#0bbdbd 754px,#24c1af 762px,#45cb89 783px,#95ca49 819px,#b9c430 841px,#d3bf27 865px,#e1bc2b 883px,#ecba32 906px,#f8ba3d 954px,#fcbc3d 1007px,#febe3c 100%)"></i><i class="w" style="background:linear-gradient(#fec13a 0,#febd3c 334px,#f8ba3d 385px,#efba35 413px,#e4bb2c 434px,#d0c027 457px,#c1c32c 469px,#acc738 482px,#8bcb51 498px,#4fcc80 521px,#3ac993 530px,#23c1af 544px,#0abdbd 551px,#01bac5 555px,#02b7cb 558px,#18aedb 566px,#249fe6 575px,#2f81fa 588px,#3d71ff 593px,#475cfa 599px,#4742e6 606px,#463adb 608px,#3e26a8 614px,#3e26a8 684px,#4538d8 690px,#4747eb 694px,#475cfa 700px,#3c71ff 707px,#317dfc 711px,#23a1e5 728px,#19addc 736px,#02b7cb 746px,#01bac6 749px,#0bbdbd 754px,#24c1af 762px,#45cb89 783px,#91ca4c 817px,#b9c430 841px,#d4bf27 865px,#ecba32 906px,#f7ba3d 953px,#fcbc3d 1006px,#febe3c 100%)"></i><i class="w" style="background:linear-gradient(#fec13a 0,#febd3c 334px,#f8ba3d 385px,#efba35 413px,#e4bb2c 434px,#d0c027 457px,#c1c32c 469px,#acc738 482px,#8bcb51 498px,#4fcc80 521px,#3ac993 530px,#23c1af 544px,#0abdbd 551px,#01bac5 555px,#02b7cb 558px,#18aedb 566px,#1ca9e0 569px,#259de7 576px,#2f80fa 588px,#3d71ff 593px,#475cfa 599px,#4742e6 606px,#4536d3 609px,#3e26a8 614px,#3e26a8 684px,#4538d8 690px,#4747eb 694px,#475bfa 700px,#3c71ff 707px,#317dfc 711px,#23a1e5 728px,#19addc 736px,#02b7cb 746px,#01bac5 749px,#0bbdbc 754px,#24c1ae 762px,#45cb89 783px,#8dcb4f 815px,#b9c430 841px,#d3bf27 864px,#edba33 908px,#f8ba3d 953px,#fcbc3d 1004px,#febe3c 100%)"></i><i class="w" style="background:linear-gradient(#fec13a 0,#febd3c 334px,#f8ba3d 385px,#efba35 413px,#e4bb2c 434px,#d0c027 457px,#c1c32c 469px,#acc738 482px,#8bcb51 498px,#4fcc80 521px,#3ac993 530px,#23c1af 544px,#0abdbd 551px,#01bac5 555px,#01b8c9 557px,#16afd9 565px,#1fa6e2 571px,#2f80fa 588px,#3d70ff 593px,#475cfa 599px,#4745ea 605px,#4639da 608px,#3f28ad 613px,#3e26a8 614px,#3e26a8 684px,#463bde 691px,#4747eb 694px,#4758f8 699px,#3d71ff 707px,#317dfc 711px,#249fe6 727px,#17aedb 737px,#02b7cb 746px,#01bac5 749px,#0bbdbc 754px,#24c1ae 762px,#45cb89 783px,#8bcb50 814px,#a8c73b 829px,#bbc42f 842px,#d3bf27 864px,#e1bc2b 882px,#edba33 907px,#f8ba3d 951px,#fcbc3d 999px,#febe3c 100%)"></i><i class="w" style="background:linear-gradient(#fec13a 0,#febd3c 334px,#f8ba3d 385px,#efba35 413px,#e4bb2c 434px,#d0c027 457px,#c1c32c 469px,#acc738 482px,#86cb55 500px,#4fcc80 521px,#38c896 531px,#25c2ae 543px,#01b9c6 555px,#01b8ca 557px,#14b0d8 564px,#22a2e4 573px,#317dfc 589px,#3e70ff 593px,#475bfa 599px,#4741e5 606px,#4332c9 610px,#3e27ac 613px,#3e26a8 614px,#3e26a8 684px,#4537d7 690px,#484aee 695px,#465efb 701px,#3d70ff 707px,#307ffb 712px,#249fe6 727px,#18aedb 737px,#01b8c9 747px,#06bcc0 752px,#22c1b0 761px,#2cc4a7 766px,#3dca90 779px,#8acb51 813px,#a9c73b 829px,#b9c430 840px,#d3bf27 863px,#ecba32 903px,#f8ba3d 948px,#fdbd3d 1013px,#febf3c 100%)"></i><i class="w" style="background:linear-gradient(#fec13a 0,#febd3c 333px,#f8ba3d 385px,#efba35 413px,#e1bc2b 438px,#d1bf27 456px,#c5c22a 466px,#afc636 480px,#8acb51 498px,#4fcc81 521px,#3fca8e 527px,#27c2ac 542px,#03bbc2 553px,#01b9c6 555px,#01b7ca 557px,#17aeda 565px,#1ea7e1 570px,#307ffb 588px,#3e6fff 593px,#4853f5 601px,#4740e4 606px,#4435d0 609px,#3e27aa 613px,#3e26a8 684px,#3e27ab 685px,#463adc 691px,#4745ea 694px,#475af9 700px,#3e70ff 707px,#307efb 712px,#22a2e4 729px,#18aedb 737px,#02b7cb 746px,#01b9c6 749px,#0bbdbd 754px,#22c1b0 761px,#44cb8a 782px,#72cd63 802px,#9bc944 821px,#c5c22a 848px,#ddbd29 874px,#f0ba36 912px,#f8ba3d 944px,#febd3c 1029px,#febf3b 100%)"></i><i class="w" style="background:linear-gradient(#fec13a 0,#febd3c 333px,#f8ba3d 385px,#eeba34 415px,#e3bc2c 435px,#d0bf27 456px,#c4c22a 466px,#a9c73a 483px,#85cb56 500px,#4ecc81 521px,#37c897 531px,#26c2ad 542px,#02bbc3 553px,#01b9c7 555px,#04b6cd 558px,#18aedb 565px,#2797eb 578px,#2f81fa 587px,#3c71ff 592px,#4564fd 596px,#4756f7 600px,#4743e7 605px,#4537d6 608px,#3e26a8 613px,#3e26a9 685px,#4639da 691px,#4848ec 695px,#475cfa 701px,#3c72ff 708px,#2e83f9 714px,#249ee6 727px,#19addb 737px,#09b4d1 743px,#01b9c6 749px,#08bcbf 753px,#24c1ae 762px,#44cb8a 782px,#77cc5f 804px,#9ec942 822px,#c3c22b 846px,#dabd28 870px,#f0ba36 910px,#f8ba3d 941px,#febd3c 1016px,#fec03b 100%)"></i><i class="w" style="background:linear-gradient(#fec13a 0,#febd3c 327px,#f8ba3d 382px,#ebba31 420px,#d0bf27 455px,#b2c534 477px,#8fcb4e 495px,#4ecc81 520px,#3dca90 527px,#2bc3a8 539px,#03bbc2 552px,#01b8c8 555px,#19addc 565px,#2c8ff1 581px,#307ffb 587px,#4269fe 594px,#4854f6 600px,#4741e5 605px,#4536d3 608px,#3e26a8 613px,#3e26a8 685px,#463bde 692px,#4746eb 695px,#465efb 702px,#3d70ff 708px,#307ffb 713px,#259de7 727px,#1babde 736px,#02b7cb 747px,#01bac5 750px,#09bcbe 754px,#23c1af 762px,#45cb89 783px,#72cd63 802px,#9fc941 823px,#c3c22b 846px,#dabd28 870px,#f0ba36 910px,#f7ba3d 940px,#febd3c 1013px,#fec03b 100%)"></i><i class="w" style="background:linear-gradient(#fec03b 0,#febd3c 304px,#f7ba3d 375px,#ebba31 416px,#d0bf27 453px,#c4c22a 463px,#acc738 479px,#86cb54 497px,#4ecc82 519px,#37c897 529px,#24c1af 541px,#08bcbe 549px,#01b8c9 554px,#19addc 564px,#2896ec 577px,#317dfc 587px,#4563fd 595px,#4852f4 600px,#4743e7 604px,#4434cf 608px,#3e27aa 612px,#3e26a8 685px,#3e27aa 686px,#4536d4 691px,#4848ec 696px,#475cfa 702px,#3d71ff 709px,#307ffb 714px,#259de7 728px,#1babde 737px,#02b7cb 748px,#01bac5 751px,#09bcbe 755px,#25c2ae 764px,#45cb89 784px,#90ca4d 816px,#b9c430 840px,#d3bf27 863px,#edba33 905px,#f8ba3d 946px,#fdbd3d 1008px,#febf3b 100%)"></i><i class="w" style="background:linear-gradient(#febe3c 0,#fcbc3d 304px,#f7ba3d 359px,#eabb30 411px,#d0bf27 449px,#c5c22a 459px,#acc738 476px,#8acb52 493px,#4dcc82 517px,#3eca8f 523px,#24c1ae 539px,#06bcc0 548px,#01b9c6 551px,#01b8ca 553px,#14b0d8 560px,#23a1e5 570px,#317dfc 586px,#3d70ff 590px,#4759f9 597px,#4848ec 602px,#463cdf 605px,#3e26a8 612px,#3e26a8 686px,#4537d5 692px,#4745e9 696px,#475cfa 703px,#3d70ff 710px,#307ffb 715px,#249ee6 730px,#19addc 740px,#07b5d0 747px,#01b9c7 752px,#07bcbf 756px,#23c1af 765px,#45cb88 786px,#8dcb4f 817px,#b9c430 843px,#d3bf27 867px,#e3bc2c 889px,#edba33 912px,#f8ba3d 961px,#fbbc3d 1000px,#febd3c 100%)"></i><i class="w" style="background:linear-gradient(#fbbc3d 0,#f9ba3d 309px,#f2ba37 369px,#e5bb2c 411px,#d0bf27 442px,#c5c22a 453px,#acc738 471px,#8ccb50 488px,#4fcc81 513px,#3cc991 521px,#25c2ae 536px,#0abdbd 544px,#01b9c7 549px,#08b4d1 554px,#1aacdd 561px,#23a1e5 568px,#2f81fa 583px,#3e6fff 589px,#475cfa 595px,#4747ec 601px,#4539d9 605px,#3e26a8 611px,#3e26a8 687px,#4537d5 693px,#4847ec 698px,#465dfb 705px,#3c72ff 712px,#317dfc 716px,#21a3e4 735px,#19addc 742px,#02b7cb 752px,#01b9c6 755px,#08bcbe 759px,#24c1af 768px,#45cb89 789px,#89cb52 819px,#a5c83d 834px,#b9c430 848px,#d0bf27 870px,#e7bb2d 907px,#f2ba38 948px,#f9ba3d 1010px,#fbbc3d 100%)"></i><i class="w" style="background:linear-gradient(#f6ba3b 0,#f3ba38 290px,#ebba31 363px,#debd29 405px,#c8c129 438px,#aac739 463px,#81cc59 486px,#4ecc81 508px,#3cc991 516px,#24c1ae 532px,#08bcbf 541px,#01b9c6 545px,#07b5cf 550px,#19addc 557px,#249ee6 567px,#2f80fa 581px,#3e6fff 587px,#475af9 594px,#4746ea 600px,#4538d7 604px,#3e26a8 610px,#3e26a8 688px,#4535d2 694px,#4746ea 699px,#465efb 707px,#3c71ff 714px,#307ffb 719px,#249ee6 735px,#1babde 744px,#07b5d0 753px,#01bac6 759px,#08bcbf 763px,#25c2ae 773px,#44cb8a 794px,#8acb51 827px,#b4c533 854px,#d0c027 883px,#e1bc2b 915px,#eeba34 969px,#f3ba38 1026px,#f6ba3b 100%)"></i><i class="w" style="background:linear-gradient(#e5bb2c 0,#e2bc2b 284px,#dbbd28 352px,#d0c028 392px,#b9c430 430px,#99c946 459px,#7acc5d 477px,#4ecc81 499px,#3cc991 508px,#2bc3a8 522px,#04bbc1 537px,#01b9c7 540px,#01b8ca 542px,#19addc 553px,#259de7 564px,#307efb 579px,#3f6eff 585px,#475af9 592px,#4747eb 598px,#4536d3 603px,#3e27ab 608px,#3e26a8 609px,#3e26a8 690px,#4433cd 695px,#4742e6 700px,#475af9 708px,#3c72ff 717px,#2f80fa 723px,#20a5e3 744px,#15afd8 753px,#01b7ca 762px,#01b9c6 765px,#07bcbf 769px,#28c2ab 782px,#3bc992 798px,#4dcc82 808px,#8acb52 841px,#acc739 867px,#c5c22a 899px,#d3bf27 930px,#ddbd29 976px,#e2bc2b 1034px,#e5bb2c 100%)"></i><i class="w" style="background:linear-gradient(#cdc028 0,#c9c129 295px,#bec32e 366px,#acc738 408px,#9dc943 429px,#84cc57 452px,#6ccd68 468px,#3dca90 496px,#26c2ad 516px,#02bac3 531px,#02b7cb 536px,#19addb 547px,#22a2e4 556px,#327bfc 577px,#3c71ff 581px,#475bfa 589px,#4747eb 596px,#4536d5 601px,#3e26a8 607px,#3e26a8 691px,#3e27a9 692px,#4433cd 697px,#4741e5 702px,#4755f6 709px,#4269fe 717px,#2f80fa 727px,#259de7 744px,#18aedb 758px,#07b5d0 766px,#01b9c6 773px,#0abdbd 779px,#25c2ae 790px,#3eca8f 813px,#76cc60 849px,#9cc944 882px,#b1c635 914px,#c1c32d 961px,#c9c129 1021px,#cdc028 100%)"></i><i class="w" style="background:linear-gradient(#acc738 0,#a8c73c 288px,#9ec943 357px,#8fca4d 396px,#80cc5a 421px,#64cd6e 449px,#41ca8c 477px,#2bc3a8 501px,#01b9c6 524px,#02b7cb 528px,#18addb 540px,#2699ea 557px,#307efb 572px,#3d70ff 578px,#475af9 587px,#4743e7 595px,#463adb 598px,#3e27aa 605px,#3e26a8 606px,#3e26a8 693px,#3e27aa 694px,#4538d7 701px,#4742e7 705px,#475af9 714px,#3f6eff 723px,#327bfc 729px,#269ae9 748px,#18aedb 766px,#07b5d0 775px,#01b9c6 783px,#0abdbd 790px,#29c3aa 806px,#42ca8b 834px,#6ccd68 870px,#84cc57 898px,#96ca49 933px,#a1c840 973px,#a9c73b 1045px,#acc738 100%)"></i><i class="w" style="background:linear-gradient(#85cb55 0,#83cc57 271px,#7ccc5c 340px,#6ecd66 388px,#53cc7d 436px,#3eca8f 459px,#2dc4a6 485px,#25c2ae 493px,#09bdbe 508px,#01b9c6 515px,#05b6ce 522px,#18aedb 533px,#21a3e4 544px,#2e83f9 566px,#3d71ff 575px,#475bfa 584px,#4849ed 591px,#4435d2 598px,#3e26a8 604px,#3e26a8 695px,#4435d2 702px,#4742e6 707px,#4758f8 716px,#3e6fff 727px,#2f80fa 736px,#269ae9 754px,#17aeda 775px,#01b8ca 790px,#03bbc2 797px,#28c3aa 821px,#59cc78 887px,#6fcd66 930px,#7bcc5d 974px,#84cc57 1075px,#85cb55 100%)"></i><i class="w" style="background:linear-gradient(#6dcd68 0,#6ccd69 244px,#64cd6f 348px,#58cc79 395px,#4ccb82 419px,#2dc4a6 475px,#1ac0b5 492px,#04bbc1 505px,#01b8ca 513px,#17aeda 528px,#259de7 546px,#2e83f9 564px,#3e6fff 574px,#4758f8 584px,#4849ed 590px,#4538d8 596px,#3e27aa 603px,#3e26a8 604px,#3e26a8 696px,#4537d6 704px,#4744e8 709px,#4756f7 717px,#3f6fff 729px,#2f81fa 739px,#2797eb 755px,#1babde 776px,#01b8ca 797px,#02bbc3 804px,#1bc0b4 820px,#28c3ab 832px,#49cb85 891px,#56cc7b 918px,#61cd71 958px,#6bcd69 1053px,#6dcd68 100%)"></i><i class="w" style="background:linear-gradient(#72cd63 0,#72cd64 212px,#6bcd69 336px,#61cd72 382px,#54cc7c 413px,#3bc992 452px,#28c3ab 483px,#03bbc2 507px,#01b8ca 514px,#17aeda 529px,#249fe6 545px,#2f80fa 566px,#3e70ff 574px,#465dfb 582px,#4746eb 591px,#4536d3 597px,#3e27aa 603px,#3e26a8 604px,#3e26a8 696px,#4433cd 702px,#4742e6 708px,#4755f6 716px,#3e6fff 729px,#2f80fa 738px,#2699e9 756px,#1aacdd 776px,#01b8ca 795px,#03bbc2 803px,#24c2ae 825px,#40ca8d 870px,#51cc7e 899px,#5ccc76 922px,#68cd6c 967px,#71cd65 1071px,#72cd63 100%)"></i><i class="w" style="background:linear-gradient(#93ca4b 0,#90ca4d 274px,#88cb53 345px,#7bcc5c 386px,#6fcd66 411px,#5dcc74 435px,#3cc991 469px,#2dc4a6 490px,#24c1af 498px,#08bcbf 512px,#01b9c6 518px,#07b5d0 526px,#18aedb 535px,#249fe6 549px,#2e83f9 567px,#3b72ff 575px,#4564fd 581px,#4747ec 592px,#4539d9 597px,#3e27aa 604px,#3e26a8 605px,#3e26a8 695px,#4536d4 702px,#4746ea 708px,#475bfa 717px,#3d71ff 727px,#2f81fa 735px,#269be8 753px,#16afd9 773px,#01b8c9 787px,#04bbc1 794px,#23c1af 811px,#31c6a0 826px,#4fcc80 862px,#66cd6d 890px,#7bcc5d 928px,#87cb54 968px,#91ca4d 1068px,#93ca4b 100%)"></i><i class="w" style="background:linear-gradient(#bac430 0,#b6c533 280px,#aec637 346px,#9ec942 394px,#8ecb4f 420px,#78cc5f 443px,#3cc991 487px,#27c2ac 508px,#02bac3 525px,#03b7cc 531px,#18addb 542px,#269be8 557px,#2f80fa 572px,#3b72ff 578px,#465efb 586px,#4741e5 596px,#4435d1 600px,#3e26a8 606px,#3e26a8 693px,#4536d4 700px,#4741e5 704px,#475bfa 714px,#3f6eff 722px,#2e83f9 732px,#249fe6 750px,#17aeda 764px,#04b6cd 774px,#01bac5 780px,#26c2ad 799px,#3eca8f 824px,#75cc62 866px,#91ca4d 897px,#a3c83f 931px,#afc637 975px,#b6c533 1036px,#bac430 100%)"></i><i class="w" style="background:linear-gradient(#d5be28 0,#d1bf27 299px,#c6c22a 369px,#b4c533 410px,#9fc942 437px,#7ccc5c 464px,#3fca8e 498px,#25c2ae 519px,#01bac5 534px,#01b8ca 537px,#18addb 548px,#249fe6 559px,#307ffb 576px,#3b72ff 581px,#4759f9 590px,#4744e8 597px,#4434cf 602px,#3e26a8 607px,#3e26a8 691px,#3e27aa 692px,#4536d4 698px,#4742e6 702px,#4756f7 709px,#3e6fff 719px,#327bfc 724px,#259ce7 742px,#1caadf 753px,#04b6cd 766px,#01bac5 771px,#0bbdbc 777px,#26c2ad 788px,#3eca8f 809px,#6ccd68 836px,#8ecb4f 859px,#a9c73b 886px,#b9c430 912px,#c9c129 958px,#d1bf27 1018px,#d5be28 100%)"></i><i class="w" style="background:linear-gradient(#e9bb30 0,#e6bb2d 292px,#dfbc2a 354px,#d2bf27 398px,#c5c22a 421px,#b9c431 436px,#97ca47 463px,#75cc61 482px,#44cb89 505px,#29c3aa 524px,#01b9c6 540px,#02b7cb 543px,#19addc 553px,#22a2e4 561px,#307efb 579px,#3f6eff 585px,#475af9 592px,#4746eb 598px,#4539d9 602px,#3e27aa 608px,#3e26a8 609px,#3e26a8 690px,#4536d3 696px,#4742e6 700px,#475af9 708px,#3c72ff 717px,#2f81fa 723px,#259be8 737px,#19addc 750px,#05b6ce 759px,#01b9c6 764px,#09bdbe 769px,#25c2ae 779px,#45cb89 802px,#8ccb50 839px,#a8c73b 859px,#c5c22a 891px,#d4bf27 920px,#dfbc2a 961px,#e6bb2d 1024px,#e9bb30 100%)"></i><i class="w" style="background:linear-gradient(#f4ba3a 0,#f1ba36 298px,#e9bb2f 365px,#debd29 401px,#c8c129 436px,#a3c83e 466px,#7ccc5c 487px,#4ecc81 507px,#3eca8f 514px,#22c1b0 532px,#0bbdbc 539px,#01b9c6 544px,#02b7cb 547px,#1aacdd 557px,#269be8 568px,#307ffb 581px,#3d71ff 586px,#475bfa 593px,#4848ec 599px,#4536d4 604px,#3e27aa 609px,#3e26a8 689px,#4537d6 695px,#4744e8 699px,#4759f9 706px,#3e70ff 714px,#317dfc 719px,#259de7 735px,#18aedb 747px,#01b7ca 757px,#01bac5 760px,#29c3aa 776px,#44cb8a 795px,#8acb52 828px,#afc636 852px,#c7c129 875px,#e0bc2a 917px,#ebba31 960px,#f1ba36 1017px,#f4ba3a 100%)"></i><i class="w" style="background:linear-gradient(#f6ba3b 0,#f3ba38 306px,#ecba32 366px,#dfbc2a 408px,#c8c129 442px,#a8c73b 468px,#8bcb51 484px,#4ecc81 510px,#3eca8f 517px,#24c1ae 534px,#07bcbf 543px,#01b9c7 547px,#08b4d0 552px,#18aedb 558px,#2797eb 572px,#2e83f9 581px,#3f6fff 588px,#475cfa 594px,#4848ec 600px,#4639da 604px,#3e26a8 610px,#3e26a8 688px,#4537d6 694px,#4848ec 699px,#475af9 705px,#3c71ff 713px,#307ffb 718px,#259de7 733px,#19addc 744px,#02b7cb 754px,#01b9c6 757px,#0abdbd 762px,#25c2ae 771px,#3eca8f 789px,#4dcc82 796px,#95ca49 830px,#b9c430 855px,#d0bf27 880px,#e4bb2c 918px,#eeba34 961px,#f4ba39 1030px,#f6ba3b 100%)"></i><i class="w" style="background:linear-gradient(#f7ba3c 0,#f5ba3a 290px,#f0ba36 350px,#e2bc2b 405px,#d5be28 429px,#c7c129 445px,#a6c83c 471px,#8dcb50 485px,#4ecc81 512px,#3cc991 520px,#23c1af 536px,#03bbc2 546px,#01b9c6 548px,#07b5d0 553px,#19addc 560px,#259de7 570px,#2f80fa 583px,#3f6eff 589px,#475bfa 595px,#4747eb 601px,#4538d8 605px,#3e26a8 611px,#3e26a8 687px,#3e28ac 688px,#4536d4 693px,#4743e8 697px,#475af9 704px,#3c71ff 712px,#307ffb 717px,#249fe6 733px,#1aacdd 742px,#03b7cc 752px,#01bac5 756px,#0bbdbc 761px,#26c2ad 770px,#44cb8a 790px,#8dcb4f 824px,#b4c533 849px,#d0bf27 877px,#e4bb2c 914px,#efba35 960px,#f5ba3a 1027px,#f7ba3c 100%)"></i><i class="w" style="background:linear-gradient(#f8ba3d 0,#f5ba3a 305px,#edba33 372px,#dfbc2a 414px,#c8c129 446px,#a5c83d 473px,#8bcb51 487px,#4ecc81 513px,#3cc991 521px,#23c1af 537px,#0bbdbc 544px,#01b9c6 549px,#01b8ca 551px,#17aedb 560px,#22a2e4 568px,#317dfc 585px,#3d70ff 589px,#465dfb 595px,#4849ed 601px,#463adb 605px,#3e26a8 611px,#3e26a8 687px,#4538d7 693px,#4745ea 697px,#475cfa 704px,#3d70ff 711px,#2f81fa 717px,#2798ea 728px,#19addb 742px,#05b6ce 750px,#01bac5 755px,#0bbdbc 760px,#24c1af 768px,#3fca8e 787px,#4ecc81 794px,#91ca4d 825px,#b6c532 849px,#d0bf27 876px,#e5bb2c 914px,#efba35 954px,#f6ba3b 1031px,#f8ba3d 100%)"></i><i class="w" style="background:linear-gradient(#f9ba3d 0,#f6ba3b 297px,#efba35 365px,#e2bc2b 409px,#c8c129 447px,#a9c73a 471px,#88cb53 489px,#4fcc80 513px,#3dc990 521px,#22c1b0 538px,#0abdbd 545px,#01b9c7 550px,#08b4d0 555px,#1aacdd 562px,#2798ea 574px,#2f81fa 584px,#3f6fff 590px,#475bfa 596px,#4746eb 602px,#4434cf 607px,#3e27ab 611px,#3e26a8 686px,#3e27aa 687px,#4536d3 692px,#4747eb 697px,#4660fc 705px,#3c72ff 711px,#317dfc 715px,#249ee6 731px,#18aedb 742px,#04b6cd 750px,#01b9c6 754px,#0abdbd 759px,#25c2ae 768px,#3eca8f 786px,#4dcc82 793px,#92ca4c 825px,#b9c430 851px,#d0bf27 875px,#e5bb2c 912px,#f0ba36 957px,#f6ba3b 1020px,#f9ba3d 100%)"></i><i class="w" style="background:linear-gradient(#f9bb3d 0,#f6ba3b 303px,#f0ba36 361px,#e1bc2b 412px,#c8c129 447px,#a5c83d 474px,#76cc60 497px,#4ecc82 514px,#3ac993 523px,#23c1af 538px,#0bbdbc 545px,#01b9c6 550px,#01b8ca 552px,#17aedb 561px,#23a0e5 570px,#307ffb 585px,#3e70ff 590px,#475cfa 596px,#4747ec 602px,#4538d8 606px,#3e26a8 612px,#3e26a8 686px,#3e28ac 687px,#4536d5 692px,#4848ec 697px,#465efb 704px,#3e70ff 710px,#2f80fa 716px,#259de7 730px,#19addc 741px,#02b7cb 751px,#01bac6 754px,#2bc3a8 771px,#3dca90 785px,#4ecc81 793px,#8fcb4e 823px,#b6c532 848px,#d0bf27 874px,#e5bb2c 911px,#f0ba36 955px,#f6ba3b 1015px,#f9bb3d 100%)"></i><i class="w" style="background:linear-gradient(#f9bb3d 0,#f6ba3b 304px,#efba35 367px,#e3bc2c 408px,#c8c129 447px,#bac430 460px,#a3c83e 475px,#89cb53 489px,#4ecc81 514px,#3cc991 522px,#23c1af 538px,#06bcc0 547px,#01b9c6 550px,#07b5cf 555px,#19addc 562px,#269be8 573px,#317dfc 586px,#3d70ff 590px,#475af9 597px,#4848ec 602px,#4539d9 606px,#3e26a8 612px,#3e26a8 686px,#4537d6 692px,#4745e9 696px,#475cfa 703px,#3d70ff 710px,#2f81fa 716px,#249fe6 731px,#1aacdd 740px,#03b6cc 750px,#01bac5 754px,#2bc3a8 771px,#3ac993 783px,#4ecc81 793px,#91ca4d 824px,#b6c532 848px,#d0bf27 874px,#e5bb2c 911px,#f0ba36 954px,#f6ba3b 1013px,#f9bb3d 100%)"></i><i class="w" style="background:linear-gradient(#f9bb3d 0,#f6ba3b 304px,#efba35 367px,#e3bc2c 408px,#c8c129 447px,#bac430 460px,#a3c83e 475px,#87cb54 490px,#4ecc81 514px,#3cc991 522px,#26c2ad 537px,#09bdbe 546px,#01bac5 550px,#06b5cf 555px,#19addc 562px,#249fe6 571px,#317dfc 586px,#3d71ff 590px,#465dfb 596px,#4745e9 603px,#4536d3 607px,#3e26a8 612px,#3e26a8 686px,#4537d6 692px,#4742e6 695px,#475cfa 703px,#3d71ff 710px,#307efb 715px,#21a4e3 734px,#1aacdd 740px,#01b7ca 751px,#01bac5 754px,#0bbdbc 759px,#26c2ad 768px,#3ac993 783px,#4ecc81 793px,#96ca48 827px,#bbc42f 852px,#d0bf27 874px,#e5bb2c 911px,#f0ba36 954px,#f6ba3b 1013px,#f9bb3d 100%)"></i><i class="w" style="background:linear-gradient(#f9bb3d 0,#f6ba3b 304px,#efba35 367px,#e2bc2b 410px,#c8c129 447px,#bac430 460px,#a3c83e 475px,#87cb54 490px,#4ecc81 514px,#37c897 525px,#26c2ad 537px,#09bdbe 546px,#01bac5 550px,#06b5cf 555px,#19addc 562px,#249fe6 571px,#2e83f9 584px,#3c71ff 590px,#465efb 596px,#4849ed 602px,#4639da 606px,#3e26a8 612px,#3e26a8 686px,#4537d7 692px,#4745ea 696px,#4756f7 701px,#3d71ff 710px,#307ffb 715px,#21a4e3 734px,#1aacdd 740px,#01b7ca 751px,#01bac5 754px,#0bbdbc 759px,#26c2ad 768px,#3ac993 783px,#4ecc81 793px,#91ca4d 824px,#b6c532 848px,#d0bf27 874px,#e5bb2c 911px,#f1ba36 961px,#f6ba3b 1014px,#f9bb3d 100%)"></i><i class="w" style="background:linear-gradient(#f9bb3d 0,#f6ba3b 303px,#f0ba36 361px,#e2bc2b 410px,#c8c129 447px,#a5c83d 474px,#89cb53 489px,#4ecc81 514px,#3cc991 522px,#26c2ad 537px,#09bdbe 546px,#01bac5 550px,#06b5cf 555px,#19addc 562px,#249fe6 571px,#2e83f9 584px,#3c71ff 590px,#465efb 596px,#4849ed 602px,#4639da 606px,#3e26a8 612px,#3e26a8 686px,#4538d7 692px,#4745ea 696px,#4756f7 701px,#3d71ff 710px,#307ffb 715px,#21a4e3 734px,#1aacdd 740px,#01b7ca 751px,#01bac5 754px,#0bbdbc 759px,#26c2ad 768px,#3ac993 783px,#4ecc81 793px,#91ca4d 824px,#b6c532 848px,#d0bf27 874px,#e5bb2c 911px,#f0ba36 955px,#f6ba3b 1015px,#f9bb3d 100%)"></i><i class="w" style="background:linear-gradient(#f9ba3d 0,#f6ba3b 301px,#efba35 366px,#e0bc2a 414px,#c8c129 447px,#a5c83d 474px,#8bcb51 488px,#4ecc81 514px,#3cc991 522px,#23c1af 538px,#09bdbe 546px,#01bac5 550px,#06b5cf 555px,#19addc 562px,#249fe6 571px,#2e83f9 584px,#3c71ff 590px,#465efb 596px,#4849ed 602px,#4639da 606px,#3e26a8 612px,#3e26a8 686px,#4537d7 692px,#4742e6 695px,#4756f7 701px,#3d71ff 710px,#307ffb 715px,#21a4e3 734px,#1aacdd 740px,#03b7cc 750px,#01bac5 754px,#2bc3a8 771px,#3dca90 785px,#4ecc81 793px,#8fcb4e 823px,#b6c532 848px,#d0bf27 874px,#e6bb2d 914px,#f0ba36 955px,#f6ba3b 1016px,#f9ba3d 100%)"></i><i class="w" style="background:linear-gradient(#f9ba3d 0,#f6ba3b 299px,#f0ba36 360px,#e3bc2c 407px,#ccc028 443px,#b9c430 460px,#a6c83c 473px,#80cc5a 493px,#4ecc81 514px,#3cc991 522px,#23c1af 538px,#06bcc0 547px,#01b9c6 550px,#07b5cf 555px,#19addc 562px,#259de7 572px,#317dfc 586px,#3d71ff 590px,#465dfb 596px,#4745e9 603px,#4536d3 607px,#3e26a8 612px,#3e26a8 686px,#4537d6 692px,#4742e6 695px,#475cfa 703px,#3d70ff 710px,#2f81fa 716px,#269ae9 728px,#1aacdd 740px,#05b6ce 749px,#01bac5 754px,#2bc3a8 771px,#3dca90 785px,#4ecc81 793px,#92ca4b 825px,#b9c430 851px,#d0bf27 874px,#e7bb2d 917px,#f0ba36 956px,#f6ba3b 1018px,#f9ba3d 100%)"></i><i class="w" style="background:linear-gradient(#f9ba3d 0,#f6ba3b 297px,#f0ba36 359px,#e2bc2b 409px,#c8c129 447px,#a8c73b 472px,#7dcc5b 494px,#4dcc82 514px,#3fca8e 520px,#23c1af 538px,#0bbdbc 545px,#01b9c6 550px,#07b5d0 555px,#19addc 562px,#2699ea 574px,#317dfc 586px,#3d70ff 590px,#475af9 597px,#4848ec 602px,#4539d9 606px,#3e26a8 612px,#3e26a8 686px,#4537d6 692px,#4745e9 696px,#475bfa 703px,#3d70ff 710px,#2f80fa 716px,#259de7 730px,#19addc 741px,#02b7cb 751px,#01bac6 754px,#29c3aa 770px,#38c895 782px,#4ecc82 793px,#8ecb4e 823px,#b9c430 851px,#d0bf27 875px,#e5bb2c 912px,#f0ba36 957px,#f6ba3b 1021px,#f9ba3d 100%)"></i><i class="w" style="background:linear-gradient(#f8ba3d 0,#f6ba3b 293px,#f0ba36 358px,#e4bb2c 404px,#d0bf27 437px,#c4c22a 450px,#aac739 470px,#88cb54 489px,#4dcc82 514px,#3dc990 521px,#22c1b0 538px,#05bbc1 547px,#01b8c8 551px,#07b5d0 555px,#18aedb 561px,#249ee6 571px,#307ffb 585px,#4269fe 592px,#475cfa 596px,#4744e8 603px,#4435d1 607px,#3f28ad 611px,#3e26a8 612px,#3e26a8 686px,#3e28ac 687px,#4536d4 692px,#4848ec 697px,#465efb 704px,#3e6fff 710px,#317dfb 715px,#269be8 729px,#19addc 741px,#02b7cb 751px,#01b9c6 754px,#0abdbd 759px,#25c2ae 768px,#3eca8f 786px,#4dcc82 793px,#93ca4a 826px,#b8c431 850px,#d0bf27 875px,#e4bb2c 910px,#f0ba36 958px,#f6ba3b 1024px,#f8ba3d 100%)"></i><i class="w" style="background:linear-gradient(#f8ba3d 0,#f6ba3b 289px,#efba35 362px,#e2bc2b 408px,#c8c129 446px,#a3c83e 474px,#85cb56 490px,#4ecc81 513px,#3eca8f 520px,#24c1af 537px,#01bac5 549px,#02b7cb 552px,#19addc 561px,#23a1e5 569px,#2f81fa 584px,#3f6fff 590px,#475bfa 596px,#4746eb 602px,#4537d7 606px,#3e27ab 611px,#3e26a8 619px,#3e26a8 686px,#3e27aa 687px,#4536d3 692px,#4747eb 697px,#475af9 703px,#3c71ff 711px,#307ffb 716px,#259ce7 730px,#1babde 740px,#01b8ca 752px,#01b9c7 754px,#04bbc1 757px,#28c2ab 770px,#44cb8a 789px,#91ca4c 825px,#b6c532 849px,#d0bf27 875px,#e6bb2d 916px,#f1ba36 967px,#f6ba3b 1029px,#f8ba3d 100%)"></i><i class="w" style="background:linear-gradient(#f8ba3d 0,#f5ba3a 303px,#eeba34 366px,#e1bc2b 409px,#ccc028 441px,#acc738 468px,#8ccb50 486px,#4fcc80 512px,#3bc992 521px,#22c1b0 537px,#0abdbd 544px,#01b9c7 549px,#03b6cc 552px,#18aedb 560px,#23a0e5 569px,#307ffb 584px,#3d70ff 589px,#465dfb 595px,#4849ed 601px,#463adb 605px,#3e26a8 611px,#3e26a8 687px,#4538d7 693px,#4745ea 697px,#475cfa 704px,#3d70ff 711px,#2f80fa 717px,#23a0e5 733px,#19addc 742px,#02b7cb 752px,#01b9c6 755px,#0abdbd 760px,#27c2ac 770px,#3bc992 785px,#4dcc82 794px,#93ca4a 827px,#b8c431 851px,#d0bf27 876px,#e4bb2c 912px,#efba35 955px,#f5ba3a 1015px,#f8ba3d 100%)"></i><i class="w" style="background:linear-gradient(#f8ba3d 0,#f4ba39 306px,#ecba32 370px,#dfbc2a 410px,#c8c129 443px,#a9c73a 468px,#82cc58 489px,#4ecc81 511px,#3eca8f 518px,#24c1ae 535px,#07bcbf 544px,#01b9c7 548px,#08b5d0 553px,#18aedb 559px,#2699ea 572px,#2e83f9 582px,#3f6eff 589px,#475cfa 595px,#4747eb 601px,#4538d8 605px,#3e26a8 611px,#3e26a8 687px,#4536d4 693px,#4744e8 697px,#475af9 704px,#3d71ff 712px,#307efb 717px,#259de7 732px,#19addc 743px,#04b6cd 752px,#01b9c6 756px,#07bcbf 760px,#1dc0b3 767px,#2ac3a9 773px,#44cb8a 791px,#8dcb4f 825px,#b8c431 853px,#d0bf27 878px,#e5bb2c 918px,#efba35 961px,#f5ba3a 1029px,#f8ba3d 100%)"></i><i class="w" style="background:linear-gradient(#f3ba39 0,#f0ba36 298px,#e8bb2e 367px,#dcbd29 405px,#c4c22a 440px,#a3c83e 467px,#81cc59 486px,#4fcc81 508px,#3dca90 516px,#24c1af 533px,#0abdbd 541px,#01b9c6 546px,#07b5d0 551px,#19addc 558px,#259ce7 569px,#317dfc 583px,#3f6fff 588px,#475cfa 594px,#4745e9 601px,#4536d4 605px,#3e27a9 610px,#3e26a8 688px,#4537d6 694px,#4848ec 699px,#475af9 705px,#3d71ff 713px,#2f80fa 719px,#23a1e5 736px,#19addb 745px,#02b7cb 755px,#01b9c6 758px,#07bcbf 762px,#26c2ad 773px,#44cb89 794px,#8fcb4e 830px,#acc738 849px,#c7c129 875px,#dfbc2a 916px,#ebba31 966px,#f0ba36 1019px,#f3ba39 100%)"></i><i class="w" style="background:linear-gradient(#ebba32 0,#e9bb2f 283px,#e1bc2b 360px,#d5be28 400px,#c4c22a 428px,#b1c636 449px,#9bc944 465px,#75cc61 486px,#4ecc81 504px,#3fca8e 511px,#26c2ad 529px,#0bbdbd 538px,#01bac5 543px,#02b7cb 546px,#19addc 556px,#2699ea 569px,#307ffb 581px,#3f6eff 587px,#475cfa 593px,#4849ed 599px,#4537d6 604px,#3e26a8 610px,#3e26a8 688px,#3e27aa 689px,#4537d7 695px,#4848ec 700px,#475af9 706px,#3b72ff 715px,#317dfc 719px,#2699ea 733px,#18aedb 748px,#05b6ce 756px,#01b9c6 761px,#07bcbf 765px,#27c2ac 777px,#38c896 791px,#4dcc82 803px,#85cb56 831px,#acc738 858px,#c8c129 889px,#dcbd29 934px,#e9bb2f 1034px,#ebba32 100%)"></i><i class="w" style="background:linear-gradient(#e1bc2b 0,#debd29 294px,#d8be28 348px,#cbc129 395px,#b5c533 431px,#8fca4d 463px,#7acc5e 476px,#45cb89 503px,#24c1af 526px,#05bbc1 537px,#01b9c6 540px,#02b7cb 543px,#1aacdd 554px,#23a1e5 562px,#317dfb 580px,#3e70ff 585px,#475bfa 592px,#4741e6 600px,#4537d6 603px,#3e26a8 609px,#3e26a8 689px,#3e27ab 690px,#463adc 697px,#4744e8 700px,#465efb 709px,#3d70ff 716px,#317dfc 721px,#2798ea 735px,#18aedb 751px,#01b7ca 762px,#01bac5 765px,#07bcbf 769px,#26c2ad 781px,#3eca8f 801px,#7acc5d 834px,#9fc942 859px,#b8c531 885px,#cdc028 924px,#d7be28 962px,#debd29 1023px,#e1bc2b 100%)"></i><i class="w" style="background:linear-gradient(#d3bf27 0,#cec028 305px,#c3c22b 372px,#b2c534 410px,#9cc944 439px,#7acc5d 465px,#3eca8f 500px,#26c2ad 520px,#09bdbe 531px,#01b9c6 536px,#03b7cc 540px,#1aacdd 551px,#269ae9 564px,#2f80fa 577px,#3c71ff 583px,#465dfb 590px,#4745e9 598px,#4434d0 603px,#3e26a8 608px,#3e26a8 690px,#3e27ab 691px,#463adb 698px,#4743e7 701px,#4854f6 707px,#3f6eff 717px,#317dfc 723px,#259de7 741px,#19addc 754px,#03b7cc 765px,#01b9c6 769px,#0cbdbc 776px,#25c2ae 786px,#3fca8e 809px,#75cc61 842px,#8fcb4e 861px,#a3c83f 881px,#b6c532 910px,#c6c22a 955px,#cfc028 1025px,#d3bf27 100%)"></i><i class="w" style="background:linear-gradient(#c2c22c 0,#bec32e 295px,#b6c533 355px,#a6c83c 400px,#99c946 422px,#80cc59 448px,#63cd6f 469px,#3eca8f 493px,#26c2ad 515px,#0bbdbd 526px,#01bac5 532px,#01b8ca 535px,#17aeda 546px,#23a1e5 557px,#307ffb 576px,#3e70ff 582px,#475af9 590px,#4745e9 597px,#463bdd 600px,#3e27aa 607px,#3e26a8 608px,#3e26a8 691px,#4537d5 698px,#4745ea 703px,#465efb 712px,#3f6fff 719px,#317dfc 725px,#2699ea 741px,#17aeda 759px,#02b7cb 770px,#01b9c6 774px,#28c2ab 794px,#3fca8e 817px,#63cd6f 842px,#82cc58 866px,#99c946 892px,#acc739 927px,#b8c431 972px,#bfc32e 1039px,#c2c22c 100%)"></i><i class="w" style="background:linear-gradient(#b5c533 0,#b1c636 292px,#a9c73b 354px,#9ac945 398px,#8acb52 424px,#6dcd68 453px,#41ca8c 485px,#29c3aa 509px,#01bac5 529px,#02b7cb 533px,#19addc 545px,#259de7 558px,#2e83f9 573px,#3b72ff 580px,#426afe 583px,#4758f8 590px,#4743e7 597px,#4433cd 602px,#3e26a8 607px,#3e26a8 692px,#4432cb 697px,#4740e4 702px,#4756f7 710px,#3f6eff 720px,#2e84f9 730px,#259de7 746px,#18aedb 761px,#01b7ca 774px,#01b9c6 777px,#08bcbf 783px,#27c2ac 798px,#3eca8f 823px,#6ecd66 861px,#8ccb50 893px,#9fc942 929px,#acc739 980px,#b2c635 1044px,#b5c533 100%)"></i><i class="w" style="background:linear-gradient(#b1c636 0,#adc738 291px,#a5c83e 353px,#98c946 392px,#89cb53 420px,#70cd65 447px,#40ca8d 484px,#27c2ac 509px,#01bac5 528px,#03b6cc 533px,#17aeda 543px,#249fe6 556px,#2e84f9 572px,#3c71ff 580px,#475af9 589px,#4742e6 597px,#4535d2 601px,#3e26a8 607px,#3e26a8 692px,#4537d5 699px,#473fe3 702px,#4850f3 708px,#4368fe 718px,#317dfc 727px,#2798ea 743px,#18aedb 762px,#01b7ca 775px,#01bac5 779px,#29c3aa 801px,#3fca8e 826px,#6ecd67 864px,#87cb54 892px,#9cc944 932px,#a8c73b 982px,#aec637 1046px,#b0c636 100%)"></i><i class="w" style="background:linear-gradient(#b8c431 0,#b4c534 290px,#acc739 353px,#9dc943 398px,#8bcb51 426px,#74cd62 449px,#3cc991 490px,#27c2ac 511px,#02bac3 528px,#03b7cc 534px,#17aeda 544px,#23a0e5 556px,#307ffb 575px,#3e70ff 581px,#465dfb 588px,#4743e7 597px,#4536d4 601px,#3e26a8 607px,#3e26a8 692px,#4433cb 697px,#4740e4 702px,#4756f7 710px,#3f6eff 720px,#2f80fa 728px,#259ce7 745px,#19addc 760px,#03b6cc 772px,#01b9c6 777px,#09bdbe 783px,#28c2ab 798px,#38c895 816px,#4ecc81 833px,#7acc5e 869px,#94ca4a 901px,#a3c83f 932px,#afc637 981px,#b5c533 1045px,#b8c431 100%)"></i><i class="w" style="background:linear-gradient(#c5c22a 0,#c2c32c 287px,#b9c431 357px,#a9c73a 401px,#99c946 426px,#7dcc5c 453px,#64cd6e 470px,#3eca8f 494px,#24c1af 517px,#02bbc3 531px,#03b6cc 537px,#18aedb 547px,#259de7 560px,#317dfc 577px,#3e70ff 582px,#4854f6 592px,#4742e6 598px,#4435d1 602px,#3e27aa 607px,#3e26a8 608px,#3e26a8 691px,#4537d6 698px,#4743e7 702px,#4756f7 709px,#4368fe 716px,#317dfc 725px,#2798ea 740px,#19addc 757px,#07b5d0 766px,#01b9c6 773px,#07bcbf 778px,#25c2ae 791px,#3eca8f 815px,#62cd70 839px,#82cc58 863px,#9ec943 894px,#afc637 926px,#bbc430 969px,#c2c32c 1031px,#c5c22a 100%)"></i><i class="w" style="background:linear-gradient(#d4be28 0,#d0c028 305px,#c5c22a 372px,#b3c534 413px,#9ec943 439px,#79cc5e 467px,#3fca8e 500px,#25c2ae 521px,#01bac5 536px,#01b8ca 539px,#1babde 552px,#269ae9 564px,#2f80fa 577px,#3d71ff 583px,#465dfb 590px,#4745e9 598px,#4434d0 603px,#3e26a8 608px,#3e26a8 690px,#3e27ab 691px,#463adb 698px,#4743e7 701px,#4854f6 707px,#3f6eff 717px,#317dfc 723px,#23a0e5 743px,#17aeda 755px,#01b8ca 766px,#01b9c6 769px,#0dbdbb 776px,#24c1af 785px,#3cc991 806px,#7dcc5b 846px,#a5c83e 881px,#b7c531 909px,#c7c12a 951px,#d1bf27 1025px,#d4bf28 100%)"></i><i class="w" style="background:linear-gradient(#e1bc2b 0,#debd29 285px,#d7be28 351px,#c9c129 399px,#b3c534 433px,#91ca4c 462px,#78cc5f 477px,#45cb89 503px,#29c3aa 523px,#07bcbf 536px,#01b9c6 540px,#02b7cb 543px,#19addb 553px,#259ce7 565px,#317dfc 580px,#3e6fff 585px,#4758f8 593px,#4745e9 599px,#4537d5 603px,#3e26a8 609px,#3e26a8 689px,#3e27aa 690px,#4537d6 696px,#4746eb 701px,#465efb 709px,#3d70ff 716px,#317dfc 721px,#21a4e3 743px,#18aedb 751px,#01b7ca 762px,#01b9c6 765px,#09bdbe 770px,#24c1af 780px,#3eca8f 801px,#7acc5d 834px,#a1c840 861px,#b9c431 887px,#cec028 928px,#d8be28 971px,#debd29 1033px,#e1bc2b 100%)"></i><i class="w" style="background:linear-gradient(#ebba31 0,#e7bb2d 306px,#e0bc2a 361px,#d2bf27 405px,#bbc42f 438px,#9ac945 465px,#73cd62 486px,#4dcc82 504px,#3eca8f 511px,#27c2ac 528px,#0abdbd 538px,#01b9c6 543px,#06b5cf 548px,#18aedb 555px,#259ce7 567px,#2f81fa 580px,#3d70ff 586px,#465efb 592px,#4848ec 599px,#4536d4 604px,#3e27ab 609px,#3e26a8 689px,#4434cf 694px,#4744e8 699px,#475cfa 707px,#3c71ff 715px,#307efb 720px,#269ae9 734px,#1babde 746px,#04b6cd 757px,#01b9c7 761px,#06bcc0 765px,#26c2ad 777px,#45cb89 799px,#89cb53 834px,#acc738 859px,#c5c22a 886px,#d7be28 921px,#e2bc2b 966px,#e8bb2e 1028px,#ebba31 100%)"></i><i class="w" style="background:linear-gradient(#f2ba38 0,#efba35 300px,#e8bb2e 361px,#dbbd28 404px,#c4c22a 438px,#b5c533 453px,#9ec942 469px,#7ccc5c 487px,#4fcc81 507px,#3fca8e 514px,#24c1ae 532px,#08bcbe 541px,#01b9c6 545px,#02b7cb 548px,#1aacdd 558px,#22a2e4 565px,#307ffb 582px,#3d70ff 587px,#4758f8 595px,#4747eb 600px,#4435d2 605px,#3e26a8 610px,#3e26a8 688px,#4536d4 694px,#4746eb 699px,#475cfa 706px,#3b72ff 714px,#317dfc 718px,#23a0e5 736px,#1babde 744px,#05b6ce 754px,#01b9c6 759px,#0abdbd 764px,#28c2ab 775px,#44cb89 795px,#89cb53 828px,#aec637 852px,#c7c129 877px,#ddbd29 914px,#e9bb2f 959px,#efba35 1016px,#f2ba38 100%)"></i><i class="w" style="background:linear-gradient(#f4ba39 0,#f1ba36 297px,#eabb30 362px,#dcbd29 408px,#c4c22a 442px,#b4c534 457px,#9fc941 471px,#73cd62 493px,#4fcc81 509px,#3dc990 517px,#23c1af 534px,#01bac5 546px,#02b7cb 549px,#18aedb 558px,#259be8 570px,#2f81fa 582px,#3e70ff 588px,#4660fc 593px,#4849ed 600px,#463adc 604px,#3e27ab 610px,#3e26a8 613px,#3e26a8 687px,#3e27a9 688px,#4435d1 693px,#4742e6 697px,#4758f8 704px,#3c72ff 713px,#317dfc 717px,#259de7 733px,#19addc 744px,#01b8ca 755px,#01b9c7 757px,#04bbc1 760px,#21c1b0 770px,#2bc3a8 775px,#44cb89 793px,#88cb53 825px,#afc636 850px,#c5c22a 870px,#d0bf27 885px,#e1bc2b 918px,#ecba32 966px,#f1ba36 1021px,#f4ba39 100%)"></i><i class="w" style="background:linear-gradient(#f4ba39 0,#f1ba36 298px,#eabb30 363px,#dcbd29 409px,#c5c22a 442px,#a1c840 471px,#81cc59 488px,#4ecc81 510px,#3bc992 519px,#23c1af 535px,#09bcbe 543px,#01bac5 547px,#02b7cb 550px,#16afda 558px,#249ee6 569px,#317dfc 584px,#3f6eff 589px,#4758f8 596px,#4747eb 601px,#4538d8 605px,#3e26a8 611px,#3e26a8 687px,#3e28ac 688px,#4536d3 693px,#4747eb 698px,#4759f9 704px,#3d70ff 712px,#2f80fa 718px,#249ee6 733px,#1babde 742px,#03b7cc 753px,#01bac5 757px,#27c2ac 772px,#44cb8a 792px,#8dcb50 827px,#acc738 847px,#c8c129 873px,#dfbc2a 912px,#eabb30 953px,#f1ba36 1020px,#f4ba39 100%)"></i><i class="w" style="background:linear-gradient(#f4ba39 0,#f1ba36 298px,#eabb30 363px,#ddbd29 407px,#c4c22a 443px,#b3c534 459px,#9ec942 473px,#86cb55 486px,#4dcc82 511px,#3fca8e 517px,#24c1af 535px,#0abdbd 543px,#01b9c7 548px,#07b5d0 553px,#19addc 560px,#259de7 570px,#2f81fa 583px,#3e6fff 589px,#475cfa 595px,#4848ec 601px,#4639d9 605px,#3e26a8 611px,#3e26a8 687px,#4537d5 693px,#4848ec 698px,#465dfb 705px,#3c71ff 712px,#307ffb 717px,#22a2e4 735px,#19addc 743px,#04b6cd 752px,#01b9c6 756px,#09bdbe 761px,#26c2ad 771px,#44cb89 792px,#86cb55 823px,#aec637 848px,#c8c129 873px,#dfbc2a 912px,#eabb30 953px,#f1ba36 1020px,#f4ba39 100%)"></i><i style="width:6px;background:linear-gradient(#f4ba39 0,#f1ba36 298px,#eabb30 363px,#ddbd29 407px,#c5c22a 443px,#a9c73a 466px,#82cc58 488px,#4dcc82 511px,#3cc991 519px,#22c1b0 536px,#08bcbf 544px,#01b9c6 548px,#07b5d0 553px,#19addc 560px,#249fe6 569px,#307ffb 584px,#3e70ff 589px,#475af9 596px,#4745e9 602px,#4433cc 607px,#3e26a8 611px,#3e26a8 687px,#4537d6 693px,#4745e9 697px,#465efb 705px,#3b72ff 712px,#317dfc 716px,#249fe6 733px,#19addc 743px,#02b7cb 753px,#01b9c6 756px,#05bbc1 759px,#28c2ab 772px,#3dc990 788px,#4dcc82 796px,#88cb53 824px,#aec637 848px,#c8c129 873px,#dfbc2a 912px,#eabb30 953px,#f1ba36 1020px,#f4ba39 100%)"></i></div></div>
<div id="cb"></div>
<svg id="ov" width="1791" height="1511" viewBox="0 0 1791 1511">
<path d="M209.1 51.7H1541.5V1331.2H209.1Z" fill="none" stroke="#262626" stroke-width="3.1" stroke-linejoin="miter"/>
<path d="M211 1331.2V1316.7M211 51.7V67M344 1331.2V1316.7M344 51.7V67M477 1331.2V1316.7M477 51.7V67M610 1331.2V1316.7M610 51.7V67M743 1331.2V1316.7M743 51.7V67M876 1331.2V1316.7M876 51.7V67M1009 1331.2V1316.7M1009 51.7V67M1142 1331.2V1316.7M1142 51.7V67M1275 1331.2V1316.7M1275 51.7V67M1408 1331.2V1316.7M1408 51.7V67M1541 1331.2V1316.7M1541 51.7V67M209.1 1330.68H224.8M1541.5 1330.68H1526.3M209.1 1202.93H224.8M1541.5 1202.93H1526.3M209.1 1075.18H224.8M1541.5 1075.18H1526.3M209.1 947.43H224.8M1541.5 947.43H1526.3M209.1 819.68H224.8M1541.5 819.68H1526.3M209.1 691.93H224.8M1541.5 691.93H1526.3M209.1 564.18H224.8M1541.5 564.18H1526.3M209.1 436.43H224.8M1541.5 436.43H1526.3M209.1 308.68H224.8M1541.5 308.68H1526.3M209.1 180.93H224.8M1541.5 180.93H1526.3M209.1 53.18H224.8M1541.5 53.18H1526.3" fill="none" stroke="#262626" stroke-width="2.8"/>
<g fill="none" stroke-linecap="round" stroke-linejoin="round" stroke-width="6.3" stroke-dasharray="44.1 31.5">
<path d="M457 43V675.1H207.55V700.2H457V1334.4H489.45V700.2H1125.3V1334.4" stroke="#fff" stroke-dashoffset="12.85"/>
<path d="M1125.3 1334.4H1158.1V700.2H1542.85V675.1H1158.1V43" stroke="#fff" stroke-dashoffset="38.1"/>
<path d="M1125.3 43V675.1H489.45V43" stroke="#fff" stroke-dashoffset="45.2"/>
</g>
<path d="M1598.45 51.7H1680.6V1331.2H1598.45Z" fill="none" stroke="#262626" stroke-width="3.1"/>
<path d="M1680.6 211.6H1666.9M1680.6 371.6H1666.9M1680.6 531.6H1666.9M1680.6 691.6H1666.9M1680.6 851.6H1666.9M1680.6 1011.6H1666.9M1680.6 1171.6H1666.9" fill="none" stroke="#262626" stroke-width="2.8"/>
<g fill="none" stroke-linecap="round" stroke-linejoin="round" stroke-width="6.3" stroke-dasharray="44.1 31.5">
<path d="M207.55 535.03H1542.85V834.98H207.55V535.03" stroke="#f00" stroke-dashoffset="30.2"/>
</g>
<text transform="scale(0.975 1)" y="1405.6" font-size="54.5"><tspan x="181.47" stroke-width="1.4" dy="7.76" font-size="67.04">−</tspan><tspan x="221.87" dy="-7.76">5</tspan></text>
<text transform="scale(0.975 1)" y="1405.6" font-size="54.5"><tspan x="317.88" stroke-width="1.4" dy="7.76" font-size="67.04">−</tspan><tspan x="358.28" dy="-7.76">4</tspan></text>
<text transform="scale(0.975 1)" y="1405.6" font-size="54.5"><tspan x="454.29" stroke-width="1.4" dy="7.76" font-size="67.04">−</tspan><tspan x="494.69" dy="-7.76">3</tspan></text>
<text transform="scale(0.975 1)" y="1405.6" font-size="54.5"><tspan x="590.7" stroke-width="1.4" dy="7.76" font-size="67.04">−</tspan><tspan x="631.1" dy="-7.76">2</tspan></text>
<text transform="scale(0.975 1)" y="1405.6" font-size="54.5"><tspan x="727.11" stroke-width="1.4" dy="7.76" font-size="67.04">−</tspan><tspan x="767.51" dy="-7.76">1</tspan></text>
<text transform="scale(0.975 1)" y="1405.6" font-size="54.5"><tspan x="882.93">0</tspan></text>
<text transform="scale(0.975 1)" y="1405.6" font-size="54.5"><tspan x="1019.34">1</tspan></text>
<text transform="scale(0.975 1)" y="1405.6" font-size="54.5"><tspan x="1155.75">2</tspan></text>
<text transform="scale(0.975 1)" y="1405.6" font-size="54.5"><tspan x="1292.16">3</tspan></text>
<text transform="scale(0.975 1)" y="1405.6" font-size="54.5"><tspan x="1428.57">4</tspan></text>
<text transform="scale(0.975 1)" y="1405.6" font-size="54.5"><tspan x="1564.98">5</tspan></text>
<text transform="scale(0.975 1)" y="1351.75" font-size="54.5"><tspan x="93.09" stroke-width="1.4" dy="7.34" font-size="66.4">−</tspan><tspan x="133.46 163.61" dy="-7.34">50</tspan></text>
<text transform="scale(0.975 1)" y="1223.87" font-size="54.5"><tspan x="93.09" stroke-width="1.4" dy="7.34" font-size="66.4">−</tspan><tspan x="133.46 163.61" dy="-7.34">40</tspan></text>
<text transform="scale(0.975 1)" y="1096" font-size="54.5"><tspan x="93.09" stroke-width="1.4" dy="7.34" font-size="66.4">−</tspan><tspan x="133.46 163.61" dy="-7.34">30</tspan></text>
<text transform="scale(0.975 1)" y="968.12" font-size="54.5"><tspan x="93.09" stroke-width="1.4" dy="7.34" font-size="66.4">−</tspan><tspan x="133.46 163.61" dy="-7.34">20</tspan></text>
<text transform="scale(0.975 1)" y="840.24" font-size="54.5"><tspan x="93.09" stroke-width="1.4" dy="7.34" font-size="66.4">−</tspan><tspan x="133.46 163.61" dy="-7.34">10</tspan></text>
<text transform="scale(0.975 1)" y="713.07" font-size="54.5"><tspan x="163.61">0</tspan></text>
<text transform="scale(0.975 1)" y="584.49" font-size="54.5"><tspan x="133.46 163.61">10</tspan></text>
<text transform="scale(0.975 1)" y="456.61" font-size="54.5"><tspan x="133.46 163.61">20</tspan></text>
<text transform="scale(0.975 1)" y="328.73" font-size="54.5"><tspan x="133.46 163.61">30</tspan></text>
<text transform="scale(0.975 1)" y="200.86" font-size="54.5"><tspan x="133.46 163.61">40</tspan></text>
<text transform="scale(0.975 1)" y="72.98" font-size="54.5"><tspan x="133.46 163.61">50</tspan></text>
<text transform="scale(0.965 1)" y="71.15" font-size="49.8"><tspan x="1762.83">0</tspan></text>
<text transform="scale(0.965 1)" y="231.15" font-size="49.8"><tspan x="1761.45" dy="2.93" font-size="58.79">-</tspan><tspan x="1779.1" dy="-2.93">5</tspan></text>
<text transform="scale(0.965 1)" y="391.15" font-size="49.8"><tspan x="1761.45" dy="2.93" font-size="58.79">-</tspan><tspan x="1779.1 1806.35" dy="-2.93">10</tspan></text>
<text transform="scale(0.965 1)" y="551.15" font-size="49.8"><tspan x="1761.45" dy="2.93" font-size="58.79">-</tspan><tspan x="1779.1 1806.35" dy="-2.93">15</tspan></text>
<text transform="scale(0.965 1)" y="711.15" font-size="49.8"><tspan x="1761.45" dy="2.93" font-size="58.79">-</tspan><tspan x="1779.1 1806.35" dy="-2.93">20</tspan></text>
<text transform="scale(0.965 1)" y="871.15" font-size="49.8"><tspan x="1761.45" dy="2.93" font-size="58.79">-</tspan><tspan x="1779.1 1806.35" dy="-2.93">25</tspan></text>
<text transform="scale(0.965 1)" y="1031.15" font-size="49.8"><tspan x="1761.45" dy="2.93" font-size="58.79">-</tspan><tspan x="1779.1 1806.35" dy="-2.93">30</tspan></text>
<text transform="scale(0.965 1)" y="1191.15" font-size="49.8"><tspan x="1761.45" dy="2.93" font-size="58.79">-</tspan><tspan x="1779.1 1806.35" dy="-2.93">35</tspan></text>
<text transform="scale(0.965 1)" y="1351.15" font-size="49.8"><tspan x="1761.45" dy="2.93" font-size="58.79">-</tspan><tspan x="1779.1 1806.35" dy="-2.93">40</tspan></text>
<text y="1481.3" font-size="58"><tspan x="686.74">azimuth </tspan><tspan x="907.08" stroke-width="1" dy="8.34" font-size="72.37">−</tspan><tspan x="950.51" dy="-8.34"> deg</tspan></text>
<text transform="translate(60.4 872) rotate(-90)" y="0" font-size="59"><tspan x="0">velocity </tspan><tspan x="210.57" stroke-width="1" dy="6" font-size="68.66">−</tspan><tspan x="250.81" dy="-6"> m/s</tspan></text>
</svg>
</div>
</body></html>
